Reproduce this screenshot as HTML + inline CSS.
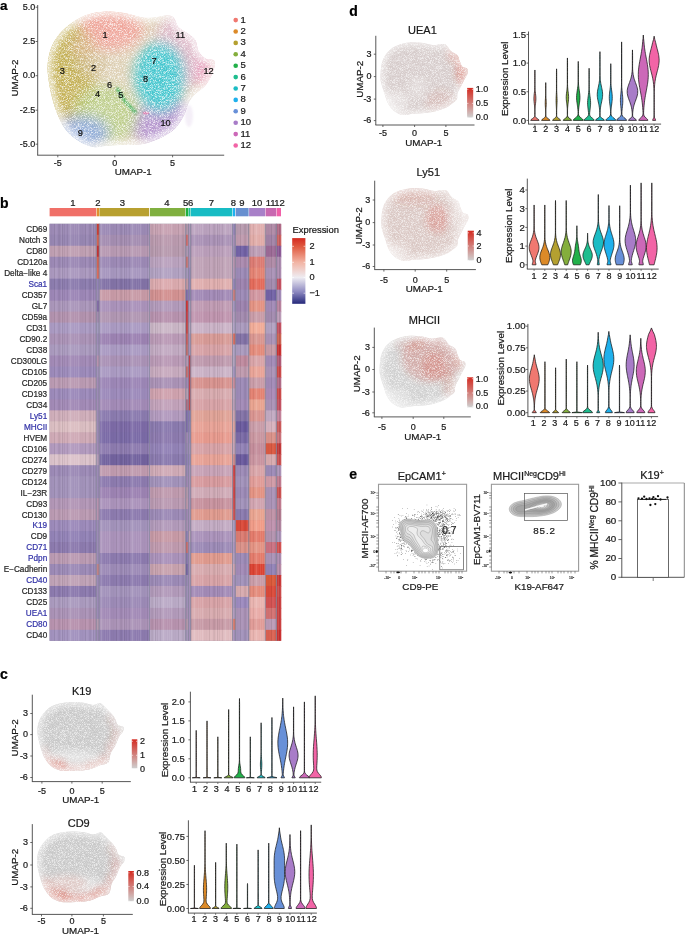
<!DOCTYPE html>
<html><head><meta charset="utf-8"><title>Figure</title>
<style>
html,body{margin:0;padding:0;background:#fff;}
body{width:685px;height:934px;overflow:hidden;}
svg{display:block;font-family:"Liberation Sans", sans-serif;will-change:transform;}
</style></head><body>
<svg width="685" height="934" viewBox="0 0 685 934">
<defs>
<filter id="blur6" x="-50%" y="-50%" width="200%" height="200%"><feGaussianBlur stdDeviation="6"/></filter>
<filter id="blur3" x="-50%" y="-50%" width="200%" height="200%"><feGaussianBlur stdDeviation="3"/></filter>
<filter id="blur1" x="-50%" y="-50%" width="200%" height="200%"><feGaussianBlur stdDeviation="0.8"/></filter>
<filter id="speck" x="0" y="0" width="100%" height="100%" filterUnits="userSpaceOnUse">
 <feTurbulence type="fractalNoise" baseFrequency="1.5" numOctaves="1" seed="7" result="n"/>
 <feColorMatrix in="n" type="matrix" values="0 0 0 0 0  0 0 0 0 0  0 0 0 0 0  4 0 0 0 -1.7" result="m"/>
 <feComposite in="SourceGraphic" in2="m" operator="in"/>
</filter>
<pattern id="stripes" width="31" height="10" patternUnits="userSpaceOnUse"><rect x="0.0" y="0" width="0.9" height="10" fill="#000" opacity="0.15"/><rect x="2.4" y="0" width="0.5" height="10" fill="#000" opacity="0.15"/><rect x="3.5" y="0" width="0.5" height="10" fill="#fff" opacity="0.11"/><rect x="5.0" y="0" width="0.7" height="10" fill="#000" opacity="0.12"/><rect x="6.7" y="0" width="0.5" height="10" fill="#fff" opacity="0.19"/><rect x="7.7" y="0" width="1.2" height="10" fill="#fff" opacity="0.29"/><rect x="9.3" y="0" width="1.2" height="10" fill="#fff" opacity="0.12"/><rect x="12.1" y="0" width="0.5" height="10" fill="#fff" opacity="0.29"/><rect x="14.1" y="0" width="0.7" height="10" fill="#fff" opacity="0.16"/><rect x="16.4" y="0" width="0.7" height="10" fill="#fff" opacity="0.33"/><rect x="18.3" y="0" width="1.2" height="10" fill="#000" opacity="0.05"/><rect x="20.3" y="0" width="0.7" height="10" fill="#000" opacity="0.06"/><rect x="21.7" y="0" width="0.5" height="10" fill="#000" opacity="0.06"/><rect x="23.0" y="0" width="0.9" height="10" fill="#000" opacity="0.14"/><rect x="24.4" y="0" width="1.2" height="10" fill="#fff" opacity="0.10"/><rect x="27.2" y="0" width="0.5" height="10" fill="#000" opacity="0.16"/><rect x="28.0" y="0" width="1.2" height="10" fill="#000" opacity="0.10"/><rect x="30.6" y="0" width="1.2" height="10" fill="#fff" opacity="0.27"/></pattern>
<linearGradient id="hmleg" x1="0" y1="0" x2="0" y2="1">
 <stop offset="0" stop-color="#d42a20"/>
 <stop offset="0.13" stop-color="#e05a40"/>
 <stop offset="0.37" stop-color="#f2b4a4"/>
 <stop offset="0.6" stop-color="#eeecf2"/>
 <stop offset="0.82" stop-color="#8c88c0"/>
 <stop offset="1" stop-color="#25287a"/>
</linearGradient>
<linearGradient id="fleg" x1="0" y1="0" x2="0" y2="1">
 <stop offset="0" stop-color="#d42a20"/>
 <stop offset="1" stop-color="#cfcfcf"/>
</linearGradient>
</defs>
<rect width="685" height="934" fill="#fff"/>
<text x="0" y="9.8" font-size="13.5" text-anchor="start" fill="#000" font-weight="bold" stroke="#000" stroke-width="0.22">a</text>
<clipPath id="clipA"><path d="M47.7,72C47.28,66.17 47.78,62.33 48.5,58C49.22,53.67 50.42,49.67 52,46C53.58,42.33 55.67,39.08 58,36C60.33,32.92 62.4,30.5 66,27.5C69.6,24.5 75.02,20.42 79.6,18C84.18,15.58 88.43,14.08 93.5,13C98.57,11.92 104.45,11.42 110,11.5C115.55,11.58 121.3,12.5 126.8,13.5C132.3,14.5 137.97,16.92 143,17.5C148.03,18.08 152.95,17.37 157,17C161.05,16.63 164.5,15.18 167.3,15.3C170.1,15.42 171.92,15.7 173.8,17.7C175.68,19.7 176.2,24.62 178.6,27.3C181,29.98 185.4,31.65 188.2,33.8C191,35.95 193.65,37.27 195.4,40.2C197.15,43.13 196.95,48.32 198.7,51.4C200.45,54.48 203.37,57.22 205.9,58.7C208.43,60.18 212.5,58.83 213.9,60.3C215.3,61.77 214.83,64.7 214.3,67.5C213.77,70.3 212.37,73.88 210.7,77.1C209.03,80.32 206.98,83.85 204.3,86.8C201.62,89.75 197.23,92.1 194.6,94.8C191.97,97.5 190.1,99.97 188.5,103C186.9,106.03 186.42,109.83 185,113C183.58,116.17 182.15,119 180,122C177.85,125 176.08,128.03 172.1,131C168.12,133.97 161.45,137.53 156.1,139.8C150.75,142.07 146.02,143.73 140,144.6C133.98,145.47 125.83,144.77 120,145C114.17,145.23 109.42,145.67 105,146C100.58,146.33 97.73,147.75 93.5,147C89.27,146.25 84.18,144.33 79.6,141.5C75.02,138.67 69.77,134.75 66,130C62.23,125.25 59.5,119.17 57,113C54.5,106.83 52.55,99.83 51,93C49.45,86.17 48.12,77.83 47.7,72Z"/></clipPath>
<g clip-path="url(#clipA)">
<path d="M47.7,72C47.28,66.17 47.78,62.33 48.5,58C49.22,53.67 50.42,49.67 52,46C53.58,42.33 55.67,39.08 58,36C60.33,32.92 62.4,30.5 66,27.5C69.6,24.5 75.02,20.42 79.6,18C84.18,15.58 88.43,14.08 93.5,13C98.57,11.92 104.45,11.42 110,11.5C115.55,11.58 121.3,12.5 126.8,13.5C132.3,14.5 137.97,16.92 143,17.5C148.03,18.08 152.95,17.37 157,17C161.05,16.63 164.5,15.18 167.3,15.3C170.1,15.42 171.92,15.7 173.8,17.7C175.68,19.7 176.2,24.62 178.6,27.3C181,29.98 185.4,31.65 188.2,33.8C191,35.95 193.65,37.27 195.4,40.2C197.15,43.13 196.95,48.32 198.7,51.4C200.45,54.48 203.37,57.22 205.9,58.7C208.43,60.18 212.5,58.83 213.9,60.3C215.3,61.77 214.83,64.7 214.3,67.5C213.77,70.3 212.37,73.88 210.7,77.1C209.03,80.32 206.98,83.85 204.3,86.8C201.62,89.75 197.23,92.1 194.6,94.8C191.97,97.5 190.1,99.97 188.5,103C186.9,106.03 186.42,109.83 185,113C183.58,116.17 182.15,119 180,122C177.85,125 176.08,128.03 172.1,131C168.12,133.97 161.45,137.53 156.1,139.8C150.75,142.07 146.02,143.73 140,144.6C133.98,145.47 125.83,144.77 120,145C114.17,145.23 109.42,145.67 105,146C100.58,146.33 97.73,147.75 93.5,147C89.27,146.25 84.18,144.33 79.6,141.5C75.02,138.67 69.77,134.75 66,130C62.23,125.25 59.5,119.17 57,113C54.5,106.83 52.55,99.83 51,93C49.45,86.17 48.12,77.83 47.7,72Z" fill="#d8c8a8"/>
<g filter="url(#blur6)">
<ellipse cx="182" cy="50" rx="28" ry="40" fill="#d898cc" opacity="0.6"/>
<ellipse cx="207" cy="72" rx="11" ry="17" fill="#f07cb0" opacity="0.6"/>
<ellipse cx="168" cy="125" rx="36" ry="25" fill="#a47cc8" opacity="0.92"/>
<ellipse cx="110" cy="29" rx="34" ry="21" fill="#f08a80" opacity="0.85"/>
<ellipse cx="66" cy="74" rx="30" ry="54" fill="#b8a030" opacity="1.0"/>
<ellipse cx="93" cy="64" rx="14" ry="12" fill="#c8b080" opacity="0.8"/>
<ellipse cx="84" cy="46" rx="13" ry="11" fill="#d4a878" opacity="0.8"/>
<ellipse cx="106" cy="114" rx="33" ry="29" fill="#a6c468" opacity="0.78"/>
<ellipse cx="82" cy="133" rx="27" ry="17" fill="#7898dc" opacity="0.88"/>
<ellipse cx="160" cy="77" rx="26" ry="36" fill="#22bcc6" opacity="1.0"/>
</g>
<path d="M117,88 L124,100 L136,113" stroke="#16a040" stroke-width="2.8" fill="none" opacity="0.9" filter="url(#blur1)"/>
<ellipse cx="146" cy="113" rx="3" ry="1.5" fill="#e0609c" opacity="0.8"/>
<path d="M47.7,72C47.28,66.17 47.78,62.33 48.5,58C49.22,53.67 50.42,49.67 52,46C53.58,42.33 55.67,39.08 58,36C60.33,32.92 62.4,30.5 66,27.5C69.6,24.5 75.02,20.42 79.6,18C84.18,15.58 88.43,14.08 93.5,13C98.57,11.92 104.45,11.42 110,11.5C115.55,11.58 121.3,12.5 126.8,13.5C132.3,14.5 137.97,16.92 143,17.5C148.03,18.08 152.95,17.37 157,17C161.05,16.63 164.5,15.18 167.3,15.3C170.1,15.42 171.92,15.7 173.8,17.7C175.68,19.7 176.2,24.62 178.6,27.3C181,29.98 185.4,31.65 188.2,33.8C191,35.95 193.65,37.27 195.4,40.2C197.15,43.13 196.95,48.32 198.7,51.4C200.45,54.48 203.37,57.22 205.9,58.7C208.43,60.18 212.5,58.83 213.9,60.3C215.3,61.77 214.83,64.7 214.3,67.5C213.77,70.3 212.37,73.88 210.7,77.1C209.03,80.32 206.98,83.85 204.3,86.8C201.62,89.75 197.23,92.1 194.6,94.8C191.97,97.5 190.1,99.97 188.5,103C186.9,106.03 186.42,109.83 185,113C183.58,116.17 182.15,119 180,122C177.85,125 176.08,128.03 172.1,131C168.12,133.97 161.45,137.53 156.1,139.8C150.75,142.07 146.02,143.73 140,144.6C133.98,145.47 125.83,144.77 120,145C114.17,145.23 109.42,145.67 105,146C100.58,146.33 97.73,147.75 93.5,147C89.27,146.25 84.18,144.33 79.6,141.5C75.02,138.67 69.77,134.75 66,130C62.23,125.25 59.5,119.17 57,113C54.5,106.83 52.55,99.83 51,93C49.45,86.17 48.12,77.83 47.7,72Z" fill="#fff" opacity="0.17"/>
<path d="M47.7,72C47.28,66.17 47.78,62.33 48.5,58C49.22,53.67 50.42,49.67 52,46C53.58,42.33 55.67,39.08 58,36C60.33,32.92 62.4,30.5 66,27.5C69.6,24.5 75.02,20.42 79.6,18C84.18,15.58 88.43,14.08 93.5,13C98.57,11.92 104.45,11.42 110,11.5C115.55,11.58 121.3,12.5 126.8,13.5C132.3,14.5 137.97,16.92 143,17.5C148.03,18.08 152.95,17.37 157,17C161.05,16.63 164.5,15.18 167.3,15.3C170.1,15.42 171.92,15.7 173.8,17.7C175.68,19.7 176.2,24.62 178.6,27.3C181,29.98 185.4,31.65 188.2,33.8C191,35.95 193.65,37.27 195.4,40.2C197.15,43.13 196.95,48.32 198.7,51.4C200.45,54.48 203.37,57.22 205.9,58.7C208.43,60.18 212.5,58.83 213.9,60.3C215.3,61.77 214.83,64.7 214.3,67.5C213.77,70.3 212.37,73.88 210.7,77.1C209.03,80.32 206.98,83.85 204.3,86.8C201.62,89.75 197.23,92.1 194.6,94.8C191.97,97.5 190.1,99.97 188.5,103C186.9,106.03 186.42,109.83 185,113C183.58,116.17 182.15,119 180,122C177.85,125 176.08,128.03 172.1,131C168.12,133.97 161.45,137.53 156.1,139.8C150.75,142.07 146.02,143.73 140,144.6C133.98,145.47 125.83,144.77 120,145C114.17,145.23 109.42,145.67 105,146C100.58,146.33 97.73,147.75 93.5,147C89.27,146.25 84.18,144.33 79.6,141.5C75.02,138.67 69.77,134.75 66,130C62.23,125.25 59.5,119.17 57,113C54.5,106.83 52.55,99.83 51,93C49.45,86.17 48.12,77.83 47.7,72Z" fill="none" stroke="#fff" stroke-width="9" opacity="0.7" filter="url(#blur3)"/>
</g>
<ellipse cx="189" cy="116" rx="4" ry="11" fill="#c8a8d8" opacity="0.18" filter="url(#blur1)"/>
<path d="M47.7,72C47.28,66.17 47.78,62.33 48.5,58C49.22,53.67 50.42,49.67 52,46C53.58,42.33 55.67,39.08 58,36C60.33,32.92 62.4,30.5 66,27.5C69.6,24.5 75.02,20.42 79.6,18C84.18,15.58 88.43,14.08 93.5,13C98.57,11.92 104.45,11.42 110,11.5C115.55,11.58 121.3,12.5 126.8,13.5C132.3,14.5 137.97,16.92 143,17.5C148.03,18.08 152.95,17.37 157,17C161.05,16.63 164.5,15.18 167.3,15.3C170.1,15.42 171.92,15.7 173.8,17.7C175.68,19.7 176.2,24.62 178.6,27.3C181,29.98 185.4,31.65 188.2,33.8C191,35.95 193.65,37.27 195.4,40.2C197.15,43.13 196.95,48.32 198.7,51.4C200.45,54.48 203.37,57.22 205.9,58.7C208.43,60.18 212.5,58.83 213.9,60.3C215.3,61.77 214.83,64.7 214.3,67.5C213.77,70.3 212.37,73.88 210.7,77.1C209.03,80.32 206.98,83.85 204.3,86.8C201.62,89.75 197.23,92.1 194.6,94.8C191.97,97.5 190.1,99.97 188.5,103C186.9,106.03 186.42,109.83 185,113C183.58,116.17 182.15,119 180,122C177.85,125 176.08,128.03 172.1,131C168.12,133.97 161.45,137.53 156.1,139.8C150.75,142.07 146.02,143.73 140,144.6C133.98,145.47 125.83,144.77 120,145C114.17,145.23 109.42,145.67 105,146C100.58,146.33 97.73,147.75 93.5,147C89.27,146.25 84.18,144.33 79.6,141.5C75.02,138.67 69.77,134.75 66,130C62.23,125.25 59.5,119.17 57,113C54.5,106.83 52.55,99.83 51,93C49.45,86.17 48.12,77.83 47.7,72Z" fill="#fff" filter="url(#speck)" opacity="0.7"/>
<text x="105.1" y="38.3" font-size="9.2" text-anchor="middle" fill="#111" stroke="#111" stroke-width="0.22">1</text>
<text x="93.5" y="70.8" font-size="9.2" text-anchor="middle" fill="#111" stroke="#111" stroke-width="0.22">2</text>
<text x="62.4" y="74.4" font-size="9.2" text-anchor="middle" fill="#111" stroke="#111" stroke-width="0.22">3</text>
<text x="97.6" y="97.1" font-size="9.2" text-anchor="middle" fill="#111" stroke="#111" stroke-width="0.22">4</text>
<text x="120.7" y="97.9" font-size="9.2" text-anchor="middle" fill="#111" stroke="#111" stroke-width="0.22">5</text>
<text x="109.6" y="88.2" font-size="9.2" text-anchor="middle" fill="#111" stroke="#111" stroke-width="0.22">6</text>
<text x="154" y="64.4" font-size="9.2" text-anchor="middle" fill="#111" stroke="#111" stroke-width="0.22">7</text>
<text x="145.6" y="81.9" font-size="9.2" text-anchor="middle" fill="#111" stroke="#111" stroke-width="0.22">8</text>
<text x="80.4" y="135.9" font-size="9.2" text-anchor="middle" fill="#111" stroke="#111" stroke-width="0.22">9</text>
<text x="165.6" y="125.7" font-size="9.2" text-anchor="middle" fill="#111" stroke="#111" stroke-width="0.22">10</text>
<text x="180.3" y="38" font-size="9.2" text-anchor="middle" fill="#111" stroke="#111" stroke-width="0.22">11</text>
<text x="208.6" y="73.5" font-size="9.2" text-anchor="middle" fill="#111" stroke="#111" stroke-width="0.22">12</text>
<line x1="37.7" y1="5" x2="37.7" y2="155.2" stroke="#444" stroke-width="0.9"/>
<line x1="37.2" y1="155.2" x2="224.2" y2="155.2" stroke="#444" stroke-width="0.9"/>
<line x1="35.6" y1="7.2" x2="37.7" y2="7.2" stroke="#444" stroke-width="0.8"/>
<text x="35.2" y="9.9" font-size="9" text-anchor="end" fill="#1a1a1a" stroke="#1a1a1a" stroke-width="0.22">5.0</text>
<line x1="35.6" y1="41.5" x2="37.7" y2="41.5" stroke="#444" stroke-width="0.8"/>
<text x="35.2" y="44.2" font-size="9" text-anchor="end" fill="#1a1a1a" stroke="#1a1a1a" stroke-width="0.22">2.5</text>
<line x1="35.6" y1="75.7" x2="37.7" y2="75.7" stroke="#444" stroke-width="0.8"/>
<text x="35.2" y="78.4" font-size="9" text-anchor="end" fill="#1a1a1a" stroke="#1a1a1a" stroke-width="0.22">0.0</text>
<line x1="35.6" y1="110.2" x2="37.7" y2="110.2" stroke="#444" stroke-width="0.8"/>
<text x="35.2" y="112.9" font-size="9" text-anchor="end" fill="#1a1a1a" stroke="#1a1a1a" stroke-width="0.22">-2.5</text>
<line x1="35.6" y1="144.2" x2="37.7" y2="144.2" stroke="#444" stroke-width="0.8"/>
<text x="35.2" y="146.9" font-size="9" text-anchor="end" fill="#1a1a1a" stroke="#1a1a1a" stroke-width="0.22">-5.0</text>
<line x1="57.8" y1="155.2" x2="57.8" y2="157.3" stroke="#444" stroke-width="0.8"/>
<text x="57.8" y="166.2" font-size="9" text-anchor="middle" fill="#1a1a1a" stroke="#1a1a1a" stroke-width="0.22">-5</text>
<line x1="114.8" y1="155.2" x2="114.8" y2="157.3" stroke="#444" stroke-width="0.8"/>
<text x="114.8" y="166.2" font-size="9" text-anchor="middle" fill="#1a1a1a" stroke="#1a1a1a" stroke-width="0.22">0</text>
<line x1="172.6" y1="155.2" x2="172.6" y2="157.3" stroke="#444" stroke-width="0.8"/>
<text x="172.6" y="166.2" font-size="9" text-anchor="middle" fill="#1a1a1a" stroke="#1a1a1a" stroke-width="0.22">5</text>
<text x="133.2" y="174.8" font-size="9.8" text-anchor="middle" fill="#1a1a1a" stroke="#1a1a1a" stroke-width="0.22">UMAP-1</text>
<text x="17.5" y="78" font-size="9.8" text-anchor="middle" fill="#1a1a1a" transform="rotate(-90 17.5 78)" stroke="#1a1a1a" stroke-width="0.22">UMAP-2</text>
<circle cx="235.7" cy="20.1" r="2.3" fill="#f07870"/>
<text x="240.4" y="22.6" font-size="9.5" text-anchor="start" fill="#1a1a1a" stroke="#1a1a1a" stroke-width="0.22">1</text>
<circle cx="235.7" cy="31.5" r="2.3" fill="#dc8a28"/>
<text x="240.4" y="34" font-size="9.5" text-anchor="start" fill="#1a1a1a" stroke="#1a1a1a" stroke-width="0.22">2</text>
<circle cx="235.7" cy="42.9" r="2.3" fill="#b4a030"/>
<text x="240.4" y="45.4" font-size="9.5" text-anchor="start" fill="#1a1a1a" stroke="#1a1a1a" stroke-width="0.22">3</text>
<circle cx="235.7" cy="54.3" r="2.3" fill="#84ae3c"/>
<text x="240.4" y="56.8" font-size="9.5" text-anchor="start" fill="#1a1a1a" stroke="#1a1a1a" stroke-width="0.22">4</text>
<circle cx="235.7" cy="65.7" r="2.3" fill="#22b04a"/>
<text x="240.4" y="68.2" font-size="9.5" text-anchor="start" fill="#1a1a1a" stroke="#1a1a1a" stroke-width="0.22">5</text>
<circle cx="235.7" cy="77.1" r="2.3" fill="#1ebd8e"/>
<text x="240.4" y="79.6" font-size="9.5" text-anchor="start" fill="#1a1a1a" stroke="#1a1a1a" stroke-width="0.22">6</text>
<circle cx="235.7" cy="88.5" r="2.3" fill="#1bbcc4"/>
<text x="240.4" y="91" font-size="9.5" text-anchor="start" fill="#1a1a1a" stroke="#1a1a1a" stroke-width="0.22">7</text>
<circle cx="235.7" cy="99.9" r="2.3" fill="#1fb0ec"/>
<text x="240.4" y="102.4" font-size="9.5" text-anchor="start" fill="#1a1a1a" stroke="#1a1a1a" stroke-width="0.22">8</text>
<circle cx="235.7" cy="111.3" r="2.3" fill="#6890d8"/>
<text x="240.4" y="113.8" font-size="9.5" text-anchor="start" fill="#1a1a1a" stroke="#1a1a1a" stroke-width="0.22">9</text>
<circle cx="235.7" cy="122.7" r="2.3" fill="#a87cc8"/>
<text x="240.4" y="125.2" font-size="9.5" text-anchor="start" fill="#1a1a1a" stroke="#1a1a1a" stroke-width="0.22">10</text>
<circle cx="235.7" cy="134.1" r="2.3" fill="#cc68b8"/>
<text x="240.4" y="136.6" font-size="9.5" text-anchor="start" fill="#1a1a1a" stroke="#1a1a1a" stroke-width="0.22">11</text>
<circle cx="235.7" cy="145.5" r="2.3" fill="#f264a6"/>
<text x="240.4" y="148" font-size="9.5" text-anchor="start" fill="#1a1a1a" stroke="#1a1a1a" stroke-width="0.22">12</text>
<text x="0" y="208.4" font-size="14" text-anchor="start" fill="#000" font-weight="bold" stroke="#000" stroke-width="0.22">b</text>
<rect x="49.6" y="208" width="46.5" height="8.3" fill="#f07068"/>
<rect x="96.6" y="208" width="2.4" height="8.3" fill="#e09030"/>
<rect x="99.4" y="208" width="49.8" height="8.3" fill="#b8a030"/>
<rect x="150" y="208" width="35.3" height="8.3" fill="#80b040"/>
<rect x="185.8" y="208" width="2.4" height="8.3" fill="#20b040"/>
<rect x="188.5" y="208" width="1.9" height="8.3" fill="#20c090"/>
<rect x="190.8" y="208" width="41.5" height="8.3" fill="#18bcc4"/>
<rect x="232.8" y="208" width="2.2" height="8.3" fill="#20b0f0"/>
<rect x="235.6" y="208" width="13" height="8.3" fill="#6890d0"/>
<rect x="249.1" y="208" width="15.9" height="8.3" fill="#a880c8"/>
<rect x="265.5" y="208" width="10.7" height="8.3" fill="#c868b0"/>
<rect x="276.6" y="208" width="4.4" height="8.3" fill="#f060a8"/>
<text x="72.9" y="205.9" font-size="9.5" text-anchor="middle" fill="#1a1a1a" stroke="#1a1a1a" stroke-width="0.22">1</text>
<text x="97.8" y="205.9" font-size="9.5" text-anchor="middle" fill="#1a1a1a" stroke="#1a1a1a" stroke-width="0.22">2</text>
<text x="122.5" y="205.9" font-size="9.5" text-anchor="middle" fill="#1a1a1a" stroke="#1a1a1a" stroke-width="0.22">3</text>
<text x="166.8" y="205.9" font-size="9.5" text-anchor="middle" fill="#1a1a1a" stroke="#1a1a1a" stroke-width="0.22">4</text>
<text x="185.6" y="205.9" font-size="9.5" text-anchor="middle" fill="#1a1a1a" stroke="#1a1a1a" stroke-width="0.22">5</text>
<text x="190.6" y="205.9" font-size="9.5" text-anchor="middle" fill="#1a1a1a" stroke="#1a1a1a" stroke-width="0.22">6</text>
<text x="211.5" y="205.9" font-size="9.5" text-anchor="middle" fill="#1a1a1a" stroke="#1a1a1a" stroke-width="0.22">7</text>
<text x="233.4" y="205.9" font-size="9.5" text-anchor="middle" fill="#1a1a1a" stroke="#1a1a1a" stroke-width="0.22">8</text>
<text x="242" y="205.9" font-size="9.5" text-anchor="middle" fill="#1a1a1a" stroke="#1a1a1a" stroke-width="0.22">9</text>
<text x="257" y="205.9" font-size="9.5" text-anchor="middle" fill="#1a1a1a" stroke="#1a1a1a" stroke-width="0.22">10</text>
<text x="270.6" y="205.9" font-size="9.5" text-anchor="middle" fill="#1a1a1a" stroke="#1a1a1a" stroke-width="0.22">11</text>
<text x="279.6" y="205.9" font-size="9.5" text-anchor="middle" fill="#1a1a1a" stroke="#1a1a1a" stroke-width="0.22">12</text>
<rect x="49.6" y="223.8" width="231.4" height="417.01" fill="#8e8c9c"/>
<rect x="49.6" y="223.8" width="47.3" height="11.57" fill="#9d8bb6"/>
<rect x="96.6" y="223.8" width="3.1" height="11.57" fill="#cb3c32"/>
<rect x="99.4" y="223.8" width="50.9" height="11.57" fill="#9d8bb6"/>
<rect x="150" y="223.8" width="36.1" height="11.57" fill="#c8a3b3"/>
<rect x="185.8" y="223.8" width="3" height="11.57" fill="#b89baf"/>
<rect x="188.5" y="223.8" width="2.6" height="11.57" fill="#ab93b7"/>
<rect x="190.8" y="223.8" width="42.3" height="11.57" fill="#bba3bf"/>
<rect x="232.8" y="223.8" width="3.1" height="11.57" fill="#8d7baf"/>
<rect x="235.6" y="223.8" width="13.8" height="11.57" fill="#b89baf"/>
<rect x="249.1" y="223.8" width="16.7" height="11.57" fill="#e0afaf"/>
<rect x="265.5" y="223.8" width="11.4" height="11.57" fill="#b08ba7"/>
<rect x="276.6" y="223.8" width="4.7" height="11.57" fill="#b06b87"/>
<text x="47.2" y="232.19" font-size="8.2" text-anchor="end" fill="#2a2a2a" stroke="#2a2a2a" stroke-width="0.22">CD69</text>
<rect x="49.6" y="234.77" width="47.3" height="11.57" fill="#9887b3"/>
<rect x="96.6" y="234.77" width="3.1" height="11.57" fill="#d36252"/>
<rect x="99.4" y="234.77" width="50.9" height="11.57" fill="#a58eb2"/>
<rect x="150" y="234.77" width="36.1" height="11.57" fill="#bb9baf"/>
<rect x="185.8" y="234.77" width="3" height="11.57" fill="#d37272"/>
<rect x="188.5" y="234.77" width="2.6" height="11.57" fill="#ab93b7"/>
<rect x="190.8" y="234.77" width="42.3" height="11.57" fill="#ab93b7"/>
<rect x="232.8" y="234.77" width="3.1" height="11.57" fill="#9d83af"/>
<rect x="235.6" y="234.77" width="13.8" height="11.57" fill="#c09baf"/>
<rect x="249.1" y="234.77" width="16.7" height="11.57" fill="#e0aba7"/>
<rect x="265.5" y="234.77" width="11.4" height="11.57" fill="#a383a7"/>
<rect x="276.6" y="234.77" width="4.7" height="11.57" fill="#cb6262"/>
<text x="47.2" y="243.16" font-size="8.2" text-anchor="end" fill="#2a2a2a" stroke="#2a2a2a" stroke-width="0.22">Notch 3</text>
<rect x="49.6" y="245.75" width="47.3" height="11.57" fill="#c0a0b3"/>
<rect x="96.6" y="245.75" width="3.1" height="11.57" fill="#c33232"/>
<rect x="99.4" y="245.75" width="50.9" height="11.57" fill="#b89ab3"/>
<rect x="150" y="245.75" width="36.1" height="11.57" fill="#b89baf"/>
<rect x="185.8" y="245.75" width="3" height="11.57" fill="#b39bb7"/>
<rect x="188.5" y="245.75" width="2.6" height="11.57" fill="#a38bb7"/>
<rect x="190.8" y="245.75" width="42.3" height="11.57" fill="#bb9fbb"/>
<rect x="232.8" y="245.75" width="3.1" height="11.57" fill="#9383af"/>
<rect x="235.6" y="245.75" width="13.8" height="11.57" fill="#7363a7"/>
<rect x="249.1" y="245.75" width="16.7" height="11.57" fill="#bb9bb3"/>
<rect x="265.5" y="245.75" width="11.4" height="11.57" fill="#9d6b97"/>
<rect x="276.6" y="245.75" width="4.7" height="11.57" fill="#8d5b97"/>
<text x="47.2" y="254.14" font-size="8.2" text-anchor="end" fill="#2a2a2a" stroke="#2a2a2a" stroke-width="0.22">CD80</text>
<rect x="49.6" y="256.72" width="47.3" height="11.57" fill="#9d8ab6"/>
<rect x="96.6" y="256.72" width="3.1" height="11.57" fill="#d36252"/>
<rect x="99.4" y="256.72" width="50.9" height="11.57" fill="#9d8ab6"/>
<rect x="150" y="256.72" width="36.1" height="11.57" fill="#bba3bf"/>
<rect x="185.8" y="256.72" width="3" height="11.57" fill="#cb7a7a"/>
<rect x="188.5" y="256.72" width="2.6" height="11.57" fill="#a38bb7"/>
<rect x="190.8" y="256.72" width="42.3" height="11.57" fill="#c0a3b7"/>
<rect x="232.8" y="256.72" width="3.1" height="11.57" fill="#b08ba7"/>
<rect x="235.6" y="256.72" width="13.8" height="11.57" fill="#ab8baf"/>
<rect x="249.1" y="256.72" width="16.7" height="11.57" fill="#db7a72"/>
<rect x="265.5" y="256.72" width="11.4" height="11.57" fill="#b08ba7"/>
<rect x="276.6" y="256.72" width="4.7" height="11.57" fill="#ab8baf"/>
<text x="47.2" y="265.11" font-size="8.2" text-anchor="end" fill="#2a2a2a" stroke="#2a2a2a" stroke-width="0.22">CD120a</text>
<rect x="49.6" y="267.7" width="47.3" height="11.57" fill="#ab99bf"/>
<rect x="96.6" y="267.7" width="3.1" height="11.57" fill="#db6c5c"/>
<rect x="99.4" y="267.7" width="50.9" height="11.57" fill="#a797bf"/>
<rect x="150" y="267.7" width="36.1" height="11.57" fill="#b3a3c3"/>
<rect x="185.8" y="267.7" width="3" height="11.57" fill="#ab9bbf"/>
<rect x="188.5" y="267.7" width="2.6" height="11.57" fill="#9383b7"/>
<rect x="190.8" y="267.7" width="42.3" height="11.57" fill="#c0a3b7"/>
<rect x="232.8" y="267.7" width="3.1" height="11.57" fill="#ab8baf"/>
<rect x="235.6" y="267.7" width="13.8" height="11.57" fill="#9d8bb7"/>
<rect x="249.1" y="267.7" width="16.7" height="11.57" fill="#e38272"/>
<rect x="265.5" y="267.7" width="11.4" height="11.57" fill="#ab93b7"/>
<rect x="276.6" y="267.7" width="4.7" height="11.57" fill="#ab8baf"/>
<text x="47.2" y="276.08" font-size="8.2" text-anchor="end" fill="#2a2a2a" stroke="#2a2a2a" stroke-width="0.22">Delta−like 4</text>
<rect x="49.6" y="278.67" width="47.3" height="11.57" fill="#8d7daf"/>
<rect x="96.6" y="278.67" width="3.1" height="11.57" fill="#9383b7"/>
<rect x="99.4" y="278.67" width="50.9" height="11.57" fill="#8373a7"/>
<rect x="150" y="278.67" width="36.1" height="11.57" fill="#dcabaf"/>
<rect x="185.8" y="278.67" width="3" height="11.57" fill="#c89ba7"/>
<rect x="188.5" y="278.67" width="2.6" height="11.57" fill="#9383b7"/>
<rect x="190.8" y="278.67" width="42.3" height="11.57" fill="#e0afaf"/>
<rect x="232.8" y="278.67" width="3.1" height="11.57" fill="#8b7baf"/>
<rect x="235.6" y="278.67" width="13.8" height="11.57" fill="#9d83af"/>
<rect x="249.1" y="278.67" width="16.7" height="11.57" fill="#e36a5a"/>
<rect x="265.5" y="278.67" width="11.4" height="11.57" fill="#a38baf"/>
<rect x="276.6" y="278.67" width="4.7" height="11.57" fill="#c35262"/>
<text x="47.2" y="287.06" font-size="8.2" text-anchor="end" fill="#3535a8" stroke="#3535a8" stroke-width="0.22">Sca1</text>
<rect x="49.6" y="289.64" width="47.3" height="11.57" fill="#9d87b7"/>
<rect x="96.6" y="289.64" width="3.1" height="11.57" fill="#9d8bb7"/>
<rect x="99.4" y="289.64" width="50.9" height="11.57" fill="#c89ba7"/>
<rect x="150" y="289.64" width="36.1" height="11.57" fill="#d39292"/>
<rect x="185.8" y="289.64" width="3" height="11.57" fill="#8373af"/>
<rect x="188.5" y="289.64" width="2.6" height="11.57" fill="#8373af"/>
<rect x="190.8" y="289.64" width="42.3" height="11.57" fill="#a38bb7"/>
<rect x="232.8" y="289.64" width="3.1" height="11.57" fill="#c37272"/>
<rect x="235.6" y="289.64" width="13.8" height="11.57" fill="#9d8bb7"/>
<rect x="249.1" y="289.64" width="16.7" height="11.57" fill="#d0959f"/>
<rect x="265.5" y="289.64" width="11.4" height="11.57" fill="#7363a7"/>
<rect x="276.6" y="289.64" width="4.7" height="11.57" fill="#a38bb7"/>
<text x="47.2" y="298.03" font-size="8.2" text-anchor="end" fill="#2a2a2a" stroke="#2a2a2a" stroke-width="0.22">CD357</text>
<rect x="49.6" y="300.62" width="47.3" height="11.57" fill="#ab97bb"/>
<rect x="96.6" y="300.62" width="3.1" height="11.57" fill="#836ba7"/>
<rect x="99.4" y="300.62" width="50.9" height="11.57" fill="#ab93bb"/>
<rect x="150" y="300.62" width="36.1" height="11.57" fill="#b39bbb"/>
<rect x="185.8" y="300.62" width="3" height="11.57" fill="#d33a3a"/>
<rect x="188.5" y="300.62" width="2.6" height="11.57" fill="#ab93b7"/>
<rect x="190.8" y="300.62" width="42.3" height="11.57" fill="#c09bb3"/>
<rect x="232.8" y="300.62" width="3.1" height="11.57" fill="#9d8bb7"/>
<rect x="235.6" y="300.62" width="13.8" height="11.57" fill="#9d83af"/>
<rect x="249.1" y="300.62" width="16.7" height="11.57" fill="#e39282"/>
<rect x="265.5" y="300.62" width="11.4" height="11.57" fill="#a38bb7"/>
<rect x="276.6" y="300.62" width="4.7" height="11.57" fill="#b8839f"/>
<text x="47.2" y="309" font-size="8.2" text-anchor="end" fill="#2a2a2a" stroke="#2a2a2a" stroke-width="0.22">GL7</text>
<rect x="49.6" y="311.59" width="47.3" height="11.57" fill="#b393af"/>
<rect x="96.6" y="311.59" width="3.1" height="11.57" fill="#a38baf"/>
<rect x="99.4" y="311.59" width="50.9" height="11.57" fill="#b197b3"/>
<rect x="150" y="311.59" width="36.1" height="11.57" fill="#b893af"/>
<rect x="185.8" y="311.59" width="3" height="11.57" fill="#cb424a"/>
<rect x="188.5" y="311.59" width="2.6" height="11.57" fill="#a38bb7"/>
<rect x="190.8" y="311.59" width="42.3" height="11.57" fill="#c095af"/>
<rect x="232.8" y="311.59" width="3.1" height="11.57" fill="#ab93b7"/>
<rect x="235.6" y="311.59" width="13.8" height="11.57" fill="#a38baf"/>
<rect x="249.1" y="311.59" width="16.7" height="11.57" fill="#c89ba7"/>
<rect x="265.5" y="311.59" width="11.4" height="11.57" fill="#a38baf"/>
<rect x="276.6" y="311.59" width="4.7" height="11.57" fill="#bb9bb7"/>
<text x="47.2" y="319.98" font-size="8.2" text-anchor="end" fill="#2a2a2a" stroke="#2a2a2a" stroke-width="0.22">CD59a</text>
<rect x="49.6" y="322.57" width="47.3" height="11.57" fill="#ab9bc3"/>
<rect x="96.6" y="322.57" width="3.1" height="11.57" fill="#a39bbf"/>
<rect x="99.4" y="322.57" width="50.9" height="11.57" fill="#ab9bc3"/>
<rect x="150" y="322.57" width="36.1" height="11.57" fill="#cbb7c7"/>
<rect x="185.8" y="322.57" width="3" height="11.57" fill="#cb4a4a"/>
<rect x="188.5" y="322.57" width="2.6" height="11.57" fill="#b39bb7"/>
<rect x="190.8" y="322.57" width="42.3" height="11.57" fill="#cbb3c7"/>
<rect x="232.8" y="322.57" width="3.1" height="11.57" fill="#ab9bbf"/>
<rect x="235.6" y="322.57" width="13.8" height="11.57" fill="#ab9bbf"/>
<rect x="249.1" y="322.57" width="16.7" height="11.57" fill="#f0ab97"/>
<rect x="265.5" y="322.57" width="11.4" height="11.57" fill="#b3a3c3"/>
<rect x="276.6" y="322.57" width="4.7" height="11.57" fill="#c35262"/>
<text x="47.2" y="330.95" font-size="8.2" text-anchor="end" fill="#2a2a2a" stroke="#2a2a2a" stroke-width="0.22">CD31</text>
<rect x="49.6" y="333.54" width="47.3" height="11.57" fill="#ab93b7"/>
<rect x="96.6" y="333.54" width="3.1" height="11.57" fill="#9d8bb7"/>
<rect x="99.4" y="333.54" width="50.9" height="11.57" fill="#9d83b3"/>
<rect x="150" y="333.54" width="36.1" height="11.57" fill="#bb9bb7"/>
<rect x="185.8" y="333.54" width="3" height="11.57" fill="#cb6262"/>
<rect x="188.5" y="333.54" width="2.6" height="11.57" fill="#a38bb7"/>
<rect x="190.8" y="333.54" width="42.3" height="11.57" fill="#d89b97"/>
<rect x="232.8" y="333.54" width="3.1" height="11.57" fill="#d36252"/>
<rect x="235.6" y="333.54" width="13.8" height="11.57" fill="#8373a7"/>
<rect x="249.1" y="333.54" width="16.7" height="11.57" fill="#d8958f"/>
<rect x="265.5" y="333.54" width="11.4" height="11.57" fill="#ab93b7"/>
<rect x="276.6" y="333.54" width="4.7" height="11.57" fill="#cb6252"/>
<text x="47.2" y="341.93" font-size="8.2" text-anchor="end" fill="#2a2a2a" stroke="#2a2a2a" stroke-width="0.22">CD90.2</text>
<rect x="49.6" y="344.51" width="47.3" height="11.57" fill="#ab9bbf"/>
<rect x="96.6" y="344.51" width="3.1" height="11.57" fill="#a393bb"/>
<rect x="99.4" y="344.51" width="50.9" height="11.57" fill="#ab9bc3"/>
<rect x="150" y="344.51" width="36.1" height="11.57" fill="#c3abc3"/>
<rect x="185.8" y="344.51" width="3" height="11.57" fill="#c37272"/>
<rect x="188.5" y="344.51" width="2.6" height="11.57" fill="#a38bb7"/>
<rect x="190.8" y="344.51" width="42.3" height="11.57" fill="#d8a3a7"/>
<rect x="232.8" y="344.51" width="3.1" height="11.57" fill="#ab9bbf"/>
<rect x="235.6" y="344.51" width="13.8" height="11.57" fill="#ab9bbf"/>
<rect x="249.1" y="344.51" width="16.7" height="11.57" fill="#e38a7a"/>
<rect x="265.5" y="344.51" width="11.4" height="11.57" fill="#c89ba7"/>
<rect x="276.6" y="344.51" width="4.7" height="11.57" fill="#cb3232"/>
<text x="47.2" y="352.9" font-size="8.2" text-anchor="end" fill="#2a2a2a" stroke="#2a2a2a" stroke-width="0.22">CD38</text>
<rect x="49.6" y="355.49" width="47.3" height="11.57" fill="#a38bb7"/>
<rect x="96.6" y="355.49" width="3.1" height="11.57" fill="#b893af"/>
<rect x="99.4" y="355.49" width="50.9" height="11.57" fill="#ab93b7"/>
<rect x="150" y="355.49" width="36.1" height="11.57" fill="#bb9bb7"/>
<rect x="185.8" y="355.49" width="3" height="11.57" fill="#bb9bb7"/>
<rect x="188.5" y="355.49" width="2.6" height="11.57" fill="#c03b47"/>
<rect x="190.8" y="355.49" width="42.3" height="11.57" fill="#c09baf"/>
<rect x="232.8" y="355.49" width="3.1" height="11.57" fill="#ab9bb7"/>
<rect x="235.6" y="355.49" width="13.8" height="11.57" fill="#c08b9f"/>
<rect x="249.1" y="355.49" width="16.7" height="11.57" fill="#d8a3a7"/>
<rect x="265.5" y="355.49" width="11.4" height="11.57" fill="#a38bb7"/>
<rect x="276.6" y="355.49" width="4.7" height="11.57" fill="#b05b77"/>
<text x="47.2" y="363.88" font-size="8.2" text-anchor="end" fill="#2a2a2a" stroke="#2a2a2a" stroke-width="0.22">CD300LG</text>
<rect x="49.6" y="366.46" width="47.3" height="11.57" fill="#9d8bbb"/>
<rect x="96.6" y="366.46" width="3.1" height="11.57" fill="#a393bb"/>
<rect x="99.4" y="366.46" width="50.9" height="11.57" fill="#ab9bc3"/>
<rect x="150" y="366.46" width="36.1" height="11.57" fill="#c8abbf"/>
<rect x="185.8" y="366.46" width="3" height="11.57" fill="#cb7272"/>
<rect x="188.5" y="366.46" width="2.6" height="11.57" fill="#c03b47"/>
<rect x="190.8" y="366.46" width="42.3" height="11.57" fill="#cbb3c7"/>
<rect x="232.8" y="366.46" width="3.1" height="11.57" fill="#9d8bb7"/>
<rect x="235.6" y="366.46" width="13.8" height="11.57" fill="#c09baf"/>
<rect x="249.1" y="366.46" width="16.7" height="11.57" fill="#e8a397"/>
<rect x="265.5" y="366.46" width="11.4" height="11.57" fill="#ab93b7"/>
<rect x="276.6" y="366.46" width="4.7" height="11.57" fill="#cb4a4a"/>
<text x="47.2" y="374.85" font-size="8.2" text-anchor="end" fill="#2a2a2a" stroke="#2a2a2a" stroke-width="0.22">CD105</text>
<rect x="49.6" y="377.44" width="47.3" height="11.57" fill="#bb9bb3"/>
<rect x="96.6" y="377.44" width="3.1" height="11.57" fill="#a38bb7"/>
<rect x="99.4" y="377.44" width="50.9" height="11.57" fill="#9d87b7"/>
<rect x="150" y="377.44" width="36.1" height="11.57" fill="#ab93b7"/>
<rect x="185.8" y="377.44" width="3" height="11.57" fill="#a38bb7"/>
<rect x="188.5" y="377.44" width="2.6" height="11.57" fill="#c03b47"/>
<rect x="190.8" y="377.44" width="42.3" height="11.57" fill="#d8938f"/>
<rect x="232.8" y="377.44" width="3.1" height="11.57" fill="#c38292"/>
<rect x="235.6" y="377.44" width="13.8" height="11.57" fill="#9d8bb7"/>
<rect x="249.1" y="377.44" width="16.7" height="11.57" fill="#c89ba7"/>
<rect x="265.5" y="377.44" width="11.4" height="11.57" fill="#a38bb7"/>
<rect x="276.6" y="377.44" width="4.7" height="11.57" fill="#b06b87"/>
<text x="47.2" y="385.82" font-size="8.2" text-anchor="end" fill="#2a2a2a" stroke="#2a2a2a" stroke-width="0.22">CD205</text>
<rect x="49.6" y="388.41" width="47.3" height="11.57" fill="#9d8bbb"/>
<rect x="96.6" y="388.41" width="3.1" height="11.57" fill="#9d8bb7"/>
<rect x="99.4" y="388.41" width="50.9" height="11.57" fill="#9d8bbb"/>
<rect x="150" y="388.41" width="36.1" height="11.57" fill="#d0a3af"/>
<rect x="185.8" y="388.41" width="3" height="11.57" fill="#bba3b7"/>
<rect x="188.5" y="388.41" width="2.6" height="11.57" fill="#c03b47"/>
<rect x="190.8" y="388.41" width="42.3" height="11.57" fill="#d8abaf"/>
<rect x="232.8" y="388.41" width="3.1" height="11.57" fill="#b39bb7"/>
<rect x="235.6" y="388.41" width="13.8" height="11.57" fill="#9d8bb7"/>
<rect x="249.1" y="388.41" width="16.7" height="11.57" fill="#e38272"/>
<rect x="265.5" y="388.41" width="11.4" height="11.57" fill="#ab8bb7"/>
<rect x="276.6" y="388.41" width="4.7" height="11.57" fill="#cb4a4a"/>
<text x="47.2" y="396.8" font-size="8.2" text-anchor="end" fill="#2a2a2a" stroke="#2a2a2a" stroke-width="0.22">CD193</text>
<rect x="49.6" y="399.38" width="47.3" height="11.57" fill="#a38bb7"/>
<rect x="96.6" y="399.38" width="3.1" height="11.57" fill="#a38bb7"/>
<rect x="99.4" y="399.38" width="50.9" height="11.57" fill="#a38bb7"/>
<rect x="150" y="399.38" width="36.1" height="11.57" fill="#c3a3bb"/>
<rect x="185.8" y="399.38" width="3" height="11.57" fill="#b07387"/>
<rect x="188.5" y="399.38" width="2.6" height="11.57" fill="#c04347"/>
<rect x="190.8" y="399.38" width="42.3" height="11.57" fill="#d8a3a7"/>
<rect x="232.8" y="399.38" width="3.1" height="11.57" fill="#b395af"/>
<rect x="235.6" y="399.38" width="13.8" height="11.57" fill="#a38bb7"/>
<rect x="249.1" y="399.38" width="16.7" height="11.57" fill="#e8a38f"/>
<rect x="265.5" y="399.38" width="11.4" height="11.57" fill="#ab93b7"/>
<rect x="276.6" y="399.38" width="4.7" height="11.57" fill="#c35262"/>
<text x="47.2" y="407.77" font-size="8.2" text-anchor="end" fill="#2a2a2a" stroke="#2a2a2a" stroke-width="0.22">CD34</text>
<rect x="49.6" y="410.36" width="47.3" height="11.57" fill="#d0afbb"/>
<rect x="96.6" y="410.36" width="3.1" height="11.57" fill="#9d8bb7"/>
<rect x="99.4" y="410.36" width="50.9" height="11.57" fill="#8b7baf"/>
<rect x="150" y="410.36" width="36.1" height="11.57" fill="#b39bbf"/>
<rect x="185.8" y="410.36" width="3" height="11.57" fill="#8373af"/>
<rect x="188.5" y="410.36" width="2.6" height="11.57" fill="#8373af"/>
<rect x="190.8" y="410.36" width="42.3" height="11.57" fill="#e0a397"/>
<rect x="232.8" y="410.36" width="3.1" height="11.57" fill="#c89ba7"/>
<rect x="235.6" y="410.36" width="13.8" height="11.57" fill="#8373a7"/>
<rect x="249.1" y="410.36" width="16.7" height="11.57" fill="#d8938f"/>
<rect x="265.5" y="410.36" width="11.4" height="11.57" fill="#c3abc3"/>
<rect x="276.6" y="410.36" width="4.7" height="11.57" fill="#c3829a"/>
<text x="47.2" y="418.75" font-size="8.2" text-anchor="end" fill="#3535a8" stroke="#3535a8" stroke-width="0.22">Ly51</text>
<rect x="49.6" y="421.33" width="47.3" height="11.57" fill="#dcbfc3"/>
<rect x="96.6" y="421.33" width="3.1" height="11.57" fill="#9d8bb7"/>
<rect x="99.4" y="421.33" width="50.9" height="11.57" fill="#7d6ba7"/>
<rect x="150" y="421.33" width="36.1" height="11.57" fill="#8b7baf"/>
<rect x="185.8" y="421.33" width="3" height="11.57" fill="#8373af"/>
<rect x="188.5" y="421.33" width="2.6" height="11.57" fill="#8b7baf"/>
<rect x="190.8" y="421.33" width="42.3" height="11.57" fill="#e8a397"/>
<rect x="232.8" y="421.33" width="3.1" height="11.57" fill="#d89b97"/>
<rect x="235.6" y="421.33" width="13.8" height="11.57" fill="#6b5b9f"/>
<rect x="249.1" y="421.33" width="16.7" height="11.57" fill="#c89ba7"/>
<rect x="265.5" y="421.33" width="11.4" height="11.57" fill="#d8b3bf"/>
<rect x="276.6" y="421.33" width="4.7" height="11.57" fill="#cb5a5a"/>
<text x="47.2" y="429.72" font-size="8.2" text-anchor="end" fill="#3535a8" stroke="#3535a8" stroke-width="0.22">MHCII</text>
<rect x="49.6" y="432.31" width="47.3" height="11.57" fill="#d0abb7"/>
<rect x="96.6" y="432.31" width="3.1" height="11.57" fill="#9d8bb7"/>
<rect x="99.4" y="432.31" width="50.9" height="11.57" fill="#7b6ba7"/>
<rect x="150" y="432.31" width="36.1" height="11.57" fill="#8d7baf"/>
<rect x="185.8" y="432.31" width="3" height="11.57" fill="#a38bb7"/>
<rect x="188.5" y="432.31" width="2.6" height="11.57" fill="#9383b7"/>
<rect x="190.8" y="432.31" width="42.3" height="11.57" fill="#e89b8f"/>
<rect x="232.8" y="432.31" width="3.1" height="11.57" fill="#c89ba7"/>
<rect x="235.6" y="432.31" width="13.8" height="11.57" fill="#7b6ba7"/>
<rect x="249.1" y="432.31" width="16.7" height="11.57" fill="#c8959f"/>
<rect x="265.5" y="432.31" width="11.4" height="11.57" fill="#db928a"/>
<rect x="276.6" y="432.31" width="4.7" height="11.57" fill="#cb727a"/>
<text x="47.2" y="440.69" font-size="8.2" text-anchor="end" fill="#2a2a2a" stroke="#2a2a2a" stroke-width="0.22">HVEM</text>
<rect x="49.6" y="443.28" width="47.3" height="11.57" fill="#b39bbf"/>
<rect x="96.6" y="443.28" width="3.1" height="11.57" fill="#a38bb7"/>
<rect x="99.4" y="443.28" width="50.9" height="11.57" fill="#8d7baf"/>
<rect x="150" y="443.28" width="36.1" height="11.57" fill="#9383b7"/>
<rect x="185.8" y="443.28" width="3" height="11.57" fill="#9d8bb7"/>
<rect x="188.5" y="443.28" width="2.6" height="11.57" fill="#9d8bb7"/>
<rect x="190.8" y="443.28" width="42.3" height="11.57" fill="#d8a3a7"/>
<rect x="232.8" y="443.28" width="3.1" height="11.57" fill="#c09baf"/>
<rect x="235.6" y="443.28" width="13.8" height="11.57" fill="#9383b7"/>
<rect x="249.1" y="443.28" width="16.7" height="11.57" fill="#c38c9a"/>
<rect x="265.5" y="443.28" width="11.4" height="11.57" fill="#db5a42"/>
<rect x="276.6" y="443.28" width="4.7" height="11.57" fill="#c33a3a"/>
<text x="47.2" y="451.67" font-size="8.2" text-anchor="end" fill="#2a2a2a" stroke="#2a2a2a" stroke-width="0.22">CD106</text>
<rect x="49.6" y="454.25" width="47.3" height="11.57" fill="#dcc3cb"/>
<rect x="96.6" y="454.25" width="3.1" height="11.57" fill="#b39bb7"/>
<rect x="99.4" y="454.25" width="50.9" height="11.57" fill="#73639f"/>
<rect x="150" y="454.25" width="36.1" height="11.57" fill="#8b7baf"/>
<rect x="185.8" y="454.25" width="3" height="11.57" fill="#9383b7"/>
<rect x="188.5" y="454.25" width="2.6" height="11.57" fill="#9383b7"/>
<rect x="190.8" y="454.25" width="42.3" height="11.57" fill="#e8a397"/>
<rect x="232.8" y="454.25" width="3.1" height="11.57" fill="#cb8282"/>
<rect x="235.6" y="454.25" width="13.8" height="11.57" fill="#6b5b9f"/>
<rect x="249.1" y="454.25" width="16.7" height="11.57" fill="#c8939f"/>
<rect x="265.5" y="454.25" width="11.4" height="11.57" fill="#d8abaf"/>
<rect x="276.6" y="454.25" width="4.7" height="11.57" fill="#cb5252"/>
<text x="47.2" y="462.64" font-size="8.2" text-anchor="end" fill="#2a2a2a" stroke="#2a2a2a" stroke-width="0.22">CD274</text>
<rect x="49.6" y="465.23" width="47.3" height="11.57" fill="#9d8bb7"/>
<rect x="96.6" y="465.23" width="3.1" height="11.57" fill="#9d8bb7"/>
<rect x="99.4" y="465.23" width="50.9" height="11.57" fill="#c09baf"/>
<rect x="150" y="465.23" width="36.1" height="11.57" fill="#d0abb7"/>
<rect x="185.8" y="465.23" width="3" height="11.57" fill="#9d8bb7"/>
<rect x="188.5" y="465.23" width="2.6" height="11.57" fill="#a38bb7"/>
<rect x="190.8" y="465.23" width="42.3" height="11.57" fill="#c8a3b7"/>
<rect x="232.8" y="465.23" width="3.1" height="11.57" fill="#cb3232"/>
<rect x="235.6" y="465.23" width="13.8" height="11.57" fill="#9d8bb7"/>
<rect x="249.1" y="465.23" width="16.7" height="11.57" fill="#d8a3a7"/>
<rect x="265.5" y="465.23" width="11.4" height="11.57" fill="#9d8bb7"/>
<rect x="276.6" y="465.23" width="4.7" height="11.57" fill="#ab93b7"/>
<text x="47.2" y="473.62" font-size="8.2" text-anchor="end" fill="#2a2a2a" stroke="#2a2a2a" stroke-width="0.22">CD279</text>
<rect x="49.6" y="476.2" width="47.3" height="11.57" fill="#a393bb"/>
<rect x="96.6" y="476.2" width="3.1" height="11.57" fill="#9d8bb7"/>
<rect x="99.4" y="476.2" width="50.9" height="11.57" fill="#8d7baf"/>
<rect x="150" y="476.2" width="36.1" height="11.57" fill="#a393bb"/>
<rect x="185.8" y="476.2" width="3" height="11.57" fill="#a38bb7"/>
<rect x="188.5" y="476.2" width="2.6" height="11.57" fill="#a38bb7"/>
<rect x="190.8" y="476.2" width="42.3" height="11.57" fill="#d89b9f"/>
<rect x="232.8" y="476.2" width="3.1" height="11.57" fill="#cb3a3a"/>
<rect x="235.6" y="476.2" width="13.8" height="11.57" fill="#a393bb"/>
<rect x="249.1" y="476.2" width="16.7" height="11.57" fill="#e09b97"/>
<rect x="265.5" y="476.2" width="11.4" height="11.57" fill="#d09ba7"/>
<rect x="276.6" y="476.2" width="4.7" height="11.57" fill="#c07b8f"/>
<text x="47.2" y="484.59" font-size="8.2" text-anchor="end" fill="#2a2a2a" stroke="#2a2a2a" stroke-width="0.22">CD124</text>
<rect x="49.6" y="487.18" width="47.3" height="11.57" fill="#a393bb"/>
<rect x="96.6" y="487.18" width="3.1" height="11.57" fill="#9d8bb7"/>
<rect x="99.4" y="487.18" width="50.9" height="11.57" fill="#9d83b3"/>
<rect x="150" y="487.18" width="36.1" height="11.57" fill="#c09baf"/>
<rect x="185.8" y="487.18" width="3" height="11.57" fill="#b89baf"/>
<rect x="188.5" y="487.18" width="2.6" height="11.57" fill="#a38bb7"/>
<rect x="190.8" y="487.18" width="42.3" height="11.57" fill="#d0abb7"/>
<rect x="232.8" y="487.18" width="3.1" height="11.57" fill="#cb3232"/>
<rect x="235.6" y="487.18" width="13.8" height="11.57" fill="#9d8bb7"/>
<rect x="249.1" y="487.18" width="16.7" height="11.57" fill="#e39282"/>
<rect x="265.5" y="487.18" width="11.4" height="11.57" fill="#ab93b7"/>
<rect x="276.6" y="487.18" width="4.7" height="11.57" fill="#cb5252"/>
<text x="47.2" y="495.56" font-size="8.2" text-anchor="end" fill="#2a2a2a" stroke="#2a2a2a" stroke-width="0.22">IL−23R</text>
<rect x="49.6" y="498.15" width="47.3" height="11.57" fill="#b397b7"/>
<rect x="96.6" y="498.15" width="3.1" height="11.57" fill="#b893af"/>
<rect x="99.4" y="498.15" width="50.9" height="11.57" fill="#ab93bb"/>
<rect x="150" y="498.15" width="36.1" height="11.57" fill="#bb9bb3"/>
<rect x="185.8" y="498.15" width="3" height="11.57" fill="#c09baf"/>
<rect x="188.5" y="498.15" width="2.6" height="11.57" fill="#a38bb7"/>
<rect x="190.8" y="498.15" width="42.3" height="11.57" fill="#c8939f"/>
<rect x="232.8" y="498.15" width="3.1" height="11.57" fill="#cb3a3a"/>
<rect x="235.6" y="498.15" width="13.8" height="11.57" fill="#a393bb"/>
<rect x="249.1" y="498.15" width="16.7" height="11.57" fill="#d0a3af"/>
<rect x="265.5" y="498.15" width="11.4" height="11.57" fill="#ab93b7"/>
<rect x="276.6" y="498.15" width="4.7" height="11.57" fill="#c07b8f"/>
<text x="47.2" y="506.54" font-size="8.2" text-anchor="end" fill="#2a2a2a" stroke="#2a2a2a" stroke-width="0.22">CD93</text>
<rect x="49.6" y="509.12" width="47.3" height="11.57" fill="#bb9bb3"/>
<rect x="96.6" y="509.12" width="3.1" height="11.57" fill="#b893af"/>
<rect x="99.4" y="509.12" width="50.9" height="11.57" fill="#8d7baf"/>
<rect x="150" y="509.12" width="36.1" height="11.57" fill="#9d8bb7"/>
<rect x="185.8" y="509.12" width="3" height="11.57" fill="#a38bb7"/>
<rect x="188.5" y="509.12" width="2.6" height="11.57" fill="#a38bb7"/>
<rect x="190.8" y="509.12" width="42.3" height="11.57" fill="#e09b8f"/>
<rect x="232.8" y="509.12" width="3.1" height="11.57" fill="#cb4242"/>
<rect x="235.6" y="509.12" width="13.8" height="11.57" fill="#8b7baf"/>
<rect x="249.1" y="509.12" width="16.7" height="11.57" fill="#e8a38f"/>
<rect x="265.5" y="509.12" width="11.4" height="11.57" fill="#c093a7"/>
<rect x="276.6" y="509.12" width="4.7" height="11.57" fill="#b07b8f"/>
<text x="47.2" y="517.51" font-size="8.2" text-anchor="end" fill="#2a2a2a" stroke="#2a2a2a" stroke-width="0.22">CD130</text>
<rect x="49.6" y="520.1" width="47.3" height="11.57" fill="#9d8bbb"/>
<rect x="96.6" y="520.1" width="3.1" height="11.57" fill="#9d8bb7"/>
<rect x="99.4" y="520.1" width="50.9" height="11.57" fill="#a393bb"/>
<rect x="150" y="520.1" width="36.1" height="11.57" fill="#b39bbb"/>
<rect x="185.8" y="520.1" width="3" height="11.57" fill="#ab93b7"/>
<rect x="188.5" y="520.1" width="2.6" height="11.57" fill="#a38bb7"/>
<rect x="190.8" y="520.1" width="42.3" height="11.57" fill="#c3abc3"/>
<rect x="232.8" y="520.1" width="3.1" height="11.57" fill="#a393b7"/>
<rect x="235.6" y="520.1" width="13.8" height="11.57" fill="#db4a3a"/>
<rect x="249.1" y="520.1" width="16.7" height="11.57" fill="#f09b87"/>
<rect x="265.5" y="520.1" width="11.4" height="11.57" fill="#c093af"/>
<rect x="276.6" y="520.1" width="4.7" height="11.57" fill="#b0859f"/>
<text x="47.2" y="528.48" font-size="8.2" text-anchor="end" fill="#3535a8" stroke="#3535a8" stroke-width="0.22">K19</text>
<rect x="49.6" y="531.07" width="47.3" height="11.57" fill="#9383b7"/>
<rect x="96.6" y="531.07" width="3.1" height="11.57" fill="#9d8bb7"/>
<rect x="99.4" y="531.07" width="50.9" height="11.57" fill="#ab93bb"/>
<rect x="150" y="531.07" width="36.1" height="11.57" fill="#c89ba7"/>
<rect x="185.8" y="531.07" width="3" height="11.57" fill="#9383b7"/>
<rect x="188.5" y="531.07" width="2.6" height="11.57" fill="#c09baf"/>
<rect x="190.8" y="531.07" width="42.3" height="11.57" fill="#ab93bb"/>
<rect x="232.8" y="531.07" width="3.1" height="11.57" fill="#ab93b7"/>
<rect x="235.6" y="531.07" width="13.8" height="11.57" fill="#db7c72"/>
<rect x="249.1" y="531.07" width="16.7" height="11.57" fill="#e37a6a"/>
<rect x="265.5" y="531.07" width="11.4" height="11.57" fill="#b393af"/>
<rect x="276.6" y="531.07" width="4.7" height="11.57" fill="#ab93b7"/>
<text x="47.2" y="539.46" font-size="8.2" text-anchor="end" fill="#2a2a2a" stroke="#2a2a2a" stroke-width="0.22">CD9</text>
<rect x="49.6" y="542.05" width="47.3" height="11.57" fill="#8d7baf"/>
<rect x="96.6" y="542.05" width="3.1" height="11.57" fill="#9d8bb7"/>
<rect x="99.4" y="542.05" width="50.9" height="11.57" fill="#ab93bb"/>
<rect x="150" y="542.05" width="36.1" height="11.57" fill="#c09baf"/>
<rect x="185.8" y="542.05" width="3" height="11.57" fill="#cb7272"/>
<rect x="188.5" y="542.05" width="2.6" height="11.57" fill="#a38bb7"/>
<rect x="190.8" y="542.05" width="42.3" height="11.57" fill="#9d8bb7"/>
<rect x="232.8" y="542.05" width="3.1" height="11.57" fill="#a38bb7"/>
<rect x="235.6" y="542.05" width="13.8" height="11.57" fill="#db928a"/>
<rect x="249.1" y="542.05" width="16.7" height="11.57" fill="#e39282"/>
<rect x="265.5" y="542.05" width="11.4" height="11.57" fill="#cb7282"/>
<rect x="276.6" y="542.05" width="4.7" height="11.57" fill="#d35252"/>
<text x="47.2" y="550.43" font-size="8.2" text-anchor="end" fill="#3535a8" stroke="#3535a8" stroke-width="0.22">CD71</text>
<rect x="49.6" y="553.02" width="47.3" height="11.57" fill="#bb9bb3"/>
<rect x="96.6" y="553.02" width="3.1" height="11.57" fill="#9d8bb7"/>
<rect x="99.4" y="553.02" width="50.9" height="11.57" fill="#8d7baf"/>
<rect x="150" y="553.02" width="36.1" height="11.57" fill="#ab93bb"/>
<rect x="185.8" y="553.02" width="3" height="11.57" fill="#8d7baf"/>
<rect x="188.5" y="553.02" width="2.6" height="11.57" fill="#a38bb7"/>
<rect x="190.8" y="553.02" width="42.3" height="11.57" fill="#e09b8f"/>
<rect x="232.8" y="553.02" width="3.1" height="11.57" fill="#ab93b7"/>
<rect x="235.6" y="553.02" width="13.8" height="11.57" fill="#9d8bb7"/>
<rect x="249.1" y="553.02" width="16.7" height="11.57" fill="#e37a6a"/>
<rect x="265.5" y="553.02" width="11.4" height="11.57" fill="#ab93b7"/>
<rect x="276.6" y="553.02" width="4.7" height="11.57" fill="#ab8baf"/>
<text x="47.2" y="561.41" font-size="8.2" text-anchor="end" fill="#3535a8" stroke="#3535a8" stroke-width="0.22">Pdpn</text>
<rect x="49.6" y="563.99" width="47.3" height="11.57" fill="#9d8bb7"/>
<rect x="96.6" y="563.99" width="3.1" height="11.57" fill="#c08387"/>
<rect x="99.4" y="563.99" width="50.9" height="11.57" fill="#9d8bb7"/>
<rect x="150" y="563.99" width="36.1" height="11.57" fill="#c8a3af"/>
<rect x="185.8" y="563.99" width="3" height="11.57" fill="#7b6ba7"/>
<rect x="188.5" y="563.99" width="2.6" height="11.57" fill="#a38bb7"/>
<rect x="190.8" y="563.99" width="42.3" height="11.57" fill="#d8abaf"/>
<rect x="232.8" y="563.99" width="3.1" height="11.57" fill="#c89ba7"/>
<rect x="235.6" y="563.99" width="13.8" height="11.57" fill="#a38bb7"/>
<rect x="249.1" y="563.99" width="16.7" height="11.57" fill="#db4232"/>
<rect x="265.5" y="563.99" width="11.4" height="11.57" fill="#9383b7"/>
<rect x="276.6" y="563.99" width="4.7" height="11.57" fill="#b88ba7"/>
<text x="47.2" y="572.38" font-size="8.2" text-anchor="end" fill="#2a2a2a" stroke="#2a2a2a" stroke-width="0.22">E−Cadherin</text>
<rect x="49.6" y="574.97" width="47.3" height="11.57" fill="#c0a3b7"/>
<rect x="96.6" y="574.97" width="3.1" height="11.57" fill="#9d8bb7"/>
<rect x="99.4" y="574.97" width="50.9" height="11.57" fill="#8d7baf"/>
<rect x="150" y="574.97" width="36.1" height="11.57" fill="#9d8bb7"/>
<rect x="185.8" y="574.97" width="3" height="11.57" fill="#9d8bb7"/>
<rect x="188.5" y="574.97" width="2.6" height="11.57" fill="#a38bb7"/>
<rect x="190.8" y="574.97" width="42.3" height="11.57" fill="#d8a3a7"/>
<rect x="232.8" y="574.97" width="3.1" height="11.57" fill="#a38bb7"/>
<rect x="235.6" y="574.97" width="13.8" height="11.57" fill="#a393bb"/>
<rect x="249.1" y="574.97" width="16.7" height="11.57" fill="#c89ba7"/>
<rect x="265.5" y="574.97" width="11.4" height="11.57" fill="#db5a3a"/>
<rect x="276.6" y="574.97" width="4.7" height="11.57" fill="#cb3a3a"/>
<text x="47.2" y="583.36" font-size="8.2" text-anchor="end" fill="#3535a8" stroke="#3535a8" stroke-width="0.22">CD40</text>
<rect x="49.6" y="585.94" width="47.3" height="11.57" fill="#8d7baf"/>
<rect x="96.6" y="585.94" width="3.1" height="11.57" fill="#9d8bb7"/>
<rect x="99.4" y="585.94" width="50.9" height="11.57" fill="#a393bb"/>
<rect x="150" y="585.94" width="36.1" height="11.57" fill="#b39bbb"/>
<rect x="185.8" y="585.94" width="3" height="11.57" fill="#a393bb"/>
<rect x="188.5" y="585.94" width="2.6" height="11.57" fill="#a38bb7"/>
<rect x="190.8" y="585.94" width="42.3" height="11.57" fill="#a38bb7"/>
<rect x="232.8" y="585.94" width="3.1" height="11.57" fill="#a38bb7"/>
<rect x="235.6" y="585.94" width="13.8" height="11.57" fill="#d8abaf"/>
<rect x="249.1" y="585.94" width="16.7" height="11.57" fill="#e38a7a"/>
<rect x="265.5" y="585.94" width="11.4" height="11.57" fill="#db4a3a"/>
<rect x="276.6" y="585.94" width="4.7" height="11.57" fill="#cb4a4a"/>
<text x="47.2" y="594.33" font-size="8.2" text-anchor="end" fill="#2a2a2a" stroke="#2a2a2a" stroke-width="0.22">CD133</text>
<rect x="49.6" y="596.92" width="47.3" height="11.57" fill="#ab9bbf"/>
<rect x="96.6" y="596.92" width="3.1" height="11.57" fill="#9d8bb7"/>
<rect x="99.4" y="596.92" width="50.9" height="11.57" fill="#9d8bb7"/>
<rect x="150" y="596.92" width="36.1" height="11.57" fill="#bbabc7"/>
<rect x="185.8" y="596.92" width="3" height="11.57" fill="#a393bb"/>
<rect x="188.5" y="596.92" width="2.6" height="11.57" fill="#a38bb7"/>
<rect x="190.8" y="596.92" width="42.3" height="11.57" fill="#d8a3a7"/>
<rect x="232.8" y="596.92" width="3.1" height="11.57" fill="#9d8bb7"/>
<rect x="235.6" y="596.92" width="13.8" height="11.57" fill="#9d8bbf"/>
<rect x="249.1" y="596.92" width="16.7" height="11.57" fill="#e8b3af"/>
<rect x="265.5" y="596.92" width="11.4" height="11.57" fill="#d35252"/>
<rect x="276.6" y="596.92" width="4.7" height="11.57" fill="#cb4242"/>
<text x="47.2" y="605.3" font-size="8.2" text-anchor="end" fill="#2a2a2a" stroke="#2a2a2a" stroke-width="0.22">CD25</text>
<rect x="49.6" y="607.89" width="47.3" height="11.57" fill="#ab93b7"/>
<rect x="96.6" y="607.89" width="3.1" height="11.57" fill="#9d8bb7"/>
<rect x="99.4" y="607.89" width="50.9" height="11.57" fill="#a38bb7"/>
<rect x="150" y="607.89" width="36.1" height="11.57" fill="#b39bbb"/>
<rect x="185.8" y="607.89" width="3" height="11.57" fill="#ab93b7"/>
<rect x="188.5" y="607.89" width="2.6" height="11.57" fill="#a38bb7"/>
<rect x="190.8" y="607.89" width="42.3" height="11.57" fill="#d8abaf"/>
<rect x="232.8" y="607.89" width="3.1" height="11.57" fill="#ab93b7"/>
<rect x="235.6" y="607.89" width="13.8" height="11.57" fill="#ab93b7"/>
<rect x="249.1" y="607.89" width="16.7" height="11.57" fill="#e8aba7"/>
<rect x="265.5" y="607.89" width="11.4" height="11.57" fill="#d37272"/>
<rect x="276.6" y="607.89" width="4.7" height="11.57" fill="#cb4242"/>
<text x="47.2" y="616.28" font-size="8.2" text-anchor="end" fill="#3535a8" stroke="#3535a8" stroke-width="0.22">UEA1</text>
<rect x="49.6" y="618.86" width="47.3" height="11.57" fill="#b893af"/>
<rect x="96.6" y="618.86" width="3.1" height="11.57" fill="#b39baf"/>
<rect x="99.4" y="618.86" width="50.9" height="11.57" fill="#ab93b7"/>
<rect x="150" y="618.86" width="36.1" height="11.57" fill="#b893af"/>
<rect x="185.8" y="618.86" width="3" height="11.57" fill="#b89baf"/>
<rect x="188.5" y="618.86" width="2.6" height="11.57" fill="#a38bb7"/>
<rect x="190.8" y="618.86" width="42.3" height="11.57" fill="#c89ba7"/>
<rect x="232.8" y="618.86" width="3.1" height="11.57" fill="#d37262"/>
<rect x="235.6" y="618.86" width="13.8" height="11.57" fill="#ab93b7"/>
<rect x="249.1" y="618.86" width="16.7" height="11.57" fill="#e09b97"/>
<rect x="265.5" y="618.86" width="11.4" height="11.57" fill="#bb9bb7"/>
<rect x="276.6" y="618.86" width="4.7" height="11.57" fill="#cb4242"/>
<text x="47.2" y="627.25" font-size="8.2" text-anchor="end" fill="#3535a8" stroke="#3535a8" stroke-width="0.22">CD80</text>
<rect x="49.6" y="629.84" width="47.3" height="10.97" fill="#a393bf"/>
<rect x="96.6" y="629.84" width="3.1" height="10.97" fill="#9d8bb7"/>
<rect x="99.4" y="629.84" width="50.9" height="10.97" fill="#8d7baf"/>
<rect x="150" y="629.84" width="36.1" height="10.97" fill="#bbabc7"/>
<rect x="185.8" y="629.84" width="3" height="10.97" fill="#ab9bbf"/>
<rect x="188.5" y="629.84" width="2.6" height="10.97" fill="#a38bb7"/>
<rect x="190.8" y="629.84" width="42.3" height="10.97" fill="#e0bbbf"/>
<rect x="232.8" y="629.84" width="3.1" height="10.97" fill="#a38bb7"/>
<rect x="235.6" y="629.84" width="13.8" height="10.97" fill="#a393bb"/>
<rect x="249.1" y="629.84" width="16.7" height="10.97" fill="#e8b3af"/>
<rect x="265.5" y="629.84" width="11.4" height="10.97" fill="#db6252"/>
<rect x="276.6" y="629.84" width="4.7" height="10.97" fill="#cb3232"/>
<text x="47.2" y="638.22" font-size="8.2" text-anchor="end" fill="#2a2a2a" stroke="#2a2a2a" stroke-width="0.22">CD40</text>
<rect x="49.6" y="223.8" width="231.4" height="417.01" fill="url(#stripes)" opacity="0.6"/>
<line x1="96.35" y1="223.8" x2="96.35" y2="640.81" stroke="#86869a" stroke-width="0.8"/>
<line x1="99.2" y1="223.8" x2="99.2" y2="640.81" stroke="#86869a" stroke-width="0.8"/>
<line x1="149.6" y1="223.8" x2="149.6" y2="640.81" stroke="#86869a" stroke-width="0.8"/>
<line x1="185.55" y1="223.8" x2="185.55" y2="640.81" stroke="#86869a" stroke-width="0.8"/>
<line x1="188.35" y1="223.8" x2="188.35" y2="640.81" stroke="#86869a" stroke-width="0.8"/>
<line x1="190.6" y1="223.8" x2="190.6" y2="640.81" stroke="#86869a" stroke-width="0.8"/>
<line x1="232.55" y1="223.8" x2="232.55" y2="640.81" stroke="#86869a" stroke-width="0.8"/>
<line x1="235.3" y1="223.8" x2="235.3" y2="640.81" stroke="#86869a" stroke-width="0.8"/>
<line x1="248.85" y1="223.8" x2="248.85" y2="640.81" stroke="#86869a" stroke-width="0.8"/>
<line x1="265.25" y1="223.8" x2="265.25" y2="640.81" stroke="#86869a" stroke-width="0.8"/>
<line x1="276.4" y1="223.8" x2="276.4" y2="640.81" stroke="#86869a" stroke-width="0.8"/>
<text x="292.5" y="233" font-size="9.4" text-anchor="start" fill="#1a1a1a" stroke="#1a1a1a" stroke-width="0.22">Expression</text>
<rect x="292.2" y="238.1" width="13.2" height="65.7" fill="url(#hmleg)"/>
<line x1="292.2" y1="246.3" x2="294" y2="246.3" stroke="#fff" stroke-width="0.6"/>
<line x1="303.6" y1="246.3" x2="305.4" y2="246.3" stroke="#fff" stroke-width="0.6"/>
<text x="309.5" y="249" font-size="9.2" text-anchor="start" fill="#1a1a1a" stroke="#1a1a1a" stroke-width="0.22">2</text>
<line x1="292.2" y1="262.3" x2="294" y2="262.3" stroke="#fff" stroke-width="0.6"/>
<line x1="303.6" y1="262.3" x2="305.4" y2="262.3" stroke="#fff" stroke-width="0.6"/>
<text x="309.5" y="265" font-size="9.2" text-anchor="start" fill="#1a1a1a" stroke="#1a1a1a" stroke-width="0.22">1</text>
<line x1="292.2" y1="277.5" x2="294" y2="277.5" stroke="#fff" stroke-width="0.6"/>
<line x1="303.6" y1="277.5" x2="305.4" y2="277.5" stroke="#fff" stroke-width="0.6"/>
<text x="309.5" y="280.2" font-size="9.2" text-anchor="start" fill="#1a1a1a" stroke="#1a1a1a" stroke-width="0.22">0</text>
<line x1="292.2" y1="293.2" x2="294" y2="293.2" stroke="#fff" stroke-width="0.6"/>
<line x1="303.6" y1="293.2" x2="305.4" y2="293.2" stroke="#fff" stroke-width="0.6"/>
<text x="309.5" y="295.9" font-size="9.2" text-anchor="start" fill="#1a1a1a" stroke="#1a1a1a" stroke-width="0.22">−1</text>
<text x="0" y="679.4" font-size="14" text-anchor="start" fill="#000" font-weight="bold" stroke="#000" stroke-width="0.22">c</text>
<text x="349.2" y="16.3" font-size="14" text-anchor="start" fill="#000" font-weight="bold" stroke="#000" stroke-width="0.22">d</text>
<clipPath id="clipk19"><path d="M37.39,732.28C37.28,729.55 37.54,726.62 38.12,724.11C38.7,721.59 39.64,719.39 40.9,717.21C42.16,715.03 43.87,712.86 45.68,711.02C47.5,709.19 49.17,707.49 51.79,706.19C54.41,704.89 57.97,703.89 61.41,703.2C64.85,702.52 68.76,702.14 72.42,702.07C76.08,701.99 79.95,702.3 83.37,702.78C86.8,703.25 90.24,704.84 92.99,704.91C95.75,704.98 98.06,702.99 99.89,703.2C101.73,703.42 102.19,704.54 104,706.19C105.82,707.84 108.95,711.01 110.78,713.09C112.62,715.16 113.87,716.68 115.02,718.63C116.17,720.59 116.32,723.45 117.68,724.82C119.04,726.18 122.27,725.79 123.18,726.81C124.1,727.83 123.86,729.33 123.18,730.93C122.51,732.53 120.49,733.89 119.13,736.41C117.77,738.92 116.41,743.26 115.02,746C113.62,748.75 111.93,750.15 110.78,752.9C109.63,755.65 109.93,760.45 108.12,762.5C106.3,764.55 103.1,764.05 99.89,765.2C96.68,766.35 92.99,768.48 88.88,769.4C84.77,770.31 79.78,770.46 75.21,770.68C70.63,770.89 65.31,771.35 61.41,770.68C57.51,770 54.53,768.67 51.79,766.62C49.06,764.57 46.73,761.11 45.02,758.38C43.3,755.64 42.55,753.17 41.51,750.2C40.47,747.23 39.47,743.52 38.79,740.53C38.1,737.54 37.5,735.02 37.39,732.28Z"/></clipPath>
<path d="M37.39,732.28C37.28,729.55 37.54,726.62 38.12,724.11C38.7,721.59 39.64,719.39 40.9,717.21C42.16,715.03 43.87,712.86 45.68,711.02C47.5,709.19 49.17,707.49 51.79,706.19C54.41,704.89 57.97,703.89 61.41,703.2C64.85,702.52 68.76,702.14 72.42,702.07C76.08,701.99 79.95,702.3 83.37,702.78C86.8,703.25 90.24,704.84 92.99,704.91C95.75,704.98 98.06,702.99 99.89,703.2C101.73,703.42 102.19,704.54 104,706.19C105.82,707.84 108.95,711.01 110.78,713.09C112.62,715.16 113.87,716.68 115.02,718.63C116.17,720.59 116.32,723.45 117.68,724.82C119.04,726.18 122.27,725.79 123.18,726.81C124.1,727.83 123.86,729.33 123.18,730.93C122.51,732.53 120.49,733.89 119.13,736.41C117.77,738.92 116.41,743.26 115.02,746C113.62,748.75 111.93,750.15 110.78,752.9C109.63,755.65 109.93,760.45 108.12,762.5C106.3,764.55 103.1,764.05 99.89,765.2C96.68,766.35 92.99,768.48 88.88,769.4C84.77,770.31 79.78,770.46 75.21,770.68C70.63,770.89 65.31,771.35 61.41,770.68C57.51,770 54.53,768.67 51.79,766.62C49.06,764.57 46.73,761.11 45.02,758.38C43.3,755.64 42.55,753.17 41.51,750.2C40.47,747.23 39.47,743.52 38.79,740.53C38.1,737.54 37.5,735.02 37.39,732.28Z" fill="#c8c8c8"/>
<g clip-path="url(#clipk19)"><g filter="url(#blur3)">
<ellipse cx="72" cy="763.14" rx="36.3" ry="12.8" fill="#fff" opacity="0.45"/>
<ellipse cx="55.06" cy="765.27" rx="12.1" ry="7.11" fill="#d8402c" opacity="0.4"/>
<ellipse cx="67.16" cy="769.54" rx="9.68" ry="4.27" fill="#d8402c" opacity="0.3"/>
<ellipse cx="81.08" cy="769.54" rx="9.68" ry="4.27" fill="#d8402c" opacity="0.25"/>
<ellipse cx="93.78" cy="765.98" rx="8.47" ry="4.98" fill="#d8402c" opacity="0.28"/>
<ellipse cx="104.67" cy="760.3" rx="6.05" ry="6.4" fill="#d8402c" opacity="0.28"/>
<ellipse cx="111.93" cy="748.92" rx="4.84" ry="8.53" fill="#d8402c" opacity="0.25"/>
<ellipse cx="116.77" cy="734.7" rx="4.84" ry="8.53" fill="#d8402c" opacity="0.2"/>
<ellipse cx="113.14" cy="719.06" rx="4.84" ry="7.11" fill="#d8402c" opacity="0.15"/>
<ellipse cx="44.78" cy="756.03" rx="5.45" ry="8.53" fill="#d8402c" opacity="0.2"/>
</g>
<path d="M37.39,732.28C37.28,729.55 37.54,726.62 38.12,724.11C38.7,721.59 39.64,719.39 40.9,717.21C42.16,715.03 43.87,712.86 45.68,711.02C47.5,709.19 49.17,707.49 51.79,706.19C54.41,704.89 57.97,703.89 61.41,703.2C64.85,702.52 68.76,702.14 72.42,702.07C76.08,701.99 79.95,702.3 83.37,702.78C86.8,703.25 90.24,704.84 92.99,704.91C95.75,704.98 98.06,702.99 99.89,703.2C101.73,703.42 102.19,704.54 104,706.19C105.82,707.84 108.95,711.01 110.78,713.09C112.62,715.16 113.87,716.68 115.02,718.63C116.17,720.59 116.32,723.45 117.68,724.82C119.04,726.18 122.27,725.79 123.18,726.81C124.1,727.83 123.86,729.33 123.18,730.93C122.51,732.53 120.49,733.89 119.13,736.41C117.77,738.92 116.41,743.26 115.02,746C113.62,748.75 111.93,750.15 110.78,752.9C109.63,755.65 109.93,760.45 108.12,762.5C106.3,764.55 103.1,764.05 99.89,765.2C96.68,766.35 92.99,768.48 88.88,769.4C84.77,770.31 79.78,770.46 75.21,770.68C70.63,770.89 65.31,771.35 61.41,770.68C57.51,770 54.53,768.67 51.79,766.62C49.06,764.57 46.73,761.11 45.02,758.38C43.3,755.64 42.55,753.17 41.51,750.2C40.47,747.23 39.47,743.52 38.79,740.53C38.1,737.54 37.5,735.02 37.39,732.28Z" fill="none" stroke="#fff" stroke-width="6" opacity="0.7" filter="url(#blur3)"/>
</g>
<path d="M37.39,732.28C37.28,729.55 37.54,726.62 38.12,724.11C38.7,721.59 39.64,719.39 40.9,717.21C42.16,715.03 43.87,712.86 45.68,711.02C47.5,709.19 49.17,707.49 51.79,706.19C54.41,704.89 57.97,703.89 61.41,703.2C64.85,702.52 68.76,702.14 72.42,702.07C76.08,701.99 79.95,702.3 83.37,702.78C86.8,703.25 90.24,704.84 92.99,704.91C95.75,704.98 98.06,702.99 99.89,703.2C101.73,703.42 102.19,704.54 104,706.19C105.82,707.84 108.95,711.01 110.78,713.09C112.62,715.16 113.87,716.68 115.02,718.63C116.17,720.59 116.32,723.45 117.68,724.82C119.04,726.18 122.27,725.79 123.18,726.81C124.1,727.83 123.86,729.33 123.18,730.93C122.51,732.53 120.49,733.89 119.13,736.41C117.77,738.92 116.41,743.26 115.02,746C113.62,748.75 111.93,750.15 110.78,752.9C109.63,755.65 109.93,760.45 108.12,762.5C106.3,764.55 103.1,764.05 99.89,765.2C96.68,766.35 92.99,768.48 88.88,769.4C84.77,770.31 79.78,770.46 75.21,770.68C70.63,770.89 65.31,771.35 61.41,770.68C57.51,770 54.53,768.67 51.79,766.62C49.06,764.57 46.73,761.11 45.02,758.38C43.3,755.64 42.55,753.17 41.51,750.2C40.47,747.23 39.47,743.52 38.79,740.53C38.1,737.54 37.5,735.02 37.39,732.28Z" fill="#fff" filter="url(#speck)" opacity="0.6"/>
<line x1="32.3" y1="694.7" x2="32.3" y2="781.6" stroke="#444" stroke-width="0.9"/>
<line x1="31.9" y1="781.6" x2="130.8" y2="781.6" stroke="#444" stroke-width="0.9"/>
<line x1="30.3" y1="713.5" x2="32.3" y2="713.5" stroke="#444" stroke-width="0.8"/>
<text x="27.9" y="716.3" font-size="9" text-anchor="end" fill="#1a1a1a" stroke="#1a1a1a" stroke-width="0.22">3</text>
<line x1="30.3" y1="734.6" x2="32.3" y2="734.6" stroke="#444" stroke-width="0.8"/>
<text x="27.9" y="737.4" font-size="9" text-anchor="end" fill="#1a1a1a" stroke="#1a1a1a" stroke-width="0.22">0</text>
<line x1="30.3" y1="756" x2="32.3" y2="756" stroke="#444" stroke-width="0.8"/>
<text x="27.9" y="758.8" font-size="9" text-anchor="end" fill="#1a1a1a" stroke="#1a1a1a" stroke-width="0.22">-3</text>
<line x1="30.3" y1="777.5" x2="32.3" y2="777.5" stroke="#444" stroke-width="0.8"/>
<text x="27.9" y="780.3" font-size="9" text-anchor="end" fill="#1a1a1a" stroke="#1a1a1a" stroke-width="0.22">-6</text>
<line x1="41.9" y1="781.6" x2="41.9" y2="783.6" stroke="#444" stroke-width="0.8"/>
<text x="41.9" y="793.7" font-size="9" text-anchor="middle" fill="#1a1a1a" stroke="#1a1a1a" stroke-width="0.22">-5</text>
<line x1="71.9" y1="781.6" x2="71.9" y2="783.6" stroke="#444" stroke-width="0.8"/>
<text x="71.9" y="793.7" font-size="9" text-anchor="middle" fill="#1a1a1a" stroke="#1a1a1a" stroke-width="0.22">0</text>
<line x1="102.2" y1="781.6" x2="102.2" y2="783.6" stroke="#444" stroke-width="0.8"/>
<text x="102.2" y="793.7" font-size="9" text-anchor="middle" fill="#1a1a1a" stroke="#1a1a1a" stroke-width="0.22">5</text>
<text x="80.7" y="802.5" font-size="9.8" text-anchor="middle" fill="#1a1a1a" stroke="#1a1a1a" stroke-width="0.22">UMAP-1</text>
<text x="18.3" y="737.9" font-size="9.8" text-anchor="middle" fill="#1a1a1a" transform="rotate(-90 18.3 737.9)" stroke="#1a1a1a" stroke-width="0.22">UMAP-2</text>
<text x="81.7" y="694.6" font-size="11" text-anchor="middle" fill="#1a1a1a" stroke="#1a1a1a" stroke-width="0.22">K19</text>
<rect x="131.8" y="739.3" width="5.5" height="29" fill="url(#fleg)"/>
<line x1="131.8" y1="741.3" x2="133.1" y2="741.3" stroke="#fff" stroke-width="0.6"/>
<line x1="136" y1="741.3" x2="137.3" y2="741.3" stroke="#fff" stroke-width="0.6"/>
<text x="139.9" y="744.1" font-size="9" text-anchor="start" fill="#1a1a1a" stroke="#1a1a1a" stroke-width="0.22">2</text>
<line x1="131.8" y1="755.3" x2="133.1" y2="755.3" stroke="#fff" stroke-width="0.6"/>
<line x1="136" y1="755.3" x2="137.3" y2="755.3" stroke="#fff" stroke-width="0.6"/>
<text x="139.9" y="758.1" font-size="9" text-anchor="start" fill="#1a1a1a" stroke="#1a1a1a" stroke-width="0.22">1</text>
<line x1="131.8" y1="769" x2="133.1" y2="769" stroke="#fff" stroke-width="0.6"/>
<line x1="136" y1="769" x2="137.3" y2="769" stroke="#fff" stroke-width="0.6"/>
<text x="139.9" y="771.8" font-size="9" text-anchor="start" fill="#1a1a1a" stroke="#1a1a1a" stroke-width="0.22">0</text>
<clipPath id="clipcd9"><path d="M37.02,862.51C36.91,859.7 37.17,856.69 37.76,854.11C38.35,851.53 39.31,849.26 40.59,847.02C41.87,844.78 43.6,842.55 45.45,840.66C47.29,838.77 48.99,837.03 51.66,835.69C54.32,834.35 57.94,833.32 61.44,832.62C64.93,831.91 68.91,831.52 72.63,831.45C76.35,831.37 80.28,831.69 83.76,832.18C87.25,832.67 90.74,834.3 93.54,834.37C96.34,834.44 98.69,832.4 100.55,832.62C102.42,832.84 102.89,833.99 104.73,835.69C106.58,837.38 109.76,840.65 111.62,842.78C113.49,844.91 114.76,846.47 115.93,848.48C117.09,850.49 117.25,853.44 118.63,854.84C120.02,856.24 123.3,855.84 124.23,856.89C125.16,857.93 124.92,859.48 124.23,861.13C123.54,862.77 121.49,864.17 120.11,866.75C118.72,869.34 117.34,873.8 115.93,876.62C114.51,879.45 112.79,880.89 111.62,883.71C110.45,886.54 110.76,891.47 108.92,893.58C107.07,895.69 103.81,895.18 100.55,896.36C97.29,897.54 93.54,899.73 89.36,900.67C85.18,901.61 80.11,901.77 75.46,901.99C70.81,902.21 65.4,902.68 61.44,901.99C57.47,901.29 54.44,899.93 51.66,897.82C48.88,895.71 46.51,892.16 44.77,889.34C43.03,886.53 42.26,883.99 41.2,880.94C40.15,877.88 39.13,874.06 38.44,870.99C37.74,867.92 37.13,865.33 37.02,862.51Z"/></clipPath>
<path d="M37.02,862.51C36.91,859.7 37.17,856.69 37.76,854.11C38.35,851.53 39.31,849.26 40.59,847.02C41.87,844.78 43.6,842.55 45.45,840.66C47.29,838.77 48.99,837.03 51.66,835.69C54.32,834.35 57.94,833.32 61.44,832.62C64.93,831.91 68.91,831.52 72.63,831.45C76.35,831.37 80.28,831.69 83.76,832.18C87.25,832.67 90.74,834.3 93.54,834.37C96.34,834.44 98.69,832.4 100.55,832.62C102.42,832.84 102.89,833.99 104.73,835.69C106.58,837.38 109.76,840.65 111.62,842.78C113.49,844.91 114.76,846.47 115.93,848.48C117.09,850.49 117.25,853.44 118.63,854.84C120.02,856.24 123.3,855.84 124.23,856.89C125.16,857.93 124.92,859.48 124.23,861.13C123.54,862.77 121.49,864.17 120.11,866.75C118.72,869.34 117.34,873.8 115.93,876.62C114.51,879.45 112.79,880.89 111.62,883.71C110.45,886.54 110.76,891.47 108.92,893.58C107.07,895.69 103.81,895.18 100.55,896.36C97.29,897.54 93.54,899.73 89.36,900.67C85.18,901.61 80.11,901.77 75.46,901.99C70.81,902.21 65.4,902.68 61.44,901.99C57.47,901.29 54.44,899.93 51.66,897.82C48.88,895.71 46.51,892.16 44.77,889.34C43.03,886.53 42.26,883.99 41.2,880.94C40.15,877.88 39.13,874.06 38.44,870.99C37.74,867.92 37.13,865.33 37.02,862.51Z" fill="#c8c8c8"/>
<g clip-path="url(#clipcd9)"><g filter="url(#blur3)">
<ellipse cx="72.2" cy="890.59" rx="36.9" ry="14.62" fill="#fff" opacity="0.45"/>
<ellipse cx="56.83" cy="896.43" rx="13.53" ry="8.04" fill="#d8402c" opacity="0.4"/>
<ellipse cx="72.2" cy="899.36" rx="12.3" ry="5.85" fill="#d8402c" opacity="0.35"/>
<ellipse cx="87.58" cy="898.63" rx="11.07" ry="6.58" fill="#d8402c" opacity="0.35"/>
<ellipse cx="99.88" cy="893.51" rx="9.23" ry="7.31" fill="#d8402c" opacity="0.35"/>
<ellipse cx="110.33" cy="884.01" rx="6.15" ry="8.77" fill="#d8402c" opacity="0.3"/>
<ellipse cx="116.48" cy="867.19" rx="5.54" ry="10.96" fill="#d8402c" opacity="0.25"/>
<ellipse cx="114.02" cy="848.92" rx="4.92" ry="7.31" fill="#d8402c" opacity="0.18"/>
<ellipse cx="66.05" cy="884.01" rx="21.53" ry="8.77" fill="#d8402c" opacity="0.14"/>
<ellipse cx="43.91" cy="885.47" rx="5.54" ry="9.5" fill="#d8402c" opacity="0.22"/>
</g>
<path d="M37.02,862.51C36.91,859.7 37.17,856.69 37.76,854.11C38.35,851.53 39.31,849.26 40.59,847.02C41.87,844.78 43.6,842.55 45.45,840.66C47.29,838.77 48.99,837.03 51.66,835.69C54.32,834.35 57.94,833.32 61.44,832.62C64.93,831.91 68.91,831.52 72.63,831.45C76.35,831.37 80.28,831.69 83.76,832.18C87.25,832.67 90.74,834.3 93.54,834.37C96.34,834.44 98.69,832.4 100.55,832.62C102.42,832.84 102.89,833.99 104.73,835.69C106.58,837.38 109.76,840.65 111.62,842.78C113.49,844.91 114.76,846.47 115.93,848.48C117.09,850.49 117.25,853.44 118.63,854.84C120.02,856.24 123.3,855.84 124.23,856.89C125.16,857.93 124.92,859.48 124.23,861.13C123.54,862.77 121.49,864.17 120.11,866.75C118.72,869.34 117.34,873.8 115.93,876.62C114.51,879.45 112.79,880.89 111.62,883.71C110.45,886.54 110.76,891.47 108.92,893.58C107.07,895.69 103.81,895.18 100.55,896.36C97.29,897.54 93.54,899.73 89.36,900.67C85.18,901.61 80.11,901.77 75.46,901.99C70.81,902.21 65.4,902.68 61.44,901.99C57.47,901.29 54.44,899.93 51.66,897.82C48.88,895.71 46.51,892.16 44.77,889.34C43.03,886.53 42.26,883.99 41.2,880.94C40.15,877.88 39.13,874.06 38.44,870.99C37.74,867.92 37.13,865.33 37.02,862.51Z" fill="none" stroke="#fff" stroke-width="6" opacity="0.7" filter="url(#blur3)"/>
</g>
<path d="M37.02,862.51C36.91,859.7 37.17,856.69 37.76,854.11C38.35,851.53 39.31,849.26 40.59,847.02C41.87,844.78 43.6,842.55 45.45,840.66C47.29,838.77 48.99,837.03 51.66,835.69C54.32,834.35 57.94,833.32 61.44,832.62C64.93,831.91 68.91,831.52 72.63,831.45C76.35,831.37 80.28,831.69 83.76,832.18C87.25,832.67 90.74,834.3 93.54,834.37C96.34,834.44 98.69,832.4 100.55,832.62C102.42,832.84 102.89,833.99 104.73,835.69C106.58,837.38 109.76,840.65 111.62,842.78C113.49,844.91 114.76,846.47 115.93,848.48C117.09,850.49 117.25,853.44 118.63,854.84C120.02,856.24 123.3,855.84 124.23,856.89C125.16,857.93 124.92,859.48 124.23,861.13C123.54,862.77 121.49,864.17 120.11,866.75C118.72,869.34 117.34,873.8 115.93,876.62C114.51,879.45 112.79,880.89 111.62,883.71C110.45,886.54 110.76,891.47 108.92,893.58C107.07,895.69 103.81,895.18 100.55,896.36C97.29,897.54 93.54,899.73 89.36,900.67C85.18,901.61 80.11,901.77 75.46,901.99C70.81,902.21 65.4,902.68 61.44,901.99C57.47,901.29 54.44,899.93 51.66,897.82C48.88,895.71 46.51,892.16 44.77,889.34C43.03,886.53 42.26,883.99 41.2,880.94C40.15,877.88 39.13,874.06 38.44,870.99C37.74,867.92 37.13,865.33 37.02,862.51Z" fill="#fff" filter="url(#speck)" opacity="0.6"/>
<line x1="32.3" y1="824.1" x2="32.3" y2="914.4" stroke="#444" stroke-width="0.9"/>
<line x1="31.9" y1="914.4" x2="132.8" y2="914.4" stroke="#444" stroke-width="0.9"/>
<line x1="30.3" y1="842.5" x2="32.3" y2="842.5" stroke="#444" stroke-width="0.8"/>
<text x="27.9" y="845.3" font-size="9" text-anchor="end" fill="#1a1a1a" stroke="#1a1a1a" stroke-width="0.22">3</text>
<line x1="30.3" y1="865" x2="32.3" y2="865" stroke="#444" stroke-width="0.8"/>
<text x="27.9" y="867.8" font-size="9" text-anchor="end" fill="#1a1a1a" stroke="#1a1a1a" stroke-width="0.22">0</text>
<line x1="30.3" y1="886.9" x2="32.3" y2="886.9" stroke="#444" stroke-width="0.8"/>
<text x="27.9" y="889.7" font-size="9" text-anchor="end" fill="#1a1a1a" stroke="#1a1a1a" stroke-width="0.22">-3</text>
<line x1="30.3" y1="908.3" x2="32.3" y2="908.3" stroke="#444" stroke-width="0.8"/>
<text x="27.9" y="911.1" font-size="9" text-anchor="end" fill="#1a1a1a" stroke="#1a1a1a" stroke-width="0.22">-6</text>
<line x1="41.5" y1="914.4" x2="41.5" y2="916.4" stroke="#444" stroke-width="0.8"/>
<text x="41.5" y="924.3" font-size="9" text-anchor="middle" fill="#1a1a1a" stroke="#1a1a1a" stroke-width="0.22">-5</text>
<line x1="71.9" y1="914.4" x2="71.9" y2="916.4" stroke="#444" stroke-width="0.8"/>
<text x="71.9" y="924.3" font-size="9" text-anchor="middle" fill="#1a1a1a" stroke="#1a1a1a" stroke-width="0.22">0</text>
<line x1="103.4" y1="914.4" x2="103.4" y2="916.4" stroke="#444" stroke-width="0.8"/>
<text x="103.4" y="924.3" font-size="9" text-anchor="middle" fill="#1a1a1a" stroke="#1a1a1a" stroke-width="0.22">5</text>
<text x="80.5" y="933.8" font-size="9.8" text-anchor="middle" fill="#1a1a1a" stroke="#1a1a1a" stroke-width="0.22">UMAP-1</text>
<text x="18.3" y="867.2" font-size="9.8" text-anchor="middle" fill="#1a1a1a" transform="rotate(-90 18.3 867.2)" stroke="#1a1a1a" stroke-width="0.22">UMAP-2</text>
<text x="78.7" y="826.8" font-size="11" text-anchor="middle" fill="#1a1a1a" stroke="#1a1a1a" stroke-width="0.22">CD9</text>
<rect x="128.3" y="871" width="5.6" height="30.2" fill="url(#fleg)"/>
<line x1="128.3" y1="872.8" x2="129.6" y2="872.8" stroke="#fff" stroke-width="0.6"/>
<line x1="132.6" y1="872.8" x2="133.9" y2="872.8" stroke="#fff" stroke-width="0.6"/>
<text x="136.5" y="875.6" font-size="9" text-anchor="start" fill="#1a1a1a" stroke="#1a1a1a" stroke-width="0.22">0.8</text>
<line x1="128.3" y1="886.5" x2="129.6" y2="886.5" stroke="#fff" stroke-width="0.6"/>
<line x1="132.6" y1="886.5" x2="133.9" y2="886.5" stroke="#fff" stroke-width="0.6"/>
<text x="136.5" y="889.3" font-size="9" text-anchor="start" fill="#1a1a1a" stroke="#1a1a1a" stroke-width="0.22">0.4</text>
<line x1="128.3" y1="901.1" x2="129.6" y2="901.1" stroke="#fff" stroke-width="0.6"/>
<line x1="132.6" y1="901.1" x2="133.9" y2="901.1" stroke="#fff" stroke-width="0.6"/>
<text x="136.5" y="903.9" font-size="9" text-anchor="start" fill="#1a1a1a" stroke="#1a1a1a" stroke-width="0.22">0.0</text>
<path d="M192.2,777.8 L192.46,777.73 L194.86,777.52 L196.08,777.17 L196.08,776.68 L196.08,776.05 L196.08,775.98 L196.08,775.27 L196.08,774.36 L196.08,774.15 L196.08,773.31 L196.08,772.33 L196.08,772.12 L196.08,770.78 L196.08,770.5 L196.08,769.31 L196.08,768.68 L196.08,767.69 L196.08,766.85 L196.08,765.94 L196.08,765.03 L196.08,764.05 L196.08,763.2 L196.08,762.01 L196.08,761.38 L196.08,759.84 L196.08,759.55 L196.08,757.73 L196.08,757.52 L196.08,755.91 L196.08,755.06 L196.08,754.08 L196.08,752.47 L196.08,752.26 L196.08,750.43 L196.08,749.73 L196.08,748.61 L196.08,746.85 L196.08,746.78 L196.08,744.96 L196.08,743.84 L196.08,743.13 L196.08,741.31 L196.08,740.68 L196.08,739.49 L196.08,737.66 L196.08,737.38 L196.08,735.84 L196.08,734.01 L196.08,733.94 L196.12,732.19 L196.2,730.36 L196.2,730.36 L196.28,732.19 L196.32,733.94 L196.32,734.01 L196.32,735.84 L196.32,737.38 L196.32,737.66 L196.32,739.49 L196.32,740.68 L196.32,741.31 L196.32,743.13 L196.32,743.84 L196.32,744.96 L196.32,746.78 L196.32,746.85 L196.32,748.61 L196.32,749.73 L196.32,750.43 L196.32,752.26 L196.32,752.47 L196.32,754.08 L196.32,755.06 L196.32,755.91 L196.32,757.52 L196.32,757.73 L196.32,759.55 L196.32,759.84 L196.32,761.38 L196.32,762.01 L196.32,763.2 L196.32,764.05 L196.32,765.03 L196.32,765.94 L196.32,766.85 L196.32,767.69 L196.32,768.68 L196.32,769.31 L196.32,770.5 L196.32,770.78 L196.32,772.12 L196.32,772.33 L196.32,773.31 L196.32,774.15 L196.32,774.36 L196.32,775.27 L196.32,775.98 L196.32,776.05 L196.32,776.68 L196.32,777.17 L197.54,777.52 L199.94,777.73 L200.2,777.8Z" fill="#f07870" stroke="#111" stroke-width="0.72" stroke-linejoin="round"/>
<text x="194.6" y="791.6" font-size="9" text-anchor="middle" fill="#1a1a1a" stroke="#1a1a1a" stroke-width="0.22">1</text>
<line x1="196.2" y1="782.2" x2="196.2" y2="784" stroke="#444" stroke-width="0.7"/>
<path d="M203.02,777.8 L203.4,777.72 L206.19,777.46 L206.9,777.04 L206.9,776.45 L206.9,775.69 L206.9,775.61 L206.9,774.77 L206.9,773.67 L206.9,773.42 L206.9,772.41 L206.9,771.23 L206.9,770.98 L206.9,769.38 L206.9,769.04 L206.9,767.61 L206.9,766.85 L206.9,765.67 L206.9,764.66 L206.9,763.57 L206.9,762.47 L206.9,761.3 L206.9,760.28 L206.9,758.85 L206.9,758.1 L206.9,756.24 L206.9,755.91 L206.9,753.72 L206.9,753.46 L206.9,751.53 L206.9,750.52 L206.9,749.34 L206.9,747.4 L206.9,747.15 L206.9,744.96 L206.9,744.12 L206.9,742.77 L206.9,740.66 L206.9,740.58 L206.9,738.39 L206.9,737.04 L206.9,736.2 L206.9,734.01 L206.9,733.25 L206.9,731.82 L206.9,729.63 L206.9,729.3 L206.9,727.44 L206.9,725.25 L206.9,725.17 L206.94,723.06 L207.02,720.88 L207.02,720.88 L207.1,723.06 L207.14,725.17 L207.14,725.25 L207.14,727.44 L207.14,729.3 L207.14,729.63 L207.14,731.82 L207.14,733.25 L207.14,734.01 L207.14,736.2 L207.14,737.04 L207.14,738.39 L207.14,740.58 L207.14,740.66 L207.14,742.77 L207.14,744.12 L207.14,744.96 L207.14,747.15 L207.14,747.4 L207.14,749.34 L207.14,750.52 L207.14,751.53 L207.14,753.46 L207.14,753.72 L207.14,755.91 L207.14,756.24 L207.14,758.1 L207.14,758.85 L207.14,760.28 L207.14,761.3 L207.14,762.47 L207.14,763.57 L207.14,764.66 L207.14,765.67 L207.14,766.85 L207.14,767.61 L207.14,769.04 L207.14,769.38 L207.14,770.98 L207.14,771.23 L207.14,772.41 L207.14,773.42 L207.14,773.67 L207.14,774.77 L207.14,775.61 L207.14,775.69 L207.14,776.45 L207.14,777.04 L207.85,777.46 L210.64,777.72 L211.02,777.8Z" fill="#dc8a28" stroke="#111" stroke-width="0.72" stroke-linejoin="round"/>
<text x="205.42" y="791.6" font-size="9" text-anchor="middle" fill="#1a1a1a" stroke="#1a1a1a" stroke-width="0.22">2</text>
<line x1="207.02" y1="782.2" x2="207.02" y2="784" stroke="#444" stroke-width="0.7"/>
<path d="M213.84,777.8 L214.04,777.74 L216.07,777.56 L217.72,777.25 L217.72,776.83 L217.72,776.28 L217.72,776.22 L217.72,775.62 L217.72,774.83 L217.72,774.65 L217.72,773.92 L217.72,773.07 L217.72,772.89 L217.72,771.74 L217.72,771.49 L217.72,770.46 L217.72,769.92 L217.72,769.07 L217.72,768.34 L217.72,767.55 L217.72,766.77 L217.72,765.92 L217.72,765.19 L217.72,764.16 L217.72,763.61 L217.72,762.28 L217.72,762.04 L217.72,760.46 L217.72,760.28 L217.72,758.88 L217.72,758.16 L217.72,757.31 L217.72,755.91 L217.72,755.73 L217.72,754.15 L217.72,753.55 L217.72,752.58 L217.72,751.06 L217.72,751 L217.72,749.43 L217.72,748.45 L217.72,747.85 L217.72,746.27 L217.72,745.73 L217.72,744.7 L217.72,743.12 L217.72,742.88 L217.72,741.54 L217.72,739.97 L217.72,739.91 L217.76,738.39 L217.84,736.81 L217.84,736.81 L217.92,738.39 L217.96,739.91 L217.96,739.97 L217.96,741.54 L217.96,742.88 L217.96,743.12 L217.96,744.7 L217.96,745.73 L217.96,746.27 L217.96,747.85 L217.96,748.45 L217.96,749.43 L217.96,751 L217.96,751.06 L217.96,752.58 L217.96,753.55 L217.96,754.15 L217.96,755.73 L217.96,755.91 L217.96,757.31 L217.96,758.16 L217.96,758.88 L217.96,760.28 L217.96,760.46 L217.96,762.04 L217.96,762.28 L217.96,763.61 L217.96,764.16 L217.96,765.19 L217.96,765.92 L217.96,766.77 L217.96,767.55 L217.96,768.34 L217.96,769.07 L217.96,769.92 L217.96,770.46 L217.96,771.49 L217.96,771.74 L217.96,772.89 L217.96,773.07 L217.96,773.92 L217.96,774.65 L217.96,774.83 L217.96,775.62 L217.96,776.22 L217.96,776.28 L217.96,776.83 L217.96,777.25 L219.61,777.56 L221.64,777.74 L221.84,777.8Z" fill="#b4a030" stroke="#111" stroke-width="0.72" stroke-linejoin="round"/>
<text x="216.24" y="791.6" font-size="9" text-anchor="middle" fill="#1a1a1a" stroke="#1a1a1a" stroke-width="0.22">3</text>
<line x1="217.84" y1="782.2" x2="217.84" y2="784" stroke="#444" stroke-width="0.7"/>
<path d="M224.16,777.8 L224.18,777.7 L224.43,777.4 L225.39,776.89 L227.02,776.18 L228.28,775.27 L228.35,775.17 L228.54,774.16 L228.54,772.85 L228.54,772.55 L228.54,771.33 L228.54,769.92 L228.54,769.61 L228.54,767.69 L228.54,767.29 L228.54,765.57 L228.54,764.66 L228.54,763.25 L228.54,762.04 L228.54,760.72 L228.54,759.41 L228.54,757.99 L228.54,756.78 L228.54,755.06 L228.54,754.15 L228.54,751.93 L228.54,751.53 L228.54,748.9 L228.54,748.6 L228.54,746.27 L228.54,745.06 L228.54,743.64 L228.54,741.32 L228.54,741.02 L228.54,738.39 L228.54,737.38 L228.54,735.76 L228.54,733.24 L228.54,733.14 L228.54,730.51 L228.54,728.89 L228.54,727.88 L228.54,725.25 L228.54,724.34 L228.54,722.63 L228.54,720 L228.54,719.6 L228.54,717.37 L228.54,714.74 L228.54,714.64 L228.58,712.12 L228.66,709.49 L228.66,709.49 L228.66,709.49 L228.66,709.49 L228.74,712.12 L228.78,714.64 L228.78,714.74 L228.78,717.37 L228.78,719.6 L228.78,720 L228.78,722.63 L228.78,724.34 L228.78,725.25 L228.78,727.88 L228.78,728.89 L228.78,730.51 L228.78,733.14 L228.78,733.24 L228.78,735.76 L228.78,737.38 L228.78,738.39 L228.78,741.02 L228.78,741.32 L228.78,743.64 L228.78,745.06 L228.78,746.27 L228.78,748.6 L228.78,748.9 L228.78,751.53 L228.78,751.93 L228.78,754.15 L228.78,755.06 L228.78,756.78 L228.78,757.99 L228.78,759.41 L228.78,760.72 L228.78,762.04 L228.78,763.25 L228.78,764.66 L228.78,765.57 L228.78,767.29 L228.78,767.69 L228.78,769.61 L228.78,769.92 L228.78,771.33 L228.78,772.55 L228.78,772.85 L228.78,774.16 L228.97,775.17 L229.04,775.27 L230.3,776.18 L231.93,776.89 L232.89,777.4 L233.14,777.7 L233.16,777.8Z" fill="#84ae3c" stroke="#111" stroke-width="0.72" stroke-linejoin="round"/>
<text x="227.06" y="791.6" font-size="9" text-anchor="middle" fill="#1a1a1a" stroke="#1a1a1a" stroke-width="0.22">4</text>
<line x1="228.66" y1="782.2" x2="228.66" y2="784" stroke="#444" stroke-width="0.7"/>
<path d="M234.18,777.8 L234.17,777.68 L234.23,777.33 L234.56,776.74 L235.37,775.92 L236.59,774.87 L236.71,774.75 L237.67,773.58 L238.17,772.05 L238.2,771.7 L238.26,770.29 L238.35,768.65 L238.38,768.3 L238.69,766.07 L238.76,765.6 L239.06,763.6 L239.19,762.55 L239.33,760.9 L239.36,759.5 L239.36,757.97 L239.36,756.45 L239.36,754.8 L239.36,753.4 L239.36,751.4 L239.36,750.34 L239.36,747.76 L239.36,747.29 L239.36,744.24 L239.36,743.89 L239.36,741.19 L239.36,739.78 L239.36,738.14 L239.36,735.44 L239.36,735.09 L239.36,732.04 L239.36,730.87 L239.36,728.99 L239.36,726.06 L239.36,725.94 L239.36,722.89 L239.36,721.01 L239.36,719.84 L239.36,716.79 L239.36,715.73 L239.36,713.74 L239.36,710.69 L239.36,710.22 L239.36,707.64 L239.36,704.59 L239.36,704.47 L239.4,701.54 L239.48,698.48 L239.48,698.48 L239.56,701.54 L239.6,704.47 L239.6,704.59 L239.6,707.64 L239.6,710.22 L239.6,710.69 L239.6,713.74 L239.6,715.73 L239.6,716.79 L239.6,719.84 L239.6,721.01 L239.6,722.89 L239.6,725.94 L239.6,726.06 L239.6,728.99 L239.6,730.87 L239.6,732.04 L239.6,735.09 L239.6,735.44 L239.6,738.14 L239.6,739.78 L239.6,741.19 L239.6,743.89 L239.6,744.24 L239.6,747.29 L239.6,747.76 L239.6,750.34 L239.6,751.4 L239.6,753.4 L239.6,754.8 L239.6,756.45 L239.6,757.97 L239.6,759.5 L239.63,760.9 L239.77,762.55 L239.9,763.6 L240.2,765.6 L240.27,766.07 L240.58,768.3 L240.61,768.65 L240.7,770.29 L240.76,771.7 L240.79,772.05 L241.29,773.58 L242.25,774.75 L242.37,774.87 L243.59,775.92 L244.4,776.74 L244.73,777.33 L244.79,777.68 L244.78,777.8Z" fill="#22b04a" stroke="#111" stroke-width="0.72" stroke-linejoin="round"/>
<text x="237.88" y="791.6" font-size="9" text-anchor="middle" fill="#1a1a1a" stroke="#1a1a1a" stroke-width="0.22">5</text>
<line x1="239.48" y1="782.2" x2="239.48" y2="784" stroke="#444" stroke-width="0.7"/>
<path d="M246.3,777.8 L246.5,777.74 L248.53,777.56 L250.18,777.25 L250.18,776.83 L250.18,776.28 L250.18,776.22 L250.18,775.62 L250.18,774.83 L250.18,774.65 L250.18,773.92 L250.18,773.07 L250.18,772.89 L250.18,771.74 L250.18,771.49 L250.18,770.46 L250.18,769.92 L250.18,769.07 L250.18,768.34 L250.18,767.55 L250.18,766.77 L250.18,765.92 L250.18,765.19 L250.18,764.16 L250.18,763.61 L250.18,762.28 L250.18,762.04 L250.18,760.46 L250.18,760.28 L250.18,758.88 L250.18,758.16 L250.18,757.31 L250.18,755.91 L250.18,755.73 L250.18,754.15 L250.18,753.55 L250.18,752.58 L250.18,751.06 L250.18,751 L250.18,749.43 L250.18,748.45 L250.18,747.85 L250.18,746.27 L250.18,745.73 L250.18,744.7 L250.18,743.12 L250.18,742.88 L250.18,741.54 L250.18,739.97 L250.18,739.91 L250.22,738.39 L250.3,736.81 L250.3,736.81 L250.38,738.39 L250.42,739.91 L250.42,739.97 L250.42,741.54 L250.42,742.88 L250.42,743.12 L250.42,744.7 L250.42,745.73 L250.42,746.27 L250.42,747.85 L250.42,748.45 L250.42,749.43 L250.42,751 L250.42,751.06 L250.42,752.58 L250.42,753.55 L250.42,754.15 L250.42,755.73 L250.42,755.91 L250.42,757.31 L250.42,758.16 L250.42,758.88 L250.42,760.28 L250.42,760.46 L250.42,762.04 L250.42,762.28 L250.42,763.61 L250.42,764.16 L250.42,765.19 L250.42,765.92 L250.42,766.77 L250.42,767.55 L250.42,768.34 L250.42,769.07 L250.42,769.92 L250.42,770.46 L250.42,771.49 L250.42,771.74 L250.42,772.89 L250.42,773.07 L250.42,773.92 L250.42,774.65 L250.42,774.83 L250.42,775.62 L250.42,776.22 L250.42,776.28 L250.42,776.83 L250.42,777.25 L252.07,777.56 L254.1,777.74 L254.3,777.8Z" fill="#1ebd8e" stroke="#111" stroke-width="0.72" stroke-linejoin="round"/>
<text x="248.7" y="791.6" font-size="9" text-anchor="middle" fill="#1a1a1a" stroke="#1a1a1a" stroke-width="0.22">6</text>
<line x1="250.3" y1="782.2" x2="250.3" y2="784" stroke="#444" stroke-width="0.7"/>
<path d="M257.07,777.8 L257.08,777.72 L257.23,777.47 L257.81,777.07 L258.96,776.5 L260.21,775.76 L260.31,775.68 L260.84,774.87 L260.93,773.81 L260.92,773.57 L260.86,772.59 L260.79,771.45 L260.77,771.21 L260.65,769.66 L260.63,769.33 L260.54,767.95 L260.49,767.22 L260.45,766.08 L260.42,765.1 L260.42,764.04 L260.44,762.98 L260.49,761.85 L260.55,760.87 L260.65,759.48 L260.7,758.75 L260.83,756.96 L260.85,756.64 L260.97,754.52 L260.98,754.27 L261,752.4 L261,751.43 L261,750.29 L261,748.41 L261,748.17 L261,746.05 L261,745.24 L261,743.94 L261,741.9 L261,741.82 L261,739.7 L261,738.4 L261,737.59 L261,735.47 L261,734.74 L261,733.35 L261,731.24 L261,730.91 L261,729.12 L261,727.01 L261,726.92 L261.04,724.89 L261.12,722.77 L261.12,722.77 L261.12,722.77 L261.12,722.77 L261.2,724.89 L261.24,726.92 L261.24,727.01 L261.24,729.12 L261.24,730.91 L261.24,731.24 L261.24,733.35 L261.24,734.74 L261.24,735.47 L261.24,737.59 L261.24,738.4 L261.24,739.7 L261.24,741.82 L261.24,741.9 L261.24,743.94 L261.24,745.24 L261.24,746.05 L261.24,748.17 L261.24,748.41 L261.24,750.29 L261.24,751.43 L261.24,752.4 L261.26,754.27 L261.27,754.52 L261.39,756.64 L261.41,756.96 L261.54,758.75 L261.59,759.48 L261.69,760.87 L261.75,761.85 L261.8,762.98 L261.82,764.04 L261.82,765.1 L261.79,766.08 L261.75,767.22 L261.7,767.95 L261.61,769.33 L261.59,769.66 L261.47,771.21 L261.45,771.45 L261.38,772.59 L261.32,773.57 L261.31,773.81 L261.4,774.87 L261.93,775.68 L262.03,775.76 L263.28,776.5 L264.43,777.07 L265.01,777.47 L265.16,777.72 L265.17,777.8Z" fill="#1bbcc4" stroke="#111" stroke-width="0.72" stroke-linejoin="round"/>
<text x="259.52" y="791.6" font-size="9" text-anchor="middle" fill="#1a1a1a" stroke="#1a1a1a" stroke-width="0.22">7</text>
<line x1="261.12" y1="782.2" x2="261.12" y2="784" stroke="#444" stroke-width="0.7"/>
<path d="M266.94,777.8 L267,777.71 L267.83,777.44 L270.09,777 L271.73,776.37 L271.82,775.57 L271.82,775.48 L271.82,774.59 L271.82,773.43 L271.82,773.16 L271.82,772.09 L271.82,770.84 L271.82,770.57 L271.82,768.87 L271.82,768.52 L271.82,767 L271.82,766.2 L271.82,764.95 L271.82,763.88 L271.82,762.71 L271.82,761.55 L271.82,760.3 L271.82,759.23 L271.82,757.72 L271.82,756.91 L271.82,754.95 L271.82,754.59 L271.82,752.27 L271.82,752 L271.82,749.95 L271.82,748.88 L271.82,747.63 L271.82,745.58 L271.82,745.31 L271.82,742.99 L271.82,742.1 L271.82,740.67 L271.82,738.44 L271.82,738.35 L271.82,736.03 L271.82,734.6 L271.82,733.71 L271.82,731.38 L271.82,730.58 L271.82,729.06 L271.82,726.74 L271.82,726.39 L271.82,724.42 L271.82,722.1 L271.82,722.01 L271.86,719.78 L271.94,717.46 L271.94,717.46 L272.02,719.78 L272.06,722.01 L272.06,722.1 L272.06,724.42 L272.06,726.39 L272.06,726.74 L272.06,729.06 L272.06,730.58 L272.06,731.38 L272.06,733.71 L272.06,734.6 L272.06,736.03 L272.06,738.35 L272.06,738.44 L272.06,740.67 L272.06,742.1 L272.06,742.99 L272.06,745.31 L272.06,745.58 L272.06,747.63 L272.06,748.88 L272.06,749.95 L272.06,752 L272.06,752.27 L272.06,754.59 L272.06,754.95 L272.06,756.91 L272.06,757.72 L272.06,759.23 L272.06,760.3 L272.06,761.55 L272.06,762.71 L272.06,763.88 L272.06,764.95 L272.06,766.2 L272.06,767 L272.06,768.52 L272.06,768.87 L272.06,770.57 L272.06,770.84 L272.06,772.09 L272.06,773.16 L272.06,773.43 L272.06,774.59 L272.06,775.48 L272.06,775.57 L272.15,776.37 L273.79,777 L276.05,777.44 L276.88,777.71 L276.94,777.8Z" fill="#1fb0ec" stroke="#111" stroke-width="0.72" stroke-linejoin="round"/>
<text x="270.34" y="791.6" font-size="9" text-anchor="middle" fill="#1a1a1a" stroke="#1a1a1a" stroke-width="0.22">8</text>
<line x1="271.94" y1="782.2" x2="271.94" y2="784" stroke="#444" stroke-width="0.7"/>
<path d="M281,777.8 L281,777.68 L281.1,777.33 L281.48,776.74 L282.02,775.91 L282.29,774.85 L282.29,774.73 L282.25,773.56 L282.12,772.02 L282.09,771.67 L281.95,770.25 L281.76,768.6 L281.72,768.25 L281.41,766.01 L281.33,765.54 L281,763.54 L280.81,762.47 L280.5,760.82 L280.22,759.41 L279.91,757.88 L279.59,756.34 L279.26,754.69 L278.98,753.28 L278.62,751.27 L278.45,750.21 L278.12,747.62 L278.07,747.15 L277.88,744.08 L277.87,743.73 L277.9,741.02 L277.99,739.6 L278.14,737.95 L278.5,735.24 L278.56,734.89 L279.11,731.82 L279.34,730.64 L279.73,728.76 L280.33,725.81 L280.35,725.69 L280.93,722.63 L281.25,720.74 L281.44,719.56 L281.84,716.5 L281.96,715.44 L282.15,713.43 L282.37,710.37 L282.4,709.89 L282.53,707.3 L282.62,704.24 L282.63,704.12 L282.68,701.17 L282.76,698.1 L282.76,698.1 L282.84,701.17 L282.89,704.12 L282.9,704.24 L282.99,707.3 L283.12,709.89 L283.15,710.37 L283.37,713.43 L283.56,715.44 L283.68,716.5 L284.08,719.56 L284.27,720.74 L284.59,722.63 L285.17,725.69 L285.19,725.81 L285.79,728.76 L286.18,730.64 L286.41,731.82 L286.96,734.89 L287.02,735.24 L287.38,737.95 L287.53,739.6 L287.62,741.02 L287.65,743.73 L287.64,744.08 L287.45,747.15 L287.4,747.62 L287.07,750.21 L286.9,751.27 L286.54,753.28 L286.26,754.69 L285.93,756.34 L285.61,757.88 L285.3,759.41 L285.02,760.82 L284.71,762.47 L284.52,763.54 L284.19,765.54 L284.11,766.01 L283.8,768.25 L283.76,768.6 L283.57,770.25 L283.43,771.67 L283.4,772.02 L283.27,773.56 L283.23,774.73 L283.23,774.85 L283.5,775.91 L284.04,776.74 L284.42,777.33 L284.52,777.68 L284.52,777.8Z" fill="#6890d8" stroke="#111" stroke-width="0.72" stroke-linejoin="round"/>
<text x="281.16" y="791.6" font-size="9" text-anchor="middle" fill="#1a1a1a" stroke="#1a1a1a" stroke-width="0.22">9</text>
<line x1="282.76" y1="782.2" x2="282.76" y2="784" stroke="#444" stroke-width="0.7"/>
<path d="M291.96,777.8 L291.96,777.7 L292.04,777.38 L292.35,776.86 L292.87,776.12 L293.2,775.18 L293.21,775.07 L293.2,774.02 L293.05,772.66 L293,772.34 L292.81,771.08 L292.52,769.61 L292.45,769.3 L291.95,767.3 L291.83,766.88 L291.28,765.1 L290.98,764.15 L290.5,762.68 L290.11,761.42 L289.73,760.06 L289.42,758.69 L289.19,757.22 L289.09,755.96 L289.13,754.18 L289.23,753.23 L289.68,750.93 L289.79,750.51 L290.62,747.78 L290.72,747.46 L291.5,745.05 L291.87,743.79 L292.26,742.32 L292.78,739.9 L292.83,739.59 L293.2,736.86 L293.29,735.81 L293.41,734.13 L293.46,731.5 L293.46,731.4 L293.46,728.67 L293.46,726.99 L293.46,725.94 L293.46,723.21 L293.46,722.27 L293.46,720.48 L293.46,717.75 L293.46,717.33 L293.46,715.02 L293.46,712.29 L293.46,712.19 L293.5,709.56 L293.58,706.83 L293.58,706.83 L293.66,709.56 L293.7,712.19 L293.7,712.29 L293.7,715.02 L293.7,717.33 L293.7,717.75 L293.7,720.48 L293.7,722.27 L293.7,723.21 L293.7,725.94 L293.7,726.99 L293.7,728.67 L293.7,731.4 L293.7,731.5 L293.75,734.13 L293.87,735.81 L293.96,736.86 L294.33,739.59 L294.38,739.9 L294.9,742.32 L295.29,743.79 L295.66,745.05 L296.44,747.46 L296.54,747.78 L297.37,750.51 L297.48,750.93 L297.93,753.23 L298.03,754.18 L298.07,755.96 L297.97,757.22 L297.74,758.69 L297.43,760.06 L297.05,761.42 L296.66,762.68 L296.18,764.15 L295.88,765.1 L295.33,766.88 L295.21,767.3 L294.71,769.3 L294.64,769.61 L294.35,771.08 L294.16,772.34 L294.11,772.66 L293.96,774.02 L293.95,775.07 L293.96,775.18 L294.29,776.12 L294.81,776.86 L295.12,777.38 L295.2,777.7 L295.2,777.8Z" fill="#a87cc8" stroke="#111" stroke-width="0.72" stroke-linejoin="round"/>
<text x="291.98" y="791.6" font-size="9" text-anchor="middle" fill="#1a1a1a" stroke="#1a1a1a" stroke-width="0.22">10</text>
<line x1="293.58" y1="782.2" x2="293.58" y2="784" stroke="#444" stroke-width="0.7"/>
<path d="M299.4,777.8 L299.41,777.69 L299.5,777.35 L299.87,776.79 L300.74,776 L302.06,774.99 L302.2,774.88 L303.37,773.76 L304.13,772.3 L304.21,771.96 L304.28,770.61 L304.28,769.04 L304.28,768.71 L304.28,766.57 L304.28,766.12 L304.28,764.21 L304.28,763.2 L304.28,761.63 L304.28,760.28 L304.28,758.82 L304.28,757.37 L304.28,755.79 L304.28,754.45 L304.28,752.54 L304.28,751.53 L304.28,749.06 L304.28,748.61 L304.28,745.69 L304.28,745.35 L304.28,742.77 L304.28,741.42 L304.28,739.85 L304.28,737.27 L304.28,736.93 L304.28,734.01 L304.28,732.89 L304.28,731.09 L304.28,728.29 L304.28,728.17 L304.28,725.25 L304.28,723.46 L304.28,722.33 L304.28,719.42 L304.28,718.4 L304.28,716.5 L304.28,713.58 L304.28,713.13 L304.28,710.66 L304.28,707.74 L304.28,707.63 L304.32,704.82 L304.4,701.9 L304.4,701.9 L304.48,704.82 L304.52,707.63 L304.52,707.74 L304.52,710.66 L304.52,713.13 L304.52,713.58 L304.52,716.5 L304.52,718.4 L304.52,719.42 L304.52,722.33 L304.52,723.46 L304.52,725.25 L304.52,728.17 L304.52,728.29 L304.52,731.09 L304.52,732.89 L304.52,734.01 L304.52,736.93 L304.52,737.27 L304.52,739.85 L304.52,741.42 L304.52,742.77 L304.52,745.35 L304.52,745.69 L304.52,748.61 L304.52,749.06 L304.52,751.53 L304.52,752.54 L304.52,754.45 L304.52,755.79 L304.52,757.37 L304.52,758.82 L304.52,760.28 L304.52,761.63 L304.52,763.2 L304.52,764.21 L304.52,766.12 L304.52,766.57 L304.52,768.71 L304.52,769.04 L304.52,770.61 L304.59,771.96 L304.67,772.3 L305.43,773.76 L306.6,774.88 L306.74,774.99 L308.06,776 L308.93,776.79 L309.3,777.35 L309.39,777.69 L309.4,777.8Z" fill="#cc68b8" stroke="#111" stroke-width="0.72" stroke-linejoin="round"/>
<text x="302.8" y="791.6" font-size="9" text-anchor="middle" fill="#1a1a1a" stroke="#1a1a1a" stroke-width="0.22">11</text>
<line x1="304.4" y1="782.2" x2="304.4" y2="784" stroke="#444" stroke-width="0.7"/>
<path d="M309.07,777.8 L309.07,777.68 L309.09,777.31 L309.27,776.71 L309.76,775.86 L310.65,774.77 L310.76,774.65 L311.83,773.43 L312.93,771.86 L313.11,771.49 L313.58,770.04 L313.74,768.34 L313.74,767.98 L313.65,765.67 L313.62,765.19 L313.48,763.13 L313.42,762.04 L313.34,760.34 L313.28,758.88 L313.24,757.31 L313.22,755.73 L313.22,754.03 L313.25,752.58 L313.31,750.52 L313.35,749.43 L313.5,746.76 L313.53,746.27 L313.75,743.12 L313.78,742.76 L314,739.97 L314.11,738.51 L314.25,736.81 L314.45,734.03 L314.48,733.66 L314.68,730.51 L314.74,729.3 L314.84,727.36 L314.96,724.32 L314.97,724.2 L315.06,721.05 L315.1,719.11 L315.1,717.9 L315.1,714.74 L315.1,713.65 L315.1,711.59 L315.1,708.44 L315.1,707.95 L315.1,705.29 L315.1,702.13 L315.1,702.01 L315.14,698.98 L315.22,695.83 L315.22,695.83 L315.3,698.98 L315.34,702.01 L315.34,702.13 L315.34,705.29 L315.34,707.95 L315.34,708.44 L315.34,711.59 L315.34,713.65 L315.34,714.74 L315.34,717.9 L315.34,719.11 L315.38,721.05 L315.47,724.2 L315.48,724.32 L315.6,727.36 L315.7,729.3 L315.76,730.51 L315.96,733.66 L315.99,734.03 L316.19,736.81 L316.33,738.51 L316.44,739.97 L316.66,742.76 L316.69,743.12 L316.91,746.27 L316.94,746.76 L317.09,749.43 L317.13,750.52 L317.19,752.58 L317.22,754.03 L317.22,755.73 L317.2,757.31 L317.16,758.88 L317.1,760.34 L317.02,762.04 L316.96,763.13 L316.82,765.19 L316.79,765.67 L316.7,767.98 L316.7,768.34 L316.86,770.04 L317.33,771.49 L317.51,771.86 L318.61,773.43 L319.68,774.65 L319.79,774.77 L320.68,775.86 L321.17,776.71 L321.35,777.31 L321.37,777.68 L321.37,777.8Z" fill="#f264a6" stroke="#111" stroke-width="0.72" stroke-linejoin="round"/>
<text x="313.62" y="791.6" font-size="9" text-anchor="middle" fill="#1a1a1a" stroke="#1a1a1a" stroke-width="0.22">12</text>
<line x1="315.22" y1="782.2" x2="315.22" y2="784" stroke="#444" stroke-width="0.7"/>
<line x1="190.4" y1="691.7" x2="190.4" y2="782.2" stroke="#444" stroke-width="0.9"/>
<line x1="190" y1="782.2" x2="321.2" y2="782.2" stroke="#444" stroke-width="0.9"/>
<line x1="188.4" y1="701.9" x2="190.4" y2="701.9" stroke="#444" stroke-width="0.8"/>
<text x="184.6" y="705" font-size="9.3" text-anchor="end" fill="#1a1a1a" stroke="#1a1a1a" stroke-width="0.22">2.0</text>
<line x1="188.4" y1="720.88" x2="190.4" y2="720.88" stroke="#444" stroke-width="0.8"/>
<text x="184.6" y="723.98" font-size="9.3" text-anchor="end" fill="#1a1a1a" stroke="#1a1a1a" stroke-width="0.22">1.5</text>
<line x1="188.4" y1="739.85" x2="190.4" y2="739.85" stroke="#444" stroke-width="0.8"/>
<text x="184.6" y="742.95" font-size="9.3" text-anchor="end" fill="#1a1a1a" stroke="#1a1a1a" stroke-width="0.22">1.0</text>
<line x1="188.4" y1="758.82" x2="190.4" y2="758.82" stroke="#444" stroke-width="0.8"/>
<text x="184.6" y="761.92" font-size="9.3" text-anchor="end" fill="#1a1a1a" stroke="#1a1a1a" stroke-width="0.22">0.5</text>
<line x1="188.4" y1="777.8" x2="190.4" y2="777.8" stroke="#444" stroke-width="0.8"/>
<text x="184.6" y="780.9" font-size="9.3" text-anchor="end" fill="#1a1a1a" stroke="#1a1a1a" stroke-width="0.22">0.0</text>
<text x="167.7" y="740" font-size="9.8" text-anchor="middle" fill="#1a1a1a" transform="rotate(-90 167.7 740)" stroke="#1a1a1a" stroke-width="0.22">Expression Level</text>
<path d="M190.4,908.5 L190.62,908.44 L192.75,908.24 L194.28,907.92 L194.28,907.48 L194.28,906.9 L194.28,906.84 L194.28,906.2 L194.28,905.37 L194.28,905.17 L194.28,904.41 L194.28,903.51 L194.28,903.32 L194.28,902.1 L194.28,901.85 L194.28,900.76 L194.28,900.18 L194.28,899.29 L194.28,898.52 L194.28,897.69 L194.28,896.86 L194.28,895.96 L194.28,895.19 L194.28,894.11 L194.28,893.53 L194.28,892.12 L194.28,891.87 L194.28,890.2 L194.28,890.01 L194.28,888.54 L194.28,887.77 L194.28,886.88 L194.28,885.41 L194.28,885.21 L194.28,883.55 L194.28,882.91 L194.28,881.89 L194.28,880.29 L194.28,880.22 L194.28,878.56 L194.28,877.54 L194.28,876.9 L194.28,875.23 L194.28,874.66 L194.28,873.57 L194.28,871.91 L194.28,871.65 L194.28,870.24 L194.28,868.58 L194.28,868.52 L194.32,866.92 L194.4,865.25 L194.4,865.25 L194.4,865.25 L194.4,865.25 L194.48,866.92 L194.52,868.52 L194.52,868.58 L194.52,870.24 L194.52,871.65 L194.52,871.91 L194.52,873.57 L194.52,874.66 L194.52,875.23 L194.52,876.9 L194.52,877.54 L194.52,878.56 L194.52,880.22 L194.52,880.29 L194.52,881.89 L194.52,882.91 L194.52,883.55 L194.52,885.21 L194.52,885.41 L194.52,886.88 L194.52,887.77 L194.52,888.54 L194.52,890.01 L194.52,890.2 L194.52,891.87 L194.52,892.12 L194.52,893.53 L194.52,894.11 L194.52,895.19 L194.52,895.96 L194.52,896.86 L194.52,897.69 L194.52,898.52 L194.52,899.29 L194.52,900.18 L194.52,900.76 L194.52,901.85 L194.52,902.1 L194.52,903.32 L194.52,903.51 L194.52,904.41 L194.52,905.17 L194.52,905.37 L194.52,906.2 L194.52,906.84 L194.52,906.9 L194.52,907.48 L194.52,907.92 L196.05,908.24 L198.18,908.44 L198.4,908.5Z" fill="#f07870" stroke="#111" stroke-width="0.72" stroke-linejoin="round"/>
<text x="194" y="921.8" font-size="9" text-anchor="middle" fill="#1a1a1a" stroke="#1a1a1a" stroke-width="0.22">1</text>
<line x1="194.4" y1="913.1" x2="194.4" y2="914.9" stroke="#444" stroke-width="0.7"/>
<path d="M199.62,908.5 L199.62,908.38 L199.66,908.04 L199.87,907.46 L200.43,906.66 L201.4,905.62 L201.51,905.51 L202.56,904.35 L203.48,902.86 L203.61,902.51 L203.89,901.13 L203.9,899.52 L203.89,899.17 L203.74,896.99 L203.71,896.52 L203.58,894.57 L203.53,893.53 L203.46,891.92 L203.43,890.54 L203.42,889.04 L203.44,887.54 L203.49,885.93 L203.55,884.55 L203.67,882.59 L203.74,881.56 L203.94,879.02 L203.98,878.56 L204.23,875.57 L204.26,875.22 L204.46,872.57 L204.55,871.19 L204.65,869.58 L204.78,866.93 L204.79,866.59 L204.89,863.59 L204.9,862.44 L204.9,860.6 L204.9,857.72 L204.9,857.6 L204.9,854.61 L204.9,852.77 L204.9,851.62 L204.9,848.62 L204.9,847.59 L204.9,845.63 L204.9,842.63 L204.9,842.17 L204.9,839.64 L204.9,836.65 L204.9,836.53 L204.94,833.65 L205.02,830.66 L205.02,830.66 L205.1,833.65 L205.14,836.53 L205.14,836.65 L205.14,839.64 L205.14,842.17 L205.14,842.63 L205.14,845.63 L205.14,847.59 L205.14,848.62 L205.14,851.62 L205.14,852.77 L205.14,854.61 L205.14,857.6 L205.14,857.72 L205.14,860.6 L205.14,862.44 L205.15,863.59 L205.25,866.59 L205.26,866.93 L205.39,869.58 L205.49,871.19 L205.58,872.57 L205.78,875.22 L205.81,875.57 L206.06,878.56 L206.1,879.02 L206.3,881.56 L206.37,882.59 L206.49,884.55 L206.55,885.93 L206.6,887.54 L206.62,889.04 L206.61,890.54 L206.58,891.92 L206.51,893.53 L206.46,894.57 L206.33,896.52 L206.3,896.99 L206.15,899.17 L206.14,899.52 L206.15,901.13 L206.43,902.51 L206.56,902.86 L207.48,904.35 L208.53,905.51 L208.64,905.62 L209.61,906.66 L210.17,907.46 L210.38,908.04 L210.42,908.38 L210.42,908.5Z" fill="#dc8a28" stroke="#111" stroke-width="0.72" stroke-linejoin="round"/>
<text x="204.7" y="921.8" font-size="9" text-anchor="middle" fill="#1a1a1a" stroke="#1a1a1a" stroke-width="0.22">2</text>
<line x1="205.02" y1="913.1" x2="205.02" y2="914.9" stroke="#444" stroke-width="0.7"/>
<path d="M212.14,908.5 L212.15,908.43 L212.28,908.23 L212.79,907.89 L213.8,907.41 L214.92,906.79 L215,906.73 L215.51,906.04 L215.52,905.16 L215.52,904.95 L215.52,904.13 L215.52,903.18 L215.52,902.97 L215.52,901.68 L215.52,901.4 L215.52,900.24 L215.52,899.63 L215.52,898.67 L215.52,897.86 L215.52,896.97 L215.52,896.08 L215.52,895.13 L215.52,894.31 L215.52,893.15 L215.52,892.53 L215.52,891.03 L215.52,890.76 L215.52,888.98 L215.52,888.78 L215.52,887.21 L215.52,886.39 L215.52,885.44 L215.52,883.87 L215.52,883.66 L215.52,881.89 L215.52,881.21 L215.52,880.11 L215.52,878.41 L215.52,878.34 L215.52,876.57 L215.52,875.47 L215.52,874.79 L215.52,873.02 L215.52,872.4 L215.52,871.24 L215.52,869.47 L215.52,869.2 L215.52,867.69 L215.52,865.92 L215.52,865.85 L215.56,864.15 L215.64,862.37 L215.64,862.37 L215.64,862.37 L215.64,862.37 L215.72,864.15 L215.76,865.85 L215.76,865.92 L215.76,867.69 L215.76,869.2 L215.76,869.47 L215.76,871.24 L215.76,872.4 L215.76,873.02 L215.76,874.79 L215.76,875.47 L215.76,876.57 L215.76,878.34 L215.76,878.41 L215.76,880.11 L215.76,881.21 L215.76,881.89 L215.76,883.66 L215.76,883.87 L215.76,885.44 L215.76,886.39 L215.76,887.21 L215.76,888.78 L215.76,888.98 L215.76,890.76 L215.76,891.03 L215.76,892.53 L215.76,893.15 L215.76,894.31 L215.76,895.13 L215.76,896.08 L215.76,896.97 L215.76,897.86 L215.76,898.67 L215.76,899.63 L215.76,900.24 L215.76,901.4 L215.76,901.68 L215.76,902.97 L215.76,903.18 L215.76,904.13 L215.76,904.95 L215.76,905.16 L215.77,906.04 L216.28,906.73 L216.36,906.79 L217.48,907.41 L218.49,907.89 L219,908.23 L219.13,908.43 L219.14,908.5Z" fill="#b4a030" stroke="#111" stroke-width="0.72" stroke-linejoin="round"/>
<text x="215.4" y="921.8" font-size="9" text-anchor="middle" fill="#1a1a1a" stroke="#1a1a1a" stroke-width="0.22">3</text>
<line x1="215.64" y1="913.1" x2="215.64" y2="914.9" stroke="#444" stroke-width="0.7"/>
<path d="M220.98,908.5 L220.98,908.4 L221.03,908.11 L221.26,907.63 L221.84,906.95 L222.84,906.08 L222.96,905.99 L224.04,905.02 L225,903.76 L225.13,903.47 L225.43,902.31 L225.48,900.96 L225.46,900.67 L225.34,898.83 L225.31,898.45 L225.19,896.8 L225.12,895.93 L225.03,894.58 L224.95,893.42 L224.88,892.16 L224.83,890.91 L224.79,889.55 L224.77,888.39 L224.76,886.75 L224.77,885.88 L224.83,883.75 L224.85,883.37 L224.98,880.85 L225,880.56 L225.16,878.34 L225.24,877.18 L225.35,875.83 L225.52,873.6 L225.55,873.31 L225.72,870.8 L225.79,869.83 L225.88,868.29 L226,865.87 L226,865.77 L226.09,863.26 L226.13,861.71 L226.14,860.75 L226.14,858.23 L226.14,857.36 L226.14,855.72 L226.14,853.21 L226.14,852.82 L226.14,850.69 L226.14,848.18 L226.14,848.08 L226.18,845.67 L226.26,843.15 L226.26,843.15 L226.26,843.15 L226.26,843.15 L226.34,845.67 L226.38,848.08 L226.38,848.18 L226.38,850.69 L226.38,852.82 L226.38,853.21 L226.38,855.72 L226.38,857.36 L226.38,858.23 L226.38,860.75 L226.39,861.71 L226.43,863.26 L226.52,865.77 L226.52,865.87 L226.64,868.29 L226.73,869.83 L226.8,870.8 L226.97,873.31 L227,873.6 L227.17,875.83 L227.28,877.18 L227.36,878.34 L227.52,880.56 L227.54,880.85 L227.67,883.37 L227.69,883.75 L227.75,885.88 L227.76,886.75 L227.75,888.39 L227.73,889.55 L227.69,890.91 L227.64,892.16 L227.57,893.42 L227.49,894.58 L227.4,895.93 L227.33,896.8 L227.21,898.45 L227.18,898.83 L227.06,900.67 L227.04,900.96 L227.09,902.31 L227.39,903.47 L227.52,903.76 L228.48,905.02 L229.56,905.99 L229.68,906.08 L230.68,906.95 L231.26,907.63 L231.49,908.11 L231.54,908.4 L231.54,908.5Z" fill="#84ae3c" stroke="#111" stroke-width="0.72" stroke-linejoin="round"/>
<text x="226.1" y="921.8" font-size="9" text-anchor="middle" fill="#1a1a1a" stroke="#1a1a1a" stroke-width="0.22">4</text>
<line x1="226.26" y1="913.1" x2="226.26" y2="914.9" stroke="#444" stroke-width="0.7"/>
<path d="M232.88,908.5 L233.34,908.4 L236.32,908.12 L236.76,907.64 L236.76,906.98 L236.76,906.12 L236.76,906.02 L236.76,905.07 L236.76,903.83 L236.76,903.55 L236.76,902.4 L236.76,901.07 L236.76,900.78 L236.76,898.98 L236.76,898.59 L236.76,896.98 L236.76,896.12 L236.76,894.78 L236.76,893.64 L236.76,892.4 L236.76,891.17 L236.76,889.83 L236.76,888.69 L236.76,887.07 L236.76,886.21 L236.76,884.12 L236.76,883.74 L236.76,881.26 L236.76,880.97 L236.76,878.78 L236.76,877.64 L236.76,876.31 L236.76,874.12 L236.76,873.83 L236.76,871.35 L236.76,870.4 L236.76,868.88 L236.76,866.5 L236.76,866.4 L236.76,863.92 L236.76,862.4 L236.76,861.45 L236.76,858.97 L236.76,858.11 L236.76,856.5 L236.76,854.02 L236.76,853.64 L236.76,851.54 L236.76,849.07 L236.76,848.97 L236.8,846.59 L236.88,844.11 L236.88,844.11 L236.96,846.59 L237,848.97 L237,849.07 L237,851.54 L237,853.64 L237,854.02 L237,856.5 L237,858.11 L237,858.97 L237,861.45 L237,862.4 L237,863.92 L237,866.4 L237,866.5 L237,868.88 L237,870.4 L237,871.35 L237,873.83 L237,874.12 L237,876.31 L237,877.64 L237,878.78 L237,880.97 L237,881.26 L237,883.74 L237,884.12 L237,886.21 L237,887.07 L237,888.69 L237,889.83 L237,891.17 L237,892.4 L237,893.64 L237,894.78 L237,896.12 L237,896.98 L237,898.59 L237,898.98 L237,900.78 L237,901.07 L237,902.4 L237,903.55 L237,903.83 L237,905.07 L237,906.02 L237,906.12 L237,906.98 L237,907.64 L237.44,908.12 L240.42,908.4 L240.88,908.5Z" fill="#22b04a" stroke="#111" stroke-width="0.72" stroke-linejoin="round"/>
<text x="236.8" y="921.8" font-size="9" text-anchor="middle" fill="#1a1a1a" stroke="#1a1a1a" stroke-width="0.22">5</text>
<line x1="236.88" y1="913.1" x2="236.88" y2="914.9" stroke="#444" stroke-width="0.7"/>
<path d="M243.5,908.5 L243.57,908.46 L244.52,908.35 L246.61,908.17 L247.38,907.91 L247.38,907.58 L247.38,907.54 L247.38,907.17 L247.38,906.69 L247.38,906.58 L247.38,906.13 L247.38,905.62 L247.38,905.51 L247.38,904.8 L247.38,904.66 L247.38,904.03 L247.38,903.7 L247.38,903.18 L247.38,902.73 L247.38,902.25 L247.38,901.77 L247.38,901.26 L247.38,900.81 L247.38,900.18 L247.38,899.85 L247.38,899.04 L247.38,898.89 L247.38,897.93 L247.38,897.82 L247.38,896.97 L247.38,896.52 L247.38,896.01 L247.38,895.16 L247.38,895.05 L247.38,894.09 L247.38,893.72 L247.38,893.12 L247.38,892.2 L247.38,892.16 L247.38,891.2 L247.38,890.61 L247.38,890.24 L247.38,889.28 L247.38,888.95 L247.38,888.32 L247.38,887.36 L247.38,887.21 L247.38,886.4 L247.38,885.44 L247.38,885.4 L247.42,884.48 L247.5,883.51 L247.5,883.51 L247.58,884.48 L247.62,885.4 L247.62,885.44 L247.62,886.4 L247.62,887.21 L247.62,887.36 L247.62,888.32 L247.62,888.95 L247.62,889.28 L247.62,890.24 L247.62,890.61 L247.62,891.2 L247.62,892.16 L247.62,892.2 L247.62,893.12 L247.62,893.72 L247.62,894.09 L247.62,895.05 L247.62,895.16 L247.62,896.01 L247.62,896.52 L247.62,896.97 L247.62,897.82 L247.62,897.93 L247.62,898.89 L247.62,899.04 L247.62,899.85 L247.62,900.18 L247.62,900.81 L247.62,901.26 L247.62,901.77 L247.62,902.25 L247.62,902.73 L247.62,903.18 L247.62,903.7 L247.62,904.03 L247.62,904.66 L247.62,904.8 L247.62,905.51 L247.62,905.62 L247.62,906.13 L247.62,906.58 L247.62,906.69 L247.62,907.17 L247.62,907.54 L247.62,907.58 L247.62,907.91 L248.39,908.17 L250.48,908.35 L251.43,908.46 L251.5,908.5Z" fill="#1ebd8e" stroke="#111" stroke-width="0.72" stroke-linejoin="round"/>
<text x="247.5" y="921.8" font-size="9" text-anchor="middle" fill="#1a1a1a" stroke="#1a1a1a" stroke-width="0.22">6</text>
<line x1="247.5" y1="913.1" x2="247.5" y2="914.9" stroke="#444" stroke-width="0.7"/>
<path d="M254.12,908.5 L254.13,908.41 L254.23,908.15 L254.67,907.72 L255.6,907.11 L256.83,906.33 L256.94,906.25 L257.74,905.38 L258,904.25 L258,903.99 L258,902.95 L258,901.74 L258,901.48 L258,899.83 L258,899.48 L258,898.01 L258,897.23 L258,896.01 L258,894.97 L258,893.84 L258,892.72 L258,891.5 L258,890.46 L258,888.99 L258,888.21 L258,886.3 L258,885.95 L258,883.7 L258,883.44 L258,881.44 L258,880.4 L258,879.19 L258,877.19 L258,876.93 L258,874.68 L258,873.81 L258,872.43 L258,870.26 L258,870.17 L258,867.92 L258,866.53 L258,865.66 L258,863.41 L258,862.63 L258,861.15 L258,858.9 L258,858.55 L258,856.64 L258,854.39 L258,854.3 L258.04,852.13 L258.12,849.88 L258.12,849.88 L258.2,852.13 L258.24,854.3 L258.24,854.39 L258.24,856.64 L258.24,858.55 L258.24,858.9 L258.24,861.15 L258.24,862.63 L258.24,863.41 L258.24,865.66 L258.24,866.53 L258.24,867.92 L258.24,870.17 L258.24,870.26 L258.24,872.43 L258.24,873.81 L258.24,874.68 L258.24,876.93 L258.24,877.19 L258.24,879.19 L258.24,880.4 L258.24,881.44 L258.24,883.44 L258.24,883.7 L258.24,885.95 L258.24,886.3 L258.24,888.21 L258.24,888.99 L258.24,890.46 L258.24,891.5 L258.24,892.72 L258.24,893.84 L258.24,894.97 L258.24,896.01 L258.24,897.23 L258.24,898.01 L258.24,899.48 L258.24,899.83 L258.24,901.48 L258.24,901.74 L258.24,902.95 L258.24,903.99 L258.24,904.25 L258.5,905.38 L259.3,906.25 L259.41,906.33 L260.64,907.11 L261.57,907.72 L262.01,908.15 L262.11,908.41 L262.12,908.5Z" fill="#1bbcc4" stroke="#111" stroke-width="0.72" stroke-linejoin="round"/>
<text x="258.2" y="921.8" font-size="9" text-anchor="middle" fill="#1a1a1a" stroke="#1a1a1a" stroke-width="0.22">7</text>
<line x1="258.12" y1="913.1" x2="258.12" y2="914.9" stroke="#444" stroke-width="0.7"/>
<path d="M264.24,908.5 L264.24,908.4 L264.3,908.11 L264.53,907.63 L265.08,906.95 L266.03,906.08 L266.14,905.99 L267.16,905.02 L268.1,903.76 L268.24,903.47 L268.58,902.31 L268.62,900.96 L268.62,900.67 L268.62,898.83 L268.62,898.45 L268.62,896.8 L268.62,895.93 L268.62,894.58 L268.62,893.42 L268.62,892.16 L268.62,890.91 L268.62,889.55 L268.62,888.39 L268.62,886.75 L268.62,885.88 L268.62,883.75 L268.62,883.37 L268.62,880.85 L268.62,880.56 L268.62,878.34 L268.62,877.18 L268.62,875.83 L268.62,873.6 L268.62,873.31 L268.62,870.8 L268.62,869.83 L268.62,868.29 L268.62,865.87 L268.62,865.77 L268.62,863.26 L268.62,861.71 L268.62,860.75 L268.62,858.23 L268.62,857.36 L268.62,855.72 L268.62,853.21 L268.62,852.82 L268.62,850.69 L268.62,848.18 L268.62,848.08 L268.66,845.67 L268.74,843.15 L268.74,843.15 L268.74,843.15 L268.74,843.15 L268.82,845.67 L268.86,848.08 L268.86,848.18 L268.86,850.69 L268.86,852.82 L268.86,853.21 L268.86,855.72 L268.86,857.36 L268.86,858.23 L268.86,860.75 L268.86,861.71 L268.86,863.26 L268.86,865.77 L268.86,865.87 L268.86,868.29 L268.86,869.83 L268.86,870.8 L268.86,873.31 L268.86,873.6 L268.86,875.83 L268.86,877.18 L268.86,878.34 L268.86,880.56 L268.86,880.85 L268.86,883.37 L268.86,883.75 L268.86,885.88 L268.86,886.75 L268.86,888.39 L268.86,889.55 L268.86,890.91 L268.86,892.16 L268.86,893.42 L268.86,894.58 L268.86,895.93 L268.86,896.8 L268.86,898.45 L268.86,898.83 L268.86,900.67 L268.86,900.96 L268.9,902.31 L269.24,903.47 L269.38,903.76 L270.32,905.02 L271.34,905.99 L271.45,906.08 L272.4,906.95 L272.95,907.63 L273.18,908.11 L273.24,908.4 L273.24,908.5Z" fill="#1fb0ec" stroke="#111" stroke-width="0.72" stroke-linejoin="round"/>
<text x="268.9" y="921.8" font-size="9" text-anchor="middle" fill="#1a1a1a" stroke="#1a1a1a" stroke-width="0.22">8</text>
<line x1="268.74" y1="913.1" x2="268.74" y2="914.9" stroke="#444" stroke-width="0.7"/>
<path d="M274.46,908.5 L274.46,908.38 L274.46,908.02 L274.53,907.43 L274.72,906.59 L275.12,905.51 L275.17,905.4 L275.74,904.2 L276.5,902.65 L276.66,902.29 L277.2,900.86 L277.56,899.19 L277.6,898.83 L277.6,896.56 L277.55,896.08 L277.22,894.05 L277,892.98 L276.61,891.3 L276.26,889.87 L275.88,888.32 L275.52,886.77 L275.16,885.09 L274.89,883.66 L274.57,881.63 L274.44,880.56 L274.22,877.93 L274.19,877.45 L274.11,874.35 L274.1,873.99 L274.11,871.24 L274.12,869.81 L274.13,868.14 L274.12,865.39 L274.12,865.03 L274.1,861.93 L274.11,860.73 L274.15,858.82 L274.33,855.84 L274.34,855.72 L274.73,852.61 L275.06,850.7 L275.31,849.51 L276.03,846.4 L276.29,845.33 L276.79,843.3 L277.51,840.2 L277.62,839.72 L278.12,837.09 L278.59,833.99 L278.6,833.87 L279.07,830.88 L279.36,827.78 L279.36,827.78 L279.65,830.88 L280.12,833.87 L280.13,833.99 L280.6,837.09 L281.1,839.72 L281.21,840.2 L281.93,843.3 L282.43,845.33 L282.69,846.4 L283.41,849.51 L283.66,850.7 L283.99,852.61 L284.38,855.72 L284.39,855.84 L284.57,858.82 L284.61,860.73 L284.62,861.93 L284.6,865.03 L284.6,865.39 L284.59,868.14 L284.6,869.81 L284.61,871.24 L284.62,873.99 L284.61,874.35 L284.53,877.45 L284.5,877.93 L284.28,880.56 L284.15,881.63 L283.83,883.66 L283.56,885.09 L283.2,886.77 L282.84,888.32 L282.46,889.87 L282.11,891.3 L281.72,892.98 L281.5,894.05 L281.17,896.08 L281.12,896.56 L281.12,898.83 L281.16,899.19 L281.52,900.86 L282.06,902.29 L282.22,902.65 L282.98,904.2 L283.55,905.4 L283.6,905.51 L284,906.59 L284.19,907.43 L284.26,908.02 L284.26,908.38 L284.26,908.5Z" fill="#6890d8" stroke="#111" stroke-width="0.72" stroke-linejoin="round"/>
<text x="279.6" y="921.8" font-size="9" text-anchor="middle" fill="#1a1a1a" stroke="#1a1a1a" stroke-width="0.22">9</text>
<line x1="279.36" y1="913.1" x2="279.36" y2="914.9" stroke="#444" stroke-width="0.7"/>
<path d="M288.45,908.5 L288.45,908.39 L288.48,908.06 L288.62,907.51 L288.94,906.75 L289.37,905.76 L289.41,905.65 L289.71,904.56 L289.82,903.14 L289.83,902.81 L289.8,901.49 L289.73,899.96 L289.71,899.63 L289.57,897.55 L289.53,897.12 L289.35,895.25 L289.24,894.27 L289.03,892.74 L288.82,891.42 L288.56,890 L288.28,888.58 L287.93,887.05 L287.62,885.73 L287.16,883.87 L286.91,882.89 L286.32,880.48 L286.22,880.04 L285.65,877.19 L285.59,876.87 L285.28,874.35 L285.2,873.03 L285.18,871.5 L285.34,868.98 L285.38,868.66 L285.82,865.81 L286.04,864.71 L286.44,862.96 L287.12,860.23 L287.15,860.12 L287.85,857.27 L288.25,855.52 L288.47,854.43 L288.98,851.58 L289.12,850.59 L289.35,848.73 L289.61,845.89 L289.64,845.45 L289.77,843.04 L289.86,840.2 L289.86,840.09 L289.9,837.35 L289.98,834.5 L289.98,834.5 L290.06,837.35 L290.1,840.09 L290.1,840.2 L290.19,843.04 L290.32,845.45 L290.35,845.89 L290.61,848.73 L290.84,850.59 L290.98,851.58 L291.49,854.43 L291.71,855.52 L292.11,857.27 L292.81,860.12 L292.84,860.23 L293.52,862.96 L293.92,864.71 L294.14,865.81 L294.58,868.66 L294.62,868.98 L294.78,871.5 L294.76,873.03 L294.68,874.35 L294.37,876.87 L294.31,877.19 L293.74,880.04 L293.64,880.48 L293.05,882.89 L292.8,883.87 L292.34,885.73 L292.03,887.05 L291.68,888.58 L291.4,890 L291.14,891.42 L290.93,892.74 L290.72,894.27 L290.61,895.25 L290.43,897.12 L290.39,897.55 L290.25,899.63 L290.23,899.96 L290.16,901.49 L290.13,902.81 L290.14,903.14 L290.25,904.56 L290.55,905.65 L290.59,905.76 L291.02,906.75 L291.34,907.51 L291.48,908.06 L291.51,908.39 L291.51,908.5Z" fill="#a87cc8" stroke="#111" stroke-width="0.72" stroke-linejoin="round"/>
<text x="290.3" y="921.8" font-size="9" text-anchor="middle" fill="#1a1a1a" stroke="#1a1a1a" stroke-width="0.22">10</text>
<line x1="289.98" y1="913.1" x2="289.98" y2="914.9" stroke="#444" stroke-width="0.7"/>
<path d="M296.1,908.5 L296.1,908.38 L296.14,908.04 L296.31,907.46 L296.73,906.66 L297.48,905.62 L297.57,905.51 L298.49,904.35 L299.5,902.86 L299.68,902.51 L300.19,901.13 L300.47,899.52 L300.48,899.17 L300.48,896.99 L300.48,896.52 L300.48,894.57 L300.48,893.53 L300.48,891.92 L300.48,890.54 L300.48,889.04 L300.48,887.54 L300.48,885.93 L300.48,884.55 L300.48,882.59 L300.48,881.56 L300.48,879.02 L300.48,878.56 L300.48,875.57 L300.48,875.22 L300.48,872.57 L300.48,871.19 L300.48,869.58 L300.48,866.93 L300.48,866.59 L300.48,863.59 L300.48,862.44 L300.48,860.6 L300.48,857.72 L300.48,857.6 L300.48,854.61 L300.48,852.77 L300.48,851.62 L300.48,848.62 L300.48,847.59 L300.48,845.63 L300.48,842.63 L300.48,842.17 L300.48,839.64 L300.48,836.65 L300.48,836.53 L300.52,833.65 L300.6,830.66 L300.6,830.66 L300.68,833.65 L300.72,836.53 L300.72,836.65 L300.72,839.64 L300.72,842.17 L300.72,842.63 L300.72,845.63 L300.72,847.59 L300.72,848.62 L300.72,851.62 L300.72,852.77 L300.72,854.61 L300.72,857.6 L300.72,857.72 L300.72,860.6 L300.72,862.44 L300.72,863.59 L300.72,866.59 L300.72,866.93 L300.72,869.58 L300.72,871.19 L300.72,872.57 L300.72,875.22 L300.72,875.57 L300.72,878.56 L300.72,879.02 L300.72,881.56 L300.72,882.59 L300.72,884.55 L300.72,885.93 L300.72,887.54 L300.72,889.04 L300.72,890.54 L300.72,891.92 L300.72,893.53 L300.72,894.57 L300.72,896.52 L300.72,896.99 L300.72,899.17 L300.73,899.52 L301.01,901.13 L301.52,902.51 L301.7,902.86 L302.71,904.35 L303.63,905.51 L303.72,905.62 L304.47,906.66 L304.89,907.46 L305.06,908.04 L305.1,908.38 L305.1,908.5Z" fill="#cc68b8" stroke="#111" stroke-width="0.72" stroke-linejoin="round"/>
<text x="301" y="921.8" font-size="9" text-anchor="middle" fill="#1a1a1a" stroke="#1a1a1a" stroke-width="0.22">11</text>
<line x1="300.6" y1="913.1" x2="300.6" y2="914.9" stroke="#444" stroke-width="0.7"/>
<path d="M305.96,908.5 L305.95,908.38 L305.97,908.01 L306.08,907.39 L306.38,906.52 L306.96,905.41 L307.04,905.28 L307.83,904.05 L308.82,902.44 L309.02,902.07 L309.65,900.58 L310.06,898.85 L310.1,898.48 L310.19,896.13 L310.18,895.64 L310.06,893.53 L309.98,892.42 L309.84,890.69 L309.72,889.21 L309.6,887.6 L309.48,885.99 L309.36,884.26 L309.26,882.77 L309.15,880.67 L309.11,879.56 L309.04,876.84 L309.03,876.34 L309.03,873.13 L309.04,872.76 L309.12,869.91 L309.18,868.43 L309.28,866.7 L309.47,863.85 L309.49,863.48 L309.74,860.27 L309.84,859.03 L310.01,857.05 L310.25,853.96 L310.26,853.83 L310.49,850.62 L310.61,848.64 L310.68,847.4 L310.84,844.19 L310.89,843.07 L310.96,840.97 L311.05,837.76 L311.06,837.26 L311.1,834.54 L311.1,831.32 L311.1,831.2 L311.14,828.11 L311.22,824.89 L311.22,824.89 L311.3,828.11 L311.34,831.2 L311.34,831.32 L311.34,834.54 L311.38,837.26 L311.39,837.76 L311.48,840.97 L311.55,843.07 L311.6,844.19 L311.76,847.4 L311.83,848.64 L311.95,850.62 L312.18,853.83 L312.19,853.96 L312.43,857.05 L312.6,859.03 L312.7,860.27 L312.95,863.48 L312.97,863.85 L313.16,866.7 L313.26,868.43 L313.32,869.91 L313.4,872.76 L313.41,873.13 L313.41,876.34 L313.4,876.84 L313.33,879.56 L313.29,880.67 L313.18,882.77 L313.08,884.26 L312.96,885.99 L312.84,887.6 L312.72,889.21 L312.6,890.69 L312.46,892.42 L312.38,893.53 L312.26,895.64 L312.25,896.13 L312.34,898.48 L312.38,898.85 L312.79,900.58 L313.42,902.07 L313.62,902.44 L314.61,904.05 L315.4,905.28 L315.48,905.41 L316.06,906.52 L316.36,907.39 L316.47,908.01 L316.49,908.38 L316.48,908.5Z" fill="#f264a6" stroke="#111" stroke-width="0.72" stroke-linejoin="round"/>
<text x="311.7" y="921.8" font-size="9" text-anchor="middle" fill="#1a1a1a" stroke="#1a1a1a" stroke-width="0.22">12</text>
<line x1="311.22" y1="913.1" x2="311.22" y2="914.9" stroke="#444" stroke-width="0.7"/>
<line x1="188.4" y1="820.3" x2="188.4" y2="913.1" stroke="#444" stroke-width="0.9"/>
<line x1="188" y1="913.1" x2="316.9" y2="913.1" stroke="#444" stroke-width="0.9"/>
<line x1="186.4" y1="836.42" x2="188.4" y2="836.42" stroke="#444" stroke-width="0.8"/>
<text x="184.9" y="839.52" font-size="9.3" text-anchor="end" fill="#1a1a1a" stroke="#1a1a1a" stroke-width="0.22">0.75</text>
<line x1="186.4" y1="860.45" x2="188.4" y2="860.45" stroke="#444" stroke-width="0.8"/>
<text x="184.9" y="863.55" font-size="9.3" text-anchor="end" fill="#1a1a1a" stroke="#1a1a1a" stroke-width="0.22">0.50</text>
<line x1="186.4" y1="884.48" x2="188.4" y2="884.48" stroke="#444" stroke-width="0.8"/>
<text x="184.9" y="887.58" font-size="9.3" text-anchor="end" fill="#1a1a1a" stroke="#1a1a1a" stroke-width="0.22">0.25</text>
<line x1="186.4" y1="908.5" x2="188.4" y2="908.5" stroke="#444" stroke-width="0.8"/>
<text x="184.9" y="911.6" font-size="9.3" text-anchor="end" fill="#1a1a1a" stroke="#1a1a1a" stroke-width="0.22">0.00</text>
<text x="165.5" y="869" font-size="9.8" text-anchor="middle" fill="#1a1a1a" transform="rotate(-90 165.5 869)" stroke="#1a1a1a" stroke-width="0.22">Expression Level</text>
<clipPath id="clipuea1"><path d="M380.5,77.3C380.5,73.9 380.82,67.85 381.6,64.2C382.38,60.55 383.62,57.95 385.2,55.4C386.78,52.85 388.67,50.72 391.1,48.9C393.54,47.09 396.4,45.6 399.8,44.5C403.2,43.4 407.6,42.55 411.5,42.3C415.4,42.05 419.55,42.52 423.2,43C426.85,43.48 430.23,45.01 433.4,45.2C436.57,45.38 440.02,44.1 442.2,44.1C444.38,44.1 445.05,44.03 446.5,45.2C447.95,46.37 449.07,49.4 450.9,51.1C452.73,52.8 456.03,53.7 457.5,55.4C458.96,57.1 458.85,59.35 459.7,61.3C460.55,63.25 461.38,65.89 462.6,67.1C463.82,68.32 466.15,67.62 467,68.6C467.85,69.58 468.2,71.05 467.7,73C467.2,74.95 465.1,78.11 464,80.3C462.9,82.48 462.18,83.91 461.1,86.1C460.02,88.28 458.21,91.21 457.5,93.4C456.78,95.58 457.9,97.35 456.8,99.2C455.7,101.05 452.85,103.03 450.9,104.5C448.95,105.96 447.53,106.93 445.1,108C442.67,109.07 439.71,110.05 436.3,110.9C432.88,111.75 428.48,112.62 424.6,113.1C420.72,113.58 416.65,113.49 413,113.8C409.35,114.12 405.87,115.48 402.7,115C399.53,114.51 396.43,112.8 394,110.9C391.57,109 389.69,106.52 388.1,103.6C386.52,100.69 385.58,96.56 384.5,93.4C383.42,90.23 382.27,87.28 381.6,84.6C380.93,81.92 380.5,80.7 380.5,77.3Z"/></clipPath>
<path d="M380.5,77.3C380.5,73.9 380.82,67.85 381.6,64.2C382.38,60.55 383.62,57.95 385.2,55.4C386.78,52.85 388.67,50.72 391.1,48.9C393.54,47.09 396.4,45.6 399.8,44.5C403.2,43.4 407.6,42.55 411.5,42.3C415.4,42.05 419.55,42.52 423.2,43C426.85,43.48 430.23,45.01 433.4,45.2C436.57,45.38 440.02,44.1 442.2,44.1C444.38,44.1 445.05,44.03 446.5,45.2C447.95,46.37 449.07,49.4 450.9,51.1C452.73,52.8 456.03,53.7 457.5,55.4C458.96,57.1 458.85,59.35 459.7,61.3C460.55,63.25 461.38,65.89 462.6,67.1C463.82,68.32 466.15,67.62 467,68.6C467.85,69.58 468.2,71.05 467.7,73C467.2,74.95 465.1,78.11 464,80.3C462.9,82.48 462.18,83.91 461.1,86.1C460.02,88.28 458.21,91.21 457.5,93.4C456.78,95.58 457.9,97.35 456.8,99.2C455.7,101.05 452.85,103.03 450.9,104.5C448.95,105.96 447.53,106.93 445.1,108C442.67,109.07 439.71,110.05 436.3,110.9C432.88,111.75 428.48,112.62 424.6,113.1C420.72,113.58 416.65,113.49 413,113.8C409.35,114.12 405.87,115.48 402.7,115C399.53,114.51 396.43,112.8 394,110.9C391.57,109 389.69,106.52 388.1,103.6C386.52,100.69 385.58,96.56 384.5,93.4C383.42,90.23 382.27,87.28 381.6,84.6C380.93,81.92 380.5,80.7 380.5,77.3Z" fill="#d6cccb"/>
<g clip-path="url(#clipuea1)"><g filter="url(#blur3)">
<ellipse cx="395.6" cy="102.43" rx="12.6" ry="11.07" fill="#fff" opacity="0.4"/>
<ellipse cx="417.65" cy="87.67" rx="9.45" ry="11.07" fill="#fff" opacity="0.25"/>
<ellipse cx="462.38" cy="69.22" rx="6.3" ry="16.97" fill="#d8402c" opacity="0.45"/>
<ellipse cx="453.56" cy="54.46" rx="5.67" ry="7.38" fill="#d8402c" opacity="0.3"/>
<ellipse cx="439.7" cy="100.95" rx="15.75" ry="11.07" fill="#d8402c" opacity="0.1"/>
</g>
<path d="M380.5,77.3C380.5,73.9 380.82,67.85 381.6,64.2C382.38,60.55 383.62,57.95 385.2,55.4C386.78,52.85 388.67,50.72 391.1,48.9C393.54,47.09 396.4,45.6 399.8,44.5C403.2,43.4 407.6,42.55 411.5,42.3C415.4,42.05 419.55,42.52 423.2,43C426.85,43.48 430.23,45.01 433.4,45.2C436.57,45.38 440.02,44.1 442.2,44.1C444.38,44.1 445.05,44.03 446.5,45.2C447.95,46.37 449.07,49.4 450.9,51.1C452.73,52.8 456.03,53.7 457.5,55.4C458.96,57.1 458.85,59.35 459.7,61.3C460.55,63.25 461.38,65.89 462.6,67.1C463.82,68.32 466.15,67.62 467,68.6C467.85,69.58 468.2,71.05 467.7,73C467.2,74.95 465.1,78.11 464,80.3C462.9,82.48 462.18,83.91 461.1,86.1C460.02,88.28 458.21,91.21 457.5,93.4C456.78,95.58 457.9,97.35 456.8,99.2C455.7,101.05 452.85,103.03 450.9,104.5C448.95,105.96 447.53,106.93 445.1,108C442.67,109.07 439.71,110.05 436.3,110.9C432.88,111.75 428.48,112.62 424.6,113.1C420.72,113.58 416.65,113.49 413,113.8C409.35,114.12 405.87,115.48 402.7,115C399.53,114.51 396.43,112.8 394,110.9C391.57,109 389.69,106.52 388.1,103.6C386.52,100.69 385.58,96.56 384.5,93.4C383.42,90.23 382.27,87.28 381.6,84.6C380.93,81.92 380.5,80.7 380.5,77.3Z" fill="none" stroke="#fff" stroke-width="6" opacity="0.7" filter="url(#blur3)"/>
</g>
<path d="M380.5,77.3C380.5,73.9 380.82,67.85 381.6,64.2C382.38,60.55 383.62,57.95 385.2,55.4C386.78,52.85 388.67,50.72 391.1,48.9C393.54,47.09 396.4,45.6 399.8,44.5C403.2,43.4 407.6,42.55 411.5,42.3C415.4,42.05 419.55,42.52 423.2,43C426.85,43.48 430.23,45.01 433.4,45.2C436.57,45.38 440.02,44.1 442.2,44.1C444.38,44.1 445.05,44.03 446.5,45.2C447.95,46.37 449.07,49.4 450.9,51.1C452.73,52.8 456.03,53.7 457.5,55.4C458.96,57.1 458.85,59.35 459.7,61.3C460.55,63.25 461.38,65.89 462.6,67.1C463.82,68.32 466.15,67.62 467,68.6C467.85,69.58 468.2,71.05 467.7,73C467.2,74.95 465.1,78.11 464,80.3C462.9,82.48 462.18,83.91 461.1,86.1C460.02,88.28 458.21,91.21 457.5,93.4C456.78,95.58 457.9,97.35 456.8,99.2C455.7,101.05 452.85,103.03 450.9,104.5C448.95,105.96 447.53,106.93 445.1,108C442.67,109.07 439.71,110.05 436.3,110.9C432.88,111.75 428.48,112.62 424.6,113.1C420.72,113.58 416.65,113.49 413,113.8C409.35,114.12 405.87,115.48 402.7,115C399.53,114.51 396.43,112.8 394,110.9C391.57,109 389.69,106.52 388.1,103.6C386.52,100.69 385.58,96.56 384.5,93.4C383.42,90.23 382.27,87.28 381.6,84.6C380.93,81.92 380.5,80.7 380.5,77.3Z" fill="#fff" filter="url(#speck)" opacity="0.6"/>
<line x1="375.8" y1="35.8" x2="375.8" y2="125" stroke="#444" stroke-width="0.9"/>
<line x1="375.4" y1="125" x2="474.5" y2="125" stroke="#444" stroke-width="0.9"/>
<line x1="373.8" y1="54.2" x2="375.8" y2="54.2" stroke="#444" stroke-width="0.8"/>
<text x="371.4" y="57" font-size="9" text-anchor="end" fill="#1a1a1a" stroke="#1a1a1a" stroke-width="0.22">3</text>
<line x1="373.8" y1="76.6" x2="375.8" y2="76.6" stroke="#444" stroke-width="0.8"/>
<text x="371.4" y="79.4" font-size="9" text-anchor="end" fill="#1a1a1a" stroke="#1a1a1a" stroke-width="0.22">0</text>
<line x1="373.8" y1="99.1" x2="375.8" y2="99.1" stroke="#444" stroke-width="0.8"/>
<text x="371.4" y="101.9" font-size="9" text-anchor="end" fill="#1a1a1a" stroke="#1a1a1a" stroke-width="0.22">-3</text>
<line x1="373.8" y1="120.6" x2="375.8" y2="120.6" stroke="#444" stroke-width="0.8"/>
<text x="371.4" y="123.4" font-size="9" text-anchor="end" fill="#1a1a1a" stroke="#1a1a1a" stroke-width="0.22">-6</text>
<line x1="382.9" y1="125" x2="382.9" y2="127" stroke="#444" stroke-width="0.8"/>
<text x="382.9" y="136.3" font-size="9" text-anchor="middle" fill="#1a1a1a" stroke="#1a1a1a" stroke-width="0.22">-5</text>
<line x1="414.6" y1="125" x2="414.6" y2="127" stroke="#444" stroke-width="0.8"/>
<text x="414.6" y="136.3" font-size="9" text-anchor="middle" fill="#1a1a1a" stroke="#1a1a1a" stroke-width="0.22">0</text>
<line x1="445.9" y1="125" x2="445.9" y2="127" stroke="#444" stroke-width="0.8"/>
<text x="445.9" y="136.3" font-size="9" text-anchor="middle" fill="#1a1a1a" stroke="#1a1a1a" stroke-width="0.22">5</text>
<text x="423.8" y="145.5" font-size="9.8" text-anchor="middle" fill="#1a1a1a" stroke="#1a1a1a" stroke-width="0.22">UMAP-1</text>
<text x="362.7" y="79.2" font-size="9.8" text-anchor="middle" fill="#1a1a1a" transform="rotate(-90 362.7 79.2)" stroke="#1a1a1a" stroke-width="0.22">UMAP-2</text>
<text x="422.4" y="33.6" font-size="11" text-anchor="middle" fill="#1a1a1a" stroke="#1a1a1a" stroke-width="0.22">UEA1</text>
<rect x="467.1" y="87.9" width="6.1" height="29.6" fill="url(#fleg)"/>
<line x1="467.1" y1="89.3" x2="468.4" y2="89.3" stroke="#fff" stroke-width="0.6"/>
<line x1="471.9" y1="89.3" x2="473.2" y2="89.3" stroke="#fff" stroke-width="0.6"/>
<text x="475.8" y="92.1" font-size="9" text-anchor="start" fill="#1a1a1a" stroke="#1a1a1a" stroke-width="0.22">1.0</text>
<line x1="467.1" y1="103.4" x2="468.4" y2="103.4" stroke="#fff" stroke-width="0.6"/>
<line x1="471.9" y1="103.4" x2="473.2" y2="103.4" stroke="#fff" stroke-width="0.6"/>
<text x="475.8" y="106.2" font-size="9" text-anchor="start" fill="#1a1a1a" stroke="#1a1a1a" stroke-width="0.22">0.5</text>
<line x1="467.1" y1="117.2" x2="468.4" y2="117.2" stroke="#fff" stroke-width="0.6"/>
<line x1="471.9" y1="117.2" x2="473.2" y2="117.2" stroke="#fff" stroke-width="0.6"/>
<text x="475.8" y="120" font-size="9" text-anchor="start" fill="#1a1a1a" stroke="#1a1a1a" stroke-width="0.22">0.0</text>
<clipPath id="cliply51"><path d="M381.31,223.2C381.31,219.8 381.63,213.74 382.41,210.08C383.19,206.43 384.41,203.82 385.99,201.27C387.57,198.72 389.45,196.58 391.88,194.77C394.3,192.95 397.16,191.46 400.55,190.35C403.94,189.25 408.32,188.4 412.21,188.15C416.1,187.9 420.23,188.37 423.87,188.85C427.51,189.34 430.88,190.87 434.04,191.06C437.2,191.24 440.64,189.95 442.81,189.95C444.99,189.95 445.65,189.89 447.1,191.06C448.54,192.22 449.66,195.27 451.49,196.97C453.31,198.67 456.6,199.57 458.06,201.27C459.52,202.97 459.41,205.23 460.26,207.18C461.11,209.13 461.94,211.77 463.15,212.99C464.36,214.21 466.68,213.51 467.53,214.49C468.38,215.47 468.73,216.94 468.23,218.89C467.73,220.85 465.64,224.02 464.54,226.2C463.45,228.39 462.73,229.82 461.65,232.01C460.57,234.2 458.78,237.13 458.06,239.32C457.35,241.51 458.46,243.28 457.36,245.13C456.27,246.98 453.43,248.96 451.49,250.43C449.54,251.9 448.13,252.88 445.7,253.94C443.28,255.01 440.33,256 436.93,256.85C433.52,257.7 429.14,258.57 425.27,259.05C421.4,259.53 417.34,259.44 413.71,259.75C410.07,260.07 406.59,261.43 403.44,260.95C400.28,260.47 397.19,258.75 394.76,256.85C392.34,254.95 390.47,252.46 388.89,249.54C387.31,246.62 386.37,242.49 385.29,239.32C384.21,236.15 383.07,233.2 382.41,230.51C381.74,227.82 381.31,226.61 381.31,223.2Z"/></clipPath>
<path d="M381.31,223.2C381.31,219.8 381.63,213.74 382.41,210.08C383.19,206.43 384.41,203.82 385.99,201.27C387.57,198.72 389.45,196.58 391.88,194.77C394.3,192.95 397.16,191.46 400.55,190.35C403.94,189.25 408.32,188.4 412.21,188.15C416.1,187.9 420.23,188.37 423.87,188.85C427.51,189.34 430.88,190.87 434.04,191.06C437.2,191.24 440.64,189.95 442.81,189.95C444.99,189.95 445.65,189.89 447.1,191.06C448.54,192.22 449.66,195.27 451.49,196.97C453.31,198.67 456.6,199.57 458.06,201.27C459.52,202.97 459.41,205.23 460.26,207.18C461.11,209.13 461.94,211.77 463.15,212.99C464.36,214.21 466.68,213.51 467.53,214.49C468.38,215.47 468.73,216.94 468.23,218.89C467.73,220.85 465.64,224.02 464.54,226.2C463.45,228.39 462.73,229.82 461.65,232.01C460.57,234.2 458.78,237.13 458.06,239.32C457.35,241.51 458.46,243.28 457.36,245.13C456.27,246.98 453.43,248.96 451.49,250.43C449.54,251.9 448.13,252.88 445.7,253.94C443.28,255.01 440.33,256 436.93,256.85C433.52,257.7 429.14,258.57 425.27,259.05C421.4,259.53 417.34,259.44 413.71,259.75C410.07,260.07 406.59,261.43 403.44,260.95C400.28,260.47 397.19,258.75 394.76,256.85C392.34,254.95 390.47,252.46 388.89,249.54C387.31,246.62 386.37,242.49 385.29,239.32C384.21,236.15 383.07,233.2 382.41,230.51C381.74,227.82 381.31,226.61 381.31,223.2Z" fill="#dac8c4"/>
<g clip-path="url(#cliply51)"><g filter="url(#blur3)">
<ellipse cx="396.36" cy="252.06" rx="12.56" ry="8.87" fill="#fff" opacity="0.4"/>
<ellipse cx="459.16" cy="215.11" rx="9.42" ry="18.47" fill="#fff" opacity="0.3"/>
<ellipse cx="437.81" cy="218.81" rx="11.93" ry="14.04" fill="#d8402c" opacity="0.25"/>
<ellipse cx="415.2" cy="196.63" rx="21.98" ry="8.87" fill="#d8402c" opacity="0.12"/>
</g>
<path d="M381.31,223.2C381.31,219.8 381.63,213.74 382.41,210.08C383.19,206.43 384.41,203.82 385.99,201.27C387.57,198.72 389.45,196.58 391.88,194.77C394.3,192.95 397.16,191.46 400.55,190.35C403.94,189.25 408.32,188.4 412.21,188.15C416.1,187.9 420.23,188.37 423.87,188.85C427.51,189.34 430.88,190.87 434.04,191.06C437.2,191.24 440.64,189.95 442.81,189.95C444.99,189.95 445.65,189.89 447.1,191.06C448.54,192.22 449.66,195.27 451.49,196.97C453.31,198.67 456.6,199.57 458.06,201.27C459.52,202.97 459.41,205.23 460.26,207.18C461.11,209.13 461.94,211.77 463.15,212.99C464.36,214.21 466.68,213.51 467.53,214.49C468.38,215.47 468.73,216.94 468.23,218.89C467.73,220.85 465.64,224.02 464.54,226.2C463.45,228.39 462.73,229.82 461.65,232.01C460.57,234.2 458.78,237.13 458.06,239.32C457.35,241.51 458.46,243.28 457.36,245.13C456.27,246.98 453.43,248.96 451.49,250.43C449.54,251.9 448.13,252.88 445.7,253.94C443.28,255.01 440.33,256 436.93,256.85C433.52,257.7 429.14,258.57 425.27,259.05C421.4,259.53 417.34,259.44 413.71,259.75C410.07,260.07 406.59,261.43 403.44,260.95C400.28,260.47 397.19,258.75 394.76,256.85C392.34,254.95 390.47,252.46 388.89,249.54C387.31,246.62 386.37,242.49 385.29,239.32C384.21,236.15 383.07,233.2 382.41,230.51C381.74,227.82 381.31,226.61 381.31,223.2Z" fill="none" stroke="#fff" stroke-width="6" opacity="0.7" filter="url(#blur3)"/>
</g>
<path d="M381.31,223.2C381.31,219.8 381.63,213.74 382.41,210.08C383.19,206.43 384.41,203.82 385.99,201.27C387.57,198.72 389.45,196.58 391.88,194.77C394.3,192.95 397.16,191.46 400.55,190.35C403.94,189.25 408.32,188.4 412.21,188.15C416.1,187.9 420.23,188.37 423.87,188.85C427.51,189.34 430.88,190.87 434.04,191.06C437.2,191.24 440.64,189.95 442.81,189.95C444.99,189.95 445.65,189.89 447.1,191.06C448.54,192.22 449.66,195.27 451.49,196.97C453.31,198.67 456.6,199.57 458.06,201.27C459.52,202.97 459.41,205.23 460.26,207.18C461.11,209.13 461.94,211.77 463.15,212.99C464.36,214.21 466.68,213.51 467.53,214.49C468.38,215.47 468.73,216.94 468.23,218.89C467.73,220.85 465.64,224.02 464.54,226.2C463.45,228.39 462.73,229.82 461.65,232.01C460.57,234.2 458.78,237.13 458.06,239.32C457.35,241.51 458.46,243.28 457.36,245.13C456.27,246.98 453.43,248.96 451.49,250.43C449.54,251.9 448.13,252.88 445.7,253.94C443.28,255.01 440.33,256 436.93,256.85C433.52,257.7 429.14,258.57 425.27,259.05C421.4,259.53 417.34,259.44 413.71,259.75C410.07,260.07 406.59,261.43 403.44,260.95C400.28,260.47 397.19,258.75 394.76,256.85C392.34,254.95 390.47,252.46 388.89,249.54C387.31,246.62 386.37,242.49 385.29,239.32C384.21,236.15 383.07,233.2 382.41,230.51C381.74,227.82 381.31,226.61 381.31,223.2Z" fill="#fff" filter="url(#speck)" opacity="0.6"/>
<line x1="374.7" y1="180.7" x2="374.7" y2="269.6" stroke="#444" stroke-width="0.9"/>
<line x1="374.3" y1="269.6" x2="475.9" y2="269.6" stroke="#444" stroke-width="0.9"/>
<line x1="372.7" y1="200" x2="374.7" y2="200" stroke="#444" stroke-width="0.8"/>
<text x="370.3" y="202.8" font-size="9" text-anchor="end" fill="#1a1a1a" stroke="#1a1a1a" stroke-width="0.22">3</text>
<line x1="372.7" y1="222.6" x2="374.7" y2="222.6" stroke="#444" stroke-width="0.8"/>
<text x="370.3" y="225.4" font-size="9" text-anchor="end" fill="#1a1a1a" stroke="#1a1a1a" stroke-width="0.22">0</text>
<line x1="372.7" y1="245" x2="374.7" y2="245" stroke="#444" stroke-width="0.8"/>
<text x="370.3" y="247.8" font-size="9" text-anchor="end" fill="#1a1a1a" stroke="#1a1a1a" stroke-width="0.22">-3</text>
<line x1="372.7" y1="266.5" x2="374.7" y2="266.5" stroke="#444" stroke-width="0.8"/>
<text x="370.3" y="269.3" font-size="9" text-anchor="end" fill="#1a1a1a" stroke="#1a1a1a" stroke-width="0.22">-6</text>
<line x1="383.9" y1="269.6" x2="383.9" y2="271.6" stroke="#444" stroke-width="0.8"/>
<text x="383.9" y="282.9" font-size="9" text-anchor="middle" fill="#1a1a1a" stroke="#1a1a1a" stroke-width="0.22">-5</text>
<line x1="415.2" y1="269.6" x2="415.2" y2="271.6" stroke="#444" stroke-width="0.8"/>
<text x="415.2" y="282.9" font-size="9" text-anchor="middle" fill="#1a1a1a" stroke="#1a1a1a" stroke-width="0.22">0</text>
<line x1="446.7" y1="269.6" x2="446.7" y2="271.6" stroke="#444" stroke-width="0.8"/>
<text x="446.7" y="282.9" font-size="9" text-anchor="middle" fill="#1a1a1a" stroke="#1a1a1a" stroke-width="0.22">5</text>
<text x="424.2" y="292" font-size="9.8" text-anchor="middle" fill="#1a1a1a" stroke="#1a1a1a" stroke-width="0.22">UMAP-1</text>
<text x="361.7" y="225.8" font-size="9.8" text-anchor="middle" fill="#1a1a1a" transform="rotate(-90 361.7 225.8)" stroke="#1a1a1a" stroke-width="0.22">UMAP-2</text>
<text x="428.3" y="175.7" font-size="11" text-anchor="middle" fill="#1a1a1a" stroke="#1a1a1a" stroke-width="0.22">Ly51</text>
<rect x="467.7" y="230.7" width="6.2" height="29.7" fill="url(#fleg)"/>
<line x1="467.7" y1="232.8" x2="469" y2="232.8" stroke="#fff" stroke-width="0.6"/>
<line x1="472.6" y1="232.8" x2="473.9" y2="232.8" stroke="#fff" stroke-width="0.6"/>
<text x="476.5" y="235.6" font-size="9" text-anchor="start" fill="#1a1a1a" stroke="#1a1a1a" stroke-width="0.22">4</text>
<line x1="467.7" y1="246" x2="469" y2="246" stroke="#fff" stroke-width="0.6"/>
<line x1="472.6" y1="246" x2="473.9" y2="246" stroke="#fff" stroke-width="0.6"/>
<text x="476.5" y="248.8" font-size="9" text-anchor="start" fill="#1a1a1a" stroke="#1a1a1a" stroke-width="0.22">2</text>
<line x1="467.7" y1="260.4" x2="469" y2="260.4" stroke="#fff" stroke-width="0.6"/>
<line x1="472.6" y1="260.4" x2="473.9" y2="260.4" stroke="#fff" stroke-width="0.6"/>
<text x="476.5" y="263.2" font-size="9" text-anchor="start" fill="#1a1a1a" stroke="#1a1a1a" stroke-width="0.22">0</text>
<clipPath id="clipmhc"><path d="M379.59,370.29C379.59,366.94 379.91,360.98 380.68,357.39C381.45,353.79 382.65,351.23 384.21,348.71C385.77,346.2 387.62,344.11 390.01,342.32C392.4,340.53 395.22,339.06 398.56,337.98C401.9,336.89 406.22,336.06 410.05,335.81C413.89,335.56 417.96,336.02 421.55,336.5C425.13,336.98 428.46,338.49 431.57,338.67C434.68,338.85 438.07,337.58 440.22,337.58C442.36,337.58 443.01,337.52 444.44,338.67C445.86,339.82 446.96,342.81 448.77,344.48C450.57,346.16 453.81,347.04 455.25,348.71C456.69,350.39 456.58,352.61 457.41,354.53C458.25,356.45 459.07,359.05 460.26,360.24C461.46,361.44 463.75,360.75 464.58,361.72C465.42,362.69 465.76,364.13 465.27,366.05C464.78,367.97 462.71,371.09 461.63,373.24C460.55,375.39 459.85,376.81 458.79,378.96C457.72,381.11 455.95,384 455.25,386.15C454.54,388.3 455.64,390.04 454.56,391.86C453.48,393.68 450.68,395.64 448.77,397.08C446.85,398.53 445.46,399.48 443.06,400.53C440.67,401.59 437.77,402.55 434.42,403.39C431.06,404.23 426.74,405.08 422.92,405.56C419.11,406.03 415.11,405.94 411.53,406.25C407.94,406.56 404.52,407.9 401.41,407.43C398.29,406.95 395.25,405.26 392.86,403.39C390.47,401.52 388.62,399.08 387.06,396.2C385.51,393.33 384.59,389.27 383.52,386.15C382.46,383.03 381.33,380.12 380.68,377.48C380.02,374.84 379.59,373.64 379.59,370.29Z"/></clipPath>
<path d="M379.59,370.29C379.59,366.94 379.91,360.98 380.68,357.39C381.45,353.79 382.65,351.23 384.21,348.71C385.77,346.2 387.62,344.11 390.01,342.32C392.4,340.53 395.22,339.06 398.56,337.98C401.9,336.89 406.22,336.06 410.05,335.81C413.89,335.56 417.96,336.02 421.55,336.5C425.13,336.98 428.46,338.49 431.57,338.67C434.68,338.85 438.07,337.58 440.22,337.58C442.36,337.58 443.01,337.52 444.44,338.67C445.86,339.82 446.96,342.81 448.77,344.48C450.57,346.16 453.81,347.04 455.25,348.71C456.69,350.39 456.58,352.61 457.41,354.53C458.25,356.45 459.07,359.05 460.26,360.24C461.46,361.44 463.75,360.75 464.58,361.72C465.42,362.69 465.76,364.13 465.27,366.05C464.78,367.97 462.71,371.09 461.63,373.24C460.55,375.39 459.85,376.81 458.79,378.96C457.72,381.11 455.95,384 455.25,386.15C454.54,388.3 455.64,390.04 454.56,391.86C453.48,393.68 450.68,395.64 448.77,397.08C446.85,398.53 445.46,399.48 443.06,400.53C440.67,401.59 437.77,402.55 434.42,403.39C431.06,404.23 426.74,405.08 422.92,405.56C419.11,406.03 415.11,405.94 411.53,406.25C407.94,406.56 404.52,407.9 401.41,407.43C398.29,406.95 395.25,405.26 392.86,403.39C390.47,401.52 388.62,399.08 387.06,396.2C385.51,393.33 384.59,389.27 383.52,386.15C382.46,383.03 381.33,380.12 380.68,377.48C380.02,374.84 379.59,373.64 379.59,370.29Z" fill="#d0d0d0"/>
<g clip-path="url(#clipmhc)"><g filter="url(#blur3)">
<ellipse cx="394.43" cy="398.68" rx="15.48" ry="10.9" fill="#fff" opacity="0.35"/>
<ellipse cx="430.33" cy="357.97" rx="28.47" ry="23.99" fill="#d8402c" opacity="0.24"/>
<ellipse cx="434.05" cy="365.97" rx="11.76" ry="13.81" fill="#d8402c" opacity="0.22"/>
<ellipse cx="409.9" cy="344.16" rx="15.48" ry="7.27" fill="#d8402c" opacity="0.13"/>
<ellipse cx="450.14" cy="384.14" rx="7.43" ry="14.54" fill="#d8402c" opacity="0.18"/>
<ellipse cx="460.04" cy="362.33" rx="4.95" ry="10.18" fill="#d8402c" opacity="0.28"/>
</g>
<path d="M379.59,370.29C379.59,366.94 379.91,360.98 380.68,357.39C381.45,353.79 382.65,351.23 384.21,348.71C385.77,346.2 387.62,344.11 390.01,342.32C392.4,340.53 395.22,339.06 398.56,337.98C401.9,336.89 406.22,336.06 410.05,335.81C413.89,335.56 417.96,336.02 421.55,336.5C425.13,336.98 428.46,338.49 431.57,338.67C434.68,338.85 438.07,337.58 440.22,337.58C442.36,337.58 443.01,337.52 444.44,338.67C445.86,339.82 446.96,342.81 448.77,344.48C450.57,346.16 453.81,347.04 455.25,348.71C456.69,350.39 456.58,352.61 457.41,354.53C458.25,356.45 459.07,359.05 460.26,360.24C461.46,361.44 463.75,360.75 464.58,361.72C465.42,362.69 465.76,364.13 465.27,366.05C464.78,367.97 462.71,371.09 461.63,373.24C460.55,375.39 459.85,376.81 458.79,378.96C457.72,381.11 455.95,384 455.25,386.15C454.54,388.3 455.64,390.04 454.56,391.86C453.48,393.68 450.68,395.64 448.77,397.08C446.85,398.53 445.46,399.48 443.06,400.53C440.67,401.59 437.77,402.55 434.42,403.39C431.06,404.23 426.74,405.08 422.92,405.56C419.11,406.03 415.11,405.94 411.53,406.25C407.94,406.56 404.52,407.9 401.41,407.43C398.29,406.95 395.25,405.26 392.86,403.39C390.47,401.52 388.62,399.08 387.06,396.2C385.51,393.33 384.59,389.27 383.52,386.15C382.46,383.03 381.33,380.12 380.68,377.48C380.02,374.84 379.59,373.64 379.59,370.29Z" fill="none" stroke="#fff" stroke-width="6" opacity="0.7" filter="url(#blur3)"/>
</g>
<path d="M379.59,370.29C379.59,366.94 379.91,360.98 380.68,357.39C381.45,353.79 382.65,351.23 384.21,348.71C385.77,346.2 387.62,344.11 390.01,342.32C392.4,340.53 395.22,339.06 398.56,337.98C401.9,336.89 406.22,336.06 410.05,335.81C413.89,335.56 417.96,336.02 421.55,336.5C425.13,336.98 428.46,338.49 431.57,338.67C434.68,338.85 438.07,337.58 440.22,337.58C442.36,337.58 443.01,337.52 444.44,338.67C445.86,339.82 446.96,342.81 448.77,344.48C450.57,346.16 453.81,347.04 455.25,348.71C456.69,350.39 456.58,352.61 457.41,354.53C458.25,356.45 459.07,359.05 460.26,360.24C461.46,361.44 463.75,360.75 464.58,361.72C465.42,362.69 465.76,364.13 465.27,366.05C464.78,367.97 462.71,371.09 461.63,373.24C460.55,375.39 459.85,376.81 458.79,378.96C457.72,381.11 455.95,384 455.25,386.15C454.54,388.3 455.64,390.04 454.56,391.86C453.48,393.68 450.68,395.64 448.77,397.08C446.85,398.53 445.46,399.48 443.06,400.53C440.67,401.59 437.77,402.55 434.42,403.39C431.06,404.23 426.74,405.08 422.92,405.56C419.11,406.03 415.11,405.94 411.53,406.25C407.94,406.56 404.52,407.9 401.41,407.43C398.29,406.95 395.25,405.26 392.86,403.39C390.47,401.52 388.62,399.08 387.06,396.2C385.51,393.33 384.59,389.27 383.52,386.15C382.46,383.03 381.33,380.12 380.68,377.48C380.02,374.84 379.59,373.64 379.59,370.29Z" fill="#fff" filter="url(#speck)" opacity="0.6"/>
<line x1="374.3" y1="327.6" x2="374.3" y2="416.9" stroke="#444" stroke-width="0.9"/>
<line x1="373.9" y1="416.9" x2="470.8" y2="416.9" stroke="#444" stroke-width="0.9"/>
<line x1="372.3" y1="347.4" x2="374.3" y2="347.4" stroke="#444" stroke-width="0.8"/>
<text x="369.9" y="350.2" font-size="9" text-anchor="end" fill="#1a1a1a" stroke="#1a1a1a" stroke-width="0.22">3</text>
<line x1="372.3" y1="369.5" x2="374.3" y2="369.5" stroke="#444" stroke-width="0.8"/>
<text x="369.9" y="372.3" font-size="9" text-anchor="end" fill="#1a1a1a" stroke="#1a1a1a" stroke-width="0.22">0</text>
<line x1="372.3" y1="392" x2="374.3" y2="392" stroke="#444" stroke-width="0.8"/>
<text x="369.9" y="394.8" font-size="9" text-anchor="end" fill="#1a1a1a" stroke="#1a1a1a" stroke-width="0.22">-3</text>
<line x1="372.3" y1="412.8" x2="374.3" y2="412.8" stroke="#444" stroke-width="0.8"/>
<text x="369.9" y="415.6" font-size="9" text-anchor="end" fill="#1a1a1a" stroke="#1a1a1a" stroke-width="0.22">-6</text>
<line x1="381.9" y1="416.9" x2="381.9" y2="418.9" stroke="#444" stroke-width="0.8"/>
<text x="381.9" y="429.5" font-size="9" text-anchor="middle" fill="#1a1a1a" stroke="#1a1a1a" stroke-width="0.22">-5</text>
<line x1="413.2" y1="416.9" x2="413.2" y2="418.9" stroke="#444" stroke-width="0.8"/>
<text x="413.2" y="429.5" font-size="9" text-anchor="middle" fill="#1a1a1a" stroke="#1a1a1a" stroke-width="0.22">0</text>
<line x1="443.8" y1="416.9" x2="443.8" y2="418.9" stroke="#444" stroke-width="0.8"/>
<text x="443.8" y="429.5" font-size="9" text-anchor="middle" fill="#1a1a1a" stroke="#1a1a1a" stroke-width="0.22">5</text>
<text x="422.8" y="440" font-size="9.8" text-anchor="middle" fill="#1a1a1a" stroke="#1a1a1a" stroke-width="0.22">UMAP-1</text>
<text x="360.3" y="373.8" font-size="9.8" text-anchor="middle" fill="#1a1a1a" transform="rotate(-90 360.3 373.8)" stroke="#1a1a1a" stroke-width="0.22">UMAP-2</text>
<text x="424.4" y="324.3" font-size="11" text-anchor="middle" fill="#1a1a1a" stroke="#1a1a1a" stroke-width="0.22">MHCII</text>
<rect x="467.1" y="377.3" width="6.1" height="30" fill="url(#fleg)"/>
<line x1="467.1" y1="378.7" x2="468.4" y2="378.7" stroke="#fff" stroke-width="0.6"/>
<line x1="471.9" y1="378.7" x2="473.2" y2="378.7" stroke="#fff" stroke-width="0.6"/>
<text x="475.8" y="381.5" font-size="9" text-anchor="start" fill="#1a1a1a" stroke="#1a1a1a" stroke-width="0.22">1.0</text>
<line x1="467.1" y1="393" x2="468.4" y2="393" stroke="#fff" stroke-width="0.6"/>
<line x1="471.9" y1="393" x2="473.2" y2="393" stroke="#fff" stroke-width="0.6"/>
<text x="475.8" y="395.8" font-size="9" text-anchor="start" fill="#1a1a1a" stroke="#1a1a1a" stroke-width="0.22">0.5</text>
<line x1="467.1" y1="406.3" x2="468.4" y2="406.3" stroke="#fff" stroke-width="0.6"/>
<line x1="471.9" y1="406.3" x2="473.2" y2="406.3" stroke="#fff" stroke-width="0.6"/>
<text x="475.8" y="409.1" font-size="9" text-anchor="start" fill="#1a1a1a" stroke="#1a1a1a" stroke-width="0.22">0.0</text>
<path d="M530.7,120.4 L530.7,120.33 L530.76,120.1 L531.01,119.73 L531.6,119.21 L532.57,118.54 L532.68,118.46 L533.66,117.71 L534.46,116.75 L534.57,116.52 L534.78,115.63 L534.78,114.58 L534.78,114.36 L534.78,112.94 L534.78,112.64 L534.78,111.37 L534.78,110.7 L534.78,109.66 L534.76,108.76 L534.69,107.79 L534.62,106.82 L534.52,105.78 L534.42,104.88 L534.27,103.62 L534.2,102.95 L534.03,101.3 L534,101.01 L533.9,99.07 L533.9,98.84 L533.94,97.13 L534,96.23 L534.1,95.19 L534.29,93.47 L534.32,93.25 L534.53,91.31 L534.61,90.56 L534.7,89.37 L534.78,87.51 L534.78,87.43 L534.78,85.49 L534.78,84.3 L534.78,83.55 L534.78,81.61 L534.78,80.94 L534.78,79.67 L534.78,77.73 L534.78,77.44 L534.78,75.79 L534.78,73.85 L534.78,73.78 L534.82,71.92 L534.9,69.98 L534.9,69.98 L534.98,71.92 L535.02,73.78 L535.02,73.85 L535.02,75.79 L535.02,77.44 L535.02,77.73 L535.02,79.67 L535.02,80.94 L535.02,81.61 L535.02,83.55 L535.02,84.3 L535.02,85.49 L535.02,87.43 L535.02,87.51 L535.1,89.37 L535.19,90.56 L535.27,91.31 L535.48,93.25 L535.51,93.47 L535.7,95.19 L535.8,96.23 L535.86,97.13 L535.9,98.84 L535.9,99.07 L535.8,101.01 L535.77,101.3 L535.6,102.95 L535.53,103.62 L535.38,104.88 L535.28,105.78 L535.18,106.82 L535.11,107.79 L535.04,108.76 L535.02,109.66 L535.02,110.7 L535.02,111.37 L535.02,112.64 L535.02,112.94 L535.02,114.36 L535.02,114.58 L535.02,115.63 L535.23,116.52 L535.34,116.75 L536.14,117.71 L537.12,118.46 L537.23,118.54 L538.2,119.21 L538.79,119.73 L539.04,120.1 L539.1,120.33 L539.1,120.4Z" fill="#f07870" stroke="#111" stroke-width="0.72" stroke-linejoin="round"/>
<text x="534.9" y="132.2" font-size="9" text-anchor="middle" fill="#1a1a1a" stroke="#1a1a1a" stroke-width="0.22">1</text>
<line x1="534.9" y1="124.1" x2="534.9" y2="125.9" stroke="#444" stroke-width="0.7"/>
<path d="M541.54,120.4 L541.54,120.34 L541.57,120.18 L541.72,119.9 L542.07,119.5 L542.72,119 L542.8,118.95 L543.62,118.39 L544.56,117.66 L544.73,117.49 L545.25,116.82 L545.56,116.04 L545.6,115.87 L545.62,114.81 L545.62,114.58 L545.62,113.63 L545.62,113.13 L545.62,112.34 L545.62,111.67 L545.62,110.95 L545.58,110.22 L545.54,109.44 L545.5,108.76 L545.44,107.81 L545.4,107.31 L545.33,106.08 L545.32,105.85 L545.26,104.4 L545.25,104.23 L545.24,102.95 L545.25,102.27 L545.27,101.49 L545.34,100.2 L545.35,100.04 L545.44,98.58 L545.48,98.02 L545.53,97.13 L545.61,95.73 L545.61,95.67 L545.62,94.22 L545.62,93.32 L545.62,92.76 L545.62,91.31 L545.62,90.81 L545.62,89.85 L545.62,88.4 L545.62,88.18 L545.62,86.95 L545.62,85.49 L545.62,85.44 L545.66,84.04 L545.74,82.58 L545.74,82.58 L545.82,84.04 L545.86,85.44 L545.86,85.49 L545.86,86.95 L545.86,88.18 L545.86,88.4 L545.86,89.85 L545.86,90.81 L545.86,91.31 L545.86,92.76 L545.86,93.32 L545.86,94.22 L545.87,95.67 L545.87,95.73 L545.95,97.13 L546,98.02 L546.04,98.58 L546.13,100.04 L546.14,100.2 L546.21,101.49 L546.23,102.27 L546.24,102.95 L546.23,104.23 L546.22,104.4 L546.16,105.85 L546.15,106.08 L546.08,107.31 L546.04,107.81 L545.98,108.76 L545.94,109.44 L545.9,110.22 L545.86,110.95 L545.86,111.67 L545.86,112.34 L545.86,113.13 L545.86,113.63 L545.86,114.58 L545.86,114.81 L545.88,115.87 L545.92,116.04 L546.23,116.82 L546.75,117.49 L546.92,117.66 L547.86,118.39 L548.68,118.95 L548.76,119 L549.41,119.5 L549.76,119.9 L549.91,120.18 L549.94,120.34 L549.94,120.4Z" fill="#dc8a28" stroke="#111" stroke-width="0.72" stroke-linejoin="round"/>
<text x="545.74" y="132.2" font-size="9" text-anchor="middle" fill="#1a1a1a" stroke="#1a1a1a" stroke-width="0.22">2</text>
<line x1="545.74" y1="124.1" x2="545.74" y2="125.9" stroke="#444" stroke-width="0.7"/>
<path d="M552.58,120.4 L552.58,120.32 L552.64,120.09 L552.89,119.71 L553.47,119.18 L554.42,118.49 L554.52,118.42 L555.46,117.65 L556.2,116.66 L556.29,116.43 L556.46,115.52 L556.46,114.45 L556.46,114.22 L556.46,112.77 L556.46,112.47 L556.46,111.17 L556.46,110.48 L556.44,109.41 L556.4,108.5 L556.35,107.51 L556.3,106.52 L556.24,105.45 L556.2,104.53 L556.14,103.24 L556.12,102.55 L556.08,100.87 L556.08,100.57 L556.1,98.58 L556.11,98.35 L556.18,96.6 L556.22,95.68 L556.28,94.62 L556.37,92.86 L556.38,92.63 L556.46,90.65 L556.46,89.89 L556.46,88.66 L556.46,86.76 L556.46,86.68 L556.46,84.7 L556.46,83.48 L556.46,82.71 L556.46,80.73 L556.46,80.04 L556.46,78.75 L556.46,76.76 L556.46,76.46 L556.46,74.78 L556.46,72.8 L556.46,72.72 L556.5,70.81 L556.58,68.83 L556.58,68.83 L556.58,68.83 L556.58,68.83 L556.66,70.81 L556.7,72.72 L556.7,72.8 L556.7,74.78 L556.7,76.46 L556.7,76.76 L556.7,78.75 L556.7,80.04 L556.7,80.73 L556.7,82.71 L556.7,83.48 L556.7,84.7 L556.7,86.68 L556.7,86.76 L556.7,88.66 L556.7,89.89 L556.7,90.65 L556.78,92.63 L556.79,92.86 L556.88,94.62 L556.94,95.68 L556.98,96.6 L557.05,98.35 L557.06,98.58 L557.08,100.57 L557.08,100.87 L557.04,102.55 L557.02,103.24 L556.96,104.53 L556.92,105.45 L556.86,106.52 L556.81,107.51 L556.76,108.5 L556.72,109.41 L556.7,110.48 L556.7,111.17 L556.7,112.47 L556.7,112.77 L556.7,114.22 L556.7,114.45 L556.7,115.52 L556.87,116.43 L556.96,116.66 L557.7,117.65 L558.64,118.42 L558.74,118.49 L559.69,119.18 L560.27,119.71 L560.52,120.09 L560.58,120.32 L560.58,120.4Z" fill="#b4a030" stroke="#111" stroke-width="0.72" stroke-linejoin="round"/>
<text x="556.58" y="132.2" font-size="9" text-anchor="middle" fill="#1a1a1a" stroke="#1a1a1a" stroke-width="0.22">3</text>
<line x1="556.58" y1="124.1" x2="556.58" y2="125.9" stroke="#444" stroke-width="0.7"/>
<path d="M563.22,120.4 L563.23,120.31 L563.32,120.03 L563.68,119.57 L564.52,118.92 L565.72,118.09 L565.84,118 L566.77,117.07 L567.28,115.87 L567.3,115.6 L567.3,114.49 L567.3,113.19 L567.3,112.92 L567.3,111.16 L567.3,110.79 L567.27,109.22 L567.22,108.39 L567.13,107.1 L567.02,105.99 L566.89,104.79 L566.74,103.58 L566.58,102.29 L566.45,101.18 L566.3,99.61 L566.25,98.78 L566.23,96.75 L566.24,96.38 L566.42,93.98 L566.45,93.7 L566.71,91.57 L566.85,90.46 L567,89.17 L567.19,87.05 L567.21,86.77 L567.3,84.37 L567.3,83.44 L567.3,81.96 L567.3,79.66 L567.3,79.56 L567.3,77.16 L567.3,75.68 L567.3,74.76 L567.3,72.36 L567.3,71.52 L567.3,69.95 L567.3,67.55 L567.3,67.18 L567.3,65.15 L567.3,62.75 L567.3,62.65 L567.34,60.35 L567.42,57.94 L567.42,57.94 L567.5,60.35 L567.54,62.65 L567.54,62.75 L567.54,65.15 L567.54,67.18 L567.54,67.55 L567.54,69.95 L567.54,71.52 L567.54,72.36 L567.54,74.76 L567.54,75.68 L567.54,77.16 L567.54,79.56 L567.54,79.66 L567.54,81.96 L567.54,83.44 L567.54,84.37 L567.63,86.77 L567.65,87.05 L567.84,89.17 L567.99,90.46 L568.13,91.57 L568.39,93.7 L568.42,93.98 L568.6,96.38 L568.61,96.75 L568.59,98.78 L568.54,99.61 L568.39,101.18 L568.26,102.29 L568.1,103.58 L567.95,104.79 L567.82,105.99 L567.71,107.1 L567.62,108.39 L567.57,109.22 L567.54,110.79 L567.54,111.16 L567.54,112.92 L567.54,113.19 L567.54,114.49 L567.54,115.6 L567.56,115.87 L568.07,117.07 L569,118 L569.12,118.09 L570.32,118.92 L571.16,119.57 L571.52,120.03 L571.61,120.31 L571.62,120.4Z" fill="#84ae3c" stroke="#111" stroke-width="0.72" stroke-linejoin="round"/>
<text x="567.42" y="132.2" font-size="9" text-anchor="middle" fill="#1a1a1a" stroke="#1a1a1a" stroke-width="0.22">4</text>
<line x1="567.42" y1="124.1" x2="567.42" y2="125.9" stroke="#444" stroke-width="0.7"/>
<path d="M573.25,120.4 L573.26,120.31 L573.31,120.05 L573.54,119.61 L574.09,119 L575.06,118.22 L575.18,118.13 L576.28,117.26 L577.34,116.12 L577.51,115.86 L577.93,114.81 L578.09,113.59 L578.1,113.33 L578.05,111.67 L578.03,111.32 L577.92,109.84 L577.85,109.05 L577.71,107.83 L577.58,106.78 L577.42,105.65 L577.25,104.51 L577.07,103.29 L576.92,102.24 L576.74,100.76 L576.67,99.97 L576.57,98.05 L576.56,97.7 L576.63,95.43 L576.65,95.17 L576.86,93.16 L577.01,92.11 L577.19,90.89 L577.48,88.88 L577.52,88.62 L577.8,86.35 L577.89,85.48 L578.01,84.08 L578.13,81.9 L578.13,81.81 L578.14,79.54 L578.14,78.14 L578.14,77.27 L578.14,75 L578.14,74.22 L578.14,72.73 L578.14,70.46 L578.14,70.11 L578.14,68.19 L578.14,65.92 L578.14,65.83 L578.18,63.65 L578.26,61.38 L578.26,61.38 L578.34,63.65 L578.38,65.83 L578.38,65.92 L578.38,68.19 L578.38,70.11 L578.38,70.46 L578.38,72.73 L578.38,74.22 L578.38,75 L578.38,77.27 L578.38,78.14 L578.38,79.54 L578.39,81.81 L578.39,81.9 L578.51,84.08 L578.63,85.48 L578.72,86.35 L579,88.62 L579.04,88.88 L579.33,90.89 L579.51,92.11 L579.66,93.16 L579.87,95.17 L579.89,95.43 L579.96,97.7 L579.95,98.05 L579.85,99.97 L579.78,100.76 L579.6,102.24 L579.45,103.29 L579.27,104.51 L579.1,105.65 L578.94,106.78 L578.81,107.83 L578.67,109.05 L578.6,109.84 L578.49,111.32 L578.47,111.67 L578.42,113.33 L578.43,113.59 L578.59,114.81 L579.01,115.86 L579.18,116.12 L580.24,117.26 L581.34,118.13 L581.46,118.22 L582.43,119 L582.98,119.61 L583.21,120.05 L583.26,120.31 L583.27,120.4Z" fill="#22b04a" stroke="#111" stroke-width="0.72" stroke-linejoin="round"/>
<text x="578.26" y="132.2" font-size="9" text-anchor="middle" fill="#1a1a1a" stroke="#1a1a1a" stroke-width="0.22">5</text>
<line x1="578.26" y1="124.1" x2="578.26" y2="125.9" stroke="#444" stroke-width="0.7"/>
<path d="M584.03,120.4 L584.04,120.32 L584.07,120.09 L584.24,119.71 L584.67,119.17 L585.46,118.47 L585.56,118.39 L586.53,117.62 L587.59,116.62 L587.78,116.39 L588.3,115.46 L588.54,114.38 L588.56,114.15 L588.5,112.69 L588.47,112.38 L588.32,111.07 L588.23,110.37 L588.09,109.29 L587.97,108.37 L587.85,107.36 L587.75,106.36 L587.67,105.28 L587.62,104.36 L587.6,103.04 L587.61,102.35 L587.7,100.65 L587.72,100.35 L587.93,98.34 L587.96,98.11 L588.19,96.33 L588.31,95.41 L588.45,94.33 L588.65,92.55 L588.67,92.32 L588.84,90.32 L588.89,89.55 L588.96,88.31 L588.98,86.38 L588.98,86.31 L588.98,84.3 L588.98,83.07 L588.98,82.3 L588.98,80.29 L588.98,79.6 L588.98,78.28 L588.98,76.28 L588.98,75.97 L588.98,74.27 L588.98,72.27 L588.98,72.19 L589.02,70.26 L589.1,68.26 L589.1,68.26 L589.18,70.26 L589.22,72.19 L589.22,72.27 L589.22,74.27 L589.22,75.97 L589.22,76.28 L589.22,78.28 L589.22,79.6 L589.22,80.29 L589.22,82.3 L589.22,83.07 L589.22,84.3 L589.22,86.31 L589.22,86.38 L589.24,88.31 L589.31,89.55 L589.36,90.32 L589.53,92.32 L589.55,92.55 L589.75,94.33 L589.89,95.41 L590.01,96.33 L590.24,98.11 L590.27,98.34 L590.48,100.35 L590.5,100.65 L590.59,102.35 L590.6,103.04 L590.58,104.36 L590.53,105.28 L590.45,106.36 L590.35,107.36 L590.23,108.37 L590.11,109.29 L589.97,110.37 L589.88,111.07 L589.73,112.38 L589.7,112.69 L589.64,114.15 L589.66,114.38 L589.9,115.46 L590.42,116.39 L590.61,116.62 L591.67,117.62 L592.64,118.39 L592.74,118.47 L593.53,119.17 L593.96,119.71 L594.13,120.09 L594.16,120.32 L594.17,120.4Z" fill="#1ebd8e" stroke="#111" stroke-width="0.72" stroke-linejoin="round"/>
<text x="589.1" y="132.2" font-size="9" text-anchor="middle" fill="#1a1a1a" stroke="#1a1a1a" stroke-width="0.22">6</text>
<line x1="589.1" y1="124.1" x2="589.1" y2="125.9" stroke="#444" stroke-width="0.7"/>
<path d="M595.43,120.4 L595.44,120.3 L595.56,119.99 L596.02,119.48 L597.05,118.77 L598.41,117.86 L598.54,117.76 L599.44,116.74 L599.82,115.42 L599.82,115.11 L599.82,113.89 L599.79,112.47 L599.77,112.16 L599.64,110.23 L599.6,109.82 L599.41,108.09 L599.29,107.18 L599.06,105.75 L598.83,104.53 L598.55,103.21 L598.26,101.89 L597.96,100.46 L597.71,99.24 L597.44,97.51 L597.33,96.6 L597.24,94.36 L597.25,93.95 L597.49,91.31 L597.54,91 L597.98,88.66 L598.24,87.44 L598.55,86.02 L599.02,83.68 L599.08,83.38 L599.46,80.73 L599.57,79.71 L599.71,78.09 L599.82,75.54 L599.82,75.44 L599.82,72.8 L599.82,71.17 L599.82,70.15 L599.82,67.51 L599.82,66.59 L599.82,64.86 L599.82,62.22 L599.82,61.81 L599.82,59.57 L599.82,56.93 L599.82,56.83 L599.86,54.28 L599.94,51.64 L599.94,51.64 L600.02,54.28 L600.06,56.83 L600.06,56.93 L600.06,59.57 L600.06,61.81 L600.06,62.22 L600.06,64.86 L600.06,66.59 L600.06,67.51 L600.06,70.15 L600.06,71.17 L600.06,72.8 L600.06,75.44 L600.06,75.54 L600.17,78.09 L600.31,79.71 L600.42,80.73 L600.8,83.38 L600.86,83.68 L601.33,86.02 L601.64,87.44 L601.9,88.66 L602.34,91 L602.39,91.31 L602.63,93.95 L602.64,94.36 L602.55,96.6 L602.44,97.51 L602.17,99.24 L601.92,100.46 L601.62,101.89 L601.33,103.21 L601.05,104.53 L600.82,105.75 L600.59,107.18 L600.47,108.09 L600.28,109.82 L600.24,110.23 L600.11,112.16 L600.09,112.47 L600.06,113.89 L600.06,115.11 L600.06,115.42 L600.44,116.74 L601.34,117.76 L601.47,117.86 L602.83,118.77 L603.86,119.48 L604.32,119.99 L604.44,120.3 L604.45,120.4Z" fill="#1bbcc4" stroke="#111" stroke-width="0.72" stroke-linejoin="round"/>
<text x="599.94" y="132.2" font-size="9" text-anchor="middle" fill="#1a1a1a" stroke="#1a1a1a" stroke-width="0.22">7</text>
<line x1="599.94" y1="124.1" x2="599.94" y2="125.9" stroke="#444" stroke-width="0.7"/>
<path d="M605.77,120.4 L605.78,120.32 L605.83,120.06 L606.04,119.64 L606.56,119.06 L607.48,118.3 L607.59,118.22 L608.66,117.38 L609.74,116.29 L609.92,116.04 L610.4,115.03 L610.61,113.85 L610.62,113.6 L610.61,112.01 L610.6,111.67 L610.51,110.25 L610.45,109.49 L610.35,108.32 L610.24,107.31 L610.11,106.22 L609.97,105.13 L609.82,103.95 L609.69,102.95 L609.52,101.52 L609.44,100.76 L609.31,98.92 L609.3,98.58 L609.3,96.4 L609.31,96.15 L609.44,94.22 L609.54,93.21 L609.68,92.04 L609.94,90.11 L609.97,89.85 L610.24,87.67 L610.33,86.83 L610.45,85.49 L610.6,83.39 L610.6,83.31 L610.66,81.13 L610.66,79.78 L610.66,78.95 L610.66,76.76 L610.66,76.01 L610.66,74.58 L610.66,72.4 L610.66,72.06 L610.66,70.22 L610.66,68.04 L610.66,67.95 L610.7,65.85 L610.78,63.67 L610.78,63.67 L610.86,65.85 L610.9,67.95 L610.9,68.04 L610.9,70.22 L610.9,72.06 L610.9,72.4 L610.9,74.58 L610.9,76.01 L610.9,76.76 L610.9,78.95 L610.9,79.78 L610.9,81.13 L610.96,83.31 L610.96,83.39 L611.11,85.49 L611.23,86.83 L611.32,87.67 L611.59,89.85 L611.62,90.11 L611.88,92.04 L612.02,93.21 L612.12,94.22 L612.25,96.15 L612.26,96.4 L612.26,98.58 L612.25,98.92 L612.12,100.76 L612.04,101.52 L611.87,102.95 L611.74,103.95 L611.59,105.13 L611.45,106.22 L611.32,107.31 L611.21,108.32 L611.11,109.49 L611.05,110.25 L610.96,111.67 L610.95,112.01 L610.94,113.6 L610.95,113.85 L611.16,115.03 L611.64,116.04 L611.82,116.29 L612.9,117.38 L613.97,118.22 L614.08,118.3 L615,119.06 L615.52,119.64 L615.73,120.06 L615.78,120.32 L615.79,120.4Z" fill="#1fb0ec" stroke="#111" stroke-width="0.72" stroke-linejoin="round"/>
<text x="610.78" y="132.2" font-size="9" text-anchor="middle" fill="#1a1a1a" stroke="#1a1a1a" stroke-width="0.22">8</text>
<line x1="610.78" y1="124.1" x2="610.78" y2="125.9" stroke="#444" stroke-width="0.7"/>
<path d="M616.6,120.4 L616.61,120.28 L616.7,119.94 L617.09,119.35 L617.98,118.54 L619.32,117.5 L619.46,117.38 L620.59,116.22 L621.26,114.71 L621.31,114.36 L621.37,112.97 L621.28,111.34 L621.26,110.99 L621.06,108.79 L621.01,108.32 L620.8,106.35 L620.69,105.3 L620.55,103.68 L620.47,102.28 L620.42,100.77 L620.43,99.27 L620.51,97.64 L620.62,96.25 L620.81,94.27 L620.92,93.23 L621.17,90.67 L621.22,90.21 L621.43,87.19 L621.45,86.84 L621.5,84.17 L621.5,82.78 L621.5,81.15 L621.5,78.48 L621.5,78.13 L621.5,75.11 L621.5,73.95 L621.5,72.09 L621.5,69.19 L621.5,69.07 L621.5,66.05 L621.5,64.2 L621.5,63.03 L621.5,60.01 L621.5,58.97 L621.5,57 L621.5,53.98 L621.5,53.51 L621.5,50.96 L621.5,47.94 L621.5,47.82 L621.54,44.92 L621.62,41.9 L621.62,41.9 L621.7,44.92 L621.74,47.82 L621.74,47.94 L621.74,50.96 L621.74,53.51 L621.74,53.98 L621.74,57 L621.74,58.97 L621.74,60.01 L621.74,63.03 L621.74,64.2 L621.74,66.05 L621.74,69.07 L621.74,69.19 L621.74,72.09 L621.74,73.95 L621.74,75.11 L621.74,78.13 L621.74,78.48 L621.74,81.15 L621.74,82.78 L621.74,84.17 L621.79,86.84 L621.81,87.19 L622.02,90.21 L622.07,90.67 L622.32,93.23 L622.43,94.27 L622.62,96.25 L622.73,97.64 L622.81,99.27 L622.82,100.77 L622.77,102.28 L622.69,103.68 L622.55,105.3 L622.44,106.35 L622.23,108.32 L622.18,108.79 L621.98,110.99 L621.96,111.34 L621.87,112.97 L621.93,114.36 L621.98,114.71 L622.65,116.22 L623.78,117.38 L623.92,117.5 L625.26,118.54 L626.15,119.35 L626.54,119.94 L626.63,120.28 L626.64,120.4Z" fill="#6890d8" stroke="#111" stroke-width="0.72" stroke-linejoin="round"/>
<text x="621.62" y="132.2" font-size="9" text-anchor="middle" fill="#1a1a1a" stroke="#1a1a1a" stroke-width="0.22">9</text>
<line x1="621.62" y1="124.1" x2="621.62" y2="125.9" stroke="#444" stroke-width="0.7"/>
<path d="M628.44,120.4 L628.45,120.3 L628.55,119.98 L628.98,119.46 L629.92,118.73 L631.14,117.79 L631.25,117.69 L632.01,116.65 L632.29,115.29 L632.29,114.98 L632.26,113.73 L632.15,112.27 L632.13,111.96 L631.9,109.97 L631.84,109.56 L631.53,107.78 L631.33,106.85 L630.95,105.39 L630.58,104.14 L630.13,102.78 L629.65,101.42 L629.1,99.97 L628.64,98.71 L628.04,96.94 L627.77,96 L627.3,93.71 L627.24,93.29 L627.21,90.58 L627.24,90.27 L627.67,87.87 L628.02,86.62 L628.51,85.16 L629.39,82.76 L629.51,82.45 L630.46,79.74 L630.79,78.7 L631.24,77.03 L631.77,74.42 L631.78,74.32 L632.12,71.61 L632.25,69.94 L632.31,68.9 L632.34,66.19 L632.34,65.25 L632.34,63.47 L632.34,60.76 L632.34,60.35 L632.34,58.05 L632.34,55.34 L632.34,55.24 L632.38,52.63 L632.46,49.92 L632.46,49.92 L632.54,52.63 L632.58,55.24 L632.58,55.34 L632.58,58.05 L632.58,60.35 L632.58,60.76 L632.58,63.47 L632.58,65.25 L632.58,66.19 L632.61,68.9 L632.67,69.94 L632.8,71.61 L633.14,74.32 L633.15,74.42 L633.68,77.03 L634.13,78.7 L634.46,79.74 L635.41,82.45 L635.53,82.76 L636.41,85.16 L636.9,86.62 L637.25,87.87 L637.68,90.27 L637.71,90.58 L637.68,93.29 L637.62,93.71 L637.15,96 L636.88,96.94 L636.28,98.71 L635.82,99.97 L635.27,101.42 L634.79,102.78 L634.34,104.14 L633.97,105.39 L633.59,106.85 L633.39,107.78 L633.08,109.56 L633.02,109.97 L632.79,111.96 L632.77,112.27 L632.66,113.73 L632.63,114.98 L632.63,115.29 L632.91,116.65 L633.67,117.69 L633.78,117.79 L635,118.73 L635.94,119.46 L636.37,119.98 L636.47,120.3 L636.48,120.4Z" fill="#a87cc8" stroke="#111" stroke-width="0.72" stroke-linejoin="round"/>
<text x="632.46" y="132.2" font-size="9" text-anchor="middle" fill="#1a1a1a" stroke="#1a1a1a" stroke-width="0.22">10</text>
<line x1="632.46" y1="124.1" x2="632.46" y2="125.9" stroke="#444" stroke-width="0.7"/>
<path d="M638.72,120.4 L638.72,120.27 L638.82,119.89 L639.22,119.26 L640.13,118.38 L641.41,117.24 L641.54,117.12 L642.49,115.85 L642.95,114.21 L642.98,113.83 L642.98,112.32 L642.9,110.55 L642.87,110.17 L642.71,107.77 L642.67,107.27 L642.48,105.12 L642.37,103.98 L642.17,102.21 L641.97,100.7 L641.74,99.06 L641.49,97.41 L641.19,95.65 L640.92,94.13 L640.53,91.98 L640.31,90.85 L639.79,88.07 L639.7,87.56 L639.14,84.28 L639.08,83.9 L638.69,81 L638.53,79.48 L638.4,77.71 L638.3,74.81 L638.3,74.43 L638.41,71.14 L638.51,69.88 L638.72,67.86 L639.16,64.7 L639.18,64.58 L639.75,61.29 L640.12,59.27 L640.36,58.01 L640.97,54.73 L641.17,53.59 L641.53,51.44 L642.01,48.16 L642.07,47.65 L642.4,44.87 L642.69,41.59 L642.7,41.46 L643.05,38.31 L643.3,35.02 L643.3,35.02 L643.55,38.31 L643.9,41.46 L643.91,41.59 L644.2,44.87 L644.53,47.65 L644.59,48.16 L645.07,51.44 L645.43,53.59 L645.63,54.73 L646.24,58.01 L646.48,59.27 L646.85,61.29 L647.42,64.58 L647.44,64.7 L647.88,67.86 L648.09,69.88 L648.19,71.14 L648.3,74.43 L648.3,74.81 L648.2,77.71 L648.07,79.48 L647.91,81 L647.52,83.9 L647.46,84.28 L646.9,87.56 L646.81,88.07 L646.29,90.85 L646.07,91.98 L645.68,94.13 L645.41,95.65 L645.11,97.41 L644.86,99.06 L644.63,100.7 L644.43,102.21 L644.23,103.98 L644.12,105.12 L643.93,107.27 L643.89,107.77 L643.73,110.17 L643.7,110.55 L643.62,112.32 L643.62,113.83 L643.65,114.21 L644.11,115.85 L645.06,117.12 L645.19,117.24 L646.47,118.38 L647.38,119.26 L647.78,119.89 L647.88,120.27 L647.88,120.4Z" fill="#cc68b8" stroke="#111" stroke-width="0.72" stroke-linejoin="round"/>
<text x="643.3" y="132.2" font-size="9" text-anchor="middle" fill="#1a1a1a" stroke="#1a1a1a" stroke-width="0.22">11</text>
<line x1="643.3" y1="124.1" x2="643.3" y2="125.9" stroke="#444" stroke-width="0.7"/>
<path d="M652.64,120.4 L652.64,120.28 L652.7,119.9 L652.93,119.28 L653.37,118.41 L653.85,117.28 L653.89,117.16 L654.02,115.91 L654.02,114.29 L654.02,113.92 L654.02,112.43 L654.02,110.68 L654.02,110.31 L654.02,107.94 L654.02,107.44 L654.02,105.32 L654.02,104.2 L654.02,102.46 L654.02,100.96 L654.02,99.34 L654.02,97.72 L654.02,95.98 L654.02,94.48 L654.02,92.36 L654.01,91.24 L653.9,88.5 L653.87,88 L653.63,84.76 L653.6,84.39 L653.25,81.52 L653.01,80.03 L652.69,78.28 L652.06,75.42 L651.97,75.04 L651.14,71.81 L650.81,70.56 L650.3,68.57 L649.63,65.45 L649.61,65.33 L649.2,62.09 L649.14,60.09 L649.18,58.85 L649.53,55.61 L649.73,54.49 L650.19,52.37 L651.01,49.13 L651.15,48.63 L651.86,45.89 L652.6,42.65 L652.63,42.52 L653.53,39.41 L654.14,36.17 L654.14,36.17 L654.75,39.41 L655.65,42.52 L655.68,42.65 L656.42,45.89 L657.13,48.63 L657.27,49.13 L658.09,52.37 L658.55,54.49 L658.75,55.61 L659.1,58.85 L659.14,60.09 L659.08,62.09 L658.67,65.33 L658.65,65.45 L657.98,68.57 L657.47,70.56 L657.14,71.81 L656.31,75.04 L656.22,75.42 L655.59,78.28 L655.27,80.03 L655.03,81.52 L654.68,84.39 L654.65,84.76 L654.41,88 L654.38,88.5 L654.27,91.24 L654.26,92.36 L654.26,94.48 L654.26,95.98 L654.26,97.72 L654.26,99.34 L654.26,100.96 L654.26,102.46 L654.26,104.2 L654.26,105.32 L654.26,107.44 L654.26,107.94 L654.26,110.31 L654.26,110.68 L654.26,112.43 L654.26,113.92 L654.26,114.29 L654.26,115.91 L654.39,117.16 L654.43,117.28 L654.91,118.41 L655.35,119.28 L655.58,119.9 L655.64,120.28 L655.64,120.4Z" fill="#f264a6" stroke="#111" stroke-width="0.72" stroke-linejoin="round"/>
<text x="654.14" y="132.2" font-size="9" text-anchor="middle" fill="#1a1a1a" stroke="#1a1a1a" stroke-width="0.22">12</text>
<line x1="654.14" y1="124.1" x2="654.14" y2="125.9" stroke="#444" stroke-width="0.7"/>
<line x1="528.5" y1="31.5" x2="528.5" y2="124.1" stroke="#444" stroke-width="0.9"/>
<line x1="528.1" y1="124.1" x2="661.1" y2="124.1" stroke="#444" stroke-width="0.9"/>
<line x1="526.5" y1="34.45" x2="528.5" y2="34.45" stroke="#444" stroke-width="0.8"/>
<text x="526.1" y="37.55" font-size="9.6" text-anchor="end" fill="#1a1a1a" stroke="#1a1a1a" stroke-width="0.22">1.5</text>
<line x1="526.5" y1="63.1" x2="528.5" y2="63.1" stroke="#444" stroke-width="0.8"/>
<text x="526.1" y="66.2" font-size="9.6" text-anchor="end" fill="#1a1a1a" stroke="#1a1a1a" stroke-width="0.22">1.0</text>
<line x1="526.5" y1="91.75" x2="528.5" y2="91.75" stroke="#444" stroke-width="0.8"/>
<text x="526.1" y="94.85" font-size="9.6" text-anchor="end" fill="#1a1a1a" stroke="#1a1a1a" stroke-width="0.22">0.5</text>
<line x1="526.5" y1="120.4" x2="528.5" y2="120.4" stroke="#444" stroke-width="0.8"/>
<text x="526.1" y="123.5" font-size="9.6" text-anchor="end" fill="#1a1a1a" stroke="#1a1a1a" stroke-width="0.22">0.0</text>
<text x="508" y="78.8" font-size="9.8" text-anchor="middle" fill="#1a1a1a" transform="rotate(-90 508 78.8)" stroke="#1a1a1a" stroke-width="0.22">Expression Level</text>
<path d="M532.25,264.8 L532.24,264.71 L532.24,264.45 L532.29,264 L532.45,263.38 L532.7,262.59 L532.72,262.5 L532.9,261.61 L532.88,260.46 L532.84,260.2 L532.59,259.13 L532.2,257.9 L532.11,257.63 L531.47,255.95 L531.33,255.59 L530.74,254.09 L530.43,253.29 L530,252.05 L529.68,250.99 L529.42,249.84 L529.25,248.69 L529.2,247.45 L529.26,246.39 L529.51,244.88 L529.71,244.09 L530.35,242.14 L530.48,241.78 L531.38,239.48 L531.48,239.22 L532.24,237.18 L532.59,236.12 L532.94,234.88 L533.4,232.84 L533.45,232.58 L533.76,230.28 L533.85,229.39 L533.94,227.98 L533.98,225.76 L533.98,225.67 L533.98,223.37 L533.98,221.96 L533.98,221.07 L533.98,218.77 L533.98,217.97 L533.98,216.47 L533.98,214.17 L533.98,213.81 L533.98,211.86 L533.98,209.56 L533.98,209.47 L534.02,207.26 L534.1,204.96 L534.1,204.96 L534.18,207.26 L534.22,209.47 L534.22,209.56 L534.22,211.86 L534.22,213.81 L534.22,214.17 L534.22,216.47 L534.22,217.97 L534.22,218.77 L534.22,221.07 L534.22,221.96 L534.22,223.37 L534.22,225.67 L534.22,225.76 L534.26,227.98 L534.35,229.39 L534.44,230.28 L534.75,232.58 L534.8,232.84 L535.26,234.88 L535.61,236.12 L535.96,237.18 L536.72,239.22 L536.82,239.48 L537.72,241.78 L537.85,242.14 L538.49,244.09 L538.69,244.88 L538.94,246.39 L539,247.45 L538.95,248.69 L538.78,249.84 L538.52,250.99 L538.2,252.05 L537.77,253.29 L537.46,254.09 L536.87,255.59 L536.73,255.95 L536.09,257.63 L536,257.9 L535.61,259.13 L535.36,260.2 L535.32,260.46 L535.3,261.61 L535.48,262.5 L535.5,262.59 L535.75,263.38 L535.91,264 L535.96,264.45 L535.96,264.71 L535.95,264.8Z" fill="#f07870" stroke="#111" stroke-width="0.72" stroke-linejoin="round"/>
<text x="534.1" y="278.6" font-size="9" text-anchor="middle" fill="#1a1a1a" stroke="#1a1a1a" stroke-width="0.22">1</text>
<line x1="534.1" y1="269.1" x2="534.1" y2="270.9" stroke="#444" stroke-width="0.7"/>
<path d="M541.77,264.8 L541.73,264.71 L541.62,264.45 L541.45,264 L541.2,263.38 L540.9,262.59 L540.87,262.5 L540.56,261.61 L540.22,260.46 L540.16,260.2 L539.94,259.13 L539.81,257.9 L539.8,257.63 L539.88,255.95 L539.93,255.59 L540.25,254.09 L540.47,253.29 L540.9,252.05 L541.3,250.99 L541.77,249.84 L542.23,248.69 L542.71,247.45 L543.08,246.39 L543.55,244.88 L543.75,244.09 L544.16,242.14 L544.22,241.78 L544.51,239.48 L544.53,239.22 L544.67,237.18 L544.68,236.12 L544.68,234.88 L544.68,232.84 L544.68,232.58 L544.68,230.28 L544.68,229.39 L544.68,227.98 L544.68,225.76 L544.68,225.67 L544.68,223.37 L544.68,221.96 L544.68,221.07 L544.68,218.77 L544.68,217.97 L544.68,216.47 L544.68,214.17 L544.68,213.81 L544.68,211.86 L544.68,209.56 L544.68,209.47 L544.72,207.26 L544.8,204.96 L544.8,204.96 L544.88,207.26 L544.92,209.47 L544.92,209.56 L544.92,211.86 L544.92,213.81 L544.92,214.17 L544.92,216.47 L544.92,217.97 L544.92,218.77 L544.92,221.07 L544.92,221.96 L544.92,223.37 L544.92,225.67 L544.92,225.76 L544.92,227.98 L544.92,229.39 L544.92,230.28 L544.92,232.58 L544.92,232.84 L544.92,234.88 L544.92,236.12 L544.93,237.18 L545.07,239.22 L545.09,239.48 L545.38,241.78 L545.44,242.14 L545.85,244.09 L546.05,244.88 L546.52,246.39 L546.89,247.45 L547.37,248.69 L547.83,249.84 L548.3,250.99 L548.7,252.05 L549.13,253.29 L549.35,254.09 L549.67,255.59 L549.72,255.95 L549.8,257.63 L549.79,257.9 L549.66,259.13 L549.44,260.2 L549.38,260.46 L549.04,261.61 L548.73,262.5 L548.7,262.59 L548.4,263.38 L548.15,264 L547.98,264.45 L547.87,264.71 L547.83,264.8Z" fill="#dc8a28" stroke="#111" stroke-width="0.72" stroke-linejoin="round"/>
<text x="544.8" y="278.6" font-size="9" text-anchor="middle" fill="#1a1a1a" stroke="#1a1a1a" stroke-width="0.22">2</text>
<line x1="544.8" y1="269.1" x2="544.8" y2="270.9" stroke="#444" stroke-width="0.7"/>
<path d="M553.38,264.8 L553.34,264.7 L553.24,264.42 L553.07,263.94 L552.82,263.28 L552.49,262.42 L552.45,262.33 L552.09,261.37 L551.63,260.14 L551.53,259.85 L551.16,258.71 L550.82,257.38 L550.76,257.09 L550.52,255.28 L550.51,254.9 L550.56,253.29 L550.67,252.43 L550.95,251.1 L551.28,249.96 L551.69,248.72 L552.15,247.48 L552.66,246.15 L553.1,245.01 L553.67,243.39 L553.94,242.53 L554.5,240.44 L554.58,240.06 L555.01,237.58 L555.05,237.3 L555.26,235.11 L555.34,233.97 L555.38,232.64 L555.38,230.45 L555.38,230.16 L555.38,227.69 L555.38,226.74 L555.38,225.21 L555.38,222.83 L555.38,222.74 L555.38,220.27 L555.38,218.74 L555.38,217.79 L555.38,215.32 L555.38,214.46 L555.38,212.84 L555.38,210.37 L555.38,209.99 L555.38,207.89 L555.38,205.42 L555.38,205.33 L555.42,202.95 L555.5,200.47 L555.5,200.47 L555.58,202.95 L555.62,205.33 L555.62,205.42 L555.62,207.89 L555.62,209.99 L555.62,210.37 L555.62,212.84 L555.62,214.46 L555.62,215.32 L555.62,217.79 L555.62,218.74 L555.62,220.27 L555.62,222.74 L555.62,222.83 L555.62,225.21 L555.62,226.74 L555.62,227.69 L555.62,230.16 L555.62,230.45 L555.62,232.64 L555.66,233.97 L555.74,235.11 L555.95,237.3 L555.99,237.58 L556.42,240.06 L556.5,240.44 L557.06,242.53 L557.33,243.39 L557.9,245.01 L558.34,246.15 L558.85,247.48 L559.31,248.72 L559.72,249.96 L560.05,251.1 L560.33,252.43 L560.44,253.29 L560.49,254.9 L560.48,255.28 L560.24,257.09 L560.18,257.38 L559.84,258.71 L559.47,259.85 L559.37,260.14 L558.91,261.37 L558.55,262.33 L558.51,262.42 L558.18,263.28 L557.93,263.94 L557.76,264.42 L557.66,264.7 L557.62,264.8Z" fill="#b4a030" stroke="#111" stroke-width="0.72" stroke-linejoin="round"/>
<text x="555.5" y="278.6" font-size="9" text-anchor="middle" fill="#1a1a1a" stroke="#1a1a1a" stroke-width="0.22">3</text>
<line x1="555.5" y1="269.1" x2="555.5" y2="270.9" stroke="#444" stroke-width="0.7"/>
<path d="M564.71,264.8 L564.68,264.7 L564.6,264.42 L564.46,263.94 L564.26,263.28 L563.98,262.42 L563.94,262.33 L563.61,261.37 L563.17,260.14 L563.07,259.85 L562.66,258.71 L562.21,257.38 L562.12,257.09 L561.63,255.28 L561.55,254.9 L561.29,253.29 L561.22,252.43 L561.21,251.1 L561.31,249.96 L561.51,248.72 L561.79,247.48 L562.18,246.15 L562.56,245.01 L563.13,243.39 L563.44,242.53 L564.16,240.44 L564.28,240.06 L564.98,237.58 L565.05,237.3 L565.49,235.11 L565.66,233.97 L565.82,232.64 L565.99,230.45 L566.01,230.16 L566.08,227.69 L566.08,226.74 L566.08,225.21 L566.08,222.83 L566.08,222.74 L566.08,220.27 L566.08,218.74 L566.08,217.79 L566.08,215.32 L566.08,214.46 L566.08,212.84 L566.08,210.37 L566.08,209.99 L566.08,207.89 L566.08,205.42 L566.08,205.33 L566.12,202.95 L566.2,200.47 L566.2,200.47 L566.28,202.95 L566.32,205.33 L566.32,205.42 L566.32,207.89 L566.32,209.99 L566.32,210.37 L566.32,212.84 L566.32,214.46 L566.32,215.32 L566.32,217.79 L566.32,218.74 L566.32,220.27 L566.32,222.74 L566.32,222.83 L566.32,225.21 L566.32,226.74 L566.32,227.69 L566.39,230.16 L566.41,230.45 L566.58,232.64 L566.74,233.97 L566.91,235.11 L567.35,237.3 L567.42,237.58 L568.12,240.06 L568.24,240.44 L568.96,242.53 L569.27,243.39 L569.84,245.01 L570.22,246.15 L570.61,247.48 L570.89,248.72 L571.09,249.96 L571.19,251.1 L571.18,252.43 L571.11,253.29 L570.85,254.9 L570.77,255.28 L570.28,257.09 L570.19,257.38 L569.74,258.71 L569.33,259.85 L569.23,260.14 L568.79,261.37 L568.46,262.33 L568.42,262.42 L568.14,263.28 L567.94,263.94 L567.8,264.42 L567.72,264.7 L567.69,264.8Z" fill="#84ae3c" stroke="#111" stroke-width="0.72" stroke-linejoin="round"/>
<text x="566.2" y="278.6" font-size="9" text-anchor="middle" fill="#1a1a1a" stroke="#1a1a1a" stroke-width="0.22">4</text>
<line x1="566.2" y1="269.1" x2="566.2" y2="270.9" stroke="#444" stroke-width="0.7"/>
<path d="M573.44,264.8 L573.42,264.74 L573.35,264.57 L573.23,264.28 L573.08,263.87 L572.91,263.35 L572.89,263.3 L572.74,262.72 L572.59,261.97 L572.56,261.79 L572.5,261.1 L572.51,260.29 L572.52,260.12 L572.66,259.02 L572.71,258.79 L572.94,257.8 L573.09,257.28 L573.35,256.47 L573.57,255.78 L573.81,255.03 L574.03,254.28 L574.25,253.47 L574.42,252.77 L574.61,251.79 L574.7,251.27 L574.88,250 L574.91,249.77 L575.08,248.26 L575.1,248.09 L575.27,246.76 L575.36,246.07 L575.48,245.26 L575.7,243.93 L575.73,243.76 L575.99,242.25 L576.09,241.67 L576.24,240.75 L576.44,239.3 L576.45,239.25 L576.61,237.74 L576.69,236.82 L576.73,236.24 L576.78,234.74 L576.78,234.22 L576.78,233.23 L576.78,231.73 L576.78,231.5 L576.78,230.23 L576.78,228.72 L576.78,228.67 L576.82,227.22 L576.9,225.72 L576.9,225.72 L576.98,227.22 L577.02,228.67 L577.02,228.72 L577.02,230.23 L577.02,231.5 L577.02,231.73 L577.02,233.23 L577.02,234.22 L577.02,234.74 L577.07,236.24 L577.11,236.82 L577.19,237.74 L577.35,239.25 L577.36,239.3 L577.56,240.75 L577.71,241.67 L577.81,242.25 L578.07,243.76 L578.1,243.93 L578.32,245.26 L578.44,246.07 L578.53,246.76 L578.7,248.09 L578.72,248.26 L578.89,249.77 L578.92,250 L579.1,251.27 L579.19,251.79 L579.38,252.77 L579.55,253.47 L579.77,254.28 L579.99,255.03 L580.23,255.78 L580.45,256.47 L580.71,257.28 L580.86,257.8 L581.09,258.79 L581.14,259.02 L581.28,260.12 L581.29,260.29 L581.3,261.1 L581.24,261.79 L581.21,261.97 L581.06,262.72 L580.91,263.3 L580.89,263.35 L580.72,263.87 L580.57,264.28 L580.45,264.57 L580.38,264.74 L580.36,264.8Z" fill="#22b04a" stroke="#111" stroke-width="0.72" stroke-linejoin="round"/>
<text x="576.9" y="278.6" font-size="9" text-anchor="middle" fill="#1a1a1a" stroke="#1a1a1a" stroke-width="0.22">5</text>
<line x1="576.9" y1="269.1" x2="576.9" y2="270.9" stroke="#444" stroke-width="0.7"/>
<path d="M586.11,264.8 L586.09,264.75 L586.04,264.61 L585.95,264.38 L585.82,264.05 L585.65,263.63 L585.63,263.58 L585.43,263.12 L585.16,262.51 L585.09,262.37 L584.84,261.81 L584.53,261.15 L584.47,261.01 L584.07,260.12 L583.99,259.94 L583.67,259.14 L583.52,258.72 L583.3,258.07 L583.15,257.51 L583.03,256.9 L582.94,256.29 L582.9,255.64 L582.91,255.08 L582.98,254.28 L583.05,253.86 L583.3,252.83 L583.36,252.65 L583.8,251.43 L583.86,251.29 L584.32,250.21 L584.58,249.65 L584.88,249 L585.37,247.92 L585.43,247.78 L585.93,246.57 L586.11,246.1 L586.37,245.35 L586.71,244.18 L586.72,244.14 L587,242.92 L587.14,242.17 L587.21,241.71 L587.35,240.49 L587.39,240.07 L587.45,239.27 L587.48,238.06 L587.48,237.87 L587.48,236.84 L587.48,235.63 L587.48,235.58 L587.52,234.41 L587.6,233.2 L587.6,233.2 L587.68,234.41 L587.72,235.58 L587.72,235.63 L587.72,236.84 L587.72,237.87 L587.72,238.06 L587.75,239.27 L587.81,240.07 L587.85,240.49 L587.99,241.71 L588.06,242.17 L588.2,242.92 L588.48,244.14 L588.49,244.18 L588.83,245.35 L589.09,246.1 L589.27,246.57 L589.77,247.78 L589.83,247.92 L590.32,249 L590.62,249.65 L590.88,250.21 L591.34,251.29 L591.4,251.43 L591.84,252.65 L591.9,252.83 L592.15,253.86 L592.22,254.28 L592.29,255.08 L592.3,255.64 L592.26,256.29 L592.17,256.9 L592.05,257.51 L591.9,258.07 L591.68,258.72 L591.53,259.14 L591.21,259.94 L591.13,260.12 L590.73,261.01 L590.67,261.15 L590.36,261.81 L590.11,262.37 L590.04,262.51 L589.77,263.12 L589.57,263.58 L589.55,263.63 L589.38,264.05 L589.25,264.38 L589.16,264.61 L589.11,264.75 L589.09,264.8Z" fill="#1ebd8e" stroke="#111" stroke-width="0.72" stroke-linejoin="round"/>
<text x="587.6" y="278.6" font-size="9" text-anchor="middle" fill="#1a1a1a" stroke="#1a1a1a" stroke-width="0.22">6</text>
<line x1="587.6" y1="269.1" x2="587.6" y2="270.9" stroke="#444" stroke-width="0.7"/>
<path d="M597.35,264.8 L597.35,264.7 L597.35,264.38 L597.4,263.86 L597.51,263.14 L597.67,262.2 L597.69,262.1 L597.75,261.06 L597.66,259.7 L597.62,259.39 L597.4,258.14 L597.08,256.69 L597,256.38 L596.43,254.4 L596.3,253.98 L595.68,252.21 L595.33,251.28 L594.79,249.82 L594.34,248.57 L593.9,247.22 L593.53,245.87 L593.25,244.41 L593.12,243.17 L593.13,241.4 L593.23,240.46 L593.71,238.17 L593.82,237.76 L594.73,235.05 L594.85,234.74 L595.74,232.35 L596.18,231.1 L596.64,229.64 L597.26,227.25 L597.33,226.94 L597.79,224.24 L597.91,223.2 L598.06,221.53 L598.18,218.93 L598.18,218.83 L598.18,216.12 L598.18,214.46 L598.18,213.42 L598.18,210.71 L598.18,209.78 L598.18,208.01 L598.18,205.31 L598.18,204.89 L598.18,202.6 L598.18,199.9 L598.18,199.79 L598.22,197.19 L598.3,194.49 L598.3,194.49 L598.38,197.19 L598.42,199.79 L598.42,199.9 L598.42,202.6 L598.42,204.89 L598.42,205.31 L598.42,208.01 L598.42,209.78 L598.42,210.71 L598.42,213.42 L598.42,214.46 L598.42,216.12 L598.42,218.83 L598.42,218.93 L598.54,221.53 L598.69,223.2 L598.81,224.24 L599.27,226.94 L599.34,227.25 L599.96,229.64 L600.42,231.1 L600.86,232.35 L601.75,234.74 L601.87,235.05 L602.78,237.76 L602.89,238.17 L603.37,240.46 L603.47,241.4 L603.48,243.17 L603.35,244.41 L603.07,245.87 L602.7,247.22 L602.26,248.57 L601.81,249.82 L601.27,251.28 L600.92,252.21 L600.3,253.98 L600.17,254.4 L599.6,256.38 L599.52,256.69 L599.2,258.14 L598.98,259.39 L598.94,259.7 L598.85,261.06 L598.91,262.1 L598.93,262.2 L599.09,263.14 L599.2,263.86 L599.25,264.38 L599.25,264.7 L599.25,264.8Z" fill="#1bbcc4" stroke="#111" stroke-width="0.72" stroke-linejoin="round"/>
<text x="598.3" y="278.6" font-size="9" text-anchor="middle" fill="#1a1a1a" stroke="#1a1a1a" stroke-width="0.22">7</text>
<line x1="598.3" y1="269.1" x2="598.3" y2="270.9" stroke="#444" stroke-width="0.7"/>
<path d="M607.06,264.8 L607.05,264.71 L607.04,264.45 L607.09,264.01 L607.26,263.4 L607.52,262.61 L607.55,262.52 L607.76,261.64 L607.79,260.5 L607.77,260.24 L607.59,259.19 L607.3,257.96 L607.23,257.7 L606.75,256.03 L606.64,255.68 L606.16,254.19 L605.91,253.4 L605.51,252.17 L605.19,251.12 L604.86,249.98 L604.57,248.84 L604.32,247.61 L604.15,246.56 L604.02,245.07 L604,244.28 L604.1,242.35 L604.14,242 L604.55,239.72 L604.61,239.46 L605.16,237.44 L605.48,236.39 L605.88,235.16 L606.52,233.14 L606.61,232.88 L607.27,230.6 L607.5,229.72 L607.82,228.32 L608.23,226.13 L608.25,226.04 L608.54,223.76 L608.68,222.36 L608.74,221.48 L608.86,219.2 L608.88,218.41 L608.88,216.92 L608.88,214.64 L608.88,214.29 L608.88,212.36 L608.88,210.08 L608.88,209.99 L608.92,207.8 L609,205.52 L609,205.52 L609.08,207.8 L609.12,209.99 L609.12,210.08 L609.12,212.36 L609.12,214.29 L609.12,214.64 L609.12,216.92 L609.12,218.41 L609.14,219.2 L609.26,221.48 L609.32,222.36 L609.46,223.76 L609.75,226.04 L609.77,226.13 L610.18,228.32 L610.5,229.72 L610.73,230.6 L611.39,232.88 L611.48,233.14 L612.12,235.16 L612.52,236.39 L612.84,237.44 L613.39,239.46 L613.45,239.72 L613.86,242 L613.9,242.35 L614,244.28 L613.98,245.07 L613.85,246.56 L613.68,247.61 L613.43,248.84 L613.14,249.98 L612.81,251.12 L612.49,252.17 L612.09,253.4 L611.84,254.19 L611.36,255.68 L611.25,256.03 L610.77,257.7 L610.7,257.96 L610.41,259.19 L610.23,260.24 L610.21,260.5 L610.24,261.64 L610.45,262.52 L610.48,262.61 L610.74,263.4 L610.91,264.01 L610.96,264.45 L610.95,264.71 L610.94,264.8Z" fill="#1fb0ec" stroke="#111" stroke-width="0.72" stroke-linejoin="round"/>
<text x="609" y="278.6" font-size="9" text-anchor="middle" fill="#1a1a1a" stroke="#1a1a1a" stroke-width="0.22">8</text>
<line x1="609" y1="269.1" x2="609" y2="270.9" stroke="#444" stroke-width="0.7"/>
<path d="M616.3,264.8 L616.27,264.71 L616.19,264.45 L616.04,264.01 L615.86,263.4 L615.65,262.61 L615.63,262.53 L615.44,261.65 L615.27,260.52 L615.25,260.25 L615.2,259.21 L615.26,257.98 L615.29,257.72 L615.58,256.06 L615.66,255.71 L616.09,254.22 L616.35,253.44 L616.79,252.21 L617.17,251.16 L617.58,250.03 L617.96,248.89 L618.33,247.67 L618.6,246.62 L618.93,245.13 L619.07,244.35 L619.34,242.42 L619.37,242.07 L619.54,239.8 L619.56,239.54 L619.58,237.53 L619.58,236.48 L619.58,235.25 L619.58,233.24 L619.58,232.98 L619.58,230.71 L619.58,229.83 L619.58,228.44 L619.58,226.25 L619.58,226.16 L619.58,223.89 L619.58,222.49 L619.58,221.62 L619.58,219.34 L619.58,218.56 L619.58,217.07 L619.58,214.8 L619.58,214.45 L619.58,212.53 L619.58,210.25 L619.58,210.17 L619.62,207.98 L619.7,205.71 L619.7,205.71 L619.7,205.71 L619.7,205.71 L619.78,207.98 L619.82,210.17 L619.82,210.25 L619.82,212.53 L619.82,214.45 L619.82,214.8 L619.82,217.07 L619.82,218.56 L619.82,219.34 L619.82,221.62 L619.82,222.49 L619.82,223.89 L619.82,226.16 L619.82,226.25 L619.82,228.44 L619.82,229.83 L619.82,230.71 L619.82,232.98 L619.82,233.24 L619.82,235.25 L619.82,236.48 L619.82,237.53 L619.84,239.54 L619.86,239.8 L620.03,242.07 L620.06,242.42 L620.33,244.35 L620.47,245.13 L620.8,246.62 L621.07,247.67 L621.44,248.89 L621.82,250.03 L622.23,251.16 L622.61,252.21 L623.05,253.44 L623.31,254.22 L623.74,255.71 L623.82,256.06 L624.11,257.72 L624.14,257.98 L624.2,259.21 L624.15,260.25 L624.13,260.52 L623.96,261.65 L623.77,262.53 L623.75,262.61 L623.54,263.4 L623.36,264.01 L623.21,264.45 L623.13,264.71 L623.1,264.8Z" fill="#6890d8" stroke="#111" stroke-width="0.72" stroke-linejoin="round"/>
<text x="619.7" y="278.6" font-size="9" text-anchor="middle" fill="#1a1a1a" stroke="#1a1a1a" stroke-width="0.22">9</text>
<line x1="619.7" y1="269.1" x2="619.7" y2="270.9" stroke="#444" stroke-width="0.7"/>
<path d="M628.58,264.8 L628.57,264.68 L628.59,264.33 L628.71,263.74 L629.01,262.91 L629.35,261.85 L629.38,261.74 L629.5,260.56 L629.34,259.03 L629.28,258.67 L629,257.26 L628.6,255.61 L628.51,255.25 L627.88,253.02 L627.73,252.54 L627.11,250.54 L626.78,249.48 L626.29,247.83 L625.91,246.42 L625.56,244.88 L625.3,243.35 L625.14,241.7 L625.1,240.29 L625.22,238.29 L625.36,237.22 L625.89,234.63 L626.01,234.16 L626.91,231.1 L627.02,230.74 L627.85,228.03 L628.27,226.62 L628.7,224.97 L629.3,222.26 L629.36,221.91 L629.82,218.84 L629.95,217.66 L630.1,215.78 L630.26,212.83 L630.26,212.71 L630.28,209.65 L630.28,207.76 L630.28,206.59 L630.28,203.52 L630.28,202.46 L630.28,200.46 L630.28,197.39 L630.28,196.92 L630.28,194.33 L630.28,191.27 L630.28,191.15 L630.32,188.2 L630.4,185.14 L630.4,185.14 L630.48,188.2 L630.52,191.15 L630.52,191.27 L630.52,194.33 L630.52,196.92 L630.52,197.39 L630.52,200.46 L630.52,202.46 L630.52,203.52 L630.52,206.59 L630.52,207.76 L630.52,209.65 L630.54,212.71 L630.54,212.83 L630.7,215.78 L630.85,217.66 L630.98,218.84 L631.44,221.91 L631.5,222.26 L632.1,224.97 L632.53,226.62 L632.95,228.03 L633.78,230.74 L633.89,231.1 L634.79,234.16 L634.91,234.63 L635.44,237.22 L635.58,238.29 L635.7,240.29 L635.66,241.7 L635.5,243.35 L635.24,244.88 L634.89,246.42 L634.51,247.83 L634.02,249.48 L633.69,250.54 L633.07,252.54 L632.92,253.02 L632.29,255.25 L632.2,255.61 L631.8,257.26 L631.52,258.67 L631.46,259.03 L631.3,260.56 L631.42,261.74 L631.45,261.85 L631.79,262.91 L632.09,263.74 L632.21,264.33 L632.23,264.68 L632.22,264.8Z" fill="#a87cc8" stroke="#111" stroke-width="0.72" stroke-linejoin="round"/>
<text x="630.4" y="278.6" font-size="9" text-anchor="middle" fill="#1a1a1a" stroke="#1a1a1a" stroke-width="0.22">10</text>
<line x1="630.4" y1="269.1" x2="630.4" y2="270.9" stroke="#444" stroke-width="0.7"/>
<path d="M638.92,264.8 L638.91,264.68 L638.9,264.32 L638.99,263.71 L639.22,262.86 L639.47,261.77 L639.48,261.65 L639.46,260.44 L639.12,258.86 L639.02,258.5 L638.58,257.05 L638.03,255.35 L637.92,254.99 L637.2,252.68 L637.06,252.2 L636.55,250.14 L636.34,249.05 L636.14,247.35 L636.1,245.9 L636.19,244.32 L636.41,242.75 L636.78,241.05 L637.17,239.6 L637.81,237.54 L638.17,236.45 L639,233.78 L639.14,233.3 L639.93,230.15 L640.01,229.78 L640.48,227 L640.65,225.54 L640.81,223.85 L640.96,221.06 L640.98,220.7 L640.98,217.55 L640.98,216.33 L640.98,214.4 L640.98,211.37 L640.98,211.25 L640.98,208.1 L640.98,206.16 L640.98,204.95 L640.98,201.8 L640.98,200.7 L640.98,198.65 L640.98,195.49 L640.98,195.01 L640.98,192.34 L640.98,189.19 L640.98,189.07 L641.02,186.04 L641.1,182.89 L641.1,182.89 L641.18,186.04 L641.22,189.07 L641.22,189.19 L641.22,192.34 L641.22,195.01 L641.22,195.49 L641.22,198.65 L641.22,200.7 L641.22,201.8 L641.22,204.95 L641.22,206.16 L641.22,208.1 L641.22,211.25 L641.22,211.37 L641.22,214.4 L641.22,216.33 L641.22,217.55 L641.22,220.7 L641.24,221.06 L641.39,223.85 L641.55,225.54 L641.72,227 L642.19,229.78 L642.27,230.15 L643.06,233.3 L643.2,233.78 L644.03,236.45 L644.39,237.54 L645.03,239.6 L645.42,241.05 L645.79,242.75 L646.01,244.32 L646.1,245.9 L646.06,247.35 L645.86,249.05 L645.65,250.14 L645.14,252.2 L645,252.68 L644.28,254.99 L644.17,255.35 L643.62,257.05 L643.18,258.5 L643.08,258.86 L642.74,260.44 L642.72,261.65 L642.73,261.77 L642.98,262.86 L643.21,263.71 L643.3,264.32 L643.29,264.68 L643.28,264.8Z" fill="#cc68b8" stroke="#111" stroke-width="0.72" stroke-linejoin="round"/>
<text x="641.1" y="278.6" font-size="9" text-anchor="middle" fill="#1a1a1a" stroke="#1a1a1a" stroke-width="0.22">11</text>
<line x1="641.1" y1="269.1" x2="641.1" y2="270.9" stroke="#444" stroke-width="0.7"/>
<path d="M649.48,264.8 L649.45,264.68 L649.37,264.32 L649.23,263.71 L649.03,262.86 L648.76,261.77 L648.73,261.65 L648.43,260.44 L648.05,258.86 L647.96,258.5 L647.63,257.05 L647.28,255.35 L647.21,254.99 L646.83,252.68 L646.77,252.2 L646.57,250.14 L646.52,249.05 L646.51,247.35 L646.57,245.9 L646.7,244.32 L646.91,242.75 L647.19,241.05 L647.48,239.6 L647.94,237.54 L648.2,236.45 L648.85,233.78 L648.97,233.3 L649.7,230.15 L649.78,229.78 L650.33,227 L650.58,225.54 L650.83,223.85 L651.16,221.06 L651.2,220.7 L651.44,217.55 L651.51,216.33 L651.6,214.4 L651.68,211.37 L651.68,211.25 L651.68,208.1 L651.68,206.16 L651.68,204.95 L651.68,201.8 L651.68,200.7 L651.68,198.65 L651.68,195.49 L651.68,195.01 L651.68,192.34 L651.68,189.19 L651.68,189.07 L651.72,186.04 L651.8,182.89 L651.8,182.89 L651.88,186.04 L651.92,189.07 L651.92,189.19 L651.92,192.34 L651.92,195.01 L651.92,195.49 L651.92,198.65 L651.92,200.7 L651.92,201.8 L651.92,204.95 L651.92,206.16 L651.92,208.1 L651.92,211.25 L651.92,211.37 L652,214.4 L652.09,216.33 L652.16,217.55 L652.4,220.7 L652.44,221.06 L652.77,223.85 L653.02,225.54 L653.27,227 L653.82,229.78 L653.9,230.15 L654.63,233.3 L654.75,233.78 L655.4,236.45 L655.66,237.54 L656.12,239.6 L656.41,241.05 L656.69,242.75 L656.9,244.32 L657.03,245.9 L657.09,247.35 L657.08,249.05 L657.03,250.14 L656.83,252.2 L656.77,252.68 L656.39,254.99 L656.32,255.35 L655.97,257.05 L655.64,258.5 L655.55,258.86 L655.17,260.44 L654.87,261.65 L654.84,261.77 L654.57,262.86 L654.37,263.71 L654.23,264.32 L654.15,264.68 L654.12,264.8Z" fill="#f264a6" stroke="#111" stroke-width="0.72" stroke-linejoin="round"/>
<text x="651.8" y="278.6" font-size="9" text-anchor="middle" fill="#1a1a1a" stroke="#1a1a1a" stroke-width="0.22">12</text>
<line x1="651.8" y1="269.1" x2="651.8" y2="270.9" stroke="#444" stroke-width="0.7"/>
<line x1="527.3" y1="178.6" x2="527.3" y2="269.1" stroke="#444" stroke-width="0.9"/>
<line x1="526.9" y1="269.1" x2="658.7" y2="269.1" stroke="#444" stroke-width="0.9"/>
<line x1="525.3" y1="190" x2="527.3" y2="190" stroke="#444" stroke-width="0.8"/>
<text x="524.9" y="193.1" font-size="9.6" text-anchor="end" fill="#1a1a1a" stroke="#1a1a1a" stroke-width="0.22">4</text>
<line x1="525.3" y1="208.7" x2="527.3" y2="208.7" stroke="#444" stroke-width="0.8"/>
<text x="524.9" y="211.8" font-size="9.6" text-anchor="end" fill="#1a1a1a" stroke="#1a1a1a" stroke-width="0.22">3</text>
<line x1="525.3" y1="227.4" x2="527.3" y2="227.4" stroke="#444" stroke-width="0.8"/>
<text x="524.9" y="230.5" font-size="9.6" text-anchor="end" fill="#1a1a1a" stroke="#1a1a1a" stroke-width="0.22">2</text>
<line x1="525.3" y1="246.1" x2="527.3" y2="246.1" stroke="#444" stroke-width="0.8"/>
<text x="524.9" y="249.2" font-size="9.6" text-anchor="end" fill="#1a1a1a" stroke="#1a1a1a" stroke-width="0.22">1</text>
<line x1="525.3" y1="264.8" x2="527.3" y2="264.8" stroke="#444" stroke-width="0.8"/>
<text x="524.9" y="267.9" font-size="9.6" text-anchor="end" fill="#1a1a1a" stroke="#1a1a1a" stroke-width="0.22">0</text>
<text x="512.5" y="225.8" font-size="9.8" text-anchor="middle" fill="#1a1a1a" transform="rotate(-90 512.5 225.8)" stroke="#1a1a1a" stroke-width="0.22">Expression Level</text>
<path d="M532.28,412.7 L532.28,412.61 L532.34,412.36 L532.59,411.93 L533.12,411.33 L533.74,410.56 L533.79,410.47 L534.12,409.61 L534.18,408.5 L534.18,408.24 L534.18,407.21 L534.14,406.01 L534.12,405.76 L534.04,404.13 L534.02,403.78 L533.91,402.33 L533.84,401.55 L533.71,400.35 L533.58,399.33 L533.42,398.21 L533.23,397.1 L533,395.9 L532.78,394.87 L532.44,393.41 L532.24,392.64 L531.73,390.75 L531.63,390.41 L531,388.18 L530.92,387.92 L530.39,385.95 L530.14,384.92 L529.89,383.72 L529.57,381.75 L529.54,381.49 L529.4,379.26 L529.41,378.41 L529.48,377.04 L529.76,374.89 L529.78,374.81 L530.25,372.58 L530.59,371.21 L530.83,370.35 L531.46,368.12 L531.68,367.35 L532.08,365.89 L532.65,363.66 L532.73,363.32 L533.12,361.43 L533.5,359.2 L533.51,359.12 L533.97,356.97 L534.3,354.75 L534.3,354.75 L534.63,356.97 L535.09,359.12 L535.1,359.2 L535.48,361.43 L535.87,363.32 L535.95,363.66 L536.52,365.89 L536.92,367.35 L537.14,368.12 L537.77,370.35 L538.01,371.21 L538.35,372.58 L538.82,374.81 L538.84,374.89 L539.12,377.04 L539.19,378.41 L539.2,379.26 L539.06,381.49 L539.03,381.75 L538.71,383.72 L538.46,384.92 L538.21,385.95 L537.68,387.92 L537.6,388.18 L536.97,390.41 L536.87,390.75 L536.36,392.64 L536.16,393.41 L535.82,394.87 L535.6,395.9 L535.37,397.1 L535.18,398.21 L535.02,399.33 L534.89,400.35 L534.76,401.55 L534.69,402.33 L534.58,403.78 L534.56,404.13 L534.48,405.76 L534.46,406.01 L534.42,407.21 L534.42,408.24 L534.42,408.5 L534.48,409.61 L534.81,410.47 L534.86,410.56 L535.48,411.33 L536.01,411.93 L536.26,412.36 L536.32,412.61 L536.32,412.7Z" fill="#f07870" stroke="#111" stroke-width="0.72" stroke-linejoin="round"/>
<text x="533.3" y="426.4" font-size="9" text-anchor="middle" fill="#1a1a1a" stroke="#1a1a1a" stroke-width="0.22">1</text>
<line x1="534.3" y1="416.6" x2="534.3" y2="418.4" stroke="#444" stroke-width="0.7"/>
<path d="M540.35,412.7 L540.35,412.62 L540.42,412.4 L540.69,412.02 L541.35,411.49 L542.41,410.81 L542.53,410.74 L543.61,409.98 L544.48,409 L544.6,408.77 L544.83,407.87 L544.83,406.81 L544.83,406.58 L544.83,405.15 L544.83,404.85 L544.83,403.57 L544.83,402.89 L544.83,401.83 L544.83,400.92 L544.83,399.94 L544.83,398.96 L544.83,397.9 L544.83,397 L544.83,395.71 L544.83,395.03 L544.83,393.37 L544.83,393.07 L544.83,391.11 L544.83,390.88 L544.83,389.15 L544.83,388.24 L544.83,387.18 L544.83,385.45 L544.83,385.22 L544.83,383.26 L544.83,382.5 L544.83,381.29 L544.83,379.41 L544.83,379.33 L544.83,377.37 L544.83,376.16 L544.83,375.41 L544.83,373.44 L544.83,372.76 L544.83,371.48 L544.83,369.52 L544.83,369.21 L544.83,367.55 L544.83,365.59 L544.83,365.52 L544.87,363.63 L544.95,361.66 L544.95,361.66 L545.03,363.63 L545.07,365.52 L545.07,365.59 L545.07,367.55 L545.07,369.21 L545.07,369.52 L545.07,371.48 L545.07,372.76 L545.07,373.44 L545.07,375.41 L545.07,376.16 L545.07,377.37 L545.07,379.33 L545.07,379.41 L545.07,381.29 L545.07,382.5 L545.07,383.26 L545.07,385.22 L545.07,385.45 L545.07,387.18 L545.07,388.24 L545.07,389.15 L545.07,390.88 L545.07,391.11 L545.07,393.07 L545.07,393.37 L545.07,395.03 L545.07,395.71 L545.07,397 L545.07,397.9 L545.07,398.96 L545.07,399.94 L545.07,400.92 L545.07,401.83 L545.07,402.89 L545.07,403.57 L545.07,404.85 L545.07,405.15 L545.07,406.58 L545.07,406.81 L545.07,407.87 L545.3,408.77 L545.42,409 L546.29,409.98 L547.37,410.74 L547.49,410.81 L548.55,411.49 L549.21,412.02 L549.48,412.4 L549.55,412.62 L549.55,412.7Z" fill="#dc8a28" stroke="#111" stroke-width="0.72" stroke-linejoin="round"/>
<text x="544.02" y="426.4" font-size="9" text-anchor="middle" fill="#1a1a1a" stroke="#1a1a1a" stroke-width="0.22">2</text>
<line x1="544.95" y1="416.6" x2="544.95" y2="418.4" stroke="#444" stroke-width="0.7"/>
<path d="M552.6,412.7 L552.6,412.63 L552.66,412.43 L552.9,412.1 L553.46,411.64 L554.28,411.04 L554.37,410.97 L555.05,410.3 L555.47,409.44 L555.48,409.24 L555.48,408.44 L555.48,407.51 L555.48,407.31 L555.48,406.05 L555.48,405.78 L555.48,404.65 L555.48,404.05 L555.48,403.12 L555.48,402.32 L555.48,401.45 L555.48,400.59 L555.48,399.66 L555.48,398.86 L555.48,397.73 L555.48,397.13 L555.48,395.67 L555.48,395.4 L555.48,393.67 L555.48,393.47 L555.48,391.94 L555.48,391.14 L555.48,390.21 L555.48,388.68 L555.48,388.48 L555.48,386.75 L555.48,386.08 L555.48,385.02 L555.48,383.36 L555.48,383.29 L555.48,381.56 L555.48,380.5 L555.48,379.83 L555.48,378.1 L555.48,377.5 L555.48,376.37 L555.48,374.64 L555.48,374.37 L555.48,372.91 L555.48,371.18 L555.48,371.11 L555.52,369.45 L555.6,367.72 L555.6,367.72 L555.68,369.45 L555.72,371.11 L555.72,371.18 L555.72,372.91 L555.72,374.37 L555.72,374.64 L555.72,376.37 L555.72,377.5 L555.72,378.1 L555.72,379.83 L555.72,380.5 L555.72,381.56 L555.72,383.29 L555.72,383.36 L555.72,385.02 L555.72,386.08 L555.72,386.75 L555.72,388.48 L555.72,388.68 L555.72,390.21 L555.72,391.14 L555.72,391.94 L555.72,393.47 L555.72,393.67 L555.72,395.4 L555.72,395.67 L555.72,397.13 L555.72,397.73 L555.72,398.86 L555.72,399.66 L555.72,400.59 L555.72,401.45 L555.72,402.32 L555.72,403.12 L555.72,404.05 L555.72,404.65 L555.72,405.78 L555.72,406.05 L555.72,407.31 L555.72,407.51 L555.72,408.44 L555.72,409.24 L555.73,409.44 L556.15,410.3 L556.83,410.97 L556.92,411.04 L557.74,411.64 L558.3,412.1 L558.54,412.43 L558.6,412.63 L558.6,412.7Z" fill="#b4a030" stroke="#111" stroke-width="0.72" stroke-linejoin="round"/>
<text x="554.74" y="426.4" font-size="9" text-anchor="middle" fill="#1a1a1a" stroke="#1a1a1a" stroke-width="0.22">3</text>
<line x1="555.6" y1="416.6" x2="555.6" y2="418.4" stroke="#444" stroke-width="0.7"/>
<path d="M562.25,412.7 L562.25,412.62 L562.32,412.38 L562.58,411.99 L563.19,411.43 L564.18,410.72 L564.28,410.64 L565.23,409.84 L565.93,408.81 L566.02,408.57 L566.13,407.62 L566.13,406.51 L566.13,406.27 L566.13,404.77 L566.13,404.45 L566.13,403.1 L566.13,402.39 L566.13,401.28 L566.13,400.32 L566.13,399.29 L566.13,398.26 L566.13,397.15 L566.13,396.2 L566.13,394.85 L566.13,394.14 L566.13,392.39 L566.13,392.07 L566.13,390.01 L566.13,389.77 L566.13,387.95 L566.13,387 L566.13,385.88 L566.13,384.06 L566.13,383.82 L566.13,381.76 L566.13,380.97 L566.13,379.7 L566.13,377.71 L566.13,377.63 L566.13,375.57 L566.13,374.3 L566.13,373.51 L566.13,371.45 L566.13,370.73 L566.13,369.38 L566.13,367.32 L566.13,367 L566.13,365.26 L566.13,363.2 L566.13,363.12 L566.17,361.13 L566.25,359.07 L566.25,359.07 L566.33,361.13 L566.37,363.12 L566.37,363.2 L566.37,365.26 L566.37,367 L566.37,367.32 L566.37,369.38 L566.37,370.73 L566.37,371.45 L566.37,373.51 L566.37,374.3 L566.37,375.57 L566.37,377.63 L566.37,377.71 L566.37,379.7 L566.37,380.97 L566.37,381.76 L566.37,383.82 L566.37,384.06 L566.37,385.88 L566.37,387 L566.37,387.95 L566.37,389.77 L566.37,390.01 L566.37,392.07 L566.37,392.39 L566.37,394.14 L566.37,394.85 L566.37,396.2 L566.37,397.15 L566.37,398.26 L566.37,399.29 L566.37,400.32 L566.37,401.28 L566.37,402.39 L566.37,403.1 L566.37,404.45 L566.37,404.77 L566.37,406.27 L566.37,406.51 L566.37,407.62 L566.48,408.57 L566.57,408.81 L567.27,409.84 L568.22,410.64 L568.32,410.72 L569.31,411.43 L569.92,411.99 L570.18,412.38 L570.25,412.62 L570.25,412.7Z" fill="#84ae3c" stroke="#111" stroke-width="0.72" stroke-linejoin="round"/>
<text x="565.46" y="426.4" font-size="9" text-anchor="middle" fill="#1a1a1a" stroke="#1a1a1a" stroke-width="0.22">4</text>
<line x1="566.25" y1="416.6" x2="566.25" y2="418.4" stroke="#444" stroke-width="0.7"/>
<path d="M571.9,412.7 L572.02,412.62 L573.48,412.4 L576.17,412.02 L576.78,411.49 L576.78,410.81 L576.78,410.74 L576.78,409.98 L576.78,409 L576.78,408.77 L576.78,407.87 L576.78,406.81 L576.78,406.58 L576.78,405.15 L576.78,404.85 L576.78,403.57 L576.78,402.89 L576.78,401.83 L576.78,400.92 L576.78,399.94 L576.78,398.96 L576.78,397.9 L576.78,397 L576.78,395.71 L576.78,395.03 L576.78,393.37 L576.78,393.07 L576.78,391.11 L576.78,390.88 L576.78,389.15 L576.78,388.24 L576.78,387.18 L576.78,385.45 L576.78,385.22 L576.78,383.26 L576.78,382.5 L576.78,381.29 L576.78,379.41 L576.78,379.33 L576.78,377.37 L576.78,376.16 L576.78,375.41 L576.78,373.44 L576.78,372.76 L576.78,371.48 L576.78,369.52 L576.78,369.21 L576.78,367.55 L576.78,365.59 L576.78,365.52 L576.82,363.63 L576.9,361.66 L576.9,361.66 L576.98,363.63 L577.02,365.52 L577.02,365.59 L577.02,367.55 L577.02,369.21 L577.02,369.52 L577.02,371.48 L577.02,372.76 L577.02,373.44 L577.02,375.41 L577.02,376.16 L577.02,377.37 L577.02,379.33 L577.02,379.41 L577.02,381.29 L577.02,382.5 L577.02,383.26 L577.02,385.22 L577.02,385.45 L577.02,387.18 L577.02,388.24 L577.02,389.15 L577.02,390.88 L577.02,391.11 L577.02,393.07 L577.02,393.37 L577.02,395.03 L577.02,395.71 L577.02,397 L577.02,397.9 L577.02,398.96 L577.02,399.94 L577.02,400.92 L577.02,401.83 L577.02,402.89 L577.02,403.57 L577.02,404.85 L577.02,405.15 L577.02,406.58 L577.02,406.81 L577.02,407.87 L577.02,408.77 L577.02,409 L577.02,409.98 L577.02,410.74 L577.02,410.81 L577.02,411.49 L577.63,412.02 L580.32,412.4 L581.78,412.62 L581.9,412.7Z" fill="#22b04a" stroke="#111" stroke-width="0.72" stroke-linejoin="round"/>
<text x="576.18" y="426.4" font-size="9" text-anchor="middle" fill="#1a1a1a" stroke="#1a1a1a" stroke-width="0.22">5</text>
<line x1="576.9" y1="416.6" x2="576.9" y2="418.4" stroke="#444" stroke-width="0.7"/>
<path d="M582.55,412.7 L582.55,412.63 L582.59,412.42 L582.76,412.07 L583.18,411.57 L583.96,410.94 L584.05,410.87 L585.03,410.17 L586.15,409.25 L586.36,409.04 L586.98,408.2 L587.35,407.21 L587.4,407 L587.43,405.66 L587.43,405.38 L587.43,404.18 L587.43,403.55 L587.43,402.57 L587.43,401.72 L587.43,400.81 L587.43,399.89 L587.43,398.91 L587.43,398.06 L587.43,396.87 L587.43,396.23 L587.43,394.68 L587.43,394.4 L587.43,392.57 L587.43,392.36 L587.43,390.74 L587.43,389.9 L587.43,388.91 L587.43,387.29 L587.43,387.08 L587.43,385.25 L587.43,384.55 L587.43,383.42 L587.43,381.66 L587.43,381.59 L587.43,379.76 L587.43,378.64 L587.43,377.93 L587.43,376.1 L587.43,375.47 L587.43,374.27 L587.43,372.44 L587.43,372.16 L587.43,370.61 L587.43,368.78 L587.43,368.71 L587.47,366.95 L587.55,365.12 L587.55,365.12 L587.63,366.95 L587.67,368.71 L587.67,368.78 L587.67,370.61 L587.67,372.16 L587.67,372.44 L587.67,374.27 L587.67,375.47 L587.67,376.1 L587.67,377.93 L587.67,378.64 L587.67,379.76 L587.67,381.59 L587.67,381.66 L587.67,383.42 L587.67,384.55 L587.67,385.25 L587.67,387.08 L587.67,387.29 L587.67,388.91 L587.67,389.9 L587.67,390.74 L587.67,392.36 L587.67,392.57 L587.67,394.4 L587.67,394.68 L587.67,396.23 L587.67,396.87 L587.67,398.06 L587.67,398.91 L587.67,399.89 L587.67,400.81 L587.67,401.72 L587.67,402.57 L587.67,403.55 L587.67,404.18 L587.67,405.38 L587.67,405.66 L587.7,407 L587.75,407.21 L588.12,408.2 L588.74,409.04 L588.95,409.25 L590.07,410.17 L591.05,410.87 L591.14,410.94 L591.92,411.57 L592.34,412.07 L592.51,412.42 L592.55,412.63 L592.55,412.7Z" fill="#1ebd8e" stroke="#111" stroke-width="0.72" stroke-linejoin="round"/>
<text x="586.9" y="426.4" font-size="9" text-anchor="middle" fill="#1a1a1a" stroke="#1a1a1a" stroke-width="0.22">6</text>
<line x1="587.55" y1="416.6" x2="587.55" y2="418.4" stroke="#444" stroke-width="0.7"/>
<path d="M596.7,412.7 L596.71,412.58 L596.8,412.22 L597.13,411.63 L597.69,410.8 L598.08,409.72 L598.08,409.61 L598.08,408.42 L598.08,406.87 L598.08,406.51 L598.08,405.08 L598.08,403.42 L598.08,403.06 L598.08,400.8 L598.08,400.32 L598.08,398.3 L598.08,397.23 L598.04,395.56 L597.98,394.14 L597.89,392.59 L597.77,391.04 L597.61,389.38 L597.44,387.95 L597.14,385.92 L596.95,384.85 L596.4,382.24 L596.29,381.76 L595.5,378.67 L595.4,378.31 L594.65,375.57 L594.28,374.14 L593.88,372.48 L593.38,369.74 L593.33,369.38 L593.1,366.29 L593.12,365.1 L593.26,363.2 L593.73,360.22 L593.75,360.1 L594.49,357.01 L595.01,355.1 L595.34,353.91 L596.15,350.82 L596.4,349.75 L596.84,347.73 L597.36,344.63 L597.43,344.16 L597.72,341.54 L597.95,338.44 L597.95,338.32 L598.12,335.35 L598.2,332.25 L598.2,332.25 L598.2,332.25 L598.2,332.25 L598.28,335.35 L598.45,338.32 L598.45,338.44 L598.68,341.54 L598.97,344.16 L599.04,344.63 L599.56,347.73 L600,349.75 L600.25,350.82 L601.06,353.91 L601.39,355.1 L601.91,357.01 L602.65,360.1 L602.67,360.22 L603.14,363.2 L603.28,365.1 L603.3,366.29 L603.07,369.38 L603.02,369.74 L602.52,372.48 L602.12,374.14 L601.75,375.57 L601,378.31 L600.9,378.67 L600.11,381.76 L600,382.24 L599.45,384.85 L599.26,385.92 L598.96,387.95 L598.79,389.38 L598.63,391.04 L598.51,392.59 L598.42,394.14 L598.36,395.56 L598.32,397.23 L598.32,398.3 L598.32,400.32 L598.32,400.8 L598.32,403.06 L598.32,403.42 L598.32,405.08 L598.32,406.51 L598.32,406.87 L598.32,408.42 L598.32,409.61 L598.32,409.72 L598.71,410.8 L599.27,411.63 L599.6,412.22 L599.69,412.58 L599.7,412.7Z" fill="#1bbcc4" stroke="#111" stroke-width="0.72" stroke-linejoin="round"/>
<text x="597.62" y="426.4" font-size="9" text-anchor="middle" fill="#1a1a1a" stroke="#1a1a1a" stroke-width="0.22">7</text>
<line x1="598.2" y1="416.6" x2="598.2" y2="418.4" stroke="#444" stroke-width="0.7"/>
<path d="M605.35,412.7 L605.35,412.58 L605.41,412.22 L605.64,411.62 L606.19,410.78 L607.06,409.69 L607.16,409.57 L607.98,408.37 L608.58,406.81 L608.66,406.45 L608.73,405 L608.73,403.32 L608.73,402.96 L608.73,400.67 L608.73,400.19 L608.73,398.15 L608.73,397.06 L608.73,395.38 L608.73,393.94 L608.73,392.37 L608.69,390.81 L608.62,389.12 L608.54,387.68 L608.4,385.64 L608.3,384.55 L608.01,381.91 L607.94,381.43 L607.43,378.3 L607.36,377.94 L606.78,375.17 L606.45,373.73 L606.03,372.04 L605.35,369.28 L605.26,368.92 L604.56,365.79 L604.34,364.59 L604.07,362.66 L603.86,359.66 L603.85,359.54 L603.97,356.41 L604.2,354.48 L604.39,353.28 L605.04,350.15 L605.29,349.07 L605.8,347.03 L606.57,343.9 L606.68,343.42 L607.25,340.77 L607.8,337.64 L607.82,337.52 L608.44,334.52 L608.85,331.39 L608.85,331.39 L609.26,334.52 L609.88,337.52 L609.9,337.64 L610.45,340.77 L611.02,343.42 L611.13,343.9 L611.9,347.03 L612.41,349.07 L612.66,350.15 L613.31,353.28 L613.5,354.48 L613.73,356.41 L613.85,359.54 L613.84,359.66 L613.63,362.66 L613.36,364.59 L613.14,365.79 L612.44,368.92 L612.35,369.28 L611.67,372.04 L611.25,373.73 L610.92,375.17 L610.34,377.94 L610.27,378.3 L609.76,381.43 L609.69,381.91 L609.4,384.55 L609.3,385.64 L609.16,387.68 L609.08,389.12 L609.01,390.81 L608.97,392.37 L608.97,393.94 L608.97,395.38 L608.97,397.06 L608.97,398.15 L608.97,400.19 L608.97,400.67 L608.97,402.96 L608.97,403.32 L608.97,405 L609.04,406.45 L609.12,406.81 L609.72,408.37 L610.54,409.57 L610.64,409.69 L611.51,410.78 L612.06,411.62 L612.29,412.22 L612.35,412.58 L612.35,412.7Z" fill="#1fb0ec" stroke="#111" stroke-width="0.72" stroke-linejoin="round"/>
<text x="608.34" y="426.4" font-size="9" text-anchor="middle" fill="#1a1a1a" stroke="#1a1a1a" stroke-width="0.22">8</text>
<line x1="608.85" y1="416.6" x2="608.85" y2="418.4" stroke="#444" stroke-width="0.7"/>
<path d="M614.5,412.7 L614.6,412.63 L615.91,412.42 L618.56,412.07 L619.38,411.57 L619.38,410.94 L619.38,410.87 L619.38,410.17 L619.38,409.25 L619.38,409.04 L619.38,408.2 L619.38,407.21 L619.38,407 L619.38,405.66 L619.38,405.38 L619.38,404.18 L619.38,403.55 L619.38,402.57 L619.38,401.72 L619.38,400.81 L619.38,399.89 L619.38,398.91 L619.38,398.06 L619.38,396.87 L619.38,396.23 L619.38,394.68 L619.38,394.4 L619.38,392.57 L619.38,392.36 L619.38,390.74 L619.38,389.9 L619.38,388.91 L619.38,387.29 L619.38,387.08 L619.38,385.25 L619.38,384.55 L619.38,383.42 L619.38,381.66 L619.38,381.59 L619.38,379.76 L619.38,378.64 L619.38,377.93 L619.38,376.1 L619.38,375.47 L619.38,374.27 L619.38,372.44 L619.38,372.16 L619.38,370.61 L619.38,368.78 L619.38,368.71 L619.42,366.95 L619.5,365.12 L619.5,365.12 L619.58,366.95 L619.62,368.71 L619.62,368.78 L619.62,370.61 L619.62,372.16 L619.62,372.44 L619.62,374.27 L619.62,375.47 L619.62,376.1 L619.62,377.93 L619.62,378.64 L619.62,379.76 L619.62,381.59 L619.62,381.66 L619.62,383.42 L619.62,384.55 L619.62,385.25 L619.62,387.08 L619.62,387.29 L619.62,388.91 L619.62,389.9 L619.62,390.74 L619.62,392.36 L619.62,392.57 L619.62,394.4 L619.62,394.68 L619.62,396.23 L619.62,396.87 L619.62,398.06 L619.62,398.91 L619.62,399.89 L619.62,400.81 L619.62,401.72 L619.62,402.57 L619.62,403.55 L619.62,404.18 L619.62,405.38 L619.62,405.66 L619.62,407 L619.62,407.21 L619.62,408.2 L619.62,409.04 L619.62,409.25 L619.62,410.17 L619.62,410.87 L619.62,410.94 L619.62,411.57 L620.44,412.07 L623.09,412.42 L624.4,412.63 L624.5,412.7Z" fill="#6890d8" stroke="#111" stroke-width="0.72" stroke-linejoin="round"/>
<text x="619.06" y="426.4" font-size="9" text-anchor="middle" fill="#1a1a1a" stroke="#1a1a1a" stroke-width="0.22">9</text>
<line x1="619.5" y1="416.6" x2="619.5" y2="418.4" stroke="#444" stroke-width="0.7"/>
<path d="M626.15,412.7 L626.15,412.58 L626.21,412.24 L626.45,411.66 L627.04,410.86 L627.98,409.82 L628.09,409.71 L629.03,408.55 L629.76,407.06 L629.86,406.71 L630.03,405.33 L630.03,403.72 L630.03,403.37 L630.03,401.18 L630.03,400.72 L630.03,398.77 L630.03,397.73 L630,396.12 L629.95,394.73 L629.88,393.24 L629.79,391.74 L629.68,390.13 L629.55,388.75 L629.34,386.79 L629.21,385.75 L628.84,383.22 L628.76,382.76 L628.22,379.76 L628.16,379.42 L627.63,376.77 L627.36,375.39 L627.05,373.77 L626.61,371.13 L626.56,370.78 L626.25,367.79 L626.18,366.63 L626.15,364.79 L626.29,361.91 L626.3,361.8 L626.66,358.8 L626.96,356.96 L627.17,355.81 L627.76,352.82 L627.97,351.78 L628.35,349.82 L628.87,346.83 L628.94,346.37 L629.3,343.83 L629.61,340.84 L629.62,340.72 L629.95,337.84 L630.15,334.85 L630.15,334.85 L630.15,334.85 L630.15,334.85 L630.35,337.84 L630.68,340.72 L630.69,340.84 L631,343.83 L631.36,346.37 L631.43,346.83 L631.95,349.82 L632.33,351.78 L632.54,352.82 L633.13,355.81 L633.34,356.96 L633.64,358.8 L634,361.8 L634.01,361.91 L634.15,364.79 L634.12,366.63 L634.05,367.79 L633.74,370.78 L633.69,371.13 L633.25,373.77 L632.94,375.39 L632.67,376.77 L632.14,379.42 L632.08,379.76 L631.54,382.76 L631.46,383.22 L631.09,385.75 L630.96,386.79 L630.75,388.75 L630.62,390.13 L630.51,391.74 L630.42,393.24 L630.35,394.73 L630.3,396.12 L630.27,397.73 L630.27,398.77 L630.27,400.72 L630.27,401.18 L630.27,403.37 L630.27,403.72 L630.27,405.33 L630.44,406.71 L630.54,407.06 L631.27,408.55 L632.21,409.71 L632.32,409.82 L633.26,410.86 L633.85,411.66 L634.09,412.24 L634.15,412.58 L634.15,412.7Z" fill="#a87cc8" stroke="#111" stroke-width="0.72" stroke-linejoin="round"/>
<text x="629.78" y="426.4" font-size="9" text-anchor="middle" fill="#1a1a1a" stroke="#1a1a1a" stroke-width="0.22">10</text>
<line x1="630.15" y1="416.6" x2="630.15" y2="418.4" stroke="#444" stroke-width="0.7"/>
<path d="M636.8,412.7 L636.8,412.59 L636.85,412.26 L637.07,411.71 L637.61,410.94 L638.51,409.95 L638.61,409.84 L639.54,408.74 L640.31,407.31 L640.42,406.98 L640.66,405.66 L640.68,404.12 L640.68,403.79 L640.68,401.7 L640.67,401.26 L640.61,399.38 L640.56,398.39 L640.47,396.85 L640.37,395.53 L640.24,394.1 L640.08,392.67 L639.87,391.13 L639.66,389.81 L639.32,387.94 L639.12,386.95 L638.58,384.53 L638.47,384.09 L637.78,381.23 L637.7,380.9 L637.13,378.37 L636.87,377.05 L636.62,375.5 L636.36,372.97 L636.34,372.64 L636.33,369.78 L636.41,368.68 L636.61,366.92 L637.09,364.17 L637.12,364.06 L637.77,361.2 L638.19,359.44 L638.46,358.34 L639.1,355.48 L639.3,354.49 L639.65,352.62 L640.07,349.75 L640.12,349.31 L640.36,346.89 L640.56,344.03 L640.56,343.92 L640.72,341.17 L640.8,338.31 L640.8,338.31 L640.88,341.17 L641.04,343.92 L641.04,344.03 L641.24,346.89 L641.48,349.31 L641.53,349.75 L641.95,352.62 L642.3,354.49 L642.5,355.48 L643.14,358.34 L643.41,359.44 L643.83,361.2 L644.48,364.06 L644.51,364.17 L644.99,366.92 L645.19,368.68 L645.27,369.78 L645.26,372.64 L645.24,372.97 L644.98,375.5 L644.73,377.05 L644.47,378.37 L643.9,380.9 L643.82,381.23 L643.13,384.09 L643.02,384.53 L642.48,386.95 L642.28,387.94 L641.94,389.81 L641.73,391.13 L641.52,392.67 L641.36,394.1 L641.23,395.53 L641.13,396.85 L641.04,398.39 L640.99,399.38 L640.93,401.26 L640.92,401.7 L640.92,403.79 L640.92,404.12 L640.94,405.66 L641.18,406.98 L641.29,407.31 L642.06,408.74 L642.99,409.84 L643.09,409.95 L643.99,410.94 L644.53,411.71 L644.75,412.26 L644.8,412.59 L644.8,412.7Z" fill="#cc68b8" stroke="#111" stroke-width="0.72" stroke-linejoin="round"/>
<text x="640.5" y="426.4" font-size="9" text-anchor="middle" fill="#1a1a1a" stroke="#1a1a1a" stroke-width="0.22">11</text>
<line x1="640.8" y1="416.6" x2="640.8" y2="418.4" stroke="#444" stroke-width="0.7"/>
<path d="M647.95,412.7 L647.95,412.57 L648.01,412.2 L648.27,411.57 L648.85,410.69 L649.76,409.57 L649.86,409.44 L650.68,408.19 L651.24,406.56 L651.3,406.18 L651.33,404.67 L651.33,402.92 L651.33,402.54 L651.33,400.16 L651.33,399.66 L651.33,397.53 L651.33,396.4 L651.33,394.64 L651.33,393.14 L651.33,391.51 L651.33,389.88 L651.33,388.12 L651.33,386.62 L651.33,384.49 L651.33,383.36 L651.33,380.6 L651.33,380.1 L651.33,376.84 L651.32,376.46 L651.2,373.58 L651.1,372.07 L650.96,370.31 L650.62,367.43 L650.57,367.05 L650,363.79 L649.73,362.54 L649.26,360.53 L648.43,357.4 L648.4,357.27 L647.55,354.01 L647.1,352.01 L646.86,350.75 L646.49,347.49 L646.45,346.36 L646.52,344.23 L646.94,340.97 L647.04,340.47 L647.66,337.71 L648.52,334.45 L648.56,334.33 L650.12,331.19 L651.45,327.93 L651.45,327.93 L652.78,331.19 L654.34,334.33 L654.38,334.45 L655.24,337.71 L655.86,340.47 L655.96,340.97 L656.38,344.23 L656.45,346.36 L656.41,347.49 L656.04,350.75 L655.8,352.01 L655.35,354.01 L654.5,357.27 L654.47,357.4 L653.64,360.53 L653.17,362.54 L652.9,363.79 L652.33,367.05 L652.28,367.43 L651.94,370.31 L651.8,372.07 L651.7,373.58 L651.58,376.46 L651.57,376.84 L651.57,380.1 L651.57,380.6 L651.57,383.36 L651.57,384.49 L651.57,386.62 L651.57,388.12 L651.57,389.88 L651.57,391.51 L651.57,393.14 L651.57,394.64 L651.57,396.4 L651.57,397.53 L651.57,399.66 L651.57,400.16 L651.57,402.54 L651.57,402.92 L651.57,404.67 L651.6,406.18 L651.66,406.56 L652.22,408.19 L653.04,409.44 L653.14,409.57 L654.05,410.69 L654.63,411.57 L654.89,412.2 L654.95,412.57 L654.95,412.7Z" fill="#f264a6" stroke="#111" stroke-width="0.72" stroke-linejoin="round"/>
<text x="651.22" y="426.4" font-size="9" text-anchor="middle" fill="#1a1a1a" stroke="#1a1a1a" stroke-width="0.22">12</text>
<line x1="651.45" y1="416.6" x2="651.45" y2="418.4" stroke="#444" stroke-width="0.7"/>
<line x1="527.9" y1="323.9" x2="527.9" y2="416.6" stroke="#444" stroke-width="0.9"/>
<line x1="527.5" y1="416.6" x2="658.1" y2="416.6" stroke="#444" stroke-width="0.9"/>
<line x1="525.9" y1="326.2" x2="527.9" y2="326.2" stroke="#444" stroke-width="0.8"/>
<text x="525.5" y="329.3" font-size="9.6" text-anchor="end" fill="#1a1a1a" stroke="#1a1a1a" stroke-width="0.22">1.00</text>
<line x1="525.9" y1="347.82" x2="527.9" y2="347.82" stroke="#444" stroke-width="0.8"/>
<text x="525.5" y="350.93" font-size="9.6" text-anchor="end" fill="#1a1a1a" stroke="#1a1a1a" stroke-width="0.22">0.75</text>
<line x1="525.9" y1="369.45" x2="527.9" y2="369.45" stroke="#444" stroke-width="0.8"/>
<text x="525.5" y="372.55" font-size="9.6" text-anchor="end" fill="#1a1a1a" stroke="#1a1a1a" stroke-width="0.22">0.50</text>
<line x1="525.9" y1="391.07" x2="527.9" y2="391.07" stroke="#444" stroke-width="0.8"/>
<text x="525.5" y="394.18" font-size="9.6" text-anchor="end" fill="#1a1a1a" stroke="#1a1a1a" stroke-width="0.22">0.25</text>
<line x1="525.9" y1="412.7" x2="527.9" y2="412.7" stroke="#444" stroke-width="0.8"/>
<text x="525.5" y="415.8" font-size="9.6" text-anchor="end" fill="#1a1a1a" stroke="#1a1a1a" stroke-width="0.22">0.00</text>
<text x="504.5" y="368.2" font-size="9.8" text-anchor="middle" fill="#1a1a1a" transform="rotate(-90 504.5 368.2)" stroke="#1a1a1a" stroke-width="0.22">Expression Level</text>
<text x="349.2" y="479.4" font-size="14" text-anchor="start" fill="#000" font-weight="bold" stroke="#000" stroke-width="0.22">e</text>
<text x="421.7" y="480.2" font-size="11" text-anchor="middle" fill="#1a1a1a" stroke="#1a1a1a" stroke-width="0.22">EpCAM1<tspan font-size="7" dy="-4">+</tspan></text>
<rect x="378.5" y="484.3" width="88.1" height="86.9" fill="none" stroke="#9a9a9a" stroke-width="1.1"/>
<line x1="376.3" y1="493" x2="378.5" y2="493" stroke="#555" stroke-width="0.6"/>
<line x1="376.3" y1="495.5" x2="378.5" y2="495.5" stroke="#555" stroke-width="0.6"/>
<line x1="376.3" y1="498" x2="378.5" y2="498" stroke="#555" stroke-width="0.6"/>
<line x1="376.3" y1="507" x2="378.5" y2="507" stroke="#555" stroke-width="0.6"/>
<line x1="376.3" y1="510" x2="378.5" y2="510" stroke="#555" stroke-width="0.6"/>
<line x1="376.3" y1="513" x2="378.5" y2="513" stroke="#555" stroke-width="0.6"/>
<line x1="376.3" y1="516" x2="378.5" y2="516" stroke="#555" stroke-width="0.6"/>
<line x1="376.3" y1="520.5" x2="378.5" y2="520.5" stroke="#555" stroke-width="0.6"/>
<line x1="376.3" y1="523" x2="378.5" y2="523" stroke="#555" stroke-width="0.6"/>
<line x1="376.3" y1="527" x2="378.5" y2="527" stroke="#555" stroke-width="0.6"/>
<line x1="376.3" y1="535" x2="378.5" y2="535" stroke="#555" stroke-width="0.6"/>
<line x1="376.3" y1="538" x2="378.5" y2="538" stroke="#555" stroke-width="0.6"/>
<line x1="376.3" y1="541" x2="378.5" y2="541" stroke="#555" stroke-width="0.6"/>
<line x1="376.3" y1="544" x2="378.5" y2="544" stroke="#555" stroke-width="0.6"/>
<line x1="376.3" y1="548" x2="378.5" y2="548" stroke="#555" stroke-width="0.6"/>
<line x1="376.3" y1="551" x2="378.5" y2="551" stroke="#555" stroke-width="0.6"/>
<line x1="376.3" y1="556" x2="378.5" y2="556" stroke="#555" stroke-width="0.6"/>
<line x1="376.3" y1="560" x2="378.5" y2="560" stroke="#555" stroke-width="0.6"/>
<line x1="376.3" y1="563" x2="378.5" y2="563" stroke="#555" stroke-width="0.6"/>
<line x1="376.3" y1="567" x2="378.5" y2="567" stroke="#555" stroke-width="0.6"/>
<line x1="386" y1="571.2" x2="386" y2="573.4" stroke="#555" stroke-width="0.6"/>
<line x1="391" y1="571.2" x2="391" y2="573.4" stroke="#555" stroke-width="0.6"/>
<line x1="394" y1="571.2" x2="394" y2="573.4" stroke="#555" stroke-width="0.6"/>
<line x1="397" y1="571.2" x2="397" y2="573.4" stroke="#555" stroke-width="0.6"/>
<line x1="401" y1="571.2" x2="401" y2="573.4" stroke="#555" stroke-width="0.6"/>
<line x1="406" y1="571.2" x2="406" y2="573.4" stroke="#555" stroke-width="0.6"/>
<line x1="414" y1="571.2" x2="414" y2="573.4" stroke="#555" stroke-width="0.6"/>
<line x1="419" y1="571.2" x2="419" y2="573.4" stroke="#555" stroke-width="0.6"/>
<line x1="422" y1="571.2" x2="422" y2="573.4" stroke="#555" stroke-width="0.6"/>
<line x1="425" y1="571.2" x2="425" y2="573.4" stroke="#555" stroke-width="0.6"/>
<line x1="429" y1="571.2" x2="429" y2="573.4" stroke="#555" stroke-width="0.6"/>
<line x1="433" y1="571.2" x2="433" y2="573.4" stroke="#555" stroke-width="0.6"/>
<line x1="436" y1="571.2" x2="436" y2="573.4" stroke="#555" stroke-width="0.6"/>
<line x1="439" y1="571.2" x2="439" y2="573.4" stroke="#555" stroke-width="0.6"/>
<line x1="445" y1="571.2" x2="445" y2="573.4" stroke="#555" stroke-width="0.6"/>
<line x1="448" y1="571.2" x2="448" y2="573.4" stroke="#555" stroke-width="0.6"/>
<line x1="451" y1="571.2" x2="451" y2="573.4" stroke="#555" stroke-width="0.6"/>
<line x1="456" y1="571.2" x2="456" y2="573.4" stroke="#555" stroke-width="0.6"/>
<line x1="459" y1="571.2" x2="459" y2="573.4" stroke="#555" stroke-width="0.6"/>
<line x1="462" y1="571.2" x2="462" y2="573.4" stroke="#555" stroke-width="0.6"/>
<path d="M442.9,549.5h0.5v0.5h-0.5zM440.3,547.2h0.5v0.5h-0.5zM446.1,516.9h0.5v0.5h-0.5zM440.7,518.4h0.5v0.5h-0.5zM434.3,513.1h0.5v0.5h-0.5zM444.7,516.4h0.5v0.5h-0.5zM400.5,537.2h0.5v0.5h-0.5zM441.1,565.9h0.5v0.5h-0.5zM433.1,515.0h0.5v0.5h-0.5zM432.5,515.4h0.5v0.5h-0.5zM440.8,525.5h0.5v0.5h-0.5zM453.5,510.8h0.5v0.5h-0.5zM403.2,540.5h0.5v0.5h-0.5zM459.4,514.6h0.5v0.5h-0.5zM430.9,516.6h0.5v0.5h-0.5zM435.0,517.3h0.5v0.5h-0.5zM436.9,530.1h0.5v0.5h-0.5zM438.0,554.6h0.5v0.5h-0.5zM442.2,511.5h0.5v0.5h-0.5zM436.4,514.6h0.5v0.5h-0.5zM440.4,522.0h0.5v0.5h-0.5zM414.3,515.6h0.5v0.5h-0.5zM442.9,512.8h0.5v0.5h-0.5zM442.5,516.6h0.5v0.5h-0.5zM437.4,527.9h0.5v0.5h-0.5zM443.2,520.1h0.5v0.5h-0.5zM445.0,534.1h0.5v0.5h-0.5zM445.2,543.7h0.5v0.5h-0.5zM449.7,516.3h0.5v0.5h-0.5zM412.8,555.6h0.5v0.5h-0.5zM443.4,521.4h0.5v0.5h-0.5zM402.1,519.9h0.5v0.5h-0.5zM436.8,524.8h0.5v0.5h-0.5zM427.0,515.0h0.5v0.5h-0.5zM446.3,543.1h0.5v0.5h-0.5zM440.8,512.3h0.5v0.5h-0.5zM403.1,539.8h0.5v0.5h-0.5zM434.1,559.1h0.5v0.5h-0.5zM399.8,536.4h0.5v0.5h-0.5zM447.8,532.6h0.5v0.5h-0.5zM397.2,549.5h0.5v0.5h-0.5zM443.1,556.3h0.5v0.5h-0.5zM433.0,519.1h0.5v0.5h-0.5zM436.9,529.3h0.5v0.5h-0.5zM437.5,517.3h0.5v0.5h-0.5zM395.9,537.7h0.5v0.5h-0.5zM404.5,544.0h0.5v0.5h-0.5zM429.5,514.9h0.5v0.5h-0.5zM438.6,522.6h0.5v0.5h-0.5zM431.4,507.3h0.5v0.5h-0.5zM443.9,532.7h0.5v0.5h-0.5zM414.3,518.7h0.5v0.5h-0.5zM402.4,538.3h0.5v0.5h-0.5zM453.2,539.0h0.5v0.5h-0.5zM433.4,512.8h0.5v0.5h-0.5zM432.4,569.6h0.5v0.5h-0.5zM438.1,516.9h0.5v0.5h-0.5zM457.9,517.6h0.5v0.5h-0.5zM447.7,548.8h0.5v0.5h-0.5zM438.2,536.3h0.5v0.5h-0.5zM433.9,518.1h0.5v0.5h-0.5zM442.5,531.6h0.5v0.5h-0.5zM430.6,558.0h0.5v0.5h-0.5zM426.2,515.3h0.5v0.5h-0.5zM396.9,546.3h0.5v0.5h-0.5zM443.7,535.0h0.5v0.5h-0.5zM444.6,528.6h0.5v0.5h-0.5zM439.9,555.3h0.5v0.5h-0.5zM435.1,517.0h0.5v0.5h-0.5zM437.7,511.4h0.5v0.5h-0.5zM445.3,531.4h0.5v0.5h-0.5zM443.1,535.5h0.5v0.5h-0.5zM453.8,508.4h0.5v0.5h-0.5zM421.9,516.4h0.5v0.5h-0.5zM437.2,519.7h0.5v0.5h-0.5zM442.4,521.0h0.5v0.5h-0.5zM435.1,516.5h0.5v0.5h-0.5zM454.2,522.5h0.5v0.5h-0.5zM401.6,549.2h0.5v0.5h-0.5zM458.9,515.4h0.5v0.5h-0.5zM412.8,515.0h0.5v0.5h-0.5zM445.1,511.8h0.5v0.5h-0.5zM427.8,510.5h0.5v0.5h-0.5zM453.4,551.5h0.5v0.5h-0.5zM428.5,513.7h0.5v0.5h-0.5zM449.9,544.7h0.5v0.5h-0.5zM445.9,518.7h0.5v0.5h-0.5zM445.5,543.0h0.5v0.5h-0.5zM433.9,514.8h0.5v0.5h-0.5zM444.4,511.4h0.5v0.5h-0.5zM400.3,534.7h0.5v0.5h-0.5zM442.9,526.6h0.5v0.5h-0.5zM437.6,538.5h0.5v0.5h-0.5zM436.7,516.7h0.5v0.5h-0.5zM439.7,536.4h0.5v0.5h-0.5zM424.2,558.7h0.5v0.5h-0.5zM424.7,513.7h0.5v0.5h-0.5zM442.5,525.3h0.5v0.5h-0.5zM441.9,531.3h0.5v0.5h-0.5zM447.2,539.9h0.5v0.5h-0.5zM445.5,542.4h0.5v0.5h-0.5zM398.2,529.5h0.5v0.5h-0.5zM398.3,527.9h0.5v0.5h-0.5zM452.5,562.3h0.5v0.5h-0.5zM438.7,522.7h0.5v0.5h-0.5zM432.3,515.7h0.5v0.5h-0.5zM446.0,520.9h0.5v0.5h-0.5zM450.5,515.3h0.5v0.5h-0.5zM444.1,546.1h0.5v0.5h-0.5zM457.6,548.7h0.5v0.5h-0.5zM441.4,527.9h0.5v0.5h-0.5zM446.7,527.5h0.5v0.5h-0.5zM442.0,548.7h0.5v0.5h-0.5zM446.2,517.0h0.5v0.5h-0.5zM433.7,560.4h0.5v0.5h-0.5zM440.3,526.5h0.5v0.5h-0.5zM454.8,513.2h0.5v0.5h-0.5zM444.5,513.8h0.5v0.5h-0.5zM444.8,538.9h0.5v0.5h-0.5zM423.3,516.9h0.5v0.5h-0.5zM411.0,550.2h0.5v0.5h-0.5zM440.0,549.4h0.5v0.5h-0.5zM445.0,517.4h0.5v0.5h-0.5zM437.4,518.2h0.5v0.5h-0.5zM451.2,524.1h0.5v0.5h-0.5zM399.2,519.8h0.5v0.5h-0.5zM453.3,560.8h0.5v0.5h-0.5zM446.8,519.8h0.5v0.5h-0.5zM436.2,520.8h0.5v0.5h-0.5zM459.9,515.6h0.5v0.5h-0.5zM440.8,518.1h0.5v0.5h-0.5zM438.3,540.4h0.5v0.5h-0.5zM449.0,560.4h0.5v0.5h-0.5zM398.3,536.3h0.5v0.5h-0.5zM449.2,547.8h0.5v0.5h-0.5zM448.7,535.3h0.5v0.5h-0.5zM403.9,546.8h0.5v0.5h-0.5zM431.5,517.6h0.5v0.5h-0.5zM443.2,510.7h0.5v0.5h-0.5zM407.2,547.2h0.5v0.5h-0.5zM440.3,511.1h0.5v0.5h-0.5zM440.9,515.6h0.5v0.5h-0.5zM436.5,513.8h0.5v0.5h-0.5zM442.7,530.0h0.5v0.5h-0.5zM447.4,518.8h0.5v0.5h-0.5zM438.8,524.5h0.5v0.5h-0.5zM445.2,531.8h0.5v0.5h-0.5zM440.9,553.6h0.5v0.5h-0.5zM438.6,518.1h0.5v0.5h-0.5zM428.0,511.5h0.5v0.5h-0.5zM449.3,526.9h0.5v0.5h-0.5zM426.9,516.3h0.5v0.5h-0.5zM446.2,535.7h0.5v0.5h-0.5zM442.1,538.7h0.5v0.5h-0.5zM407.4,508.0h0.5v0.5h-0.5zM395.7,522.8h0.5v0.5h-0.5zM430.4,518.3h0.5v0.5h-0.5zM442.4,512.2h0.5v0.5h-0.5zM433.4,515.0h0.5v0.5h-0.5zM448.3,530.1h0.5v0.5h-0.5zM440.5,562.2h0.5v0.5h-0.5zM401.9,540.5h0.5v0.5h-0.5zM444.9,522.3h0.5v0.5h-0.5zM397.1,533.7h0.5v0.5h-0.5zM435.7,513.1h0.5v0.5h-0.5zM444.0,516.1h0.5v0.5h-0.5zM430.1,563.8h0.5v0.5h-0.5zM398.8,530.4h0.5v0.5h-0.5zM447.7,551.2h0.5v0.5h-0.5zM412.5,514.8h0.5v0.5h-0.5zM411.1,517.9h0.5v0.5h-0.5zM437.5,527.1h0.5v0.5h-0.5zM440.8,532.8h0.5v0.5h-0.5zM436.9,516.6h0.5v0.5h-0.5zM430.3,511.8h0.5v0.5h-0.5zM440.4,529.1h0.5v0.5h-0.5zM443.0,528.1h0.5v0.5h-0.5zM439.4,534.1h0.5v0.5h-0.5zM442.5,567.7h0.5v0.5h-0.5zM445.0,528.3h0.5v0.5h-0.5zM429.1,516.4h0.5v0.5h-0.5zM441.5,536.1h0.5v0.5h-0.5zM440.5,517.7h0.5v0.5h-0.5zM447.9,540.4h0.5v0.5h-0.5zM441.6,553.1h0.5v0.5h-0.5zM445.1,551.6h0.5v0.5h-0.5zM444.7,562.9h0.5v0.5h-0.5zM437.8,513.3h0.5v0.5h-0.5zM395.7,527.5h0.5v0.5h-0.5zM413.2,554.3h0.5v0.5h-0.5zM452.6,522.7h0.5v0.5h-0.5zM438.5,515.1h0.5v0.5h-0.5zM405.3,553.4h0.5v0.5h-0.5zM437.6,528.4h0.5v0.5h-0.5zM398.8,546.0h0.5v0.5h-0.5zM436.1,513.1h0.5v0.5h-0.5zM428.8,565.7h0.5v0.5h-0.5zM431.3,516.9h0.5v0.5h-0.5zM395.7,535.8h0.5v0.5h-0.5zM415.4,553.0h0.5v0.5h-0.5zM424.6,517.4h0.5v0.5h-0.5zM398.4,526.7h0.5v0.5h-0.5zM419.0,517.3h0.5v0.5h-0.5zM449.1,553.5h0.5v0.5h-0.5zM406.5,543.3h0.5v0.5h-0.5zM442.6,531.2h0.5v0.5h-0.5zM444.2,524.2h0.5v0.5h-0.5zM442.3,554.6h0.5v0.5h-0.5zM447.6,520.7h0.5v0.5h-0.5zM441.9,549.4h0.5v0.5h-0.5zM443.8,521.1h0.5v0.5h-0.5zM440.0,533.7h0.5v0.5h-0.5zM442.3,514.8h0.5v0.5h-0.5zM442.3,534.7h0.5v0.5h-0.5zM447.3,559.7h0.5v0.5h-0.5zM408.2,546.8h0.5v0.5h-0.5zM455.5,516.5h0.5v0.5h-0.5zM443.9,528.4h0.5v0.5h-0.5zM431.8,519.0h0.5v0.5h-0.5zM441.9,524.0h0.5v0.5h-0.5zM443.3,544.8h0.5v0.5h-0.5zM425.5,519.0h0.5v0.5h-0.5zM444.0,528.2h0.5v0.5h-0.5zM396.6,527.9h0.5v0.5h-0.5zM446.4,547.5h0.5v0.5h-0.5zM448.3,559.1h0.5v0.5h-0.5zM436.3,519.3h0.5v0.5h-0.5zM394.2,517.4h0.5v0.5h-0.5zM444.2,526.4h0.5v0.5h-0.5zM444.3,531.1h0.5v0.5h-0.5zM449.1,549.9h0.5v0.5h-0.5zM423.3,517.1h0.5v0.5h-0.5zM440.8,530.8h0.5v0.5h-0.5zM447.3,540.6h0.5v0.5h-0.5zM449.1,513.6h0.5v0.5h-0.5zM436.4,512.0h0.5v0.5h-0.5zM442.4,530.3h0.5v0.5h-0.5zM446.2,529.0h0.5v0.5h-0.5zM438.8,548.7h0.5v0.5h-0.5zM443.6,519.5h0.5v0.5h-0.5zM441.8,514.7h0.5v0.5h-0.5zM400.7,521.7h0.5v0.5h-0.5zM423.0,514.6h0.5v0.5h-0.5zM398.4,539.1h0.5v0.5h-0.5zM414.2,516.3h0.5v0.5h-0.5zM441.6,515.4h0.5v0.5h-0.5zM444.3,547.6h0.5v0.5h-0.5zM418.3,511.1h0.5v0.5h-0.5zM447.9,531.0h0.5v0.5h-0.5zM401.6,540.4h0.5v0.5h-0.5zM445.8,519.3h0.5v0.5h-0.5zM399.1,521.9h0.5v0.5h-0.5zM450.3,516.1h0.5v0.5h-0.5zM457.8,560.1h0.5v0.5h-0.5zM431.7,517.6h0.5v0.5h-0.5zM435.8,513.1h0.5v0.5h-0.5zM442.0,525.1h0.5v0.5h-0.5zM424.9,514.8h0.5v0.5h-0.5zM453.9,511.0h0.5v0.5h-0.5zM440.3,547.1h0.5v0.5h-0.5zM421.7,519.9h0.5v0.5h-0.5zM431.6,520.6h0.5v0.5h-0.5zM452.4,549.3h0.5v0.5h-0.5zM439.3,534.2h0.5v0.5h-0.5zM436.0,519.7h0.5v0.5h-0.5zM442.0,534.5h0.5v0.5h-0.5zM442.6,525.2h0.5v0.5h-0.5zM447.1,538.8h0.5v0.5h-0.5zM405.9,517.8h0.5v0.5h-0.5zM393.2,524.6h0.5v0.5h-0.5zM447.4,560.5h0.5v0.5h-0.5zM409.2,548.0h0.5v0.5h-0.5zM451.7,541.9h0.5v0.5h-0.5zM440.1,517.7h0.5v0.5h-0.5zM453.2,523.5h0.5v0.5h-0.5zM439.3,533.1h0.5v0.5h-0.5zM407.2,546.8h0.5v0.5h-0.5zM408.4,544.1h0.5v0.5h-0.5zM437.4,535.9h0.5v0.5h-0.5zM453.3,526.9h0.5v0.5h-0.5zM446.7,527.9h0.5v0.5h-0.5zM451.0,559.5h0.5v0.5h-0.5zM417.5,511.8h0.5v0.5h-0.5zM431.8,511.5h0.5v0.5h-0.5zM405.8,550.0h0.5v0.5h-0.5zM446.7,550.2h0.5v0.5h-0.5zM439.4,531.4h0.5v0.5h-0.5zM446.9,519.6h0.5v0.5h-0.5zM444.4,533.2h0.5v0.5h-0.5zM436.1,521.0h0.5v0.5h-0.5zM440.9,537.4h0.5v0.5h-0.5zM446.0,523.5h0.5v0.5h-0.5zM413.7,553.2h0.5v0.5h-0.5zM452.6,519.5h0.5v0.5h-0.5zM439.2,513.1h0.5v0.5h-0.5zM454.1,563.8h0.5v0.5h-0.5zM442.5,517.2h0.5v0.5h-0.5zM406.4,565.0h0.5v0.5h-0.5zM444.7,524.4h0.5v0.5h-0.5zM432.7,515.1h0.5v0.5h-0.5zM440.4,522.2h0.5v0.5h-0.5zM432.4,513.5h0.5v0.5h-0.5zM435.5,512.7h0.5v0.5h-0.5zM399.4,539.6h0.5v0.5h-0.5zM438.4,536.5h0.5v0.5h-0.5zM439.1,530.4h0.5v0.5h-0.5zM424.2,561.5h0.5v0.5h-0.5zM437.4,517.1h0.5v0.5h-0.5zM415.6,519.5h0.5v0.5h-0.5zM434.6,519.7h0.5v0.5h-0.5zM454.7,555.2h0.5v0.5h-0.5zM442.9,520.7h0.5v0.5h-0.5zM433.4,514.5h0.5v0.5h-0.5zM440.3,554.7h0.5v0.5h-0.5zM417.5,519.7h0.5v0.5h-0.5zM434.5,517.2h0.5v0.5h-0.5zM449.8,518.7h0.5v0.5h-0.5zM443.1,543.7h0.5v0.5h-0.5zM444.2,521.9h0.5v0.5h-0.5zM428.4,512.2h0.5v0.5h-0.5zM400.6,540.2h0.5v0.5h-0.5zM402.7,515.0h0.5v0.5h-0.5zM399.1,533.6h0.5v0.5h-0.5zM395.6,549.5h0.5v0.5h-0.5zM430.3,560.8h0.5v0.5h-0.5zM431.5,513.9h0.5v0.5h-0.5zM432.1,562.6h0.5v0.5h-0.5zM434.3,514.2h0.5v0.5h-0.5zM401.6,545.0h0.5v0.5h-0.5zM441.7,545.8h0.5v0.5h-0.5zM441.2,526.0h0.5v0.5h-0.5zM406.3,551.5h0.5v0.5h-0.5zM447.7,535.5h0.5v0.5h-0.5zM449.2,516.8h0.5v0.5h-0.5zM441.8,552.3h0.5v0.5h-0.5zM452.5,551.3h0.5v0.5h-0.5zM446.1,555.1h0.5v0.5h-0.5zM447.5,537.4h0.5v0.5h-0.5zM404.1,543.6h0.5v0.5h-0.5zM430.4,515.8h0.5v0.5h-0.5zM450.9,545.8h0.5v0.5h-0.5zM439.4,545.2h0.5v0.5h-0.5zM421.7,516.3h0.5v0.5h-0.5zM432.6,515.3h0.5v0.5h-0.5zM440.0,521.7h0.5v0.5h-0.5zM437.6,517.1h0.5v0.5h-0.5zM442.2,529.6h0.5v0.5h-0.5zM401.3,545.4h0.5v0.5h-0.5zM443.7,540.0h0.5v0.5h-0.5zM423.3,509.8h0.5v0.5h-0.5zM441.8,538.5h0.5v0.5h-0.5zM398.0,528.7h0.5v0.5h-0.5zM459.4,558.4h0.5v0.5h-0.5zM430.9,517.9h0.5v0.5h-0.5zM423.4,512.2h0.5v0.5h-0.5zM441.2,545.3h0.5v0.5h-0.5zM439.9,513.9h0.5v0.5h-0.5zM432.7,559.8h0.5v0.5h-0.5zM436.4,514.7h0.5v0.5h-0.5zM412.6,550.5h0.5v0.5h-0.5zM446.7,551.5h0.5v0.5h-0.5zM448.5,528.3h0.5v0.5h-0.5zM442.2,509.8h0.5v0.5h-0.5zM455.8,520.2h0.5v0.5h-0.5zM436.6,518.6h0.5v0.5h-0.5zM448.6,560.0h0.5v0.5h-0.5zM392.4,520.1h0.5v0.5h-0.5zM446.2,518.8h0.5v0.5h-0.5zM436.2,518.4h0.5v0.5h-0.5zM419.8,518.3h0.5v0.5h-0.5zM421.7,515.7h0.5v0.5h-0.5zM441.1,540.8h0.5v0.5h-0.5zM437.4,533.2h0.5v0.5h-0.5zM434.3,521.3h0.5v0.5h-0.5zM431.5,561.9h0.5v0.5h-0.5zM447.6,524.4h0.5v0.5h-0.5zM442.5,521.5h0.5v0.5h-0.5zM440.6,557.5h0.5v0.5h-0.5zM442.6,542.0h0.5v0.5h-0.5zM447.0,519.7h0.5v0.5h-0.5zM407.3,560.6h0.5v0.5h-0.5zM401.6,550.7h0.5v0.5h-0.5zM448.5,527.9h0.5v0.5h-0.5zM395.1,520.8h0.5v0.5h-0.5zM421.2,517.6h0.5v0.5h-0.5zM404.8,541.5h0.5v0.5h-0.5zM439.1,519.5h0.5v0.5h-0.5zM399.1,526.0h0.5v0.5h-0.5zM448.1,525.6h0.5v0.5h-0.5zM401.1,548.5h0.5v0.5h-0.5zM439.9,515.0h0.5v0.5h-0.5zM422.5,518.5h0.5v0.5h-0.5zM397.0,554.9h0.5v0.5h-0.5zM458.1,514.7h0.5v0.5h-0.5zM398.2,514.1h0.5v0.5h-0.5zM441.1,532.7h0.5v0.5h-0.5zM430.0,564.0h0.5v0.5h-0.5zM441.8,518.1h0.5v0.5h-0.5zM421.1,513.7h0.5v0.5h-0.5zM433.3,511.8h0.5v0.5h-0.5zM451.1,524.2h0.5v0.5h-0.5zM401.4,546.6h0.5v0.5h-0.5zM441.4,518.3h0.5v0.5h-0.5zM444.1,531.5h0.5v0.5h-0.5zM443.9,533.1h0.5v0.5h-0.5zM397.5,521.5h0.5v0.5h-0.5zM436.9,516.2h0.5v0.5h-0.5zM422.1,518.1h0.5v0.5h-0.5zM445.3,527.5h0.5v0.5h-0.5zM403.0,546.3h0.5v0.5h-0.5zM442.1,514.6h0.5v0.5h-0.5zM430.2,559.9h0.5v0.5h-0.5zM438.4,544.3h0.5v0.5h-0.5zM443.3,538.6h0.5v0.5h-0.5zM444.4,532.1h0.5v0.5h-0.5zM429.4,513.0h0.5v0.5h-0.5zM396.8,531.4h0.5v0.5h-0.5zM431.0,515.9h0.5v0.5h-0.5zM442.3,555.9h0.5v0.5h-0.5zM426.3,515.9h0.5v0.5h-0.5zM438.9,536.5h0.5v0.5h-0.5zM439.8,519.3h0.5v0.5h-0.5zM451.2,526.8h0.5v0.5h-0.5zM438.0,519.1h0.5v0.5h-0.5zM446.4,533.1h0.5v0.5h-0.5zM426.8,516.8h0.5v0.5h-0.5zM438.5,504.9h0.5v0.5h-0.5zM429.0,560.4h0.5v0.5h-0.5zM392.3,542.1h0.5v0.5h-0.5zM448.8,521.1h0.5v0.5h-0.5zM426.4,559.5h0.5v0.5h-0.5zM451.4,539.3h0.5v0.5h-0.5zM421.4,559.5h0.5v0.5h-0.5zM405.1,516.6h0.5v0.5h-0.5zM444.5,531.0h0.5v0.5h-0.5zM420.5,517.9h0.5v0.5h-0.5zM396.9,527.4h0.5v0.5h-0.5zM444.1,545.9h0.5v0.5h-0.5zM445.0,528.0h0.5v0.5h-0.5zM399.3,548.4h0.5v0.5h-0.5zM444.0,546.9h0.5v0.5h-0.5zM447.6,556.8h0.5v0.5h-0.5zM442.9,523.3h0.5v0.5h-0.5zM400.3,541.2h0.5v0.5h-0.5zM404.0,541.8h0.5v0.5h-0.5zM448.6,554.1h0.5v0.5h-0.5zM433.4,519.9h0.5v0.5h-0.5zM413.9,509.4h0.5v0.5h-0.5zM442.4,533.2h0.5v0.5h-0.5zM403.4,539.9h0.5v0.5h-0.5zM427.1,519.4h0.5v0.5h-0.5zM444.3,546.4h0.5v0.5h-0.5zM445.7,557.0h0.5v0.5h-0.5zM411.0,551.4h0.5v0.5h-0.5zM442.8,563.4h0.5v0.5h-0.5zM440.4,544.2h0.5v0.5h-0.5zM444.3,526.4h0.5v0.5h-0.5zM439.4,528.7h0.5v0.5h-0.5zM449.0,519.9h0.5v0.5h-0.5zM442.5,534.2h0.5v0.5h-0.5zM441.2,538.4h0.5v0.5h-0.5zM448.3,539.0h0.5v0.5h-0.5zM448.1,542.6h0.5v0.5h-0.5zM438.8,510.5h0.5v0.5h-0.5zM425.8,511.7h0.5v0.5h-0.5zM432.4,560.2h0.5v0.5h-0.5zM443.0,531.1h0.5v0.5h-0.5zM442.6,554.3h0.5v0.5h-0.5zM438.2,512.3h0.5v0.5h-0.5zM398.4,543.3h0.5v0.5h-0.5zM443.5,515.4h0.5v0.5h-0.5zM417.6,520.7h0.5v0.5h-0.5zM399.7,515.2h0.5v0.5h-0.5zM435.8,557.5h0.5v0.5h-0.5zM412.7,549.7h0.5v0.5h-0.5zM426.9,566.0h0.5v0.5h-0.5zM433.0,520.1h0.5v0.5h-0.5zM431.3,507.7h0.5v0.5h-0.5zM401.3,546.7h0.5v0.5h-0.5zM446.4,531.3h0.5v0.5h-0.5zM446.3,555.5h0.5v0.5h-0.5zM445.0,532.5h0.5v0.5h-0.5zM432.8,512.5h0.5v0.5h-0.5zM437.4,533.1h0.5v0.5h-0.5zM450.2,510.0h0.5v0.5h-0.5zM439.5,548.3h0.5v0.5h-0.5zM430.9,512.2h0.5v0.5h-0.5zM399.6,544.8h0.5v0.5h-0.5zM402.0,508.4h0.5v0.5h-0.5zM438.7,530.5h0.5v0.5h-0.5zM397.9,513.9h0.5v0.5h-0.5zM440.3,519.1h0.5v0.5h-0.5zM439.1,523.6h0.5v0.5h-0.5zM427.2,511.8h0.5v0.5h-0.5zM435.5,521.4h0.5v0.5h-0.5zM431.2,511.4h0.5v0.5h-0.5zM446.9,521.7h0.5v0.5h-0.5zM431.5,518.4h0.5v0.5h-0.5zM396.7,543.2h0.5v0.5h-0.5zM440.9,514.2h0.5v0.5h-0.5zM399.4,520.8h0.5v0.5h-0.5zM449.1,513.5h0.5v0.5h-0.5zM437.0,515.4h0.5v0.5h-0.5zM445.2,535.0h0.5v0.5h-0.5zM406.5,518.2h0.5v0.5h-0.5zM399.6,547.0h0.5v0.5h-0.5zM398.2,530.0h0.5v0.5h-0.5zM411.6,518.2h0.5v0.5h-0.5zM432.8,515.7h0.5v0.5h-0.5zM439.2,530.7h0.5v0.5h-0.5zM437.3,516.1h0.5v0.5h-0.5zM438.4,513.1h0.5v0.5h-0.5zM439.3,522.0h0.5v0.5h-0.5zM446.4,539.6h0.5v0.5h-0.5zM448.0,563.1h0.5v0.5h-0.5zM443.2,548.3h0.5v0.5h-0.5zM443.4,537.1h0.5v0.5h-0.5zM451.3,552.6h0.5v0.5h-0.5zM440.4,534.1h0.5v0.5h-0.5zM446.8,510.0h0.5v0.5h-0.5zM438.9,534.2h0.5v0.5h-0.5zM444.2,533.4h0.5v0.5h-0.5zM441.9,562.4h0.5v0.5h-0.5zM440.7,536.7h0.5v0.5h-0.5zM437.4,516.5h0.5v0.5h-0.5zM432.6,518.7h0.5v0.5h-0.5zM440.6,538.8h0.5v0.5h-0.5zM401.0,536.3h0.5v0.5h-0.5zM439.3,519.1h0.5v0.5h-0.5zM444.7,544.5h0.5v0.5h-0.5zM443.6,563.8h0.5v0.5h-0.5zM399.2,527.1h0.5v0.5h-0.5zM403.2,540.5h0.5v0.5h-0.5zM447.8,516.3h0.5v0.5h-0.5zM424.0,519.9h0.5v0.5h-0.5zM430.9,517.6h0.5v0.5h-0.5zM440.0,515.9h0.5v0.5h-0.5zM450.3,551.3h0.5v0.5h-0.5zM406.0,518.5h0.5v0.5h-0.5zM411.4,549.7h0.5v0.5h-0.5zM438.5,532.3h0.5v0.5h-0.5zM443.8,539.6h0.5v0.5h-0.5zM425.3,514.6h0.5v0.5h-0.5zM401.1,548.2h0.5v0.5h-0.5zM438.5,521.9h0.5v0.5h-0.5zM428.6,518.7h0.5v0.5h-0.5zM417.6,558.7h0.5v0.5h-0.5zM417.7,555.3h0.5v0.5h-0.5zM416.1,519.7h0.5v0.5h-0.5zM452.9,551.5h0.5v0.5h-0.5zM446.7,515.7h0.5v0.5h-0.5zM447.1,517.9h0.5v0.5h-0.5zM432.8,559.2h0.5v0.5h-0.5zM404.5,518.9h0.5v0.5h-0.5zM442.4,548.5h0.5v0.5h-0.5zM442.0,522.8h0.5v0.5h-0.5zM442.6,520.1h0.5v0.5h-0.5zM440.0,549.5h0.5v0.5h-0.5zM432.5,518.6h0.5v0.5h-0.5zM397.9,548.2h0.5v0.5h-0.5zM442.4,531.1h0.5v0.5h-0.5zM457.1,550.8h0.5v0.5h-0.5zM420.0,516.6h0.5v0.5h-0.5zM425.0,512.8h0.5v0.5h-0.5zM447.8,535.9h0.5v0.5h-0.5zM403.6,520.0h0.5v0.5h-0.5zM436.4,510.9h0.5v0.5h-0.5zM443.5,525.1h0.5v0.5h-0.5zM435.7,519.0h0.5v0.5h-0.5zM442.1,517.1h0.5v0.5h-0.5zM440.9,532.7h0.5v0.5h-0.5zM406.3,513.1h0.5v0.5h-0.5zM435.7,506.3h0.5v0.5h-0.5zM445.8,546.5h0.5v0.5h-0.5zM440.6,552.9h0.5v0.5h-0.5zM454.6,553.1h0.5v0.5h-0.5zM425.1,559.1h0.5v0.5h-0.5zM443.0,533.5h0.5v0.5h-0.5zM445.4,512.5h0.5v0.5h-0.5zM438.4,517.8h0.5v0.5h-0.5zM435.9,509.4h0.5v0.5h-0.5zM448.7,536.6h0.5v0.5h-0.5zM405.7,516.3h0.5v0.5h-0.5zM446.7,535.7h0.5v0.5h-0.5zM392.2,526.7h0.5v0.5h-0.5zM440.3,515.3h0.5v0.5h-0.5zM449.6,509.2h0.5v0.5h-0.5zM423.8,520.1h0.5v0.5h-0.5zM439.6,520.6h0.5v0.5h-0.5zM437.3,540.1h0.5v0.5h-0.5zM421.6,518.8h0.5v0.5h-0.5zM449.1,532.8h0.5v0.5h-0.5zM444.5,529.0h0.5v0.5h-0.5zM429.3,518.9h0.5v0.5h-0.5zM451.9,552.0h0.5v0.5h-0.5zM433.3,513.0h0.5v0.5h-0.5zM443.1,513.4h0.5v0.5h-0.5zM447.2,513.7h0.5v0.5h-0.5zM447.4,532.9h0.5v0.5h-0.5zM444.0,516.7h0.5v0.5h-0.5zM442.9,543.4h0.5v0.5h-0.5zM400.4,534.7h0.5v0.5h-0.5zM420.2,560.2h0.5v0.5h-0.5zM446.6,533.1h0.5v0.5h-0.5zM445.2,537.1h0.5v0.5h-0.5zM452.1,557.0h0.5v0.5h-0.5zM442.2,540.7h0.5v0.5h-0.5zM437.4,534.8h0.5v0.5h-0.5zM444.4,531.2h0.5v0.5h-0.5zM394.7,552.9h0.5v0.5h-0.5zM442.7,558.7h0.5v0.5h-0.5zM397.3,536.0h0.5v0.5h-0.5zM407.6,559.0h0.5v0.5h-0.5zM414.2,514.4h0.5v0.5h-0.5zM421.8,519.5h0.5v0.5h-0.5zM436.4,517.5h0.5v0.5h-0.5zM440.7,548.9h0.5v0.5h-0.5zM453.3,556.9h0.5v0.5h-0.5zM445.8,545.3h0.5v0.5h-0.5zM407.8,516.1h0.5v0.5h-0.5zM418.0,517.7h0.5v0.5h-0.5zM431.2,509.4h0.5v0.5h-0.5zM423.1,520.0h0.5v0.5h-0.5zM401.0,515.7h0.5v0.5h-0.5zM457.1,514.8h0.5v0.5h-0.5zM455.2,509.9h0.5v0.5h-0.5zM434.3,559.1h0.5v0.5h-0.5zM424.8,516.1h0.5v0.5h-0.5zM437.0,559.2h0.5v0.5h-0.5zM446.9,515.2h0.5v0.5h-0.5zM412.9,562.6h0.5v0.5h-0.5zM448.2,539.6h0.5v0.5h-0.5zM444.7,515.1h0.5v0.5h-0.5zM446.1,515.5h0.5v0.5h-0.5zM428.1,509.2h0.5v0.5h-0.5zM444.6,538.0h0.5v0.5h-0.5zM431.2,514.6h0.5v0.5h-0.5zM451.1,561.3h0.5v0.5h-0.5zM434.0,515.5h0.5v0.5h-0.5zM439.7,511.6h0.5v0.5h-0.5zM399.3,537.7h0.5v0.5h-0.5zM439.6,529.8h0.5v0.5h-0.5zM401.4,537.2h0.5v0.5h-0.5zM405.7,544.5h0.5v0.5h-0.5zM440.5,512.7h0.5v0.5h-0.5zM449.7,516.2h0.5v0.5h-0.5zM403.4,559.3h0.5v0.5h-0.5zM395.0,527.8h0.5v0.5h-0.5zM435.8,517.8h0.5v0.5h-0.5zM438.8,523.2h0.5v0.5h-0.5zM425.1,559.7h0.5v0.5h-0.5zM446.3,514.5h0.5v0.5h-0.5zM436.9,511.7h0.5v0.5h-0.5zM439.0,559.9h0.5v0.5h-0.5zM434.7,520.8h0.5v0.5h-0.5zM408.4,551.1h0.5v0.5h-0.5zM439.9,520.3h0.5v0.5h-0.5zM437.6,519.8h0.5v0.5h-0.5zM435.6,514.2h0.5v0.5h-0.5zM399.2,528.9h0.5v0.5h-0.5zM442.7,528.6h0.5v0.5h-0.5zM441.9,532.3h0.5v0.5h-0.5zM450.7,518.6h0.5v0.5h-0.5zM441.7,528.7h0.5v0.5h-0.5zM448.7,552.4h0.5v0.5h-0.5zM419.5,520.4h0.5v0.5h-0.5zM437.4,528.8h0.5v0.5h-0.5zM402.1,553.3h0.5v0.5h-0.5zM450.0,527.3h0.5v0.5h-0.5zM447.2,520.3h0.5v0.5h-0.5zM445.6,516.7h0.5v0.5h-0.5zM443.0,532.3h0.5v0.5h-0.5zM444.1,552.4h0.5v0.5h-0.5zM420.0,515.9h0.5v0.5h-0.5zM445.1,512.7h0.5v0.5h-0.5zM437.2,523.8h0.5v0.5h-0.5zM399.7,523.7h0.5v0.5h-0.5zM443.8,537.3h0.5v0.5h-0.5zM445.1,516.5h0.5v0.5h-0.5zM446.4,552.6h0.5v0.5h-0.5zM396.5,538.2h0.5v0.5h-0.5zM441.4,523.8h0.5v0.5h-0.5zM433.8,515.5h0.5v0.5h-0.5zM451.5,522.1h0.5v0.5h-0.5zM445.2,516.7h0.5v0.5h-0.5zM425.9,512.9h0.5v0.5h-0.5zM417.3,514.3h0.5v0.5h-0.5zM408.3,544.0h0.5v0.5h-0.5zM440.7,556.7h0.5v0.5h-0.5zM437.8,544.2h0.5v0.5h-0.5zM441.4,532.3h0.5v0.5h-0.5zM445.7,538.5h0.5v0.5h-0.5zM401.0,544.7h0.5v0.5h-0.5zM395.3,530.5h0.5v0.5h-0.5zM421.5,515.0h0.5v0.5h-0.5zM437.2,530.4h0.5v0.5h-0.5zM426.7,504.8h0.5v0.5h-0.5zM398.8,538.9h0.5v0.5h-0.5zM441.0,510.6h0.5v0.5h-0.5zM422.8,517.1h0.5v0.5h-0.5zM447.2,519.8h0.5v0.5h-0.5zM444.0,536.9h0.5v0.5h-0.5zM426.2,510.1h0.5v0.5h-0.5zM433.7,516.5h0.5v0.5h-0.5zM450.8,518.6h0.5v0.5h-0.5zM406.0,517.3h0.5v0.5h-0.5zM450.0,520.8h0.5v0.5h-0.5zM436.8,527.5h0.5v0.5h-0.5zM450.2,536.2h0.5v0.5h-0.5zM430.2,513.1h0.5v0.5h-0.5zM437.2,531.0h0.5v0.5h-0.5zM421.5,510.8h0.5v0.5h-0.5zM438.1,516.5h0.5v0.5h-0.5zM398.4,536.2h0.5v0.5h-0.5zM398.6,526.8h0.5v0.5h-0.5zM440.1,561.4h0.5v0.5h-0.5zM400.0,549.7h0.5v0.5h-0.5zM442.6,561.4h0.5v0.5h-0.5zM435.8,510.7h0.5v0.5h-0.5zM437.6,517.0h0.5v0.5h-0.5zM449.4,511.3h0.5v0.5h-0.5zM441.6,516.0h0.5v0.5h-0.5zM448.1,550.4h0.5v0.5h-0.5zM396.5,532.0h0.5v0.5h-0.5zM415.0,514.4h0.5v0.5h-0.5zM442.5,513.2h0.5v0.5h-0.5zM443.7,544.2h0.5v0.5h-0.5zM442.2,531.2h0.5v0.5h-0.5zM431.6,514.6h0.5v0.5h-0.5zM430.3,514.0h0.5v0.5h-0.5zM444.7,542.2h0.5v0.5h-0.5zM401.8,545.3h0.5v0.5h-0.5zM442.7,513.0h0.5v0.5h-0.5zM435.6,563.6h0.5v0.5h-0.5zM450.4,533.1h0.5v0.5h-0.5zM443.0,523.6h0.5v0.5h-0.5zM444.8,546.7h0.5v0.5h-0.5zM426.1,517.8h0.5v0.5h-0.5zM452.5,556.7h0.5v0.5h-0.5zM435.3,520.8h0.5v0.5h-0.5zM437.1,516.5h0.5v0.5h-0.5zM450.2,560.1h0.5v0.5h-0.5zM456.0,517.9h0.5v0.5h-0.5zM442.3,516.0h0.5v0.5h-0.5zM437.1,531.7h0.5v0.5h-0.5zM450.4,518.2h0.5v0.5h-0.5zM437.4,536.0h0.5v0.5h-0.5zM444.9,557.2h0.5v0.5h-0.5zM394.2,530.0h0.5v0.5h-0.5zM440.5,543.5h0.5v0.5h-0.5zM445.0,515.4h0.5v0.5h-0.5zM437.6,513.6h0.5v0.5h-0.5zM426.2,508.9h0.5v0.5h-0.5zM411.2,550.8h0.5v0.5h-0.5zM435.8,512.1h0.5v0.5h-0.5zM434.2,518.5h0.5v0.5h-0.5zM441.0,526.3h0.5v0.5h-0.5zM426.0,513.5h0.5v0.5h-0.5zM440.6,530.9h0.5v0.5h-0.5zM436.3,518.7h0.5v0.5h-0.5zM442.1,558.5h0.5v0.5h-0.5zM444.7,541.5h0.5v0.5h-0.5zM455.2,514.5h0.5v0.5h-0.5zM427.9,516.3h0.5v0.5h-0.5zM446.3,551.8h0.5v0.5h-0.5zM427.4,514.4h0.5v0.5h-0.5zM442.1,524.0h0.5v0.5h-0.5zM440.9,518.0h0.5v0.5h-0.5zM430.3,515.1h0.5v0.5h-0.5zM428.7,512.1h0.5v0.5h-0.5zM444.3,525.2h0.5v0.5h-0.5zM453.7,513.9h0.5v0.5h-0.5zM448.8,524.5h0.5v0.5h-0.5zM404.8,517.5h0.5v0.5h-0.5zM438.9,509.6h0.5v0.5h-0.5zM432.6,516.4h0.5v0.5h-0.5zM445.4,557.4h0.5v0.5h-0.5zM396.7,538.0h0.5v0.5h-0.5zM428.4,515.7h0.5v0.5h-0.5zM441.7,517.7h0.5v0.5h-0.5zM449.1,518.7h0.5v0.5h-0.5zM438.1,532.7h0.5v0.5h-0.5zM449.5,555.7h0.5v0.5h-0.5zM396.4,543.4h0.5v0.5h-0.5zM428.5,513.8h0.5v0.5h-0.5zM450.4,555.6h0.5v0.5h-0.5zM396.4,552.8h0.5v0.5h-0.5zM450.7,553.9h0.5v0.5h-0.5zM451.1,514.2h0.5v0.5h-0.5zM400.4,548.2h0.5v0.5h-0.5zM434.0,511.3h0.5v0.5h-0.5zM437.7,553.7h0.5v0.5h-0.5zM440.8,540.0h0.5v0.5h-0.5zM438.5,516.2h0.5v0.5h-0.5zM435.9,523.6h0.5v0.5h-0.5zM431.9,513.7h0.5v0.5h-0.5zM443.1,542.7h0.5v0.5h-0.5zM456.2,560.3h0.5v0.5h-0.5zM455.4,555.5h0.5v0.5h-0.5zM400.1,537.6h0.5v0.5h-0.5zM439.6,532.5h0.5v0.5h-0.5zM435.8,513.4h0.5v0.5h-0.5zM441.3,512.1h0.5v0.5h-0.5zM447.2,550.6h0.5v0.5h-0.5zM437.1,517.4h0.5v0.5h-0.5zM421.7,515.9h0.5v0.5h-0.5zM438.5,550.0h0.5v0.5h-0.5zM400.3,536.9h0.5v0.5h-0.5zM444.9,553.0h0.5v0.5h-0.5zM441.4,555.1h0.5v0.5h-0.5zM440.5,511.1h0.5v0.5h-0.5zM426.7,563.5h0.5v0.5h-0.5zM440.7,515.4h0.5v0.5h-0.5zM438.3,549.6h0.5v0.5h-0.5zM451.8,533.8h0.5v0.5h-0.5zM439.0,530.3h0.5v0.5h-0.5zM437.7,517.8h0.5v0.5h-0.5zM453.7,550.2h0.5v0.5h-0.5zM442.3,526.3h0.5v0.5h-0.5zM443.9,538.7h0.5v0.5h-0.5zM438.8,536.7h0.5v0.5h-0.5zM427.8,516.4h0.5v0.5h-0.5zM437.5,534.2h0.5v0.5h-0.5zM397.6,555.7h0.5v0.5h-0.5zM428.8,517.0h0.5v0.5h-0.5zM400.8,554.5h0.5v0.5h-0.5zM445.4,534.4h0.5v0.5h-0.5zM449.0,515.2h0.5v0.5h-0.5zM439.4,526.2h0.5v0.5h-0.5zM444.9,512.1h0.5v0.5h-0.5zM400.2,543.9h0.5v0.5h-0.5zM448.2,527.0h0.5v0.5h-0.5zM401.2,548.1h0.5v0.5h-0.5zM446.6,535.7h0.5v0.5h-0.5zM401.7,543.2h0.5v0.5h-0.5zM433.7,517.4h0.5v0.5h-0.5zM437.8,534.5h0.5v0.5h-0.5zM428.1,515.2h0.5v0.5h-0.5zM423.9,517.8h0.5v0.5h-0.5zM403.2,545.2h0.5v0.5h-0.5zM403.1,543.1h0.5v0.5h-0.5zM453.5,545.4h0.5v0.5h-0.5zM439.8,530.5h0.5v0.5h-0.5zM435.9,521.0h0.5v0.5h-0.5zM438.2,532.4h0.5v0.5h-0.5zM449.4,511.6h0.5v0.5h-0.5zM432.0,511.6h0.5v0.5h-0.5zM414.5,514.5h0.5v0.5h-0.5zM446.0,543.5h0.5v0.5h-0.5zM438.7,520.0h0.5v0.5h-0.5zM409.6,549.7h0.5v0.5h-0.5zM440.8,542.8h0.5v0.5h-0.5zM441.7,563.0h0.5v0.5h-0.5zM398.9,534.5h0.5v0.5h-0.5zM431.9,519.1h0.5v0.5h-0.5zM398.6,518.1h0.5v0.5h-0.5zM440.5,554.3h0.5v0.5h-0.5zM438.6,548.4h0.5v0.5h-0.5zM441.2,538.9h0.5v0.5h-0.5zM434.9,558.9h0.5v0.5h-0.5zM439.3,555.9h0.5v0.5h-0.5zM438.1,524.5h0.5v0.5h-0.5zM428.4,561.9h0.5v0.5h-0.5zM447.3,555.2h0.5v0.5h-0.5zM448.5,510.0h0.5v0.5h-0.5zM422.2,511.3h0.5v0.5h-0.5zM419.5,512.1h0.5v0.5h-0.5zM440.9,516.6h0.5v0.5h-0.5zM399.8,539.5h0.5v0.5h-0.5zM446.0,550.4h0.5v0.5h-0.5zM398.4,521.9h0.5v0.5h-0.5zM438.4,549.1h0.5v0.5h-0.5zM444.1,535.3h0.5v0.5h-0.5zM442.2,520.6h0.5v0.5h-0.5zM449.4,561.5h0.5v0.5h-0.5zM451.9,513.2h0.5v0.5h-0.5zM445.6,519.0h0.5v0.5h-0.5zM436.9,506.7h0.5v0.5h-0.5zM403.0,542.7h0.5v0.5h-0.5zM443.6,536.0h0.5v0.5h-0.5zM404.0,519.3h0.5v0.5h-0.5zM429.2,512.4h0.5v0.5h-0.5zM411.7,551.4h0.5v0.5h-0.5zM418.5,519.4h0.5v0.5h-0.5zM443.5,524.1h0.5v0.5h-0.5zM450.3,515.4h0.5v0.5h-0.5zM432.5,512.3h0.5v0.5h-0.5zM439.9,525.9h0.5v0.5h-0.5zM444.8,531.9h0.5v0.5h-0.5zM428.9,519.7h0.5v0.5h-0.5zM409.3,544.7h0.5v0.5h-0.5zM440.5,525.6h0.5v0.5h-0.5zM442.6,527.4h0.5v0.5h-0.5zM433.1,562.2h0.5v0.5h-0.5zM437.4,523.9h0.5v0.5h-0.5zM448.4,530.5h0.5v0.5h-0.5zM434.2,511.4h0.5v0.5h-0.5zM448.7,515.0h0.5v0.5h-0.5zM420.8,516.6h0.5v0.5h-0.5zM438.5,515.0h0.5v0.5h-0.5zM445.9,529.0h0.5v0.5h-0.5zM452.9,559.3h0.5v0.5h-0.5zM401.6,547.7h0.5v0.5h-0.5zM397.4,536.8h0.5v0.5h-0.5zM438.9,514.7h0.5v0.5h-0.5zM436.5,518.7h0.5v0.5h-0.5zM416.9,517.6h0.5v0.5h-0.5zM439.7,522.8h0.5v0.5h-0.5zM400.1,535.8h0.5v0.5h-0.5zM434.8,520.2h0.5v0.5h-0.5zM442.8,545.3h0.5v0.5h-0.5zM436.9,523.7h0.5v0.5h-0.5zM445.1,520.6h0.5v0.5h-0.5zM445.2,522.8h0.5v0.5h-0.5zM433.5,516.9h0.5v0.5h-0.5zM429.1,514.3h0.5v0.5h-0.5zM418.2,520.2h0.5v0.5h-0.5zM398.8,552.7h0.5v0.5h-0.5zM443.1,534.6h0.5v0.5h-0.5zM425.2,520.1h0.5v0.5h-0.5zM439.3,516.1h0.5v0.5h-0.5zM438.5,525.1h0.5v0.5h-0.5zM428.1,515.8h0.5v0.5h-0.5zM427.6,516.3h0.5v0.5h-0.5zM437.4,555.9h0.5v0.5h-0.5zM426.2,513.5h0.5v0.5h-0.5zM398.3,529.9h0.5v0.5h-0.5zM424.1,518.0h0.5v0.5h-0.5zM430.6,515.5h0.5v0.5h-0.5zM453.1,558.4h0.5v0.5h-0.5zM397.4,551.7h0.5v0.5h-0.5zM434.0,514.0h0.5v0.5h-0.5zM400.0,533.9h0.5v0.5h-0.5zM443.7,547.2h0.5v0.5h-0.5zM412.0,550.2h0.5v0.5h-0.5zM414.0,556.0h0.5v0.5h-0.5zM446.0,536.5h0.5v0.5h-0.5zM443.8,536.2h0.5v0.5h-0.5zM438.3,524.7h0.5v0.5h-0.5zM407.9,518.9h0.5v0.5h-0.5zM438.0,514.4h0.5v0.5h-0.5zM445.8,538.4h0.5v0.5h-0.5zM448.7,535.3h0.5v0.5h-0.5zM442.6,516.3h0.5v0.5h-0.5zM439.2,522.2h0.5v0.5h-0.5zM426.5,514.5h0.5v0.5h-0.5zM443.0,517.5h0.5v0.5h-0.5zM446.7,524.0h0.5v0.5h-0.5zM446.4,549.2h0.5v0.5h-0.5zM451.8,538.8h0.5v0.5h-0.5zM437.1,513.3h0.5v0.5h-0.5zM416.1,517.2h0.5v0.5h-0.5zM437.4,554.2h0.5v0.5h-0.5zM407.1,519.1h0.5v0.5h-0.5zM432.1,561.8h0.5v0.5h-0.5zM443.8,554.1h0.5v0.5h-0.5zM447.0,510.9h0.5v0.5h-0.5zM460.1,553.1h0.5v0.5h-0.5zM398.9,532.7h0.5v0.5h-0.5zM444.1,528.2h0.5v0.5h-0.5zM427.4,516.5h0.5v0.5h-0.5zM455.3,509.4h0.5v0.5h-0.5zM432.9,514.4h0.5v0.5h-0.5zM443.5,507.9h0.5v0.5h-0.5zM442.7,529.0h0.5v0.5h-0.5zM452.4,514.2h0.5v0.5h-0.5zM444.2,535.4h0.5v0.5h-0.5zM435.9,511.7h0.5v0.5h-0.5zM449.6,530.1h0.5v0.5h-0.5zM443.0,521.0h0.5v0.5h-0.5zM432.2,513.0h0.5v0.5h-0.5zM447.5,553.9h0.5v0.5h-0.5zM415.8,557.9h0.5v0.5h-0.5zM430.0,510.3h0.5v0.5h-0.5zM401.5,553.9h0.5v0.5h-0.5zM442.1,534.0h0.5v0.5h-0.5zM418.8,520.4h0.5v0.5h-0.5zM439.9,548.4h0.5v0.5h-0.5zM431.3,509.3h0.5v0.5h-0.5zM435.4,520.6h0.5v0.5h-0.5zM410.9,546.5h0.5v0.5h-0.5zM398.6,540.8h0.5v0.5h-0.5zM451.4,531.6h0.5v0.5h-0.5zM408.6,547.1h0.5v0.5h-0.5zM397.8,545.2h0.5v0.5h-0.5zM444.5,515.1h0.5v0.5h-0.5zM449.8,516.2h0.5v0.5h-0.5zM430.5,516.9h0.5v0.5h-0.5zM432.0,513.0h0.5v0.5h-0.5zM417.4,554.9h0.5v0.5h-0.5zM399.9,540.8h0.5v0.5h-0.5zM411.3,550.2h0.5v0.5h-0.5zM419.8,565.0h0.5v0.5h-0.5zM425.9,558.9h0.5v0.5h-0.5zM401.0,552.0h0.5v0.5h-0.5zM399.4,540.2h0.5v0.5h-0.5zM433.0,520.8h0.5v0.5h-0.5zM437.6,539.3h0.5v0.5h-0.5zM414.1,552.3h0.5v0.5h-0.5zM448.8,547.1h0.5v0.5h-0.5zM398.3,524.4h0.5v0.5h-0.5zM398.3,543.3h0.5v0.5h-0.5zM441.0,514.0h0.5v0.5h-0.5zM438.4,516.3h0.5v0.5h-0.5zM438.8,519.2h0.5v0.5h-0.5zM426.9,515.3h0.5v0.5h-0.5zM439.5,516.8h0.5v0.5h-0.5zM430.8,514.9h0.5v0.5h-0.5zM435.1,557.3h0.5v0.5h-0.5zM411.8,552.9h0.5v0.5h-0.5zM438.8,516.5h0.5v0.5h-0.5zM410.1,519.0h0.5v0.5h-0.5zM415.5,518.9h0.5v0.5h-0.5zM444.1,512.9h0.5v0.5h-0.5zM450.6,532.7h0.5v0.5h-0.5zM444.4,539.7h0.5v0.5h-0.5zM402.0,538.7h0.5v0.5h-0.5zM447.8,514.2h0.5v0.5h-0.5zM452.2,523.3h0.5v0.5h-0.5zM430.1,518.3h0.5v0.5h-0.5zM450.7,532.7h0.5v0.5h-0.5zM443.8,524.4h0.5v0.5h-0.5zM438.0,514.9h0.5v0.5h-0.5zM402.0,543.6h0.5v0.5h-0.5zM448.3,518.9h0.5v0.5h-0.5zM445.6,545.8h0.5v0.5h-0.5zM398.1,528.1h0.5v0.5h-0.5zM441.5,566.0h0.5v0.5h-0.5zM441.6,517.1h0.5v0.5h-0.5zM438.3,535.6h0.5v0.5h-0.5zM446.6,533.1h0.5v0.5h-0.5zM418.0,519.3h0.5v0.5h-0.5zM456.1,562.4h0.5v0.5h-0.5zM448.0,516.1h0.5v0.5h-0.5zM447.3,520.0h0.5v0.5h-0.5zM442.7,518.4h0.5v0.5h-0.5zM432.7,513.1h0.5v0.5h-0.5zM444.9,517.7h0.5v0.5h-0.5zM425.8,561.7h0.5v0.5h-0.5zM399.6,533.3h0.5v0.5h-0.5zM441.4,530.6h0.5v0.5h-0.5zM414.7,554.4h0.5v0.5h-0.5zM448.5,521.5h0.5v0.5h-0.5zM444.4,538.3h0.5v0.5h-0.5zM427.3,511.7h0.5v0.5h-0.5zM449.7,544.9h0.5v0.5h-0.5zM404.0,546.4h0.5v0.5h-0.5zM449.0,532.1h0.5v0.5h-0.5zM440.1,515.8h0.5v0.5h-0.5zM445.0,540.6h0.5v0.5h-0.5zM441.3,536.4h0.5v0.5h-0.5zM442.1,521.0h0.5v0.5h-0.5zM412.1,515.4h0.5v0.5h-0.5zM440.2,512.0h0.5v0.5h-0.5zM446.6,554.0h0.5v0.5h-0.5zM414.9,556.4h0.5v0.5h-0.5zM399.1,532.1h0.5v0.5h-0.5zM439.5,537.7h0.5v0.5h-0.5zM438.1,534.7h0.5v0.5h-0.5zM439.4,532.6h0.5v0.5h-0.5zM394.5,542.4h0.5v0.5h-0.5zM446.6,522.8h0.5v0.5h-0.5zM437.3,560.0h0.5v0.5h-0.5zM435.4,519.4h0.5v0.5h-0.5zM430.4,515.1h0.5v0.5h-0.5zM429.2,514.8h0.5v0.5h-0.5zM402.6,549.4h0.5v0.5h-0.5zM438.7,534.8h0.5v0.5h-0.5zM420.6,561.3h0.5v0.5h-0.5zM440.6,547.6h0.5v0.5h-0.5zM443.9,513.9h0.5v0.5h-0.5zM438.6,538.9h0.5v0.5h-0.5zM410.3,554.8h0.5v0.5h-0.5zM408.6,514.8h0.5v0.5h-0.5zM432.5,561.8h0.5v0.5h-0.5zM437.9,532.7h0.5v0.5h-0.5zM438.2,559.5h0.5v0.5h-0.5zM443.2,531.1h0.5v0.5h-0.5zM440.8,552.6h0.5v0.5h-0.5zM453.5,552.4h0.5v0.5h-0.5zM445.7,514.4h0.5v0.5h-0.5zM450.0,535.1h0.5v0.5h-0.5zM444.4,530.3h0.5v0.5h-0.5zM431.6,517.1h0.5v0.5h-0.5zM445.6,537.6h0.5v0.5h-0.5zM440.2,548.6h0.5v0.5h-0.5zM438.8,515.9h0.5v0.5h-0.5zM443.4,524.3h0.5v0.5h-0.5zM427.1,518.3h0.5v0.5h-0.5zM446.7,518.6h0.5v0.5h-0.5zM445.5,549.9h0.5v0.5h-0.5zM446.0,531.2h0.5v0.5h-0.5zM445.3,517.6h0.5v0.5h-0.5zM426.7,517.2h0.5v0.5h-0.5zM432.7,513.5h0.5v0.5h-0.5zM446.1,518.2h0.5v0.5h-0.5zM445.4,545.4h0.5v0.5h-0.5zM442.4,558.6h0.5v0.5h-0.5zM401.2,538.7h0.5v0.5h-0.5zM397.4,527.2h0.5v0.5h-0.5z" fill="#2a2a2a"/>
<path d="M431.5,558.0 L430.5,558.2 L429.5,558.3 L428.5,558.3 L427.5,558.4 L426.5,558.4 L425.5,558.4 L424.5,558.3 L423.5,558.1 L423.0,558.0 L422.0,557.7 L421.4,557.5 L420.5,557.1 L420.0,556.9 L419.4,556.5 L418.6,556.0 L418.0,555.5 L417.5,555.1 L417.0,554.6 L416.5,554.1 L416.0,553.5 L415.6,553.0 L415.2,552.5 L414.8,552.0 L414.5,551.5 L414.0,550.8 L413.5,550.1 L413.1,549.5 L412.7,549.0 L412.3,548.5 L412.0,548.0 L411.5,547.3 L411.0,546.6 L410.5,546.0 L410.1,545.5 L409.7,545.0 L409.3,544.5 L408.7,544.0 L408.1,543.5 L407.5,543.1 L407.0,542.8 L406.3,542.5 L405.5,542.1 L405.0,541.7 L404.5,541.4 L404.0,540.9 L403.5,540.3 L403.0,539.5 L402.7,539.0 L402.5,538.5 L402.1,537.5 L401.9,537.0 L401.6,536.0 L401.5,535.5 L401.2,534.5 L401.0,533.5 L400.9,533.0 L400.7,532.0 L400.5,531.3 L400.3,530.5 L400.0,529.5 L399.8,529.0 L399.6,528.0 L399.5,527.2 L399.4,526.5 L399.4,525.5 L399.5,524.8 L399.7,524.0 L400.0,523.1 L400.3,522.5 L400.6,522.0 L401.1,521.5 L401.6,521.0 L402.2,520.5 L403.0,520.0 L403.5,519.8 L404.3,519.5 L405.0,519.3 L406.0,519.1 L407.0,519.0 L408.0,519.0 L409.0,519.1 L410.0,519.2 L411.0,519.4 L411.7,519.5 L412.5,519.6 L413.5,519.8 L414.3,520.0 L415.0,520.1 L416.0,520.2 L417.0,520.3 L418.0,520.4 L419.0,520.4 L420.0,520.4 L421.0,520.3 L422.0,520.2 L423.0,520.2 L424.0,520.0 L424.5,520.0 L425.5,519.9 L426.5,519.8 L427.5,519.7 L428.5,519.7 L429.5,519.9 L430.0,520.0 L431.0,520.3 L431.5,520.5 L432.3,521.0 L433.0,521.5 L433.5,521.9 L434.0,522.3 L434.5,522.9 L435.0,523.5 L435.3,524.0 L435.6,524.5 L436.0,525.2 L436.3,526.0 L436.5,526.6 L436.7,527.5 L436.9,528.5 L437.0,529.5 L437.0,530.0 L437.0,531.0 L437.0,532.0 L437.0,533.0 L437.0,534.0 L437.1,535.0 L437.1,536.0 L437.2,537.0 L437.4,538.0 L437.5,539.0 L437.6,539.5 L437.7,540.5 L437.9,541.5 L438.0,542.5 L438.1,543.0 L438.2,544.0 L438.3,545.0 L438.3,546.0 L438.3,547.0 L438.3,548.0 L438.2,549.0 L438.1,550.0 L438.0,550.7 L437.8,551.5 L437.6,552.5 L437.4,553.0 L437.0,553.9 L436.7,554.5 L436.4,555.0 L436.0,555.5 L435.5,556.1 L435.0,556.6 L434.4,557.0 L433.5,557.5 L433.0,557.7 L432.0,558.0 L431.5,558.0Z" fill="#cdcdcd" stroke="#8a8a8a" stroke-width="0.45" stroke-linejoin="round"/><path d="M430.0,557.0 L429.0,557.2 L428.0,557.3 L427.0,557.4 L426.0,557.4 L425.0,557.3 L424.0,557.2 L423.2,557.0 L422.5,556.8 L421.7,556.5 L421.0,556.2 L420.5,555.9 L419.8,555.5 L419.1,555.0 L418.5,554.5 L418.0,554.0 L417.6,553.5 L417.1,553.0 L416.7,552.5 L416.4,552.0 L416.0,551.5 L415.5,550.7 L415.0,550.0 L414.7,549.5 L414.3,549.0 L414.0,548.5 L413.5,547.8 L413.0,547.1 L412.6,546.5 L412.2,546.0 L411.9,545.5 L411.5,545.0 L411.0,544.3 L410.5,543.7 L410.0,543.1 L409.5,542.5 L409.0,542.1 L408.5,541.7 L408.0,541.4 L407.1,541.0 L406.5,540.7 L406.0,540.5 L405.2,540.0 L404.7,539.5 L404.2,539.0 L403.8,538.5 L403.5,537.9 L403.1,537.0 L402.9,536.5 L402.6,535.5 L402.4,535.0 L402.2,534.0 L402.0,533.0 L401.9,532.5 L401.7,531.5 L401.5,530.6 L401.4,530.0 L401.2,529.0 L401.0,528.0 L401.0,527.5 L400.9,526.5 L401.0,525.6 L401.1,525.0 L401.4,524.0 L401.7,523.5 L402.0,523.0 L402.5,522.4 L403.0,522.0 L403.6,521.5 L404.5,521.1 L405.0,520.9 L406.0,520.6 L406.5,520.5 L407.5,520.4 L408.5,520.4 L409.5,520.4 L410.0,520.5 L411.0,520.6 L412.0,520.8 L413.0,521.0 L413.5,521.1 L414.5,521.2 L415.5,521.4 L416.5,521.5 L417.0,521.5 L418.0,521.6 L419.0,521.6 L420.0,521.6 L421.0,521.6 L422.0,521.5 L422.5,521.5 L423.5,521.4 L424.5,521.3 L425.5,521.2 L426.5,521.2 L427.5,521.2 L428.5,521.3 L429.5,521.5 L430.0,521.6 L431.0,522.0 L431.5,522.3 L432.0,522.6 L432.5,523.0 L433.0,523.5 L433.5,524.0 L434.0,524.7 L434.5,525.5 L434.7,526.0 L435.0,526.7 L435.3,527.5 L435.5,528.5 L435.5,529.0 L435.6,530.0 L435.6,531.0 L435.6,532.0 L435.6,533.0 L435.6,534.0 L435.7,535.0 L435.7,536.0 L435.8,537.0 L436.0,538.0 L436.1,538.5 L436.2,539.5 L436.4,540.5 L436.5,541.0 L436.7,542.0 L436.9,543.0 L437.0,544.0 L437.1,544.5 L437.1,545.5 L437.2,546.5 L437.2,547.5 L437.2,548.5 L437.1,549.5 L437.0,550.0 L436.8,551.0 L436.5,552.0 L436.3,552.5 L436.0,553.1 L435.5,554.0 L435.1,554.5 L434.7,555.0 L434.1,555.5 L433.5,555.9 L433.0,556.2 L432.1,556.5 L431.5,556.7 L430.5,556.9 L430.0,557.0Z" fill="#d2d2d2" stroke="#8a8a8a" stroke-width="0.45" stroke-linejoin="round"/><path d="M429.0,556.0 L428.0,556.2 L427.0,556.3 L426.0,556.4 L425.0,556.3 L424.0,556.1 L423.4,556.0 L422.5,555.7 L422.0,555.5 L421.0,555.0 L420.5,554.7 L420.0,554.3 L419.5,553.9 L419.0,553.4 L418.5,552.8 L418.0,552.2 L417.5,551.5 L417.2,551.0 L416.9,550.5 L416.5,549.9 L416.0,549.1 L415.6,548.5 L415.3,548.0 L415.0,547.5 L414.5,546.8 L414.0,546.1 L413.6,545.5 L413.2,545.0 L412.9,544.5 L412.5,544.0 L412.0,543.3 L411.5,542.6 L411.1,542.0 L410.7,541.5 L410.3,541.0 L409.8,540.5 L409.3,540.0 L408.5,539.5 L408.0,539.3 L407.3,539.0 L406.5,538.7 L406.0,538.4 L405.4,538.0 L404.9,537.5 L404.5,536.9 L404.0,536.0 L403.8,535.5 L403.5,534.5 L403.4,534.0 L403.1,533.0 L403.0,532.3 L402.8,531.5 L402.7,530.5 L402.5,529.5 L402.5,529.0 L402.4,528.0 L402.4,527.0 L402.5,526.1 L402.6,525.5 L403.0,524.6 L403.4,524.0 L403.8,523.5 L404.3,523.0 L405.0,522.6 L405.5,522.3 L406.5,522.0 L407.0,521.9 L408.0,521.8 L409.0,521.7 L410.0,521.8 L411.0,521.9 L411.6,522.0 L412.5,522.1 L413.5,522.3 L414.5,522.5 L415.0,522.6 L416.0,522.7 L417.0,522.8 L418.0,522.8 L419.0,522.9 L420.0,522.9 L421.0,522.9 L422.0,522.8 L423.0,522.8 L424.0,522.7 L425.0,522.7 L426.0,522.6 L427.0,522.7 L428.0,522.7 L429.0,522.9 L429.5,523.1 L430.4,523.5 L431.0,523.8 L431.5,524.2 L432.0,524.7 L432.5,525.2 L433.0,526.0 L433.3,526.5 L433.5,527.0 L433.8,528.0 L434.0,528.9 L434.1,529.5 L434.2,530.5 L434.2,531.5 L434.1,532.5 L434.1,533.5 L434.1,534.5 L434.1,535.5 L434.1,536.5 L434.2,537.5 L434.4,538.5 L434.5,539.1 L434.7,540.0 L435.0,541.0 L435.1,541.5 L435.4,542.5 L435.5,543.1 L435.7,544.0 L435.8,545.0 L435.9,546.0 L436.0,547.0 L436.0,548.0 L435.9,549.0 L435.8,550.0 L435.5,551.0 L435.3,551.5 L435.0,552.3 L434.6,553.0 L434.2,553.5 L433.7,554.0 L433.1,554.5 L432.5,554.9 L432.0,555.1 L431.1,555.5 L430.5,555.7 L429.5,555.9 L429.0,556.0Z" fill="#d8d8d8" stroke="#8a8a8a" stroke-width="0.45" stroke-linejoin="round"/><path d="M428.5,555.0 L427.5,555.2 L426.5,555.3 L425.5,555.3 L424.5,555.2 L423.7,555.0 L423.0,554.8 L422.4,554.5 L421.5,554.0 L421.0,553.7 L420.5,553.2 L420.0,552.8 L419.5,552.2 L419.0,551.5 L418.7,551.0 L418.4,550.5 L418.0,549.8 L417.5,549.0 L417.3,548.5 L417.0,548.0 L416.5,547.3 L416.0,546.5 L415.7,546.0 L415.3,545.5 L415.0,545.0 L414.5,544.3 L414.0,543.6 L413.6,543.0 L413.3,542.5 L412.9,542.0 L412.5,541.3 L412.0,540.6 L411.6,540.0 L411.3,539.5 L410.9,539.0 L410.5,538.4 L410.0,537.9 L409.5,537.5 L408.5,537.0 L408.0,536.8 L407.0,536.5 L406.5,536.3 L406.0,535.9 L405.5,535.3 L405.0,534.5 L404.8,534.0 L404.5,533.1 L404.3,532.5 L404.1,531.5 L404.0,530.7 L403.9,530.0 L403.8,529.0 L403.8,528.0 L403.9,527.0 L404.0,526.5 L404.4,525.5 L404.8,525.0 L405.2,524.5 L405.8,524.0 L406.5,523.7 L407.0,523.5 L408.0,523.2 L409.0,523.2 L410.0,523.2 L411.0,523.2 L412.0,523.4 L412.8,523.5 L413.5,523.6 L414.5,523.8 L415.5,523.9 L416.0,524.0 L417.0,524.1 L418.0,524.2 L419.0,524.3 L420.0,524.3 L421.0,524.3 L422.0,524.3 L423.0,524.3 L424.0,524.3 L425.0,524.2 L426.0,524.2 L427.0,524.3 L428.0,524.4 L428.5,524.6 L429.5,525.0 L430.0,525.2 L430.5,525.6 L431.0,526.1 L431.5,526.8 L431.9,527.5 L432.1,528.0 L432.3,529.0 L432.4,530.0 L432.5,531.0 L432.4,532.0 L432.3,533.0 L432.1,534.0 L432.0,534.7 L431.8,535.5 L431.6,536.5 L431.5,537.0 L431.2,538.0 L431.1,539.0 L431.2,540.0 L431.5,540.5 L432.0,541.1 L432.5,541.7 L433.0,542.4 L433.3,543.0 L433.6,543.5 L434.0,544.5 L434.1,545.0 L434.4,546.0 L434.5,546.7 L434.6,547.5 L434.6,548.5 L434.5,549.3 L434.4,550.0 L434.1,551.0 L433.8,551.5 L433.5,552.1 L433.0,552.7 L432.5,553.2 L432.0,553.6 L431.3,554.0 L430.5,554.4 L430.0,554.6 L429.0,554.9 L428.5,555.0Z" fill="#dedede" stroke="#8a8a8a" stroke-width="0.45" stroke-linejoin="round"/><path d="M428.0,554.0 L427.0,554.2 L426.0,554.3 L425.0,554.2 L424.0,554.0 L423.5,553.8 L422.7,553.5 L422.0,553.0 L421.5,552.6 L421.0,552.1 L420.5,551.5 L420.1,551.0 L419.8,550.5 L419.5,549.8 L419.1,549.0 L418.9,548.5 L418.5,547.7 L418.1,547.0 L417.8,546.5 L417.5,546.0 L417.0,545.2 L416.5,544.5 L416.2,544.0 L415.8,543.5 L415.5,543.0 L415.0,542.3 L414.5,541.5 L414.2,541.0 L413.9,540.5 L413.5,539.8 L413.0,539.0 L412.8,538.5 L412.5,538.0 L412.0,537.1 L411.6,536.5 L411.2,536.0 L410.8,535.5 L410.2,535.0 L409.5,534.5 L409.0,534.3 L408.2,534.0 L407.5,533.7 L407.0,533.4 L406.5,532.9 L406.0,532.1 L405.8,531.5 L405.5,530.5 L405.4,530.0 L405.4,529.0 L405.4,528.0 L405.5,527.5 L405.9,526.5 L406.3,526.0 L406.9,525.5 L407.5,525.1 L408.0,524.9 L409.0,524.7 L410.0,524.7 L411.0,524.7 L412.0,524.8 L413.0,524.9 L413.5,525.0 L414.5,525.2 L415.5,525.4 L416.0,525.5 L417.0,525.7 L418.0,525.9 L418.6,526.0 L419.5,526.1 L420.5,526.3 L421.5,526.3 L422.5,526.4 L423.5,526.3 L424.5,526.3 L425.5,526.2 L426.5,526.3 L427.5,526.5 L428.0,526.6 L428.7,527.0 L429.3,527.5 L429.6,528.0 L430.0,528.8 L430.1,529.5 L430.1,530.5 L430.0,531.2 L429.6,532.0 L429.2,532.5 L428.5,532.9 L427.5,532.8 L426.9,532.5 L426.1,532.0 L425.5,531.7 L425.0,531.4 L424.2,531.0 L423.5,530.8 L422.5,530.7 L421.7,531.0 L421.0,531.5 L420.7,532.0 L420.4,532.5 L420.4,533.5 L420.5,534.0 L420.9,535.0 L421.3,535.5 L421.7,536.0 L422.1,536.5 L422.6,537.0 L423.0,537.5 L423.5,538.0 L424.0,538.6 L424.5,539.3 L425.0,540.0 L425.3,540.5 L425.5,541.0 L426.0,541.9 L426.4,542.5 L426.7,543.0 L427.2,543.5 L427.7,544.0 L428.4,544.5 L429.0,544.8 L429.5,545.0 L430.5,545.4 L431.0,545.6 L431.6,546.0 L432.1,546.5 L432.5,547.2 L432.7,548.0 L432.8,549.0 L432.7,550.0 L432.5,550.6 L432.0,551.5 L431.6,552.0 L431.1,552.5 L430.5,552.9 L430.0,553.2 L429.5,553.5 L428.5,553.9 L428.0,554.0Z" fill="#e6e6e6" stroke="#8a8a8a" stroke-width="0.45" stroke-linejoin="round"/><path d="M427.5,553.0 L426.5,553.2 L425.5,553.2 L424.5,553.1 L424.0,552.9 L423.2,552.5 L422.5,552.0 L422.0,551.5 L421.6,551.0 L421.3,550.5 L421.0,550.0 L420.6,549.0 L420.4,548.5 L420.1,547.5 L420.0,547.0 L419.6,546.0 L419.3,545.5 L419.0,545.0 L418.5,544.2 L418.0,543.5 L417.7,543.0 L417.4,542.5 L417.0,541.9 L416.5,541.1 L416.2,540.5 L415.9,540.0 L415.5,539.2 L415.2,538.5 L415.0,538.0 L414.6,537.0 L414.4,536.5 L414.0,535.5 L413.7,535.0 L413.4,534.5 L413.0,534.0 L412.4,533.5 L411.8,533.0 L411.1,532.5 L410.5,532.1 L410.0,531.8 L409.5,531.5 L408.7,531.0 L408.2,530.5 L407.9,530.0 L407.6,529.0 L407.8,528.0 L408.1,527.5 L408.6,527.0 L409.5,526.6 L410.0,526.5 L411.0,526.4 L412.0,526.5 L412.5,526.5 L413.5,526.7 L414.4,527.0 L415.0,527.2 L415.7,527.5 L416.5,527.9 L417.0,528.4 L417.4,529.0 L417.5,529.5 L417.5,530.0 L417.3,531.0 L417.1,532.0 L417.0,533.0 L417.2,534.0 L417.5,534.8 L417.9,535.5 L418.3,536.0 L418.7,536.5 L419.2,537.0 L419.7,537.5 L420.2,538.0 L420.7,538.5 L421.1,539.0 L421.6,539.5 L422.0,540.0 L422.5,540.7 L423.0,541.4 L423.4,542.0 L423.7,542.5 L424.0,543.0 L424.5,543.7 L425.0,544.2 L425.5,544.7 L426.0,545.1 L426.6,545.5 L427.4,546.0 L428.0,546.4 L428.5,546.7 L429.0,547.0 L429.7,547.5 L430.2,548.0 L430.5,548.5 L430.8,549.5 L430.6,550.5 L430.3,551.0 L430.0,551.5 L429.5,552.0 L428.7,552.5 L428.0,552.8 L427.5,553.0Z" fill="#eeeeee" stroke="#8a8a8a" stroke-width="0.45" stroke-linejoin="round"/><path d="M426.5,552.1 L425.5,552.2 L424.7,552.0 L424.0,551.7 L423.5,551.4 L423.0,550.9 L422.5,550.2 L422.2,549.5 L422.0,548.5 L422.0,547.5 L422.4,546.5 L423.0,546.1 L424.0,546.1 L425.0,546.4 L425.5,546.6 L426.3,547.0 L427.0,547.4 L427.5,547.7 L428.0,548.2 L428.5,548.7 L428.8,549.5 L428.7,550.5 L428.5,551.0 L427.9,551.5 L427.0,552.0 L426.5,552.1Z" fill="#f6f6f6" stroke="#8a8a8a" stroke-width="0.45" stroke-linejoin="round"/><path d="M426.0,551.1 L425.1,551.0 L424.5,550.7 L424.0,550.3 L423.6,549.5 L423.8,548.5 L424.5,548.0 L425.0,548.0 L425.5,548.1 L426.4,548.5 L426.9,549.0 L427.2,549.5 L427.0,550.5 L426.5,550.9 L426.0,551.1Z" fill="#ffffff" stroke="#8a8a8a" stroke-width="0.45" stroke-linejoin="round"/>
<ellipse cx="425.5" cy="550.5" rx="2.6" ry="1.8" fill="#fff"/>
<rect x="439.8" y="546.5" width="23.8" height="23.3" fill="none" stroke="#555" stroke-width="0.7"/>
<text x="449.3" y="534.2" font-size="10.3" text-anchor="middle" fill="#222" stroke="#222" stroke-width="0.22">0.7</text>
<text x="368.3" y="528.5" font-size="9.8" text-anchor="middle" fill="#1a1a1a" transform="rotate(-90 368.3 528.5)" stroke="#1a1a1a" stroke-width="0.22">MHCII-AF700</text>
<text x="420.3" y="590.1" font-size="9.8" text-anchor="middle" fill="#1a1a1a" stroke="#1a1a1a" stroke-width="0.22">CD9-PE</text>
<ellipse cx="376.8" cy="551.5" rx="1" ry="1.6" fill="#111"/>
<ellipse cx="398.2" cy="572.3" rx="1.8" ry="0.9" fill="#111"/>
<text x="375.5" y="493.9" font-size="3.4" text-anchor="end" fill="#444" stroke="#444" stroke-width="0.22">10<tspan font-size="2.2" dy="-1.2">5</tspan></text>
<text x="375.5" y="514.7" font-size="3.4" text-anchor="end" fill="#444" stroke="#444" stroke-width="0.22">10<tspan font-size="2.2" dy="-1.2">4</tspan></text>
<text x="375.5" y="537.8" font-size="3.4" text-anchor="end" fill="#444" stroke="#444" stroke-width="0.22">10<tspan font-size="2.2" dy="-1.2">3</tspan></text>
<text x="375.5" y="552.6" font-size="3.4" text-anchor="end" fill="#444" stroke="#444" stroke-width="0.22">0</text>
<text x="375.5" y="566.5" font-size="3.4" text-anchor="end" fill="#444" stroke="#444" stroke-width="0.22">-10<tspan font-size="2.2" dy="-1.2">3</tspan></text>
<text x="387.4" y="578.9" font-size="3.4" text-anchor="middle" fill="#444" stroke="#444" stroke-width="0.22">-10<tspan font-size="2.2" dy="-1.2">3</tspan></text>
<text x="399.3" y="578.9" font-size="3.4" text-anchor="middle" fill="#444" stroke="#444" stroke-width="0.22">0</text>
<text x="414.6" y="578.9" font-size="3.4" text-anchor="middle" fill="#444" stroke="#444" stroke-width="0.22">10<tspan font-size="2.2" dy="-1.2">3</tspan></text>
<text x="438.5" y="578.9" font-size="3.4" text-anchor="middle" fill="#444" stroke="#444" stroke-width="0.22">10<tspan font-size="2.2" dy="-1.2">4</tspan></text>
<text x="460.6" y="578.9" font-size="3.4" text-anchor="middle" fill="#444" stroke="#444" stroke-width="0.22">10<tspan font-size="2.2" dy="-1.2">5</tspan></text>
<text x="529.3" y="480.2" font-size="11" text-anchor="middle" fill="#1a1a1a" stroke="#1a1a1a" stroke-width="0.22">MHCII<tspan font-size="7" dy="-4">Neg</tspan><tspan dy="4">CD9</tspan><tspan font-size="7" dy="-4">Hi</tspan></text>
<rect x="491.4" y="484.3" width="87.2" height="86.9" fill="none" stroke="#9a9a9a" stroke-width="1.1"/>
<line x1="489.2" y1="493" x2="491.4" y2="493" stroke="#555" stroke-width="0.6"/>
<line x1="489.2" y1="495.5" x2="491.4" y2="495.5" stroke="#555" stroke-width="0.6"/>
<line x1="489.2" y1="498" x2="491.4" y2="498" stroke="#555" stroke-width="0.6"/>
<line x1="489.2" y1="507" x2="491.4" y2="507" stroke="#555" stroke-width="0.6"/>
<line x1="489.2" y1="510" x2="491.4" y2="510" stroke="#555" stroke-width="0.6"/>
<line x1="489.2" y1="513" x2="491.4" y2="513" stroke="#555" stroke-width="0.6"/>
<line x1="489.2" y1="516" x2="491.4" y2="516" stroke="#555" stroke-width="0.6"/>
<line x1="489.2" y1="520.5" x2="491.4" y2="520.5" stroke="#555" stroke-width="0.6"/>
<line x1="489.2" y1="523" x2="491.4" y2="523" stroke="#555" stroke-width="0.6"/>
<line x1="489.2" y1="527" x2="491.4" y2="527" stroke="#555" stroke-width="0.6"/>
<line x1="489.2" y1="535" x2="491.4" y2="535" stroke="#555" stroke-width="0.6"/>
<line x1="489.2" y1="538" x2="491.4" y2="538" stroke="#555" stroke-width="0.6"/>
<line x1="489.2" y1="541" x2="491.4" y2="541" stroke="#555" stroke-width="0.6"/>
<line x1="489.2" y1="544" x2="491.4" y2="544" stroke="#555" stroke-width="0.6"/>
<line x1="489.2" y1="548" x2="491.4" y2="548" stroke="#555" stroke-width="0.6"/>
<line x1="489.2" y1="551" x2="491.4" y2="551" stroke="#555" stroke-width="0.6"/>
<line x1="489.2" y1="556" x2="491.4" y2="556" stroke="#555" stroke-width="0.6"/>
<line x1="489.2" y1="560" x2="491.4" y2="560" stroke="#555" stroke-width="0.6"/>
<line x1="489.2" y1="563" x2="491.4" y2="563" stroke="#555" stroke-width="0.6"/>
<line x1="489.2" y1="567" x2="491.4" y2="567" stroke="#555" stroke-width="0.6"/>
<line x1="499" y1="571.2" x2="499" y2="573.4" stroke="#555" stroke-width="0.6"/>
<line x1="504" y1="571.2" x2="504" y2="573.4" stroke="#555" stroke-width="0.6"/>
<line x1="507" y1="571.2" x2="507" y2="573.4" stroke="#555" stroke-width="0.6"/>
<line x1="510.4" y1="571.2" x2="510.4" y2="573.4" stroke="#555" stroke-width="0.6"/>
<line x1="514" y1="571.2" x2="514" y2="573.4" stroke="#555" stroke-width="0.6"/>
<line x1="519" y1="571.2" x2="519" y2="573.4" stroke="#555" stroke-width="0.6"/>
<line x1="527" y1="571.2" x2="527" y2="573.4" stroke="#555" stroke-width="0.6"/>
<line x1="532" y1="571.2" x2="532" y2="573.4" stroke="#555" stroke-width="0.6"/>
<line x1="535" y1="571.2" x2="535" y2="573.4" stroke="#555" stroke-width="0.6"/>
<line x1="538" y1="571.2" x2="538" y2="573.4" stroke="#555" stroke-width="0.6"/>
<line x1="542" y1="571.2" x2="542" y2="573.4" stroke="#555" stroke-width="0.6"/>
<line x1="546" y1="571.2" x2="546" y2="573.4" stroke="#555" stroke-width="0.6"/>
<line x1="549" y1="571.2" x2="549" y2="573.4" stroke="#555" stroke-width="0.6"/>
<line x1="552" y1="571.2" x2="552" y2="573.4" stroke="#555" stroke-width="0.6"/>
<line x1="558" y1="571.2" x2="558" y2="573.4" stroke="#555" stroke-width="0.6"/>
<line x1="561" y1="571.2" x2="561" y2="573.4" stroke="#555" stroke-width="0.6"/>
<line x1="564" y1="571.2" x2="564" y2="573.4" stroke="#555" stroke-width="0.6"/>
<line x1="568" y1="571.2" x2="568" y2="573.4" stroke="#555" stroke-width="0.6"/>
<line x1="571" y1="571.2" x2="571" y2="573.4" stroke="#555" stroke-width="0.6"/>
<line x1="575" y1="571.2" x2="575" y2="573.4" stroke="#555" stroke-width="0.6"/>
<path d="M534.0,516.5 L533.0,516.6 L532.0,516.6 L531.0,516.6 L530.0,516.6 L529.0,516.6 L528.0,516.6 L527.0,516.6 L526.0,516.6 L525.0,516.6 L524.0,516.6 L523.0,516.6 L522.0,516.6 L521.0,516.6 L520.2,516.5 L519.5,516.4 L518.5,516.3 L517.5,516.2 L516.8,516.0 L516.0,515.8 L515.1,515.5 L514.5,515.3 L513.9,515.0 L513.0,514.6 L512.5,514.3 L512.0,513.9 L511.5,513.5 L511.0,513.0 L510.5,512.5 L510.0,511.7 L509.6,511.0 L509.5,510.5 L509.3,509.5 L509.3,508.5 L509.5,507.7 L509.8,507.0 L510.0,506.5 L510.5,505.8 L511.0,505.2 L511.5,504.7 L512.0,504.3 L512.5,504.0 L513.2,503.5 L514.0,503.1 L514.5,502.8 L515.4,502.5 L516.0,502.3 L516.9,502.0 L517.5,501.8 L518.5,501.6 L519.0,501.4 L520.0,501.2 L521.0,501.0 L521.5,500.9 L522.5,500.7 L523.5,500.5 L524.0,500.4 L525.0,500.1 L525.5,500.0 L526.5,499.7 L527.4,499.5 L528.0,499.3 L529.0,499.1 L529.5,498.9 L530.5,498.7 L531.3,498.5 L532.0,498.3 L533.0,498.1 L533.5,498.0 L534.5,497.8 L535.5,497.5 L536.0,497.4 L537.0,497.2 L538.0,497.0 L538.5,496.9 L539.5,496.7 L540.5,496.5 L541.0,496.4 L542.0,496.3 L543.0,496.1 L544.0,496.0 L544.5,496.0 L545.5,495.9 L546.5,495.9 L547.5,495.9 L548.5,495.9 L549.5,496.0 L550.0,496.0 L551.0,496.2 L552.0,496.3 L552.6,496.5 L553.5,496.7 L554.3,497.0 L555.0,497.2 L555.6,497.5 L556.5,497.9 L557.0,498.2 L557.5,498.5 L558.2,499.0 L558.9,499.5 L559.4,500.0 L559.9,500.5 L560.2,501.0 L560.6,501.5 L561.0,502.4 L561.2,503.0 L561.3,504.0 L561.3,505.0 L561.0,506.0 L560.9,506.5 L560.5,507.2 L560.0,508.0 L559.6,508.5 L559.1,509.0 L558.6,509.5 L558.0,510.0 L557.5,510.4 L557.0,510.8 L556.5,511.1 L555.9,511.5 L555.0,512.0 L554.5,512.3 L554.0,512.5 L553.0,513.0 L552.5,513.2 L551.7,513.5 L551.0,513.7 L550.2,514.0 L549.5,514.2 L548.5,514.5 L548.0,514.6 L547.0,514.9 L546.4,515.0 L545.5,515.2 L544.5,515.4 L543.7,515.5 L543.0,515.6 L542.0,515.8 L541.0,515.9 L540.3,516.0 L539.5,516.1 L538.5,516.2 L537.5,516.3 L536.5,516.4 L535.5,516.4 L534.5,516.5 L534.0,516.5Z" fill="#d0d0d0" stroke="#8a8a8a" stroke-width="0.45" stroke-linejoin="round"/><path d="M535.5,515.0 L534.5,515.1 L533.5,515.1 L532.5,515.1 L531.5,515.1 L530.5,515.1 L529.5,515.1 L528.5,515.1 L527.5,515.1 L526.5,515.1 L525.5,515.2 L524.5,515.2 L523.5,515.2 L522.5,515.2 L521.5,515.2 L520.5,515.2 L519.5,515.1 L518.8,515.0 L518.0,514.9 L517.0,514.6 L516.5,514.5 L515.5,514.1 L515.0,513.9 L514.2,513.5 L513.5,513.0 L513.0,512.6 L512.5,512.2 L512.0,511.5 L511.7,511.0 L511.5,510.5 L511.2,509.5 L511.3,508.5 L511.5,507.6 L511.8,507.0 L512.1,506.5 L512.5,506.0 L513.0,505.5 L513.6,505.0 L514.4,504.5 L515.0,504.2 L515.5,503.9 L516.5,503.5 L517.0,503.4 L518.0,503.1 L518.5,502.9 L519.5,502.7 L520.5,502.5 L521.0,502.5 L522.0,502.3 L523.0,502.1 L523.5,502.0 L524.5,501.8 L525.5,501.6 L526.0,501.4 L527.0,501.2 L527.6,501.0 L528.5,500.7 L529.4,500.5 L530.0,500.3 L531.0,500.1 L531.5,499.9 L532.5,499.7 L533.2,499.5 L534.0,499.3 L535.0,499.1 L535.5,498.9 L536.5,498.7 L537.3,498.5 L538.0,498.3 L539.0,498.1 L539.6,498.0 L540.5,497.8 L541.5,497.6 L542.3,497.5 L543.0,497.4 L544.0,497.3 L545.0,497.2 L546.0,497.1 L547.0,497.1 L548.0,497.1 L549.0,497.2 L550.0,497.3 L550.9,497.5 L551.5,497.6 L552.5,497.9 L553.0,498.1 L554.0,498.4 L554.5,498.7 L555.1,499.0 L556.0,499.5 L556.5,499.9 L557.0,500.3 L557.5,500.8 L558.0,501.4 L558.4,502.0 L558.6,502.5 L558.9,503.5 L559.0,504.5 L558.8,505.5 L558.5,506.5 L558.2,507.0 L557.9,507.5 L557.5,508.0 L557.0,508.6 L556.5,509.1 L556.0,509.5 L555.4,510.0 L554.6,510.5 L554.0,510.9 L553.5,511.2 L552.8,511.5 L552.0,511.9 L551.5,512.1 L550.5,512.5 L550.0,512.7 L549.0,513.0 L548.5,513.1 L547.5,513.4 L547.0,513.5 L546.0,513.8 L545.0,514.0 L544.5,514.1 L543.5,514.2 L542.5,514.4 L541.6,514.5 L541.0,514.6 L540.0,514.7 L539.0,514.8 L538.0,514.9 L537.0,514.9 L536.0,515.0 L535.5,515.0Z" fill="#c0c0c0" stroke="#8a8a8a" stroke-width="0.45" stroke-linejoin="round"/><path d="M537.5,513.5 L536.5,513.6 L535.5,513.6 L534.5,513.6 L533.5,513.6 L532.5,513.6 L531.5,513.6 L530.5,513.5 L529.5,513.5 L528.5,513.5 L527.5,513.5 L526.5,513.5 L525.5,513.6 L524.5,513.7 L523.5,513.7 L522.5,513.8 L521.5,513.8 L520.5,513.8 L519.5,513.7 L518.5,513.5 L518.0,513.4 L517.0,513.1 L516.5,512.9 L515.6,512.5 L515.0,512.1 L514.5,511.7 L514.0,511.1 L513.6,510.5 L513.4,510.0 L513.3,509.0 L513.4,508.0 L513.7,507.5 L514.0,507.0 L514.5,506.4 L515.0,506.0 L515.7,505.5 L516.5,505.1 L517.0,504.9 L518.0,504.5 L518.5,504.4 L519.5,504.2 L520.5,504.0 L521.0,503.9 L522.0,503.8 L523.0,503.7 L524.0,503.5 L524.5,503.4 L525.5,503.2 L526.4,503.0 L527.0,502.8 L528.0,502.6 L528.5,502.4 L529.5,502.1 L530.0,501.9 L531.0,501.6 L531.5,501.5 L532.5,501.2 L533.2,501.0 L534.0,500.8 L534.9,500.5 L535.5,500.3 L536.5,500.1 L537.0,499.9 L538.0,499.7 L538.8,499.5 L539.5,499.3 L540.5,499.1 L541.0,499.0 L542.0,498.8 L543.0,498.7 L544.0,498.5 L544.5,498.5 L545.5,498.4 L546.5,498.4 L547.5,498.4 L548.5,498.5 L549.0,498.5 L550.0,498.7 L551.0,498.9 L551.5,499.1 L552.5,499.4 L553.0,499.7 L553.6,500.0 L554.4,500.5 L555.0,501.0 L555.5,501.5 L555.9,502.0 L556.2,502.5 L556.5,503.1 L556.7,504.0 L556.7,505.0 L556.5,505.8 L556.2,506.5 L555.9,507.0 L555.5,507.6 L555.0,508.2 L554.5,508.6 L554.0,509.0 L553.4,509.5 L552.6,510.0 L552.0,510.3 L551.5,510.6 L550.6,511.0 L550.0,511.3 L549.4,511.5 L548.5,511.8 L547.8,512.0 L547.0,512.2 L546.0,512.5 L545.5,512.6 L544.5,512.8 L543.5,513.0 L543.0,513.0 L542.0,513.2 L541.0,513.3 L540.0,513.4 L539.0,513.4 L538.0,513.5 L537.5,513.5Z" fill="#b0b0b0" stroke="#8a8a8a" stroke-width="0.45" stroke-linejoin="round"/><path d="M541.0,512.0 L540.0,512.1 L539.0,512.1 L538.0,512.1 L537.0,512.1 L536.0,512.1 L535.0,512.1 L534.0,512.0 L533.5,512.0 L532.5,511.9 L531.5,511.8 L530.5,511.7 L529.5,511.7 L528.5,511.6 L527.5,511.6 L526.5,511.7 L525.5,511.8 L524.5,511.9 L523.5,512.0 L523.0,512.0 L522.0,512.1 L521.0,512.1 L520.0,512.1 L519.4,512.0 L518.5,511.8 L517.7,511.5 L517.0,511.1 L516.5,510.7 L516.0,510.1 L515.8,509.5 L515.8,508.5 L516.0,508.0 L516.5,507.3 L517.0,506.9 L517.7,506.5 L518.5,506.1 L519.0,506.0 L520.0,505.8 L521.0,505.6 L522.0,505.5 L522.5,505.5 L523.5,505.4 L524.5,505.3 L525.5,505.2 L526.3,505.0 L527.0,504.8 L528.0,504.5 L528.5,504.3 L529.4,504.0 L530.0,503.8 L530.7,503.5 L531.5,503.2 L532.1,503.0 L533.0,502.7 L533.5,502.5 L534.5,502.1 L535.0,502.0 L536.0,501.7 L536.5,501.5 L537.5,501.2 L538.2,501.0 L539.0,500.8 L540.0,500.5 L540.5,500.4 L541.5,500.2 L542.5,500.0 L543.0,499.9 L544.0,499.8 L545.0,499.7 L546.0,499.7 L547.0,499.7 L548.0,499.8 L549.0,499.9 L549.5,500.0 L550.5,500.3 L551.0,500.5 L552.0,501.0 L552.5,501.3 L553.0,501.7 L553.5,502.1 L554.0,502.8 L554.3,503.5 L554.5,504.5 L554.5,504.5 L554.4,505.5 L554.0,506.4 L553.6,507.0 L553.2,507.5 L552.7,508.0 L552.1,508.5 L551.5,508.9 L551.0,509.2 L550.5,509.5 L549.5,510.0 L549.0,510.2 L548.3,510.5 L547.5,510.8 L546.8,511.0 L546.0,511.2 L545.0,511.5 L544.5,511.6 L543.5,511.8 L542.5,511.9 L541.5,512.0 L541.0,512.0Z" fill="#a4a4a4" stroke="#8a8a8a" stroke-width="0.45" stroke-linejoin="round"/><path d="M544.0,510.5 L543.0,510.7 L542.0,510.8 L541.0,510.9 L540.0,510.9 L539.0,510.9 L538.0,510.8 L537.0,510.7 L536.0,510.6 L535.4,510.5 L534.5,510.3 L533.5,510.1 L533.0,510.0 L532.0,509.7 L531.5,509.5 L530.5,509.1 L530.0,508.7 L529.5,508.2 L529.4,507.5 L529.8,507.0 L530.2,506.5 L530.8,506.0 L531.5,505.5 L532.0,505.2 L532.5,504.9 L533.2,504.5 L534.0,504.1 L534.5,503.8 L535.2,503.5 L536.0,503.2 L536.5,503.0 L537.5,502.6 L538.0,502.5 L539.0,502.1 L539.5,502.0 L540.5,501.7 L541.5,501.5 L542.0,501.4 L543.0,501.2 L544.0,501.1 L545.0,501.0 L546.0,501.0 L547.0,501.1 L548.0,501.2 L549.0,501.5 L549.5,501.6 L550.3,502.0 L551.0,502.5 L551.5,503.0 L551.9,503.5 L552.1,504.0 L552.2,505.0 L552.0,505.7 L551.6,506.5 L551.2,507.0 L550.7,507.5 L550.1,508.0 L549.5,508.4 L549.0,508.7 L548.5,509.0 L547.5,509.4 L547.0,509.6 L546.0,510.0 L545.5,510.1 L544.5,510.4 L544.0,510.5Z" fill="#a8a8a8" stroke="#8a8a8a" stroke-width="0.45" stroke-linejoin="round"/><path d="M543.0,509.6 L542.0,509.7 L541.0,509.8 L540.0,509.8 L539.0,509.7 L538.0,509.5 L537.5,509.4 L536.5,509.1 L536.0,508.8 L535.4,508.5 L534.8,508.0 L534.5,507.5 L534.5,506.7 L534.8,506.0 L535.3,505.5 L535.9,505.0 L536.5,504.6 L537.0,504.3 L537.7,504.0 L538.5,503.7 L539.0,503.5 L540.0,503.1 L540.5,503.0 L541.5,502.8 L542.5,502.6 L543.1,502.5 L544.0,502.4 L545.0,502.4 L546.0,502.4 L546.5,502.5 L547.5,502.7 L548.2,503.0 L549.0,503.5 L549.4,504.0 L549.7,504.5 L549.7,505.5 L549.5,506.0 L549.0,506.7 L548.5,507.2 L548.0,507.6 L547.4,508.0 L546.5,508.5 L546.0,508.7 L545.3,509.0 L544.5,509.2 L543.5,509.5 L543.0,509.6Z" fill="#bcbcbc" stroke="#8a8a8a" stroke-width="0.45" stroke-linejoin="round"/><path d="M543.0,508.5 L542.0,508.7 L541.0,508.7 L540.0,508.6 L539.3,508.5 L538.5,508.2 L538.0,508.0 L537.5,507.5 L537.3,506.5 L537.5,506.0 L538.0,505.5 L538.7,505.0 L539.5,504.6 L540.0,504.4 L541.0,504.1 L541.5,504.0 L542.5,503.8 L543.5,503.7 L544.5,503.8 L545.5,503.9 L546.0,504.1 L546.7,504.5 L547.1,505.0 L547.1,506.0 L546.8,506.5 L546.3,507.0 L545.6,507.5 L545.0,507.8 L544.5,508.1 L543.5,508.4 L543.0,508.5Z" fill="#d8d8d8" stroke="#8a8a8a" stroke-width="0.45" stroke-linejoin="round"/><path d="M542.5,507.6 L541.5,507.7 L540.5,507.5 L540.0,507.3 L539.5,506.8 L539.5,506.4 L540.0,505.8 L540.5,505.5 L541.5,505.1 L542.1,505.0 L543.0,505.0 L543.5,505.0 L544.5,505.4 L544.8,506.0 L544.5,506.5 L544.0,507.0 L543.0,507.4 L542.5,507.6Z" fill="#f4f4f4" stroke="#8a8a8a" stroke-width="0.45" stroke-linejoin="round"/>
<path d="M525,510 Q535,507 547,504" stroke="#fff" stroke-width="1.5" fill="none" opacity="0.9"/>
<rect x="524.4" y="493.6" width="43.1" height="26.9" fill="none" stroke="#555" stroke-width="0.7"/>
<text x="544.6" y="534" font-size="9.8" text-anchor="middle" fill="#1a1a1a" stroke="#1a1a1a" stroke-width="0.22" letter-spacing="0.9">85.2</text>
<text x="479.6" y="529.5" font-size="9.8" text-anchor="middle" fill="#1a1a1a" transform="rotate(-90 479.6 529.5)" stroke="#1a1a1a" stroke-width="0.22">EpCAM1-BV711</text>
<text x="539.2" y="590" font-size="9.8" text-anchor="middle" fill="#1a1a1a" stroke="#1a1a1a" stroke-width="0.22">K19-AF647</text>
<ellipse cx="489.6" cy="551" rx="1" ry="1.6" fill="#111"/>
<ellipse cx="510.4" cy="572.6" rx="1.8" ry="0.9" fill="#111"/>
<text x="488.4" y="493.9" font-size="3.4" text-anchor="end" fill="#444" stroke="#444" stroke-width="0.22">10<tspan font-size="2.2" dy="-1.2">5</tspan></text>
<text x="488.4" y="514.7" font-size="3.4" text-anchor="end" fill="#444" stroke="#444" stroke-width="0.22">10<tspan font-size="2.2" dy="-1.2">4</tspan></text>
<text x="488.4" y="537.8" font-size="3.4" text-anchor="end" fill="#444" stroke="#444" stroke-width="0.22">10<tspan font-size="2.2" dy="-1.2">3</tspan></text>
<text x="488.4" y="552.6" font-size="3.4" text-anchor="end" fill="#444" stroke="#444" stroke-width="0.22">0</text>
<text x="488.4" y="566.5" font-size="3.4" text-anchor="end" fill="#444" stroke="#444" stroke-width="0.22">-10<tspan font-size="2.2" dy="-1.2">3</tspan></text>
<text x="498" y="578.9" font-size="3.4" text-anchor="middle" fill="#444" stroke="#444" stroke-width="0.22">-10<tspan font-size="2.2" dy="-1.2">3</tspan></text>
<text x="512" y="578.9" font-size="3.4" text-anchor="middle" fill="#444" stroke="#444" stroke-width="0.22">0</text>
<text x="527.8" y="578.9" font-size="3.4" text-anchor="middle" fill="#444" stroke="#444" stroke-width="0.22">10<tspan font-size="2.2" dy="-1.2">3</tspan></text>
<text x="552.3" y="578.9" font-size="3.4" text-anchor="middle" fill="#444" stroke="#444" stroke-width="0.22">10<tspan font-size="2.2" dy="-1.2">4</tspan></text>
<text x="571.6" y="578.9" font-size="3.4" text-anchor="middle" fill="#444" stroke="#444" stroke-width="0.22">10<tspan font-size="2.2" dy="-1.2">5</tspan></text>
<text x="652" y="479.3" font-size="11" text-anchor="middle" fill="#1a1a1a" stroke="#1a1a1a" stroke-width="0.22">K19<tspan font-size="7" dy="-4">+</tspan></text>
<line x1="621.8" y1="483" x2="684.3" y2="483" stroke="#aaa" stroke-width="1.2"/>
<line x1="684.3" y1="483" x2="684.3" y2="577.3" stroke="#666" stroke-width="0.8"/>
<line x1="621.8" y1="482.6" x2="621.8" y2="577.7" stroke="#444" stroke-width="0.9"/>
<line x1="621.4" y1="577.3" x2="684.3" y2="577.3" stroke="#444" stroke-width="0.9"/>
<line x1="618.4" y1="483" x2="621.8" y2="483" stroke="#444" stroke-width="0.8"/>
<text x="616.3" y="485.8" font-size="9.8" text-anchor="end" fill="#1a1a1a" stroke="#1a1a1a" stroke-width="0.22">100</text>
<line x1="618.4" y1="501.9" x2="621.8" y2="501.9" stroke="#444" stroke-width="0.8"/>
<text x="616.3" y="504.7" font-size="9.8" text-anchor="end" fill="#1a1a1a" stroke="#1a1a1a" stroke-width="0.22">80</text>
<line x1="618.4" y1="520.8" x2="621.8" y2="520.8" stroke="#444" stroke-width="0.8"/>
<text x="616.3" y="523.6" font-size="9.8" text-anchor="end" fill="#1a1a1a" stroke="#1a1a1a" stroke-width="0.22">60</text>
<line x1="618.4" y1="539.6" x2="621.8" y2="539.6" stroke="#444" stroke-width="0.8"/>
<text x="616.3" y="542.4" font-size="9.8" text-anchor="end" fill="#1a1a1a" stroke="#1a1a1a" stroke-width="0.22">40</text>
<line x1="618.4" y1="558.5" x2="621.8" y2="558.5" stroke="#444" stroke-width="0.8"/>
<text x="616.3" y="561.3" font-size="9.8" text-anchor="end" fill="#1a1a1a" stroke="#1a1a1a" stroke-width="0.22">20</text>
<line x1="618.4" y1="577.3" x2="621.8" y2="577.3" stroke="#444" stroke-width="0.8"/>
<text x="616.3" y="580.1" font-size="9.8" text-anchor="end" fill="#1a1a1a" stroke="#1a1a1a" stroke-width="0.22">0</text>
<rect x="637.5" y="499.4" width="31" height="77.9" fill="#fff" stroke="#444" stroke-width="0.8"/>
<line x1="653.2" y1="578" x2="653.2" y2="581" stroke="#444" stroke-width="0.7"/>
<circle cx="638.5" cy="498.3" r="1.15" fill="#111"/>
<circle cx="642" cy="498.6" r="1.15" fill="#111"/>
<circle cx="644.2" cy="496.7" r="1.15" fill="#111"/>
<circle cx="646.5" cy="499" r="1.15" fill="#111"/>
<circle cx="649.5" cy="498.4" r="1.15" fill="#111"/>
<circle cx="652.3" cy="498.9" r="1.15" fill="#111"/>
<circle cx="653.4" cy="497.2" r="1.15" fill="#111"/>
<circle cx="655.5" cy="498.8" r="1.15" fill="#111"/>
<circle cx="658" cy="496.2" r="1.15" fill="#111"/>
<circle cx="660.5" cy="499.5" r="1.15" fill="#111"/>
<circle cx="667.5" cy="497.5" r="1.15" fill="#111"/>
<circle cx="650.4" cy="505" r="1.15" fill="#111"/>
<circle cx="655.3" cy="504.1" r="1.15" fill="#111"/>
<line x1="640" y1="499.4" x2="666" y2="499.4" stroke="#111" stroke-width="0.8"/>
<text x="598.5" y="527.4" font-size="10.3" text-anchor="middle" fill="#1a1a1a" transform="rotate(-90 598.5 527.4)" stroke="#1a1a1a" stroke-width="0.22">% MHCII<tspan font-size="7" dy="-4">Neg</tspan><tspan dy="4"> CD9</tspan><tspan font-size="7" dy="-4">Hi</tspan></text>
</svg>
</body></html>
